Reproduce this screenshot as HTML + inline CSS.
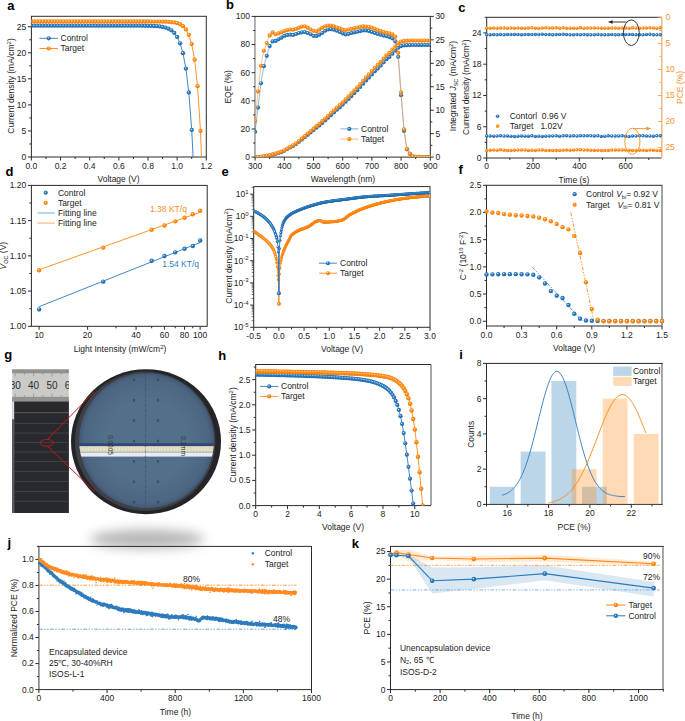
<!DOCTYPE html>
<html><head><meta charset="utf-8"><style>
html,body{margin:0;padding:0;background:#fff;width:685px;height:721px;overflow:hidden}
svg{display:block;font-family:"Liberation Sans", sans-serif}
</style></head><body>
<svg width="685" height="721" viewBox="0 0 685 721">
<rect width="685" height="721" fill="#fff"/>
<defs>
<radialGradient id="gb" cx="0.42" cy="0.4" r="0.62" fx="0.4" fy="0.36"><stop offset="0" stop-color="#f4f8ff"/><stop offset="0.14" stop-color="#9cc4e8"/><stop offset="0.38" stop-color="#2b7cc1"/><stop offset="1" stop-color="#1f66a8"/></radialGradient>
<radialGradient id="go" cx="0.42" cy="0.4" r="0.62" fx="0.4" fy="0.36"><stop offset="0" stop-color="#fff4ea"/><stop offset="0.14" stop-color="#ffc68e"/><stop offset="0.38" stop-color="#ff8a14"/><stop offset="1" stop-color="#f77d00"/></radialGradient>
<filter id="blur6" x="-50%" y="-80%" width="200%" height="260%"><feGaussianBlur stdDeviation="6"/></filter>
<filter id="noise" x="0" y="0" width="100%" height="100%" color-interpolation-filters="sRGB"><feTurbulence type="fractalNoise" baseFrequency="0.9" numOctaves="2" seed="3"/><feColorMatrix type="matrix" values="0 0 0 0 0.33  0 0 0 0 0.45  0 0 0 0 0.54  0 0 0 0.6 0"/><feComposite in2="SourceGraphic" operator="in"/></filter>
</defs>
<text x="7.2" y="9.8" font-size="13.0" text-anchor="start" fill="#000" font-weight="bold">a</text>
<rect x="31.4" y="16.3" width="174.9" height="140.7" fill="none" stroke="#2b2b2b" stroke-width="1"/>
<line x1="31.4" y1="157" x2="31.4" y2="160.5" stroke="#2b2b2b" stroke-width="1"/>
<text x="31.4" y="168.9" font-size="8.5" text-anchor="middle" fill="#222" font-weight="normal">0.0</text>
<line x1="60.55" y1="157" x2="60.55" y2="160.5" stroke="#2b2b2b" stroke-width="1"/>
<text x="60.55" y="168.9" font-size="8.5" text-anchor="middle" fill="#222" font-weight="normal">0.2</text>
<line x1="89.7" y1="157" x2="89.7" y2="160.5" stroke="#2b2b2b" stroke-width="1"/>
<text x="89.7" y="168.9" font-size="8.5" text-anchor="middle" fill="#222" font-weight="normal">0.4</text>
<line x1="118.85" y1="157" x2="118.85" y2="160.5" stroke="#2b2b2b" stroke-width="1"/>
<text x="118.85" y="168.9" font-size="8.5" text-anchor="middle" fill="#222" font-weight="normal">0.6</text>
<line x1="148" y1="157" x2="148" y2="160.5" stroke="#2b2b2b" stroke-width="1"/>
<text x="148" y="168.9" font-size="8.5" text-anchor="middle" fill="#222" font-weight="normal">0.8</text>
<line x1="177.15" y1="157" x2="177.15" y2="160.5" stroke="#2b2b2b" stroke-width="1"/>
<text x="177.15" y="168.9" font-size="8.5" text-anchor="middle" fill="#222" font-weight="normal">1.0</text>
<line x1="206.3" y1="157" x2="206.3" y2="160.5" stroke="#2b2b2b" stroke-width="1"/>
<text x="206.3" y="168.9" font-size="8.5" text-anchor="middle" fill="#222" font-weight="normal">1.2</text>
<line x1="45.98" y1="157" x2="45.98" y2="159" stroke="#2b2b2b" stroke-width="1"/>
<line x1="75.12" y1="157" x2="75.12" y2="159" stroke="#2b2b2b" stroke-width="1"/>
<line x1="104.28" y1="157" x2="104.28" y2="159" stroke="#2b2b2b" stroke-width="1"/>
<line x1="133.43" y1="157" x2="133.43" y2="159" stroke="#2b2b2b" stroke-width="1"/>
<line x1="162.58" y1="157" x2="162.58" y2="159" stroke="#2b2b2b" stroke-width="1"/>
<line x1="191.73" y1="157" x2="191.73" y2="159" stroke="#2b2b2b" stroke-width="1"/>
<line x1="31.4" y1="157" x2="27.9" y2="157" stroke="#2b2b2b" stroke-width="1"/>
<text x="26.3" y="159.9" font-size="8.5" text-anchor="end" fill="#222" font-weight="normal">0</text>
<line x1="31.4" y1="130.94" x2="27.9" y2="130.94" stroke="#2b2b2b" stroke-width="1"/>
<text x="26.3" y="133.84" font-size="8.5" text-anchor="end" fill="#222" font-weight="normal">5</text>
<line x1="31.4" y1="104.89" x2="27.9" y2="104.89" stroke="#2b2b2b" stroke-width="1"/>
<text x="26.3" y="107.79" font-size="8.5" text-anchor="end" fill="#222" font-weight="normal">10</text>
<line x1="31.4" y1="78.83" x2="27.9" y2="78.83" stroke="#2b2b2b" stroke-width="1"/>
<text x="26.3" y="81.73" font-size="8.5" text-anchor="end" fill="#222" font-weight="normal">15</text>
<line x1="31.4" y1="52.78" x2="27.9" y2="52.78" stroke="#2b2b2b" stroke-width="1"/>
<text x="26.3" y="55.68" font-size="8.5" text-anchor="end" fill="#222" font-weight="normal">20</text>
<line x1="31.4" y1="26.72" x2="27.9" y2="26.72" stroke="#2b2b2b" stroke-width="1"/>
<text x="26.3" y="29.62" font-size="8.5" text-anchor="end" fill="#222" font-weight="normal">25</text>
<line x1="31.4" y1="143.97" x2="29.4" y2="143.97" stroke="#2b2b2b" stroke-width="1"/>
<line x1="31.4" y1="117.92" x2="29.4" y2="117.92" stroke="#2b2b2b" stroke-width="1"/>
<line x1="31.4" y1="91.86" x2="29.4" y2="91.86" stroke="#2b2b2b" stroke-width="1"/>
<line x1="31.4" y1="65.81" x2="29.4" y2="65.81" stroke="#2b2b2b" stroke-width="1"/>
<line x1="31.4" y1="39.75" x2="29.4" y2="39.75" stroke="#2b2b2b" stroke-width="1"/>
<text x="118.5" y="181.8" font-size="8.5" text-anchor="middle" fill="#222" font-weight="normal">Voltage (V)</text>
<text x="14.3" y="86" font-size="8.5" text-anchor="middle" fill="#222" font-weight="normal" transform="rotate(-90 14.3 86)">Current density (mA/cm<tspan dy="-3.4" font-size="6">2</tspan><tspan dy="3.4">)</tspan></text>
<clipPath id="ca"><rect x="31.4" y="16.3" width="174.9" height="140.7"/></clipPath>
<g clip-path="url(#ca)">
<polyline points="31.4,25.68 34.31,25.68 37.23,25.68 40.14,25.68 43.06,25.68 45.98,25.68 48.89,25.68 51.81,25.68 54.72,25.68 57.63,25.68 60.55,25.68 63.47,25.68 66.38,25.68 69.3,25.68 72.21,25.68 75.12,25.68 78.04,25.68 80.96,25.68 83.87,25.68 86.79,25.68 89.7,25.68 92.61,25.68 95.53,25.68 98.44,25.68 101.36,25.68 104.28,25.68 107.19,25.68 110.11,25.68 113.02,25.68 115.94,25.68 118.85,25.68 121.77,25.68 124.68,25.68 127.59,25.69 130.51,25.69 133.43,25.69 136.34,25.7 139.25,25.71 142.17,25.73 145.09,25.77 148,25.81 150.92,25.89 153.83,26 156.75,26.18 159.66,26.46 162.58,26.9 165.49,27.59 168.41,28.66 171.32,30.32 174.24,32.92 177.15,36.97 180.07,43.29 182.98,53.15 185.9,68.53 188.81,92.51 191.73,129.9 194.64,188.23 197.56,279.19 200.47,421.06 203.38,642.33 206.3,987.42" fill="none" stroke="#2a7abf" stroke-width="0.9" stroke-linejoin="round"/>
<circle cx="31.4" cy="25.68" r="2.15" fill="url(#gb)"/>
<circle cx="34.31" cy="25.68" r="2.15" fill="url(#gb)"/>
<circle cx="37.23" cy="25.68" r="2.15" fill="url(#gb)"/>
<circle cx="40.14" cy="25.68" r="2.15" fill="url(#gb)"/>
<circle cx="43.06" cy="25.68" r="2.15" fill="url(#gb)"/>
<circle cx="45.98" cy="25.68" r="2.15" fill="url(#gb)"/>
<circle cx="48.89" cy="25.68" r="2.15" fill="url(#gb)"/>
<circle cx="51.81" cy="25.68" r="2.15" fill="url(#gb)"/>
<circle cx="54.72" cy="25.68" r="2.15" fill="url(#gb)"/>
<circle cx="57.63" cy="25.68" r="2.15" fill="url(#gb)"/>
<circle cx="60.55" cy="25.68" r="2.15" fill="url(#gb)"/>
<circle cx="63.47" cy="25.68" r="2.15" fill="url(#gb)"/>
<circle cx="66.38" cy="25.68" r="2.15" fill="url(#gb)"/>
<circle cx="69.3" cy="25.68" r="2.15" fill="url(#gb)"/>
<circle cx="72.21" cy="25.68" r="2.15" fill="url(#gb)"/>
<circle cx="75.12" cy="25.68" r="2.15" fill="url(#gb)"/>
<circle cx="78.04" cy="25.68" r="2.15" fill="url(#gb)"/>
<circle cx="80.96" cy="25.68" r="2.15" fill="url(#gb)"/>
<circle cx="83.87" cy="25.68" r="2.15" fill="url(#gb)"/>
<circle cx="86.79" cy="25.68" r="2.15" fill="url(#gb)"/>
<circle cx="89.7" cy="25.68" r="2.15" fill="url(#gb)"/>
<circle cx="92.61" cy="25.68" r="2.15" fill="url(#gb)"/>
<circle cx="95.53" cy="25.68" r="2.15" fill="url(#gb)"/>
<circle cx="98.44" cy="25.68" r="2.15" fill="url(#gb)"/>
<circle cx="101.36" cy="25.68" r="2.15" fill="url(#gb)"/>
<circle cx="104.28" cy="25.68" r="2.15" fill="url(#gb)"/>
<circle cx="107.19" cy="25.68" r="2.15" fill="url(#gb)"/>
<circle cx="110.11" cy="25.68" r="2.15" fill="url(#gb)"/>
<circle cx="113.02" cy="25.68" r="2.15" fill="url(#gb)"/>
<circle cx="115.94" cy="25.68" r="2.15" fill="url(#gb)"/>
<circle cx="118.85" cy="25.68" r="2.15" fill="url(#gb)"/>
<circle cx="121.77" cy="25.68" r="2.15" fill="url(#gb)"/>
<circle cx="124.68" cy="25.68" r="2.15" fill="url(#gb)"/>
<circle cx="127.59" cy="25.69" r="2.15" fill="url(#gb)"/>
<circle cx="130.51" cy="25.69" r="2.15" fill="url(#gb)"/>
<circle cx="133.43" cy="25.69" r="2.15" fill="url(#gb)"/>
<circle cx="136.34" cy="25.7" r="2.15" fill="url(#gb)"/>
<circle cx="139.25" cy="25.71" r="2.15" fill="url(#gb)"/>
<circle cx="142.17" cy="25.73" r="2.15" fill="url(#gb)"/>
<circle cx="145.09" cy="25.77" r="2.15" fill="url(#gb)"/>
<circle cx="148" cy="25.81" r="2.15" fill="url(#gb)"/>
<circle cx="150.92" cy="25.89" r="2.15" fill="url(#gb)"/>
<circle cx="153.83" cy="26" r="2.15" fill="url(#gb)"/>
<circle cx="156.75" cy="26.18" r="2.15" fill="url(#gb)"/>
<circle cx="159.66" cy="26.46" r="2.15" fill="url(#gb)"/>
<circle cx="162.58" cy="26.9" r="2.15" fill="url(#gb)"/>
<circle cx="165.49" cy="27.59" r="2.15" fill="url(#gb)"/>
<circle cx="168.41" cy="28.66" r="2.15" fill="url(#gb)"/>
<circle cx="171.32" cy="30.32" r="2.15" fill="url(#gb)"/>
<circle cx="174.24" cy="32.92" r="2.15" fill="url(#gb)"/>
<circle cx="177.15" cy="36.97" r="2.15" fill="url(#gb)"/>
<circle cx="180.07" cy="43.29" r="2.15" fill="url(#gb)"/>
<circle cx="182.98" cy="53.15" r="2.15" fill="url(#gb)"/>
<circle cx="185.9" cy="68.53" r="2.15" fill="url(#gb)"/>
<circle cx="188.81" cy="92.51" r="2.15" fill="url(#gb)"/>
<circle cx="191.73" cy="129.9" r="2.15" fill="url(#gb)"/>
</g>
<g clip-path="url(#ca)">
<polyline points="31.4,21.51 34.31,21.51 37.23,21.51 40.14,21.51 43.06,21.51 45.98,21.51 48.89,21.51 51.81,21.51 54.72,21.51 57.63,21.51 60.55,21.51 63.47,21.51 66.38,21.51 69.3,21.51 72.21,21.51 75.12,21.51 78.04,21.51 80.96,21.51 83.87,21.51 86.79,21.51 89.7,21.51 92.61,21.51 95.53,21.51 98.44,21.51 101.36,21.51 104.28,21.51 107.19,21.51 110.11,21.51 113.02,21.51 115.94,21.51 118.85,21.51 121.77,21.51 124.68,21.51 127.59,21.51 130.51,21.51 133.43,21.51 136.34,21.51 139.25,21.51 142.17,21.51 145.09,21.52 148,21.52 150.92,21.53 153.83,21.54 156.75,21.55 159.66,21.58 162.58,21.63 165.49,21.71 168.41,21.85 171.32,22.08 174.24,22.47 177.15,23.13 180.07,24.26 182.98,26.16 185.9,29.39 188.81,34.84 191.73,44.08 194.64,59.71 197.56,86.16 200.47,130.94 203.38,206.75 206.3,335.06" fill="none" stroke="#ff8412" stroke-width="0.9" stroke-linejoin="round"/>
<circle cx="31.4" cy="21.51" r="2.15" fill="url(#go)"/>
<circle cx="34.31" cy="21.51" r="2.15" fill="url(#go)"/>
<circle cx="37.23" cy="21.51" r="2.15" fill="url(#go)"/>
<circle cx="40.14" cy="21.51" r="2.15" fill="url(#go)"/>
<circle cx="43.06" cy="21.51" r="2.15" fill="url(#go)"/>
<circle cx="45.98" cy="21.51" r="2.15" fill="url(#go)"/>
<circle cx="48.89" cy="21.51" r="2.15" fill="url(#go)"/>
<circle cx="51.81" cy="21.51" r="2.15" fill="url(#go)"/>
<circle cx="54.72" cy="21.51" r="2.15" fill="url(#go)"/>
<circle cx="57.63" cy="21.51" r="2.15" fill="url(#go)"/>
<circle cx="60.55" cy="21.51" r="2.15" fill="url(#go)"/>
<circle cx="63.47" cy="21.51" r="2.15" fill="url(#go)"/>
<circle cx="66.38" cy="21.51" r="2.15" fill="url(#go)"/>
<circle cx="69.3" cy="21.51" r="2.15" fill="url(#go)"/>
<circle cx="72.21" cy="21.51" r="2.15" fill="url(#go)"/>
<circle cx="75.12" cy="21.51" r="2.15" fill="url(#go)"/>
<circle cx="78.04" cy="21.51" r="2.15" fill="url(#go)"/>
<circle cx="80.96" cy="21.51" r="2.15" fill="url(#go)"/>
<circle cx="83.87" cy="21.51" r="2.15" fill="url(#go)"/>
<circle cx="86.79" cy="21.51" r="2.15" fill="url(#go)"/>
<circle cx="89.7" cy="21.51" r="2.15" fill="url(#go)"/>
<circle cx="92.61" cy="21.51" r="2.15" fill="url(#go)"/>
<circle cx="95.53" cy="21.51" r="2.15" fill="url(#go)"/>
<circle cx="98.44" cy="21.51" r="2.15" fill="url(#go)"/>
<circle cx="101.36" cy="21.51" r="2.15" fill="url(#go)"/>
<circle cx="104.28" cy="21.51" r="2.15" fill="url(#go)"/>
<circle cx="107.19" cy="21.51" r="2.15" fill="url(#go)"/>
<circle cx="110.11" cy="21.51" r="2.15" fill="url(#go)"/>
<circle cx="113.02" cy="21.51" r="2.15" fill="url(#go)"/>
<circle cx="115.94" cy="21.51" r="2.15" fill="url(#go)"/>
<circle cx="118.85" cy="21.51" r="2.15" fill="url(#go)"/>
<circle cx="121.77" cy="21.51" r="2.15" fill="url(#go)"/>
<circle cx="124.68" cy="21.51" r="2.15" fill="url(#go)"/>
<circle cx="127.59" cy="21.51" r="2.15" fill="url(#go)"/>
<circle cx="130.51" cy="21.51" r="2.15" fill="url(#go)"/>
<circle cx="133.43" cy="21.51" r="2.15" fill="url(#go)"/>
<circle cx="136.34" cy="21.51" r="2.15" fill="url(#go)"/>
<circle cx="139.25" cy="21.51" r="2.15" fill="url(#go)"/>
<circle cx="142.17" cy="21.51" r="2.15" fill="url(#go)"/>
<circle cx="145.09" cy="21.52" r="2.15" fill="url(#go)"/>
<circle cx="148" cy="21.52" r="2.15" fill="url(#go)"/>
<circle cx="150.92" cy="21.53" r="2.15" fill="url(#go)"/>
<circle cx="153.83" cy="21.54" r="2.15" fill="url(#go)"/>
<circle cx="156.75" cy="21.55" r="2.15" fill="url(#go)"/>
<circle cx="159.66" cy="21.58" r="2.15" fill="url(#go)"/>
<circle cx="162.58" cy="21.63" r="2.15" fill="url(#go)"/>
<circle cx="165.49" cy="21.71" r="2.15" fill="url(#go)"/>
<circle cx="168.41" cy="21.85" r="2.15" fill="url(#go)"/>
<circle cx="171.32" cy="22.08" r="2.15" fill="url(#go)"/>
<circle cx="174.24" cy="22.47" r="2.15" fill="url(#go)"/>
<circle cx="177.15" cy="23.13" r="2.15" fill="url(#go)"/>
<circle cx="180.07" cy="24.26" r="2.15" fill="url(#go)"/>
<circle cx="182.98" cy="26.16" r="2.15" fill="url(#go)"/>
<circle cx="185.9" cy="29.39" r="2.15" fill="url(#go)"/>
<circle cx="188.81" cy="34.84" r="2.15" fill="url(#go)"/>
<circle cx="191.73" cy="44.08" r="2.15" fill="url(#go)"/>
<circle cx="194.64" cy="59.71" r="2.15" fill="url(#go)"/>
<circle cx="197.56" cy="86.16" r="2.15" fill="url(#go)"/>
<circle cx="200.47" cy="130.94" r="2.15" fill="url(#go)"/>
</g>
<line x1="39.5" y1="38.3" x2="58" y2="38.3" stroke="#2a7abf" stroke-width="0.9"/>
<circle cx="48.7" cy="38.3" r="2.1" fill="url(#gb)"/>
<text x="60.5" y="41.2" font-size="8.5" text-anchor="start" fill="#222" font-weight="normal">Control</text>
<line x1="39.5" y1="48.5" x2="58" y2="48.5" stroke="#ff8412" stroke-width="0.9"/>
<circle cx="48.7" cy="48.5" r="2.1" fill="url(#go)"/>
<text x="60.5" y="51.4" font-size="8.5" text-anchor="start" fill="#222" font-weight="normal">Target</text>
<text x="226" y="8.9" font-size="13.0" text-anchor="start" fill="#000" font-weight="bold">b</text>
<rect x="255.1" y="16.4" width="175.2" height="140.7" fill="none" stroke="#2b2b2b" stroke-width="1"/>
<line x1="255.1" y1="17" x2="255.1" y2="156.5" stroke="#ffffff" stroke-width="1.2"/>
<line x1="254.9" y1="16.9" x2="254.9" y2="156.6" stroke="#aaaaaa" stroke-width="1.7"/>
<line x1="255.1" y1="157.1" x2="255.1" y2="160.6" stroke="#2b2b2b" stroke-width="1"/>
<text x="255.1" y="169" font-size="8.5" text-anchor="middle" fill="#222" font-weight="normal">300</text>
<line x1="284.3" y1="157.1" x2="284.3" y2="160.6" stroke="#2b2b2b" stroke-width="1"/>
<text x="284.3" y="169" font-size="8.5" text-anchor="middle" fill="#222" font-weight="normal">400</text>
<line x1="313.5" y1="157.1" x2="313.5" y2="160.6" stroke="#2b2b2b" stroke-width="1"/>
<text x="313.5" y="169" font-size="8.5" text-anchor="middle" fill="#222" font-weight="normal">500</text>
<line x1="342.7" y1="157.1" x2="342.7" y2="160.6" stroke="#2b2b2b" stroke-width="1"/>
<text x="342.7" y="169" font-size="8.5" text-anchor="middle" fill="#222" font-weight="normal">600</text>
<line x1="371.9" y1="157.1" x2="371.9" y2="160.6" stroke="#2b2b2b" stroke-width="1"/>
<text x="371.9" y="169" font-size="8.5" text-anchor="middle" fill="#222" font-weight="normal">700</text>
<line x1="401.1" y1="157.1" x2="401.1" y2="160.6" stroke="#2b2b2b" stroke-width="1"/>
<text x="401.1" y="169" font-size="8.5" text-anchor="middle" fill="#222" font-weight="normal">800</text>
<line x1="430.3" y1="157.1" x2="430.3" y2="160.6" stroke="#2b2b2b" stroke-width="1"/>
<text x="430.3" y="169" font-size="8.5" text-anchor="middle" fill="#222" font-weight="normal">900</text>
<line x1="269.7" y1="157.1" x2="269.7" y2="159.1" stroke="#2b2b2b" stroke-width="1"/>
<line x1="298.9" y1="157.1" x2="298.9" y2="159.1" stroke="#2b2b2b" stroke-width="1"/>
<line x1="328.1" y1="157.1" x2="328.1" y2="159.1" stroke="#2b2b2b" stroke-width="1"/>
<line x1="357.3" y1="157.1" x2="357.3" y2="159.1" stroke="#2b2b2b" stroke-width="1"/>
<line x1="386.5" y1="157.1" x2="386.5" y2="159.1" stroke="#2b2b2b" stroke-width="1"/>
<line x1="415.7" y1="157.1" x2="415.7" y2="159.1" stroke="#2b2b2b" stroke-width="1"/>
<line x1="255.1" y1="157.1" x2="251.6" y2="157.1" stroke="#2b2b2b" stroke-width="1"/>
<text x="250" y="160" font-size="8.5" text-anchor="end" fill="#222" font-weight="normal">0</text>
<line x1="255.1" y1="128.96" x2="251.6" y2="128.96" stroke="#2b2b2b" stroke-width="1"/>
<text x="250" y="131.86" font-size="8.5" text-anchor="end" fill="#222" font-weight="normal">20</text>
<line x1="255.1" y1="100.82" x2="251.6" y2="100.82" stroke="#2b2b2b" stroke-width="1"/>
<text x="250" y="103.72" font-size="8.5" text-anchor="end" fill="#222" font-weight="normal">40</text>
<line x1="255.1" y1="72.68" x2="251.6" y2="72.68" stroke="#2b2b2b" stroke-width="1"/>
<text x="250" y="75.58" font-size="8.5" text-anchor="end" fill="#222" font-weight="normal">60</text>
<line x1="255.1" y1="44.54" x2="251.6" y2="44.54" stroke="#2b2b2b" stroke-width="1"/>
<text x="250" y="47.44" font-size="8.5" text-anchor="end" fill="#222" font-weight="normal">80</text>
<line x1="255.1" y1="16.4" x2="251.6" y2="16.4" stroke="#2b2b2b" stroke-width="1"/>
<text x="250" y="19.3" font-size="8.5" text-anchor="end" fill="#222" font-weight="normal">100</text>
<line x1="255.1" y1="143.03" x2="253.1" y2="143.03" stroke="#2b2b2b" stroke-width="1"/>
<line x1="255.1" y1="114.89" x2="253.1" y2="114.89" stroke="#2b2b2b" stroke-width="1"/>
<line x1="255.1" y1="86.75" x2="253.1" y2="86.75" stroke="#2b2b2b" stroke-width="1"/>
<line x1="255.1" y1="58.61" x2="253.1" y2="58.61" stroke="#2b2b2b" stroke-width="1"/>
<line x1="255.1" y1="30.47" x2="253.1" y2="30.47" stroke="#2b2b2b" stroke-width="1"/>
<line x1="430.3" y1="157.1" x2="433.8" y2="157.1" stroke="#2b2b2b" stroke-width="1"/>
<text x="435.4" y="160" font-size="8.5" text-anchor="start" fill="#222" font-weight="normal">0</text>
<line x1="430.3" y1="133.65" x2="433.8" y2="133.65" stroke="#2b2b2b" stroke-width="1"/>
<text x="435.4" y="136.55" font-size="8.5" text-anchor="start" fill="#222" font-weight="normal">5</text>
<line x1="430.3" y1="110.2" x2="433.8" y2="110.2" stroke="#2b2b2b" stroke-width="1"/>
<text x="435.4" y="113.1" font-size="8.5" text-anchor="start" fill="#222" font-weight="normal">10</text>
<line x1="430.3" y1="86.75" x2="433.8" y2="86.75" stroke="#2b2b2b" stroke-width="1"/>
<text x="435.4" y="89.65" font-size="8.5" text-anchor="start" fill="#222" font-weight="normal">15</text>
<line x1="430.3" y1="63.3" x2="433.8" y2="63.3" stroke="#2b2b2b" stroke-width="1"/>
<text x="435.4" y="66.2" font-size="8.5" text-anchor="start" fill="#222" font-weight="normal">20</text>
<line x1="430.3" y1="39.85" x2="433.8" y2="39.85" stroke="#2b2b2b" stroke-width="1"/>
<text x="435.4" y="42.75" font-size="8.5" text-anchor="start" fill="#222" font-weight="normal">25</text>
<line x1="430.3" y1="16.4" x2="433.8" y2="16.4" stroke="#2b2b2b" stroke-width="1"/>
<text x="435.4" y="19.3" font-size="8.5" text-anchor="start" fill="#222" font-weight="normal">30</text>
<line x1="430.3" y1="145.38" x2="432.3" y2="145.38" stroke="#2b2b2b" stroke-width="1"/>
<line x1="430.3" y1="121.92" x2="432.3" y2="121.92" stroke="#2b2b2b" stroke-width="1"/>
<line x1="430.3" y1="98.47" x2="432.3" y2="98.47" stroke="#2b2b2b" stroke-width="1"/>
<line x1="430.3" y1="75.02" x2="432.3" y2="75.02" stroke="#2b2b2b" stroke-width="1"/>
<line x1="430.3" y1="51.58" x2="432.3" y2="51.58" stroke="#2b2b2b" stroke-width="1"/>
<line x1="430.3" y1="28.12" x2="432.3" y2="28.12" stroke="#2b2b2b" stroke-width="1"/>
<text x="343" y="181.8" font-size="8.5" text-anchor="middle" fill="#222" font-weight="normal">Wavelength (nm)</text>
<text x="231.2" y="86.8" font-size="8.5" text-anchor="middle" fill="#222" font-weight="normal" transform="rotate(-90 231.2 86.8)">EQE (%)</text>
<text x="456" y="86" font-size="8.5" text-anchor="middle" fill="#222" font-weight="normal" transform="rotate(-90 456 86)">Integrated <tspan font-style="italic">J</tspan><tspan font-size="5.5" dy="1.5">SC</tspan><tspan dy="-1.5"> (mA/cm</tspan><tspan dy="-3.4" font-size="6">2</tspan><tspan dy="3.4">)</tspan></text>
<clipPath id="cb"><rect x="255.1" y="16.4" width="175.2" height="140.7"/></clipPath>
<g clip-path="url(#cb)">
<polyline points="255.1,131.77 258.02,107.57 260.94,83.23 263.86,66.21 266.78,55.8 269.7,46.09 272.62,41.3 275.54,40.88 278.46,39.33 281.38,37.65 284.3,35.96 287.22,34.97 290.14,34.69 293.06,34.97 295.98,33.99 298.9,33 301.82,32.3 304.74,32.02 307.66,33 310.58,34.27 313.5,35.82 316.42,35.96 319.34,34.69 322.26,33 325.18,30.75 328.1,29.49 331.02,29.2 333.94,29.77 336.86,30.75 339.78,32.02 342.7,33.42 345.62,34.41 348.54,33.85 351.46,33 354.38,32.3 357.3,31.74 360.22,31.03 363.14,30.47 366.06,30.47 368.98,31.03 371.9,32.02 374.82,33 377.74,33.99 380.66,34.69 383.58,35.54 386.5,36.24 389.42,37.08 392.34,38.35 395.26,41.3 398.18,56.78 401.1,95.19 404.02,130.93 406.94,149.36 409.86,153.86 412.78,156.4 415.7,156.82 418.62,156.96 421.54,157.03 424.46,157.1 427.38,157.1 430.3,157.1" fill="none" stroke="#3d8fd1" stroke-width="0.6" stroke-linejoin="round"/>
<polyline points="255.1,157.1 258.02,157.06 260.94,156.88 263.86,156.44 266.78,155.93 269.7,155.34 272.62,154.66 275.54,153.84 278.46,153.02 281.38,152.14 284.3,150.77 287.22,149.12 290.14,147.45 293.06,145.95 295.98,144.1 298.9,141.87 301.82,139.55 304.74,137.24 307.66,134.79 310.58,132.5 313.5,130.11 316.42,127.71 319.34,125.42 322.26,122.88 325.18,120.33 328.1,117.69 331.02,115.08 333.94,112.44 336.86,109.75 339.78,107.31 342.7,104.55 345.62,101.74 348.54,98.89 351.46,96.07 354.38,93.1 357.3,90.13 360.22,87 363.14,83.74 366.06,80.45 368.98,77.54 371.9,74.46 374.82,71.28 377.74,68.53 380.66,65.6 383.58,62.37 386.5,59.13 389.42,56.9 392.34,53.77 395.26,50.57 398.18,47.78 401.1,46.07 404.02,45.34 406.94,45.13 409.86,45.04 412.78,45.02 415.7,45.01 418.62,45.01 421.54,45.01 424.46,45.01 427.38,45.01 430.3,45.01" fill="none" stroke="#3d8fd1" stroke-width="0.6" stroke-linejoin="round"/>
<circle cx="255.1" cy="131.77" r="2.1" fill="url(#gb)"/>
<circle cx="258.02" cy="107.57" r="2.1" fill="url(#gb)"/>
<circle cx="260.94" cy="83.23" r="2.1" fill="url(#gb)"/>
<circle cx="263.86" cy="66.21" r="2.1" fill="url(#gb)"/>
<circle cx="266.78" cy="55.8" r="2.1" fill="url(#gb)"/>
<circle cx="269.7" cy="46.09" r="2.1" fill="url(#gb)"/>
<circle cx="272.62" cy="41.3" r="2.1" fill="url(#gb)"/>
<circle cx="275.54" cy="40.88" r="2.1" fill="url(#gb)"/>
<circle cx="278.46" cy="39.33" r="2.1" fill="url(#gb)"/>
<circle cx="281.38" cy="37.65" r="2.1" fill="url(#gb)"/>
<circle cx="284.3" cy="35.96" r="2.1" fill="url(#gb)"/>
<circle cx="287.22" cy="34.97" r="2.1" fill="url(#gb)"/>
<circle cx="290.14" cy="34.69" r="2.1" fill="url(#gb)"/>
<circle cx="293.06" cy="34.97" r="2.1" fill="url(#gb)"/>
<circle cx="295.98" cy="33.99" r="2.1" fill="url(#gb)"/>
<circle cx="298.9" cy="33" r="2.1" fill="url(#gb)"/>
<circle cx="301.82" cy="32.3" r="2.1" fill="url(#gb)"/>
<circle cx="304.74" cy="32.02" r="2.1" fill="url(#gb)"/>
<circle cx="307.66" cy="33" r="2.1" fill="url(#gb)"/>
<circle cx="310.58" cy="34.27" r="2.1" fill="url(#gb)"/>
<circle cx="313.5" cy="35.82" r="2.1" fill="url(#gb)"/>
<circle cx="316.42" cy="35.96" r="2.1" fill="url(#gb)"/>
<circle cx="319.34" cy="34.69" r="2.1" fill="url(#gb)"/>
<circle cx="322.26" cy="33" r="2.1" fill="url(#gb)"/>
<circle cx="325.18" cy="30.75" r="2.1" fill="url(#gb)"/>
<circle cx="328.1" cy="29.49" r="2.1" fill="url(#gb)"/>
<circle cx="331.02" cy="29.2" r="2.1" fill="url(#gb)"/>
<circle cx="333.94" cy="29.77" r="2.1" fill="url(#gb)"/>
<circle cx="336.86" cy="30.75" r="2.1" fill="url(#gb)"/>
<circle cx="339.78" cy="32.02" r="2.1" fill="url(#gb)"/>
<circle cx="342.7" cy="33.42" r="2.1" fill="url(#gb)"/>
<circle cx="345.62" cy="34.41" r="2.1" fill="url(#gb)"/>
<circle cx="348.54" cy="33.85" r="2.1" fill="url(#gb)"/>
<circle cx="351.46" cy="33" r="2.1" fill="url(#gb)"/>
<circle cx="354.38" cy="32.3" r="2.1" fill="url(#gb)"/>
<circle cx="357.3" cy="31.74" r="2.1" fill="url(#gb)"/>
<circle cx="360.22" cy="31.03" r="2.1" fill="url(#gb)"/>
<circle cx="363.14" cy="30.47" r="2.1" fill="url(#gb)"/>
<circle cx="366.06" cy="30.47" r="2.1" fill="url(#gb)"/>
<circle cx="368.98" cy="31.03" r="2.1" fill="url(#gb)"/>
<circle cx="371.9" cy="32.02" r="2.1" fill="url(#gb)"/>
<circle cx="374.82" cy="33" r="2.1" fill="url(#gb)"/>
<circle cx="377.74" cy="33.99" r="2.1" fill="url(#gb)"/>
<circle cx="380.66" cy="34.69" r="2.1" fill="url(#gb)"/>
<circle cx="383.58" cy="35.54" r="2.1" fill="url(#gb)"/>
<circle cx="386.5" cy="36.24" r="2.1" fill="url(#gb)"/>
<circle cx="389.42" cy="37.08" r="2.1" fill="url(#gb)"/>
<circle cx="392.34" cy="38.35" r="2.1" fill="url(#gb)"/>
<circle cx="395.26" cy="41.3" r="2.1" fill="url(#gb)"/>
<circle cx="398.18" cy="56.78" r="2.1" fill="url(#gb)"/>
<circle cx="401.1" cy="95.19" r="2.1" fill="url(#gb)"/>
<circle cx="404.02" cy="130.93" r="2.1" fill="url(#gb)"/>
<circle cx="406.94" cy="149.36" r="2.1" fill="url(#gb)"/>
<circle cx="409.86" cy="153.86" r="2.1" fill="url(#gb)"/>
<circle cx="412.78" cy="156.4" r="2.1" fill="url(#gb)"/>
<circle cx="415.7" cy="156.82" r="2.1" fill="url(#gb)"/>
<circle cx="418.62" cy="156.96" r="2.1" fill="url(#gb)"/>
<circle cx="421.54" cy="157.03" r="2.1" fill="url(#gb)"/>
<circle cx="424.46" cy="157.1" r="2.1" fill="url(#gb)"/>
<circle cx="427.38" cy="157.1" r="2.1" fill="url(#gb)"/>
<circle cx="430.3" cy="157.1" r="2.1" fill="url(#gb)"/>
<circle cx="255.1" cy="157.1" r="2.1" fill="url(#gb)"/>
<circle cx="258.02" cy="157.06" r="2.1" fill="url(#gb)"/>
<circle cx="260.94" cy="156.88" r="2.1" fill="url(#gb)"/>
<circle cx="263.86" cy="156.44" r="2.1" fill="url(#gb)"/>
<circle cx="266.78" cy="155.93" r="2.1" fill="url(#gb)"/>
<circle cx="269.7" cy="155.34" r="2.1" fill="url(#gb)"/>
<circle cx="272.62" cy="154.66" r="2.1" fill="url(#gb)"/>
<circle cx="275.54" cy="153.84" r="2.1" fill="url(#gb)"/>
<circle cx="278.46" cy="153.02" r="2.1" fill="url(#gb)"/>
<circle cx="281.38" cy="152.14" r="2.1" fill="url(#gb)"/>
<circle cx="284.3" cy="150.77" r="2.1" fill="url(#gb)"/>
<circle cx="287.22" cy="149.12" r="2.1" fill="url(#gb)"/>
<circle cx="290.14" cy="147.45" r="2.1" fill="url(#gb)"/>
<circle cx="293.06" cy="145.95" r="2.1" fill="url(#gb)"/>
<circle cx="295.98" cy="144.1" r="2.1" fill="url(#gb)"/>
<circle cx="298.9" cy="141.87" r="2.1" fill="url(#gb)"/>
<circle cx="301.82" cy="139.55" r="2.1" fill="url(#gb)"/>
<circle cx="304.74" cy="137.24" r="2.1" fill="url(#gb)"/>
<circle cx="307.66" cy="134.79" r="2.1" fill="url(#gb)"/>
<circle cx="310.58" cy="132.5" r="2.1" fill="url(#gb)"/>
<circle cx="313.5" cy="130.11" r="2.1" fill="url(#gb)"/>
<circle cx="316.42" cy="127.71" r="2.1" fill="url(#gb)"/>
<circle cx="319.34" cy="125.42" r="2.1" fill="url(#gb)"/>
<circle cx="322.26" cy="122.88" r="2.1" fill="url(#gb)"/>
<circle cx="325.18" cy="120.33" r="2.1" fill="url(#gb)"/>
<circle cx="328.1" cy="117.69" r="2.1" fill="url(#gb)"/>
<circle cx="331.02" cy="115.08" r="2.1" fill="url(#gb)"/>
<circle cx="333.94" cy="112.44" r="2.1" fill="url(#gb)"/>
<circle cx="336.86" cy="109.75" r="2.1" fill="url(#gb)"/>
<circle cx="339.78" cy="107.31" r="2.1" fill="url(#gb)"/>
<circle cx="342.7" cy="104.55" r="2.1" fill="url(#gb)"/>
<circle cx="345.62" cy="101.74" r="2.1" fill="url(#gb)"/>
<circle cx="348.54" cy="98.89" r="2.1" fill="url(#gb)"/>
<circle cx="351.46" cy="96.07" r="2.1" fill="url(#gb)"/>
<circle cx="354.38" cy="93.1" r="2.1" fill="url(#gb)"/>
<circle cx="357.3" cy="90.13" r="2.1" fill="url(#gb)"/>
<circle cx="360.22" cy="87" r="2.1" fill="url(#gb)"/>
<circle cx="363.14" cy="83.74" r="2.1" fill="url(#gb)"/>
<circle cx="366.06" cy="80.45" r="2.1" fill="url(#gb)"/>
<circle cx="368.98" cy="77.54" r="2.1" fill="url(#gb)"/>
<circle cx="371.9" cy="74.46" r="2.1" fill="url(#gb)"/>
<circle cx="374.82" cy="71.28" r="2.1" fill="url(#gb)"/>
<circle cx="377.74" cy="68.53" r="2.1" fill="url(#gb)"/>
<circle cx="380.66" cy="65.6" r="2.1" fill="url(#gb)"/>
<circle cx="383.58" cy="62.37" r="2.1" fill="url(#gb)"/>
<circle cx="386.5" cy="59.13" r="2.1" fill="url(#gb)"/>
<circle cx="389.42" cy="56.9" r="2.1" fill="url(#gb)"/>
<circle cx="392.34" cy="53.77" r="2.1" fill="url(#gb)"/>
<circle cx="395.26" cy="50.57" r="2.1" fill="url(#gb)"/>
<circle cx="398.18" cy="47.78" r="2.1" fill="url(#gb)"/>
<circle cx="401.1" cy="46.07" r="2.1" fill="url(#gb)"/>
<circle cx="404.02" cy="45.34" r="2.1" fill="url(#gb)"/>
<circle cx="406.94" cy="45.13" r="2.1" fill="url(#gb)"/>
<circle cx="409.86" cy="45.04" r="2.1" fill="url(#gb)"/>
<circle cx="412.78" cy="45.02" r="2.1" fill="url(#gb)"/>
<circle cx="415.7" cy="45.01" r="2.1" fill="url(#gb)"/>
<circle cx="418.62" cy="45.01" r="2.1" fill="url(#gb)"/>
<circle cx="421.54" cy="45.01" r="2.1" fill="url(#gb)"/>
<circle cx="424.46" cy="45.01" r="2.1" fill="url(#gb)"/>
<circle cx="427.38" cy="45.01" r="2.1" fill="url(#gb)"/>
<circle cx="430.3" cy="45.01" r="2.1" fill="url(#gb)"/>
<polyline points="255.1,120.94 258.02,91.39 260.94,65.79 263.86,50.73 266.78,42.99 269.7,35.39 272.62,32.44 275.54,34.27 278.46,33.42 281.38,32.3 284.3,31.03 287.22,30.19 290.14,29.49 293.06,29.77 295.98,28.78 298.9,27.66 301.82,26.53 304.74,26.25 307.66,27.66 310.58,29.49 313.5,30.75 316.42,31.45 319.34,29.49 322.26,27.66 325.18,26.25 328.1,25.55 331.02,25.55 333.94,26.39 336.86,27.52 339.78,28.36 342.7,29.63 345.62,30.05 348.54,29.49 351.46,28.78 354.38,28.08 357.3,27.52 360.22,26.81 363.14,26.39 366.06,26.53 368.98,27.09 371.9,27.66 374.82,28.78 377.74,30.05 380.66,31.03 383.58,32.02 386.5,32.72 389.42,33.42 392.34,34.41 395.26,36.66 398.18,52.84 401.1,92.38 404.02,129.24 406.94,148.8 409.86,153.58 412.78,156.26 415.7,156.82 418.62,156.96 421.54,157.03 424.46,157.1 427.38,157.1 430.3,157.1" fill="none" stroke="#ff9a3c" stroke-width="0.6" stroke-linejoin="round"/>
<polyline points="255.1,157.1 258.02,157.05 260.94,156.83 263.86,156.31 266.78,155.73 269.7,155.08 272.62,154.35 275.54,153.48 278.46,152.62 281.38,151.7 284.3,150.27 287.22,148.55 290.14,146.81 293.06,145.24 295.98,143.31 298.9,140.98 301.82,138.54 304.74,136.13 307.66,133.57 310.58,131.18 313.5,128.69 316.42,126.19 319.34,123.81 322.26,121.15 325.18,118.5 328.1,115.78 331.02,113.08 333.94,110.37 336.86,107.61 339.78,105.09 342.7,102.25 345.62,99.33 348.54,96.37 351.46,93.45 354.38,90.38 357.3,87.3 360.22,84.06 363.14,80.69 366.06,77.29 368.98,74.28 371.9,71.09 374.82,67.79 377.74,64.95 380.66,61.93 383.58,58.6 386.5,55.27 389.42,52.96 392.34,49.72 395.26,46.39 398.18,43.48 401.1,41.69 404.02,40.91 406.94,40.68 409.86,40.59 412.78,40.57 415.7,40.56 418.62,40.56 421.54,40.55 424.46,40.55 427.38,40.55 430.3,40.55" fill="none" stroke="#ff9a3c" stroke-width="0.6" stroke-linejoin="round"/>
<circle cx="255.1" cy="120.94" r="2.1" fill="url(#go)"/>
<circle cx="258.02" cy="91.39" r="2.1" fill="url(#go)"/>
<circle cx="260.94" cy="65.79" r="2.1" fill="url(#go)"/>
<circle cx="263.86" cy="50.73" r="2.1" fill="url(#go)"/>
<circle cx="266.78" cy="42.99" r="2.1" fill="url(#go)"/>
<circle cx="269.7" cy="35.39" r="2.1" fill="url(#go)"/>
<circle cx="272.62" cy="32.44" r="2.1" fill="url(#go)"/>
<circle cx="275.54" cy="34.27" r="2.1" fill="url(#go)"/>
<circle cx="278.46" cy="33.42" r="2.1" fill="url(#go)"/>
<circle cx="281.38" cy="32.3" r="2.1" fill="url(#go)"/>
<circle cx="284.3" cy="31.03" r="2.1" fill="url(#go)"/>
<circle cx="287.22" cy="30.19" r="2.1" fill="url(#go)"/>
<circle cx="290.14" cy="29.49" r="2.1" fill="url(#go)"/>
<circle cx="293.06" cy="29.77" r="2.1" fill="url(#go)"/>
<circle cx="295.98" cy="28.78" r="2.1" fill="url(#go)"/>
<circle cx="298.9" cy="27.66" r="2.1" fill="url(#go)"/>
<circle cx="301.82" cy="26.53" r="2.1" fill="url(#go)"/>
<circle cx="304.74" cy="26.25" r="2.1" fill="url(#go)"/>
<circle cx="307.66" cy="27.66" r="2.1" fill="url(#go)"/>
<circle cx="310.58" cy="29.49" r="2.1" fill="url(#go)"/>
<circle cx="313.5" cy="30.75" r="2.1" fill="url(#go)"/>
<circle cx="316.42" cy="31.45" r="2.1" fill="url(#go)"/>
<circle cx="319.34" cy="29.49" r="2.1" fill="url(#go)"/>
<circle cx="322.26" cy="27.66" r="2.1" fill="url(#go)"/>
<circle cx="325.18" cy="26.25" r="2.1" fill="url(#go)"/>
<circle cx="328.1" cy="25.55" r="2.1" fill="url(#go)"/>
<circle cx="331.02" cy="25.55" r="2.1" fill="url(#go)"/>
<circle cx="333.94" cy="26.39" r="2.1" fill="url(#go)"/>
<circle cx="336.86" cy="27.52" r="2.1" fill="url(#go)"/>
<circle cx="339.78" cy="28.36" r="2.1" fill="url(#go)"/>
<circle cx="342.7" cy="29.63" r="2.1" fill="url(#go)"/>
<circle cx="345.62" cy="30.05" r="2.1" fill="url(#go)"/>
<circle cx="348.54" cy="29.49" r="2.1" fill="url(#go)"/>
<circle cx="351.46" cy="28.78" r="2.1" fill="url(#go)"/>
<circle cx="354.38" cy="28.08" r="2.1" fill="url(#go)"/>
<circle cx="357.3" cy="27.52" r="2.1" fill="url(#go)"/>
<circle cx="360.22" cy="26.81" r="2.1" fill="url(#go)"/>
<circle cx="363.14" cy="26.39" r="2.1" fill="url(#go)"/>
<circle cx="366.06" cy="26.53" r="2.1" fill="url(#go)"/>
<circle cx="368.98" cy="27.09" r="2.1" fill="url(#go)"/>
<circle cx="371.9" cy="27.66" r="2.1" fill="url(#go)"/>
<circle cx="374.82" cy="28.78" r="2.1" fill="url(#go)"/>
<circle cx="377.74" cy="30.05" r="2.1" fill="url(#go)"/>
<circle cx="380.66" cy="31.03" r="2.1" fill="url(#go)"/>
<circle cx="383.58" cy="32.02" r="2.1" fill="url(#go)"/>
<circle cx="386.5" cy="32.72" r="2.1" fill="url(#go)"/>
<circle cx="389.42" cy="33.42" r="2.1" fill="url(#go)"/>
<circle cx="392.34" cy="34.41" r="2.1" fill="url(#go)"/>
<circle cx="395.26" cy="36.66" r="2.1" fill="url(#go)"/>
<circle cx="398.18" cy="52.84" r="2.1" fill="url(#go)"/>
<circle cx="401.1" cy="92.38" r="2.1" fill="url(#go)"/>
<circle cx="404.02" cy="129.24" r="2.1" fill="url(#go)"/>
<circle cx="406.94" cy="148.8" r="2.1" fill="url(#go)"/>
<circle cx="409.86" cy="153.58" r="2.1" fill="url(#go)"/>
<circle cx="412.78" cy="156.26" r="2.1" fill="url(#go)"/>
<circle cx="415.7" cy="156.82" r="2.1" fill="url(#go)"/>
<circle cx="418.62" cy="156.96" r="2.1" fill="url(#go)"/>
<circle cx="421.54" cy="157.03" r="2.1" fill="url(#go)"/>
<circle cx="424.46" cy="157.1" r="2.1" fill="url(#go)"/>
<circle cx="427.38" cy="157.1" r="2.1" fill="url(#go)"/>
<circle cx="430.3" cy="157.1" r="2.1" fill="url(#go)"/>
<circle cx="255.1" cy="157.1" r="2.1" fill="url(#go)"/>
<circle cx="258.02" cy="157.05" r="2.1" fill="url(#go)"/>
<circle cx="260.94" cy="156.83" r="2.1" fill="url(#go)"/>
<circle cx="263.86" cy="156.31" r="2.1" fill="url(#go)"/>
<circle cx="266.78" cy="155.73" r="2.1" fill="url(#go)"/>
<circle cx="269.7" cy="155.08" r="2.1" fill="url(#go)"/>
<circle cx="272.62" cy="154.35" r="2.1" fill="url(#go)"/>
<circle cx="275.54" cy="153.48" r="2.1" fill="url(#go)"/>
<circle cx="278.46" cy="152.62" r="2.1" fill="url(#go)"/>
<circle cx="281.38" cy="151.7" r="2.1" fill="url(#go)"/>
<circle cx="284.3" cy="150.27" r="2.1" fill="url(#go)"/>
<circle cx="287.22" cy="148.55" r="2.1" fill="url(#go)"/>
<circle cx="290.14" cy="146.81" r="2.1" fill="url(#go)"/>
<circle cx="293.06" cy="145.24" r="2.1" fill="url(#go)"/>
<circle cx="295.98" cy="143.31" r="2.1" fill="url(#go)"/>
<circle cx="298.9" cy="140.98" r="2.1" fill="url(#go)"/>
<circle cx="301.82" cy="138.54" r="2.1" fill="url(#go)"/>
<circle cx="304.74" cy="136.13" r="2.1" fill="url(#go)"/>
<circle cx="307.66" cy="133.57" r="2.1" fill="url(#go)"/>
<circle cx="310.58" cy="131.18" r="2.1" fill="url(#go)"/>
<circle cx="313.5" cy="128.69" r="2.1" fill="url(#go)"/>
<circle cx="316.42" cy="126.19" r="2.1" fill="url(#go)"/>
<circle cx="319.34" cy="123.81" r="2.1" fill="url(#go)"/>
<circle cx="322.26" cy="121.15" r="2.1" fill="url(#go)"/>
<circle cx="325.18" cy="118.5" r="2.1" fill="url(#go)"/>
<circle cx="328.1" cy="115.78" r="2.1" fill="url(#go)"/>
<circle cx="331.02" cy="113.08" r="2.1" fill="url(#go)"/>
<circle cx="333.94" cy="110.37" r="2.1" fill="url(#go)"/>
<circle cx="336.86" cy="107.61" r="2.1" fill="url(#go)"/>
<circle cx="339.78" cy="105.09" r="2.1" fill="url(#go)"/>
<circle cx="342.7" cy="102.25" r="2.1" fill="url(#go)"/>
<circle cx="345.62" cy="99.33" r="2.1" fill="url(#go)"/>
<circle cx="348.54" cy="96.37" r="2.1" fill="url(#go)"/>
<circle cx="351.46" cy="93.45" r="2.1" fill="url(#go)"/>
<circle cx="354.38" cy="90.38" r="2.1" fill="url(#go)"/>
<circle cx="357.3" cy="87.3" r="2.1" fill="url(#go)"/>
<circle cx="360.22" cy="84.06" r="2.1" fill="url(#go)"/>
<circle cx="363.14" cy="80.69" r="2.1" fill="url(#go)"/>
<circle cx="366.06" cy="77.29" r="2.1" fill="url(#go)"/>
<circle cx="368.98" cy="74.28" r="2.1" fill="url(#go)"/>
<circle cx="371.9" cy="71.09" r="2.1" fill="url(#go)"/>
<circle cx="374.82" cy="67.79" r="2.1" fill="url(#go)"/>
<circle cx="377.74" cy="64.95" r="2.1" fill="url(#go)"/>
<circle cx="380.66" cy="61.93" r="2.1" fill="url(#go)"/>
<circle cx="383.58" cy="58.6" r="2.1" fill="url(#go)"/>
<circle cx="386.5" cy="55.27" r="2.1" fill="url(#go)"/>
<circle cx="389.42" cy="52.96" r="2.1" fill="url(#go)"/>
<circle cx="392.34" cy="49.72" r="2.1" fill="url(#go)"/>
<circle cx="395.26" cy="46.39" r="2.1" fill="url(#go)"/>
<circle cx="398.18" cy="43.48" r="2.1" fill="url(#go)"/>
<circle cx="401.1" cy="41.69" r="2.1" fill="url(#go)"/>
<circle cx="404.02" cy="40.91" r="2.1" fill="url(#go)"/>
<circle cx="406.94" cy="40.68" r="2.1" fill="url(#go)"/>
<circle cx="409.86" cy="40.59" r="2.1" fill="url(#go)"/>
<circle cx="412.78" cy="40.57" r="2.1" fill="url(#go)"/>
<circle cx="415.7" cy="40.56" r="2.1" fill="url(#go)"/>
<circle cx="418.62" cy="40.56" r="2.1" fill="url(#go)"/>
<circle cx="421.54" cy="40.55" r="2.1" fill="url(#go)"/>
<circle cx="424.46" cy="40.55" r="2.1" fill="url(#go)"/>
<circle cx="427.38" cy="40.55" r="2.1" fill="url(#go)"/>
<circle cx="430.3" cy="40.55" r="2.1" fill="url(#go)"/>
</g>
<line x1="340.5" y1="128.9" x2="358.5" y2="128.9" stroke="#3d8fd1" stroke-width="0.7"/>
<circle cx="349.3" cy="128.9" r="2.1" fill="url(#gb)"/>
<text x="361" y="131.8" font-size="8.5" text-anchor="start" fill="#222" font-weight="normal">Control</text>
<line x1="340.5" y1="139.1" x2="358.5" y2="139.1" stroke="#ff9a3c" stroke-width="0.7"/>
<circle cx="349.3" cy="139.1" r="2.1" fill="url(#go)"/>
<text x="361" y="142" font-size="8.5" text-anchor="start" fill="#222" font-weight="normal">Tatget</text>
<text x="458.3" y="11.5" font-size="13.0" text-anchor="start" fill="#000" font-weight="bold">c</text>
<line x1="486.7" y1="17.3" x2="661.5" y2="17.3" stroke="#2b2b2b" stroke-width="1"/>
<line x1="486.7" y1="17.3" x2="486.7" y2="158" stroke="#2b2b2b" stroke-width="1"/>
<line x1="486.7" y1="158" x2="661.5" y2="158" stroke="#2b2b2b" stroke-width="1"/>
<line x1="661.8" y1="17.3" x2="661.8" y2="158" stroke="#ebb98b" stroke-width="1.5"/>
<line x1="486.7" y1="158" x2="486.7" y2="161.5" stroke="#2b2b2b" stroke-width="1"/>
<text x="486.7" y="169" font-size="8.5" text-anchor="middle" fill="#222" font-weight="normal">0</text>
<line x1="533" y1="158" x2="533" y2="161.5" stroke="#2b2b2b" stroke-width="1"/>
<text x="533" y="169" font-size="8.5" text-anchor="middle" fill="#222" font-weight="normal">200</text>
<line x1="579.31" y1="158" x2="579.31" y2="161.5" stroke="#2b2b2b" stroke-width="1"/>
<text x="579.31" y="169" font-size="8.5" text-anchor="middle" fill="#222" font-weight="normal">400</text>
<line x1="625.61" y1="158" x2="625.61" y2="161.5" stroke="#2b2b2b" stroke-width="1"/>
<text x="625.61" y="169" font-size="8.5" text-anchor="middle" fill="#222" font-weight="normal">600</text>
<line x1="509.85" y1="158" x2="509.85" y2="160" stroke="#2b2b2b" stroke-width="1"/>
<line x1="556.16" y1="158" x2="556.16" y2="160" stroke="#2b2b2b" stroke-width="1"/>
<line x1="602.46" y1="158" x2="602.46" y2="160" stroke="#2b2b2b" stroke-width="1"/>
<line x1="648.77" y1="158" x2="648.77" y2="160" stroke="#2b2b2b" stroke-width="1"/>
<line x1="486.7" y1="158" x2="483.2" y2="158" stroke="#2b2b2b" stroke-width="1"/>
<text x="481.6" y="160.9" font-size="8.5" text-anchor="end" fill="#222" font-weight="normal">0</text>
<line x1="486.7" y1="126.73" x2="483.2" y2="126.73" stroke="#2b2b2b" stroke-width="1"/>
<text x="481.6" y="129.63" font-size="8.5" text-anchor="end" fill="#222" font-weight="normal">6</text>
<line x1="486.7" y1="95.47" x2="483.2" y2="95.47" stroke="#2b2b2b" stroke-width="1"/>
<text x="481.6" y="98.37" font-size="8.5" text-anchor="end" fill="#222" font-weight="normal">12</text>
<line x1="486.7" y1="64.2" x2="483.2" y2="64.2" stroke="#2b2b2b" stroke-width="1"/>
<text x="481.6" y="67.1" font-size="8.5" text-anchor="end" fill="#222" font-weight="normal">18</text>
<line x1="486.7" y1="32.93" x2="483.2" y2="32.93" stroke="#2b2b2b" stroke-width="1"/>
<text x="481.6" y="35.83" font-size="8.5" text-anchor="end" fill="#222" font-weight="normal">24</text>
<line x1="486.7" y1="142.37" x2="484.7" y2="142.37" stroke="#2b2b2b" stroke-width="1"/>
<line x1="486.7" y1="111.1" x2="484.7" y2="111.1" stroke="#2b2b2b" stroke-width="1"/>
<line x1="486.7" y1="79.83" x2="484.7" y2="79.83" stroke="#2b2b2b" stroke-width="1"/>
<line x1="486.7" y1="48.57" x2="484.7" y2="48.57" stroke="#2b2b2b" stroke-width="1"/>
<line x1="486.7" y1="17.3" x2="484.7" y2="17.3" stroke="#2b2b2b" stroke-width="1"/>
<line x1="661.5" y1="17.3" x2="658" y2="17.3" stroke="#f3a060" stroke-width="1"/>
<text x="665.4" y="20.2" font-size="8.5" text-anchor="start" fill="#f7902a" font-weight="normal">0</text>
<line x1="661.5" y1="43.36" x2="658" y2="43.36" stroke="#f3a060" stroke-width="1"/>
<text x="665.4" y="46.26" font-size="8.5" text-anchor="start" fill="#f7902a" font-weight="normal">5</text>
<line x1="661.5" y1="69.41" x2="658" y2="69.41" stroke="#f3a060" stroke-width="1"/>
<text x="665.4" y="72.31" font-size="8.5" text-anchor="start" fill="#f7902a" font-weight="normal">10</text>
<line x1="661.5" y1="95.47" x2="658" y2="95.47" stroke="#f3a060" stroke-width="1"/>
<text x="665.4" y="98.37" font-size="8.5" text-anchor="start" fill="#f7902a" font-weight="normal">15</text>
<line x1="661.5" y1="121.52" x2="658" y2="121.52" stroke="#f3a060" stroke-width="1"/>
<text x="665.4" y="124.42" font-size="8.5" text-anchor="start" fill="#f7902a" font-weight="normal">20</text>
<line x1="661.5" y1="147.58" x2="658" y2="147.58" stroke="#f3a060" stroke-width="1"/>
<text x="665.4" y="150.48" font-size="8.5" text-anchor="start" fill="#f7902a" font-weight="normal">25</text>
<line x1="661.5" y1="30.33" x2="659.5" y2="30.33" stroke="#f3a060" stroke-width="1"/>
<line x1="661.5" y1="56.38" x2="659.5" y2="56.38" stroke="#f3a060" stroke-width="1"/>
<line x1="661.5" y1="82.44" x2="659.5" y2="82.44" stroke="#f3a060" stroke-width="1"/>
<line x1="661.5" y1="108.49" x2="659.5" y2="108.49" stroke="#f3a060" stroke-width="1"/>
<line x1="661.5" y1="134.55" x2="659.5" y2="134.55" stroke="#f3a060" stroke-width="1"/>
<text x="574" y="182.5" font-size="8.5" text-anchor="middle" fill="#222" font-weight="normal">Time (s)</text>
<text x="469.2" y="87.2" font-size="8.5" text-anchor="middle" fill="#222" font-weight="normal" transform="rotate(-90 469.2 87.2)">Current density (mA/cm<tspan dy="-3.4" font-size="6">2</tspan><tspan dy="3.4">)</tspan></text>
<text x="683.3" y="87.5" font-size="8.5" text-anchor="middle" fill="#f7902a" font-weight="normal" transform="rotate(-90 683.3 87.5)">PCE (%)</text>
<circle cx="486.7" cy="28.15" r="1.75" fill="url(#go)"/>
<circle cx="490.17" cy="28.25" r="1.75" fill="url(#go)"/>
<circle cx="493.65" cy="27.94" r="1.75" fill="url(#go)"/>
<circle cx="497.12" cy="28.3" r="1.75" fill="url(#go)"/>
<circle cx="500.59" cy="28.01" r="1.75" fill="url(#go)"/>
<circle cx="504.06" cy="28.12" r="1.75" fill="url(#go)"/>
<circle cx="507.54" cy="28.31" r="1.75" fill="url(#go)"/>
<circle cx="511.01" cy="28.03" r="1.75" fill="url(#go)"/>
<circle cx="514.48" cy="28.32" r="1.75" fill="url(#go)"/>
<circle cx="517.96" cy="28.08" r="1.75" fill="url(#go)"/>
<circle cx="521.43" cy="28.3" r="1.75" fill="url(#go)"/>
<circle cx="524.9" cy="28.29" r="1.75" fill="url(#go)"/>
<circle cx="528.37" cy="28.08" r="1.75" fill="url(#go)"/>
<circle cx="531.85" cy="27.83" r="1.75" fill="url(#go)"/>
<circle cx="535.32" cy="28.27" r="1.75" fill="url(#go)"/>
<circle cx="538.79" cy="28.21" r="1.75" fill="url(#go)"/>
<circle cx="542.27" cy="27.96" r="1.75" fill="url(#go)"/>
<circle cx="545.74" cy="27.75" r="1.75" fill="url(#go)"/>
<circle cx="549.21" cy="27.99" r="1.75" fill="url(#go)"/>
<circle cx="552.68" cy="28.1" r="1.75" fill="url(#go)"/>
<circle cx="556.16" cy="27.74" r="1.75" fill="url(#go)"/>
<circle cx="559.63" cy="28.32" r="1.75" fill="url(#go)"/>
<circle cx="563.1" cy="27.81" r="1.75" fill="url(#go)"/>
<circle cx="566.58" cy="28.17" r="1.75" fill="url(#go)"/>
<circle cx="570.05" cy="28.26" r="1.75" fill="url(#go)"/>
<circle cx="573.52" cy="28.27" r="1.75" fill="url(#go)"/>
<circle cx="576.99" cy="28.15" r="1.75" fill="url(#go)"/>
<circle cx="580.47" cy="27.84" r="1.75" fill="url(#go)"/>
<circle cx="583.94" cy="28.23" r="1.75" fill="url(#go)"/>
<circle cx="587.41" cy="27.98" r="1.75" fill="url(#go)"/>
<circle cx="590.89" cy="27.95" r="1.75" fill="url(#go)"/>
<circle cx="594.36" cy="28.11" r="1.75" fill="url(#go)"/>
<circle cx="597.83" cy="28.01" r="1.75" fill="url(#go)"/>
<circle cx="601.3" cy="28.31" r="1.75" fill="url(#go)"/>
<circle cx="604.78" cy="28.31" r="1.75" fill="url(#go)"/>
<circle cx="608.25" cy="28.22" r="1.75" fill="url(#go)"/>
<circle cx="611.72" cy="27.92" r="1.75" fill="url(#go)"/>
<circle cx="615.2" cy="28.08" r="1.75" fill="url(#go)"/>
<circle cx="618.67" cy="28.15" r="1.75" fill="url(#go)"/>
<circle cx="622.14" cy="27.98" r="1.75" fill="url(#go)"/>
<circle cx="625.61" cy="28.06" r="1.75" fill="url(#go)"/>
<circle cx="629.09" cy="28.16" r="1.75" fill="url(#go)"/>
<circle cx="632.56" cy="27.85" r="1.75" fill="url(#go)"/>
<circle cx="636.03" cy="27.91" r="1.75" fill="url(#go)"/>
<circle cx="639.51" cy="28.19" r="1.75" fill="url(#go)"/>
<circle cx="642.98" cy="27.99" r="1.75" fill="url(#go)"/>
<circle cx="646.45" cy="28.02" r="1.75" fill="url(#go)"/>
<circle cx="649.92" cy="27.8" r="1.75" fill="url(#go)"/>
<circle cx="653.4" cy="27.89" r="1.75" fill="url(#go)"/>
<circle cx="656.87" cy="28.17" r="1.75" fill="url(#go)"/>
<circle cx="660.34" cy="27.73" r="1.75" fill="url(#go)"/>
<circle cx="486.7" cy="34.8" r="1.75" fill="url(#gb)"/>
<circle cx="490.17" cy="34.64" r="1.75" fill="url(#gb)"/>
<circle cx="493.65" cy="34.47" r="1.75" fill="url(#gb)"/>
<circle cx="497.12" cy="34.78" r="1.75" fill="url(#gb)"/>
<circle cx="500.59" cy="34.61" r="1.75" fill="url(#gb)"/>
<circle cx="504.06" cy="34.84" r="1.75" fill="url(#gb)"/>
<circle cx="507.54" cy="34.51" r="1.75" fill="url(#gb)"/>
<circle cx="511.01" cy="34.46" r="1.75" fill="url(#gb)"/>
<circle cx="514.48" cy="34.56" r="1.75" fill="url(#gb)"/>
<circle cx="517.96" cy="34.41" r="1.75" fill="url(#gb)"/>
<circle cx="521.43" cy="34.7" r="1.75" fill="url(#gb)"/>
<circle cx="524.9" cy="34.5" r="1.75" fill="url(#gb)"/>
<circle cx="528.37" cy="34.55" r="1.75" fill="url(#gb)"/>
<circle cx="531.85" cy="34.56" r="1.75" fill="url(#gb)"/>
<circle cx="535.32" cy="34.62" r="1.75" fill="url(#gb)"/>
<circle cx="538.79" cy="34.42" r="1.75" fill="url(#gb)"/>
<circle cx="542.27" cy="34.37" r="1.75" fill="url(#gb)"/>
<circle cx="545.74" cy="34.61" r="1.75" fill="url(#gb)"/>
<circle cx="549.21" cy="34.52" r="1.75" fill="url(#gb)"/>
<circle cx="552.68" cy="34.83" r="1.75" fill="url(#gb)"/>
<circle cx="556.16" cy="34.5" r="1.75" fill="url(#gb)"/>
<circle cx="559.63" cy="34.52" r="1.75" fill="url(#gb)"/>
<circle cx="563.1" cy="34.34" r="1.75" fill="url(#gb)"/>
<circle cx="566.58" cy="34.43" r="1.75" fill="url(#gb)"/>
<circle cx="570.05" cy="34.71" r="1.75" fill="url(#gb)"/>
<circle cx="573.52" cy="34.66" r="1.75" fill="url(#gb)"/>
<circle cx="576.99" cy="34.51" r="1.75" fill="url(#gb)"/>
<circle cx="580.47" cy="34.85" r="1.75" fill="url(#gb)"/>
<circle cx="583.94" cy="34.62" r="1.75" fill="url(#gb)"/>
<circle cx="587.41" cy="34.77" r="1.75" fill="url(#gb)"/>
<circle cx="590.89" cy="34.8" r="1.75" fill="url(#gb)"/>
<circle cx="594.36" cy="34.83" r="1.75" fill="url(#gb)"/>
<circle cx="597.83" cy="34.46" r="1.75" fill="url(#gb)"/>
<circle cx="601.3" cy="34.79" r="1.75" fill="url(#gb)"/>
<circle cx="604.78" cy="34.73" r="1.75" fill="url(#gb)"/>
<circle cx="608.25" cy="34.66" r="1.75" fill="url(#gb)"/>
<circle cx="611.72" cy="34.41" r="1.75" fill="url(#gb)"/>
<circle cx="615.2" cy="34.82" r="1.75" fill="url(#gb)"/>
<circle cx="618.67" cy="34.63" r="1.75" fill="url(#gb)"/>
<circle cx="622.14" cy="34.58" r="1.75" fill="url(#gb)"/>
<circle cx="625.61" cy="34.4" r="1.75" fill="url(#gb)"/>
<circle cx="629.09" cy="34.43" r="1.75" fill="url(#gb)"/>
<circle cx="632.56" cy="34.41" r="1.75" fill="url(#gb)"/>
<circle cx="636.03" cy="34.72" r="1.75" fill="url(#gb)"/>
<circle cx="639.51" cy="34.65" r="1.75" fill="url(#gb)"/>
<circle cx="642.98" cy="34.67" r="1.75" fill="url(#gb)"/>
<circle cx="646.45" cy="34.4" r="1.75" fill="url(#gb)"/>
<circle cx="649.92" cy="34.36" r="1.75" fill="url(#gb)"/>
<circle cx="653.4" cy="34.78" r="1.75" fill="url(#gb)"/>
<circle cx="656.87" cy="34.77" r="1.75" fill="url(#gb)"/>
<circle cx="660.34" cy="34.74" r="1.75" fill="url(#gb)"/>
<circle cx="486.7" cy="135.92" r="1.75" fill="url(#gb)"/>
<circle cx="490.17" cy="136.1" r="1.75" fill="url(#gb)"/>
<circle cx="493.65" cy="136.18" r="1.75" fill="url(#gb)"/>
<circle cx="497.12" cy="135.94" r="1.75" fill="url(#gb)"/>
<circle cx="500.59" cy="135.75" r="1.75" fill="url(#gb)"/>
<circle cx="504.06" cy="136.05" r="1.75" fill="url(#gb)"/>
<circle cx="507.54" cy="136.02" r="1.75" fill="url(#gb)"/>
<circle cx="511.01" cy="136.16" r="1.75" fill="url(#gb)"/>
<circle cx="514.48" cy="136.44" r="1.75" fill="url(#gb)"/>
<circle cx="517.96" cy="136.25" r="1.75" fill="url(#gb)"/>
<circle cx="521.43" cy="136.12" r="1.75" fill="url(#gb)"/>
<circle cx="524.9" cy="136.2" r="1.75" fill="url(#gb)"/>
<circle cx="528.37" cy="136.24" r="1.75" fill="url(#gb)"/>
<circle cx="531.85" cy="135.79" r="1.75" fill="url(#gb)"/>
<circle cx="535.32" cy="136.4" r="1.75" fill="url(#gb)"/>
<circle cx="538.79" cy="136.32" r="1.75" fill="url(#gb)"/>
<circle cx="542.27" cy="136.39" r="1.75" fill="url(#gb)"/>
<circle cx="545.74" cy="136.33" r="1.75" fill="url(#gb)"/>
<circle cx="549.21" cy="136.03" r="1.75" fill="url(#gb)"/>
<circle cx="552.68" cy="136.04" r="1.75" fill="url(#gb)"/>
<circle cx="556.16" cy="135.82" r="1.75" fill="url(#gb)"/>
<circle cx="559.63" cy="136.21" r="1.75" fill="url(#gb)"/>
<circle cx="563.1" cy="135.79" r="1.75" fill="url(#gb)"/>
<circle cx="566.58" cy="135.8" r="1.75" fill="url(#gb)"/>
<circle cx="570.05" cy="135.9" r="1.75" fill="url(#gb)"/>
<circle cx="573.52" cy="135.87" r="1.75" fill="url(#gb)"/>
<circle cx="576.99" cy="136" r="1.75" fill="url(#gb)"/>
<circle cx="580.47" cy="135.79" r="1.75" fill="url(#gb)"/>
<circle cx="583.94" cy="135.75" r="1.75" fill="url(#gb)"/>
<circle cx="587.41" cy="135.86" r="1.75" fill="url(#gb)"/>
<circle cx="590.89" cy="135.82" r="1.75" fill="url(#gb)"/>
<circle cx="594.36" cy="136.01" r="1.75" fill="url(#gb)"/>
<circle cx="597.83" cy="135.77" r="1.75" fill="url(#gb)"/>
<circle cx="601.3" cy="136.39" r="1.75" fill="url(#gb)"/>
<circle cx="604.78" cy="136.2" r="1.75" fill="url(#gb)"/>
<circle cx="608.25" cy="135.86" r="1.75" fill="url(#gb)"/>
<circle cx="611.72" cy="135.93" r="1.75" fill="url(#gb)"/>
<circle cx="615.2" cy="136" r="1.75" fill="url(#gb)"/>
<circle cx="618.67" cy="136.01" r="1.75" fill="url(#gb)"/>
<circle cx="622.14" cy="135.84" r="1.75" fill="url(#gb)"/>
<circle cx="625.61" cy="136.37" r="1.75" fill="url(#gb)"/>
<circle cx="629.09" cy="136.47" r="1.75" fill="url(#gb)"/>
<circle cx="632.56" cy="136.09" r="1.75" fill="url(#gb)"/>
<circle cx="636.03" cy="136.1" r="1.75" fill="url(#gb)"/>
<circle cx="639.51" cy="135.81" r="1.75" fill="url(#gb)"/>
<circle cx="642.98" cy="135.82" r="1.75" fill="url(#gb)"/>
<circle cx="646.45" cy="136" r="1.75" fill="url(#gb)"/>
<circle cx="649.92" cy="135.94" r="1.75" fill="url(#gb)"/>
<circle cx="653.4" cy="136.35" r="1.75" fill="url(#gb)"/>
<circle cx="656.87" cy="135.87" r="1.75" fill="url(#gb)"/>
<circle cx="660.34" cy="135.77" r="1.75" fill="url(#gb)"/>
<circle cx="486.7" cy="150.51" r="1.75" fill="url(#go)"/>
<circle cx="490.17" cy="150.2" r="1.75" fill="url(#go)"/>
<circle cx="493.65" cy="149.93" r="1.75" fill="url(#go)"/>
<circle cx="497.12" cy="150.21" r="1.75" fill="url(#go)"/>
<circle cx="500.59" cy="149.84" r="1.75" fill="url(#go)"/>
<circle cx="504.06" cy="150.2" r="1.75" fill="url(#go)"/>
<circle cx="507.54" cy="150.53" r="1.75" fill="url(#go)"/>
<circle cx="511.01" cy="150.45" r="1.75" fill="url(#go)"/>
<circle cx="514.48" cy="150.33" r="1.75" fill="url(#go)"/>
<circle cx="517.96" cy="150.01" r="1.75" fill="url(#go)"/>
<circle cx="521.43" cy="150.09" r="1.75" fill="url(#go)"/>
<circle cx="524.9" cy="149.94" r="1.75" fill="url(#go)"/>
<circle cx="528.37" cy="150.38" r="1.75" fill="url(#go)"/>
<circle cx="531.85" cy="150.21" r="1.75" fill="url(#go)"/>
<circle cx="535.32" cy="150.39" r="1.75" fill="url(#go)"/>
<circle cx="538.79" cy="150.06" r="1.75" fill="url(#go)"/>
<circle cx="542.27" cy="149.98" r="1.75" fill="url(#go)"/>
<circle cx="545.74" cy="150.41" r="1.75" fill="url(#go)"/>
<circle cx="549.21" cy="150.54" r="1.75" fill="url(#go)"/>
<circle cx="552.68" cy="150.44" r="1.75" fill="url(#go)"/>
<circle cx="556.16" cy="150.41" r="1.75" fill="url(#go)"/>
<circle cx="559.63" cy="150.42" r="1.75" fill="url(#go)"/>
<circle cx="563.1" cy="150.36" r="1.75" fill="url(#go)"/>
<circle cx="566.58" cy="149.98" r="1.75" fill="url(#go)"/>
<circle cx="570.05" cy="150.2" r="1.75" fill="url(#go)"/>
<circle cx="573.52" cy="150.08" r="1.75" fill="url(#go)"/>
<circle cx="576.99" cy="149.84" r="1.75" fill="url(#go)"/>
<circle cx="580.47" cy="149.84" r="1.75" fill="url(#go)"/>
<circle cx="583.94" cy="150.02" r="1.75" fill="url(#go)"/>
<circle cx="587.41" cy="150.01" r="1.75" fill="url(#go)"/>
<circle cx="590.89" cy="150.32" r="1.75" fill="url(#go)"/>
<circle cx="594.36" cy="150.52" r="1.75" fill="url(#go)"/>
<circle cx="597.83" cy="150.14" r="1.75" fill="url(#go)"/>
<circle cx="601.3" cy="150.5" r="1.75" fill="url(#go)"/>
<circle cx="604.78" cy="150.54" r="1.75" fill="url(#go)"/>
<circle cx="608.25" cy="150.52" r="1.75" fill="url(#go)"/>
<circle cx="611.72" cy="150.08" r="1.75" fill="url(#go)"/>
<circle cx="615.2" cy="149.98" r="1.75" fill="url(#go)"/>
<circle cx="618.67" cy="149.98" r="1.75" fill="url(#go)"/>
<circle cx="622.14" cy="149.96" r="1.75" fill="url(#go)"/>
<circle cx="625.61" cy="149.97" r="1.75" fill="url(#go)"/>
<circle cx="629.09" cy="150.27" r="1.75" fill="url(#go)"/>
<circle cx="632.56" cy="150.48" r="1.75" fill="url(#go)"/>
<circle cx="636.03" cy="150.43" r="1.75" fill="url(#go)"/>
<circle cx="639.51" cy="150.17" r="1.75" fill="url(#go)"/>
<circle cx="642.98" cy="150.29" r="1.75" fill="url(#go)"/>
<circle cx="646.45" cy="150.4" r="1.75" fill="url(#go)"/>
<circle cx="649.92" cy="149.88" r="1.75" fill="url(#go)"/>
<circle cx="653.4" cy="150.3" r="1.75" fill="url(#go)"/>
<circle cx="656.87" cy="150.48" r="1.75" fill="url(#go)"/>
<circle cx="660.34" cy="150.39" r="1.75" fill="url(#go)"/>
<ellipse cx="631.3" cy="32.7" rx="7.9" ry="12.8" fill="none" stroke="#222" stroke-width="0.9"/>
<line x1="626.5" y1="22" x2="611.5" y2="22" stroke="#222" stroke-width="0.9"/>
<path d="M607.8,22 L612.6,20.2 L612.6,23.8 Z" fill="#222"/>
<ellipse cx="632.4" cy="141.3" rx="7.6" ry="13.1" fill="none" stroke="#f7902a" stroke-width="0.9"/>
<line x1="633" y1="128.6" x2="647.5" y2="128.6" stroke="#f7902a" stroke-width="0.9"/>
<path d="M651.2,128.6 L646.4,126.8 L646.4,130.4 Z" fill="#f7902a"/>
<circle cx="497.6" cy="116.3" r="1.8" fill="url(#gb)"/>
<circle cx="497.6" cy="126.1" r="1.8" fill="url(#go)"/>
<text x="509.7" y="119.2" font-size="8.5" text-anchor="start" fill="#222" font-weight="normal">Contorl&#160;&#160;0.96 V</text>
<text x="509.7" y="129" font-size="8.5" text-anchor="start" fill="#222" font-weight="normal">Target&#160;&#160;&#160;1.02V</text>
<text x="5.5" y="175.6" font-size="13.0" text-anchor="start" fill="#000" font-weight="bold">d</text>
<rect x="31.4" y="185.4" width="175.8" height="140.9" fill="none" stroke="#2b2b2b" stroke-width="1"/>
<line x1="39.12" y1="326.3" x2="39.12" y2="329.8" stroke="#2b2b2b" stroke-width="1"/>
<text x="39.12" y="337.5" font-size="8.5" text-anchor="middle" fill="#222" font-weight="normal">10</text>
<line x1="87.6" y1="326.3" x2="87.6" y2="329.8" stroke="#2b2b2b" stroke-width="1"/>
<text x="87.6" y="337.5" font-size="8.5" text-anchor="middle" fill="#222" font-weight="normal">20</text>
<line x1="136.07" y1="326.3" x2="136.07" y2="329.8" stroke="#2b2b2b" stroke-width="1"/>
<text x="136.07" y="337.5" font-size="8.5" text-anchor="middle" fill="#222" font-weight="normal">40</text>
<line x1="164.43" y1="326.3" x2="164.43" y2="329.8" stroke="#2b2b2b" stroke-width="1"/>
<text x="164.43" y="337.5" font-size="8.5" text-anchor="middle" fill="#222" font-weight="normal">60</text>
<line x1="184.55" y1="326.3" x2="184.55" y2="329.8" stroke="#2b2b2b" stroke-width="1"/>
<text x="184.55" y="337.5" font-size="8.5" text-anchor="middle" fill="#222" font-weight="normal">80</text>
<line x1="200.15" y1="326.3" x2="200.15" y2="329.8" stroke="#2b2b2b" stroke-width="1"/>
<text x="200.15" y="337.5" font-size="8.5" text-anchor="middle" fill="#222" font-weight="normal">100</text>
<line x1="115.95" y1="326.3" x2="115.95" y2="328.3" stroke="#2b2b2b" stroke-width="1"/>
<line x1="151.68" y1="326.3" x2="151.68" y2="328.3" stroke="#2b2b2b" stroke-width="1"/>
<line x1="175.21" y1="326.3" x2="175.21" y2="328.3" stroke="#2b2b2b" stroke-width="1"/>
<line x1="192.79" y1="326.3" x2="192.79" y2="328.3" stroke="#2b2b2b" stroke-width="1"/>
<line x1="31.4" y1="326.3" x2="27.9" y2="326.3" stroke="#2b2b2b" stroke-width="1"/>
<text x="26.3" y="329.2" font-size="8.5" text-anchor="end" fill="#222" font-weight="normal">1.00</text>
<line x1="31.4" y1="291.07" x2="27.9" y2="291.07" stroke="#2b2b2b" stroke-width="1"/>
<text x="26.3" y="293.97" font-size="8.5" text-anchor="end" fill="#222" font-weight="normal">1.05</text>
<line x1="31.4" y1="255.85" x2="27.9" y2="255.85" stroke="#2b2b2b" stroke-width="1"/>
<text x="26.3" y="258.75" font-size="8.5" text-anchor="end" fill="#222" font-weight="normal">1.10</text>
<line x1="31.4" y1="220.63" x2="27.9" y2="220.63" stroke="#2b2b2b" stroke-width="1"/>
<text x="26.3" y="223.53" font-size="8.5" text-anchor="end" fill="#222" font-weight="normal">1.15</text>
<line x1="31.4" y1="185.4" x2="27.9" y2="185.4" stroke="#2b2b2b" stroke-width="1"/>
<text x="26.3" y="188.3" font-size="8.5" text-anchor="end" fill="#222" font-weight="normal">1.20</text>
<line x1="31.4" y1="308.69" x2="29.4" y2="308.69" stroke="#2b2b2b" stroke-width="1"/>
<line x1="31.4" y1="273.46" x2="29.4" y2="273.46" stroke="#2b2b2b" stroke-width="1"/>
<line x1="31.4" y1="238.24" x2="29.4" y2="238.24" stroke="#2b2b2b" stroke-width="1"/>
<line x1="31.4" y1="203.01" x2="29.4" y2="203.01" stroke="#2b2b2b" stroke-width="1"/>
<text x="120" y="352.3" font-size="8.5" text-anchor="middle" fill="#222" font-weight="normal">Light Intensity (mW/cm<tspan dy="-3.4" font-size="6">2</tspan><tspan dy="3.4">)</tspan></text>
<text x="6.3" y="255.6" font-size="8.5" text-anchor="middle" fill="#222" font-weight="normal" transform="rotate(-90 6.3 255.6)"><tspan font-style="italic">V</tspan><tspan font-size="5.5" dy="1.5">OC</tspan><tspan dy="-1.5"> (V)</tspan></text>
<line x1="39.12" y1="306.68" x2="200.15" y2="242.5" stroke="#2a7abf" stroke-width="0.9"/>
<circle cx="39.12" cy="309.39" r="2.2" fill="url(#gb)"/>
<circle cx="103.2" cy="281.63" r="2.2" fill="url(#gb)"/>
<circle cx="151.68" cy="260.78" r="2.2" fill="url(#gb)"/>
<circle cx="164.43" cy="256.06" r="2.2" fill="url(#gb)"/>
<circle cx="175.21" cy="252.33" r="2.2" fill="url(#gb)"/>
<circle cx="184.55" cy="248.8" r="2.2" fill="url(#gb)"/>
<circle cx="192.79" cy="245.99" r="2.2" fill="url(#gb)"/>
<circle cx="200.15" cy="240.49" r="2.2" fill="url(#gb)"/>
<line x1="39.12" y1="269.77" x2="200.15" y2="212.25" stroke="#ff8412" stroke-width="0.9"/>
<circle cx="39.12" cy="270.22" r="2.2" fill="url(#go)"/>
<circle cx="103.2" cy="247.61" r="2.2" fill="url(#go)"/>
<circle cx="151.68" cy="229.78" r="2.2" fill="url(#go)"/>
<circle cx="164.43" cy="225.56" r="2.2" fill="url(#go)"/>
<circle cx="175.21" cy="221.33" r="2.2" fill="url(#go)"/>
<circle cx="184.55" cy="217.81" r="2.2" fill="url(#go)"/>
<circle cx="192.79" cy="214.28" r="2.2" fill="url(#go)"/>
<circle cx="200.15" cy="210.76" r="2.2" fill="url(#go)"/>
<circle cx="45.7" cy="192.7" r="2.1" fill="url(#gb)"/>
<circle cx="45.7" cy="202.8" r="2.1" fill="url(#go)"/>
<text x="57.9" y="195.6" font-size="8.5" text-anchor="start" fill="#222" font-weight="normal">Control</text>
<text x="57.9" y="205.7" font-size="8.5" text-anchor="start" fill="#222" font-weight="normal">Target</text>
<line x1="37.3" y1="213" x2="54.9" y2="213" stroke="#7fb3e0" stroke-width="1.1"/>
<line x1="37.3" y1="223.1" x2="54.9" y2="223.1" stroke="#ffb26b" stroke-width="1.1"/>
<text x="57.9" y="215.9" font-size="8.5" text-anchor="start" fill="#222" font-weight="normal">Fitting line</text>
<text x="57.9" y="226" font-size="8.5" text-anchor="start" fill="#222" font-weight="normal">Fitting line</text>
<text x="150" y="212" font-size="8.5" text-anchor="start" fill="#ff8c1a" font-weight="normal">1.38 KT/q</text>
<text x="162.2" y="267.2" font-size="8.5" text-anchor="start" fill="#2f7fc4" font-weight="normal">1.54 KT/q</text>
<text x="221.6" y="175.6" font-size="13.0" text-anchor="start" fill="#000" font-weight="bold">e</text>
<rect x="253.7" y="186.6" width="176.3" height="140.7" fill="none" stroke="#2b2b2b" stroke-width="1"/>
<line x1="253.7" y1="327.3" x2="253.7" y2="330.8" stroke="#2b2b2b" stroke-width="1"/>
<text x="253.7" y="338.5" font-size="8.5" text-anchor="middle" fill="#222" font-weight="normal">-0.5</text>
<line x1="278.89" y1="327.3" x2="278.89" y2="330.8" stroke="#2b2b2b" stroke-width="1"/>
<text x="278.89" y="338.5" font-size="8.5" text-anchor="middle" fill="#222" font-weight="normal">0.0</text>
<line x1="304.07" y1="327.3" x2="304.07" y2="330.8" stroke="#2b2b2b" stroke-width="1"/>
<text x="304.07" y="338.5" font-size="8.5" text-anchor="middle" fill="#222" font-weight="normal">0.5</text>
<line x1="329.26" y1="327.3" x2="329.26" y2="330.8" stroke="#2b2b2b" stroke-width="1"/>
<text x="329.26" y="338.5" font-size="8.5" text-anchor="middle" fill="#222" font-weight="normal">1.0</text>
<line x1="354.44" y1="327.3" x2="354.44" y2="330.8" stroke="#2b2b2b" stroke-width="1"/>
<text x="354.44" y="338.5" font-size="8.5" text-anchor="middle" fill="#222" font-weight="normal">1.5</text>
<line x1="379.63" y1="327.3" x2="379.63" y2="330.8" stroke="#2b2b2b" stroke-width="1"/>
<text x="379.63" y="338.5" font-size="8.5" text-anchor="middle" fill="#222" font-weight="normal">2.0</text>
<line x1="404.81" y1="327.3" x2="404.81" y2="330.8" stroke="#2b2b2b" stroke-width="1"/>
<text x="404.81" y="338.5" font-size="8.5" text-anchor="middle" fill="#222" font-weight="normal">2.5</text>
<line x1="430" y1="327.3" x2="430" y2="330.8" stroke="#2b2b2b" stroke-width="1"/>
<text x="430" y="338.5" font-size="8.5" text-anchor="middle" fill="#222" font-weight="normal">3.0</text>
<line x1="266.29" y1="327.3" x2="266.29" y2="329.3" stroke="#2b2b2b" stroke-width="1"/>
<line x1="291.48" y1="327.3" x2="291.48" y2="329.3" stroke="#2b2b2b" stroke-width="1"/>
<line x1="316.66" y1="327.3" x2="316.66" y2="329.3" stroke="#2b2b2b" stroke-width="1"/>
<line x1="341.85" y1="327.3" x2="341.85" y2="329.3" stroke="#2b2b2b" stroke-width="1"/>
<line x1="367.04" y1="327.3" x2="367.04" y2="329.3" stroke="#2b2b2b" stroke-width="1"/>
<line x1="392.22" y1="327.3" x2="392.22" y2="329.3" stroke="#2b2b2b" stroke-width="1"/>
<line x1="417.41" y1="327.3" x2="417.41" y2="329.3" stroke="#2b2b2b" stroke-width="1"/>
<line x1="253.7" y1="327.3" x2="250.2" y2="327.3" stroke="#2b2b2b" stroke-width="1"/>
<text x="248.6" y="330.2" font-size="8.5" text-anchor="end" fill="#222" font-weight="normal">10<tspan dy="-3.4" font-size="6">-5</tspan></text>
<line x1="253.7" y1="305.11" x2="250.2" y2="305.11" stroke="#2b2b2b" stroke-width="1"/>
<text x="248.6" y="308.01" font-size="8.5" text-anchor="end" fill="#222" font-weight="normal">10<tspan dy="-3.4" font-size="6">-4</tspan></text>
<line x1="253.7" y1="282.92" x2="250.2" y2="282.92" stroke="#2b2b2b" stroke-width="1"/>
<text x="248.6" y="285.82" font-size="8.5" text-anchor="end" fill="#222" font-weight="normal">10<tspan dy="-3.4" font-size="6">-3</tspan></text>
<line x1="253.7" y1="260.72" x2="250.2" y2="260.72" stroke="#2b2b2b" stroke-width="1"/>
<text x="248.6" y="263.62" font-size="8.5" text-anchor="end" fill="#222" font-weight="normal">10<tspan dy="-3.4" font-size="6">-2</tspan></text>
<line x1="253.7" y1="238.53" x2="250.2" y2="238.53" stroke="#2b2b2b" stroke-width="1"/>
<text x="248.6" y="241.43" font-size="8.5" text-anchor="end" fill="#222" font-weight="normal">10<tspan dy="-3.4" font-size="6">-1</tspan></text>
<line x1="253.7" y1="216.34" x2="250.2" y2="216.34" stroke="#2b2b2b" stroke-width="1"/>
<text x="248.6" y="219.24" font-size="8.5" text-anchor="end" fill="#222" font-weight="normal">10<tspan dy="-3.4" font-size="6">0</tspan></text>
<line x1="253.7" y1="194.15" x2="250.2" y2="194.15" stroke="#2b2b2b" stroke-width="1"/>
<text x="248.6" y="197.05" font-size="8.5" text-anchor="end" fill="#222" font-weight="normal">10<tspan dy="-3.4" font-size="6">1</tspan></text>
<line x1="253.7" y1="320.62" x2="251.7" y2="320.62" stroke="#2b2b2b" stroke-width="0.7"/>
<line x1="253.7" y1="316.71" x2="251.7" y2="316.71" stroke="#2b2b2b" stroke-width="0.7"/>
<line x1="253.7" y1="313.94" x2="251.7" y2="313.94" stroke="#2b2b2b" stroke-width="0.7"/>
<line x1="253.7" y1="311.79" x2="251.7" y2="311.79" stroke="#2b2b2b" stroke-width="0.7"/>
<line x1="253.7" y1="310.03" x2="251.7" y2="310.03" stroke="#2b2b2b" stroke-width="0.7"/>
<line x1="253.7" y1="308.55" x2="251.7" y2="308.55" stroke="#2b2b2b" stroke-width="0.7"/>
<line x1="253.7" y1="307.26" x2="251.7" y2="307.26" stroke="#2b2b2b" stroke-width="0.7"/>
<line x1="253.7" y1="306.12" x2="251.7" y2="306.12" stroke="#2b2b2b" stroke-width="0.7"/>
<line x1="253.7" y1="298.43" x2="251.7" y2="298.43" stroke="#2b2b2b" stroke-width="0.7"/>
<line x1="253.7" y1="294.52" x2="251.7" y2="294.52" stroke="#2b2b2b" stroke-width="0.7"/>
<line x1="253.7" y1="291.75" x2="251.7" y2="291.75" stroke="#2b2b2b" stroke-width="0.7"/>
<line x1="253.7" y1="289.6" x2="251.7" y2="289.6" stroke="#2b2b2b" stroke-width="0.7"/>
<line x1="253.7" y1="287.84" x2="251.7" y2="287.84" stroke="#2b2b2b" stroke-width="0.7"/>
<line x1="253.7" y1="286.35" x2="251.7" y2="286.35" stroke="#2b2b2b" stroke-width="0.7"/>
<line x1="253.7" y1="285.07" x2="251.7" y2="285.07" stroke="#2b2b2b" stroke-width="0.7"/>
<line x1="253.7" y1="283.93" x2="251.7" y2="283.93" stroke="#2b2b2b" stroke-width="0.7"/>
<line x1="253.7" y1="276.23" x2="251.7" y2="276.23" stroke="#2b2b2b" stroke-width="0.7"/>
<line x1="253.7" y1="272.33" x2="251.7" y2="272.33" stroke="#2b2b2b" stroke-width="0.7"/>
<line x1="253.7" y1="269.55" x2="251.7" y2="269.55" stroke="#2b2b2b" stroke-width="0.7"/>
<line x1="253.7" y1="267.4" x2="251.7" y2="267.4" stroke="#2b2b2b" stroke-width="0.7"/>
<line x1="253.7" y1="265.65" x2="251.7" y2="265.65" stroke="#2b2b2b" stroke-width="0.7"/>
<line x1="253.7" y1="264.16" x2="251.7" y2="264.16" stroke="#2b2b2b" stroke-width="0.7"/>
<line x1="253.7" y1="262.87" x2="251.7" y2="262.87" stroke="#2b2b2b" stroke-width="0.7"/>
<line x1="253.7" y1="261.74" x2="251.7" y2="261.74" stroke="#2b2b2b" stroke-width="0.7"/>
<line x1="253.7" y1="254.04" x2="251.7" y2="254.04" stroke="#2b2b2b" stroke-width="0.7"/>
<line x1="253.7" y1="250.13" x2="251.7" y2="250.13" stroke="#2b2b2b" stroke-width="0.7"/>
<line x1="253.7" y1="247.36" x2="251.7" y2="247.36" stroke="#2b2b2b" stroke-width="0.7"/>
<line x1="253.7" y1="245.21" x2="251.7" y2="245.21" stroke="#2b2b2b" stroke-width="0.7"/>
<line x1="253.7" y1="243.45" x2="251.7" y2="243.45" stroke="#2b2b2b" stroke-width="0.7"/>
<line x1="253.7" y1="241.97" x2="251.7" y2="241.97" stroke="#2b2b2b" stroke-width="0.7"/>
<line x1="253.7" y1="240.68" x2="251.7" y2="240.68" stroke="#2b2b2b" stroke-width="0.7"/>
<line x1="253.7" y1="239.55" x2="251.7" y2="239.55" stroke="#2b2b2b" stroke-width="0.7"/>
<line x1="253.7" y1="231.85" x2="251.7" y2="231.85" stroke="#2b2b2b" stroke-width="0.7"/>
<line x1="253.7" y1="227.94" x2="251.7" y2="227.94" stroke="#2b2b2b" stroke-width="0.7"/>
<line x1="253.7" y1="225.17" x2="251.7" y2="225.17" stroke="#2b2b2b" stroke-width="0.7"/>
<line x1="253.7" y1="223.02" x2="251.7" y2="223.02" stroke="#2b2b2b" stroke-width="0.7"/>
<line x1="253.7" y1="221.26" x2="251.7" y2="221.26" stroke="#2b2b2b" stroke-width="0.7"/>
<line x1="253.7" y1="219.78" x2="251.7" y2="219.78" stroke="#2b2b2b" stroke-width="0.7"/>
<line x1="253.7" y1="218.49" x2="251.7" y2="218.49" stroke="#2b2b2b" stroke-width="0.7"/>
<line x1="253.7" y1="217.35" x2="251.7" y2="217.35" stroke="#2b2b2b" stroke-width="0.7"/>
<line x1="253.7" y1="209.66" x2="251.7" y2="209.66" stroke="#2b2b2b" stroke-width="0.7"/>
<line x1="253.7" y1="205.75" x2="251.7" y2="205.75" stroke="#2b2b2b" stroke-width="0.7"/>
<line x1="253.7" y1="202.98" x2="251.7" y2="202.98" stroke="#2b2b2b" stroke-width="0.7"/>
<line x1="253.7" y1="200.83" x2="251.7" y2="200.83" stroke="#2b2b2b" stroke-width="0.7"/>
<line x1="253.7" y1="199.07" x2="251.7" y2="199.07" stroke="#2b2b2b" stroke-width="0.7"/>
<line x1="253.7" y1="197.58" x2="251.7" y2="197.58" stroke="#2b2b2b" stroke-width="0.7"/>
<line x1="253.7" y1="196.3" x2="251.7" y2="196.3" stroke="#2b2b2b" stroke-width="0.7"/>
<line x1="253.7" y1="195.16" x2="251.7" y2="195.16" stroke="#2b2b2b" stroke-width="0.7"/>
<line x1="253.7" y1="187.46" x2="251.7" y2="187.46" stroke="#2b2b2b" stroke-width="0.7"/>
<text x="342" y="351.8" font-size="8.5" text-anchor="middle" fill="#222" font-weight="normal">Voltage (V)</text>
<text x="231.8" y="256" font-size="8.5" text-anchor="middle" fill="#222" font-weight="normal" transform="rotate(-90 231.8 256)">Current density (mA/cm<tspan dy="-3.4" font-size="6">2</tspan><tspan dy="3.4">)</tspan></text>
<clipPath id="ce"><rect x="253.7" y="186.6" width="176.3" height="140.7"/></clipPath>
<g clip-path="url(#ce)">
<polyline points="253.7,231.21 254.2,231.52 254.71,231.84 255.21,232.18 255.71,232.52 256.22,232.87 256.72,233.22 257.23,233.59 257.73,233.95 258.23,234.32 258.74,234.69 259.24,235.06 259.74,235.42 260.25,235.78 260.75,236.15 261.26,236.51 261.76,236.87 262.26,237.24 262.77,237.61 263.27,237.99 263.77,238.38 264.28,238.78 264.78,239.2 265.29,239.62 265.79,240.06 266.29,240.52 266.8,240.98 267.3,241.46 267.8,241.96 268.31,242.48 268.81,243.01 269.32,243.57 269.82,244.15 270.32,244.74 270.83,245.35 271.33,245.99 271.83,246.67 272.34,247.43 272.84,248.29 273.34,249.29 273.85,250.44 274.35,251.75 274.86,253.25 275.36,254.95 275.86,256.91 276.37,259.29 276.87,262.35 277.37,266.71 277.88,274.93 278.38,279.59 278.89,303.78 279.39,274.04 279.89,267.89 280.4,262.94 280.9,260.13 281.4,257.89 281.91,256.06 282.41,254.47 282.92,252.96 283.42,251.5 283.92,250.15 284.43,248.91 284.93,247.74 285.43,246.64 285.94,245.57 286.44,244.52 286.95,243.52 287.45,242.58 287.95,241.69 288.46,240.8 288.96,239.91 289.46,238.97 289.97,237.91 290.47,236.76 290.97,235.72 291.48,234.98 291.98,234.54 292.49,234.2 292.99,233.87 293.49,233.51 294,233.16 294.5,232.8 295,232.45 295.51,232.11 296.01,231.78 296.52,231.47 297.02,231.17 297.52,230.91 298.03,230.66 298.53,230.42 299.03,230.2 299.54,229.98 300.04,229.78 300.55,229.58 301.05,229.39 301.55,229.2 302.06,229.02 302.56,228.84 303.06,228.66 303.57,228.49 304.07,228.31 304.58,228.13 305.08,227.94 305.58,227.75 306.09,227.55 306.59,227.35 307.09,227.13 307.6,226.91 308.1,226.67 308.6,226.42 309.11,226.13 309.61,225.81 310.12,225.47 310.62,225.11 311.12,224.73 311.63,224.34 312.13,223.95 312.63,223.56 313.14,223.18 313.64,222.81 314.15,222.45 314.65,222.12 315.15,221.82 315.66,221.55 316.16,221.32 316.66,221.13 317.17,221 317.67,220.89 318.18,220.79 318.68,220.69 319.18,220.62 319.69,220.57 320.19,220.55 320.69,220.64 321.2,220.86 321.7,221.17 322.21,221.5 322.71,221.8 323.21,222.02 323.72,222.11 324.22,222.11 324.72,222.1 325.23,222.09 325.73,222.08 326.23,222.06 326.74,222.04 327.24,222.02 327.75,222 328.25,221.97 328.75,221.94 329.26,221.91 329.76,221.87 330.26,221.84 330.77,221.8 331.27,221.76 331.78,221.72 332.28,221.67 332.78,221.63 333.29,221.58 333.79,221.54 334.29,221.49 334.8,221.44 335.3,221.39 335.81,221.33 336.31,221.26 336.81,221.19 337.32,221.11 337.82,221.02 338.32,220.93 338.83,220.82 339.33,220.71 339.84,220.59 340.34,220.47 340.84,220.33 341.35,220.19 341.85,220.05 342.35,219.89 342.86,219.7 343.36,219.45 343.86,219.16 344.37,218.83 344.87,218.46 345.38,218.07 345.88,217.66 346.38,217.24 346.89,216.82 347.39,216.39 347.89,215.98 348.4,215.58 348.9,215.21 349.41,214.87 349.91,214.56 350.41,214.28 350.92,214.01 351.42,213.73 351.92,213.47 352.43,213.2 352.93,212.94 353.44,212.68 353.94,212.43 354.44,212.18 354.95,211.93 355.45,211.69 355.95,211.45 356.46,211.21 356.96,210.97 357.47,210.74 357.97,210.52 358.47,210.29 358.98,210.07 359.48,209.86 359.98,209.64 360.49,209.43 360.99,209.22 361.49,209.02 362,208.82 362.5,208.62 363.01,208.42 363.51,208.23 364.01,208.04 364.52,207.86 365.02,207.67 365.52,207.49 366.03,207.31 366.53,207.14 367.04,206.97 367.54,206.8 368.04,206.63 368.55,206.46 369.05,206.3 369.55,206.13 370.06,205.97 370.56,205.81 371.07,205.65 371.57,205.5 372.07,205.34 372.58,205.19 373.08,205.04 373.58,204.89 374.09,204.74 374.59,204.59 375.1,204.45 375.6,204.31 376.1,204.16 376.61,204.02 377.11,203.89 377.61,203.75 378.12,203.61 378.62,203.48 379.12,203.35 379.63,203.22 380.13,203.09 380.64,202.96 381.14,202.83 381.64,202.71 382.15,202.59 382.65,202.46 383.15,202.34 383.66,202.23 384.16,202.11 384.67,201.99 385.17,201.88 385.67,201.77 386.18,201.66 386.68,201.55 387.18,201.44 387.69,201.33 388.19,201.23 388.7,201.13 389.2,201.03 389.7,200.92 390.21,200.82 390.71,200.73 391.21,200.63 391.72,200.53 392.22,200.43 392.73,200.34 393.23,200.24 393.73,200.15 394.24,200.06 394.74,199.96 395.24,199.87 395.75,199.78 396.25,199.69 396.75,199.6 397.26,199.51 397.76,199.43 398.27,199.34 398.77,199.26 399.27,199.17 399.78,199.09 400.28,199.01 400.78,198.93 401.29,198.85 401.79,198.77 402.3,198.69 402.8,198.61 403.3,198.53 403.81,198.46 404.31,198.39 404.81,198.31 405.32,198.24 405.82,198.17 406.33,198.1 406.83,198.03 407.33,197.97 407.84,197.9 408.34,197.84 408.84,197.77 409.35,197.71 409.85,197.65 410.36,197.59 410.86,197.53 411.36,197.47 411.87,197.42 412.37,197.36 412.87,197.31 413.38,197.26 413.88,197.21 414.38,197.16 414.89,197.11 415.39,197.06 415.9,197.01 416.4,196.97 416.9,196.92 417.41,196.88 417.91,196.83 418.41,196.79 418.92,196.75 419.42,196.71 419.93,196.66 420.43,196.62 420.93,196.58 421.44,196.54 421.94,196.5 422.44,196.46 422.95,196.42 423.45,196.38 423.96,196.34 424.46,196.3 424.96,196.26 425.47,196.22 425.97,196.18 426.47,196.14 426.98,196.09 427.48,196.05 427.99,196.01 428.49,195.96 428.99,195.92 429.5,195.88 430,195.83" fill="none" stroke="#ff8412" stroke-width="0.9" stroke-linejoin="round"/>
<circle cx="253.7" cy="231.21" r="1.55" fill="url(#go)"/>
<circle cx="254.2" cy="231.52" r="1.55" fill="url(#go)"/>
<circle cx="254.71" cy="231.84" r="1.55" fill="url(#go)"/>
<circle cx="255.21" cy="232.18" r="1.55" fill="url(#go)"/>
<circle cx="255.71" cy="232.52" r="1.55" fill="url(#go)"/>
<circle cx="256.22" cy="232.87" r="1.55" fill="url(#go)"/>
<circle cx="256.72" cy="233.22" r="1.55" fill="url(#go)"/>
<circle cx="257.23" cy="233.59" r="1.55" fill="url(#go)"/>
<circle cx="257.73" cy="233.95" r="1.55" fill="url(#go)"/>
<circle cx="258.23" cy="234.32" r="1.55" fill="url(#go)"/>
<circle cx="258.74" cy="234.69" r="1.55" fill="url(#go)"/>
<circle cx="259.24" cy="235.06" r="1.55" fill="url(#go)"/>
<circle cx="259.74" cy="235.42" r="1.55" fill="url(#go)"/>
<circle cx="260.25" cy="235.78" r="1.55" fill="url(#go)"/>
<circle cx="260.75" cy="236.15" r="1.55" fill="url(#go)"/>
<circle cx="261.26" cy="236.51" r="1.55" fill="url(#go)"/>
<circle cx="261.76" cy="236.87" r="1.55" fill="url(#go)"/>
<circle cx="262.26" cy="237.24" r="1.55" fill="url(#go)"/>
<circle cx="262.77" cy="237.61" r="1.55" fill="url(#go)"/>
<circle cx="263.27" cy="237.99" r="1.55" fill="url(#go)"/>
<circle cx="263.77" cy="238.38" r="1.55" fill="url(#go)"/>
<circle cx="264.28" cy="238.78" r="1.55" fill="url(#go)"/>
<circle cx="264.78" cy="239.2" r="1.55" fill="url(#go)"/>
<circle cx="265.29" cy="239.62" r="1.55" fill="url(#go)"/>
<circle cx="265.79" cy="240.06" r="1.55" fill="url(#go)"/>
<circle cx="266.29" cy="240.52" r="1.55" fill="url(#go)"/>
<circle cx="266.8" cy="240.98" r="1.55" fill="url(#go)"/>
<circle cx="267.3" cy="241.46" r="1.55" fill="url(#go)"/>
<circle cx="267.8" cy="241.96" r="1.55" fill="url(#go)"/>
<circle cx="268.31" cy="242.48" r="1.55" fill="url(#go)"/>
<circle cx="268.81" cy="243.01" r="1.55" fill="url(#go)"/>
<circle cx="269.32" cy="243.57" r="1.55" fill="url(#go)"/>
<circle cx="269.82" cy="244.15" r="1.55" fill="url(#go)"/>
<circle cx="270.32" cy="244.74" r="1.55" fill="url(#go)"/>
<circle cx="270.83" cy="245.35" r="1.55" fill="url(#go)"/>
<circle cx="271.33" cy="245.99" r="1.55" fill="url(#go)"/>
<circle cx="271.83" cy="246.67" r="1.55" fill="url(#go)"/>
<circle cx="272.34" cy="247.43" r="1.55" fill="url(#go)"/>
<circle cx="272.84" cy="248.29" r="1.55" fill="url(#go)"/>
<circle cx="273.34" cy="249.29" r="1.55" fill="url(#go)"/>
<circle cx="273.85" cy="250.44" r="1.55" fill="url(#go)"/>
<circle cx="274.35" cy="251.75" r="1.55" fill="url(#go)"/>
<circle cx="274.86" cy="253.25" r="1.55" fill="url(#go)"/>
<circle cx="275.36" cy="254.95" r="1.55" fill="url(#go)"/>
<circle cx="275.86" cy="256.91" r="1.55" fill="url(#go)"/>
<circle cx="276.37" cy="259.29" r="1.55" fill="url(#go)"/>
<circle cx="276.87" cy="262.35" r="1.55" fill="url(#go)"/>
<circle cx="277.37" cy="266.71" r="1.55" fill="url(#go)"/>
<circle cx="277.88" cy="274.93" r="1.55" fill="url(#go)"/>
<circle cx="278.38" cy="279.59" r="1.55" fill="url(#go)"/>
<circle cx="278.89" cy="303.78" r="1.55" fill="url(#go)"/>
<circle cx="279.39" cy="274.04" r="1.55" fill="url(#go)"/>
<circle cx="279.89" cy="267.89" r="1.55" fill="url(#go)"/>
<circle cx="280.4" cy="262.94" r="1.55" fill="url(#go)"/>
<circle cx="280.9" cy="260.13" r="1.55" fill="url(#go)"/>
<circle cx="281.4" cy="257.89" r="1.55" fill="url(#go)"/>
<circle cx="281.91" cy="256.06" r="1.55" fill="url(#go)"/>
<circle cx="282.41" cy="254.47" r="1.55" fill="url(#go)"/>
<circle cx="282.92" cy="252.96" r="1.55" fill="url(#go)"/>
<circle cx="283.42" cy="251.5" r="1.55" fill="url(#go)"/>
<circle cx="283.92" cy="250.15" r="1.55" fill="url(#go)"/>
<circle cx="284.43" cy="248.91" r="1.55" fill="url(#go)"/>
<circle cx="284.93" cy="247.74" r="1.55" fill="url(#go)"/>
<circle cx="285.43" cy="246.64" r="1.55" fill="url(#go)"/>
<circle cx="285.94" cy="245.57" r="1.55" fill="url(#go)"/>
<circle cx="286.44" cy="244.52" r="1.55" fill="url(#go)"/>
<circle cx="286.95" cy="243.52" r="1.55" fill="url(#go)"/>
<circle cx="287.45" cy="242.58" r="1.55" fill="url(#go)"/>
<circle cx="287.95" cy="241.69" r="1.55" fill="url(#go)"/>
<circle cx="288.46" cy="240.8" r="1.55" fill="url(#go)"/>
<circle cx="288.96" cy="239.91" r="1.55" fill="url(#go)"/>
<circle cx="289.46" cy="238.97" r="1.55" fill="url(#go)"/>
<circle cx="289.97" cy="237.91" r="1.55" fill="url(#go)"/>
<circle cx="290.47" cy="236.76" r="1.55" fill="url(#go)"/>
<circle cx="290.97" cy="235.72" r="1.55" fill="url(#go)"/>
<circle cx="291.48" cy="234.98" r="1.55" fill="url(#go)"/>
<circle cx="291.98" cy="234.54" r="1.55" fill="url(#go)"/>
<circle cx="292.49" cy="234.2" r="1.55" fill="url(#go)"/>
<circle cx="292.99" cy="233.87" r="1.55" fill="url(#go)"/>
<circle cx="293.49" cy="233.51" r="1.55" fill="url(#go)"/>
<circle cx="294" cy="233.16" r="1.55" fill="url(#go)"/>
<circle cx="294.5" cy="232.8" r="1.55" fill="url(#go)"/>
<circle cx="295" cy="232.45" r="1.55" fill="url(#go)"/>
<circle cx="295.51" cy="232.11" r="1.55" fill="url(#go)"/>
<circle cx="296.01" cy="231.78" r="1.55" fill="url(#go)"/>
<circle cx="296.52" cy="231.47" r="1.55" fill="url(#go)"/>
<circle cx="297.02" cy="231.17" r="1.55" fill="url(#go)"/>
<circle cx="297.52" cy="230.91" r="1.55" fill="url(#go)"/>
<circle cx="298.03" cy="230.66" r="1.55" fill="url(#go)"/>
<circle cx="298.53" cy="230.42" r="1.55" fill="url(#go)"/>
<circle cx="299.03" cy="230.2" r="1.55" fill="url(#go)"/>
<circle cx="299.54" cy="229.98" r="1.55" fill="url(#go)"/>
<circle cx="300.04" cy="229.78" r="1.55" fill="url(#go)"/>
<circle cx="300.55" cy="229.58" r="1.55" fill="url(#go)"/>
<circle cx="301.05" cy="229.39" r="1.55" fill="url(#go)"/>
<circle cx="301.55" cy="229.2" r="1.55" fill="url(#go)"/>
<circle cx="302.06" cy="229.02" r="1.55" fill="url(#go)"/>
<circle cx="302.56" cy="228.84" r="1.55" fill="url(#go)"/>
<circle cx="303.06" cy="228.66" r="1.55" fill="url(#go)"/>
<circle cx="303.57" cy="228.49" r="1.55" fill="url(#go)"/>
<circle cx="304.07" cy="228.31" r="1.55" fill="url(#go)"/>
<circle cx="304.58" cy="228.13" r="1.55" fill="url(#go)"/>
<circle cx="305.08" cy="227.94" r="1.55" fill="url(#go)"/>
<circle cx="305.58" cy="227.75" r="1.55" fill="url(#go)"/>
<circle cx="306.09" cy="227.55" r="1.55" fill="url(#go)"/>
<circle cx="306.59" cy="227.35" r="1.55" fill="url(#go)"/>
<circle cx="307.09" cy="227.13" r="1.55" fill="url(#go)"/>
<circle cx="307.6" cy="226.91" r="1.55" fill="url(#go)"/>
<circle cx="308.1" cy="226.67" r="1.55" fill="url(#go)"/>
<circle cx="308.6" cy="226.42" r="1.55" fill="url(#go)"/>
<circle cx="309.11" cy="226.13" r="1.55" fill="url(#go)"/>
<circle cx="309.61" cy="225.81" r="1.55" fill="url(#go)"/>
<circle cx="310.12" cy="225.47" r="1.55" fill="url(#go)"/>
<circle cx="310.62" cy="225.11" r="1.55" fill="url(#go)"/>
<circle cx="311.12" cy="224.73" r="1.55" fill="url(#go)"/>
<circle cx="311.63" cy="224.34" r="1.55" fill="url(#go)"/>
<circle cx="312.13" cy="223.95" r="1.55" fill="url(#go)"/>
<circle cx="312.63" cy="223.56" r="1.55" fill="url(#go)"/>
<circle cx="313.14" cy="223.18" r="1.55" fill="url(#go)"/>
<circle cx="313.64" cy="222.81" r="1.55" fill="url(#go)"/>
<circle cx="314.15" cy="222.45" r="1.55" fill="url(#go)"/>
<circle cx="314.65" cy="222.12" r="1.55" fill="url(#go)"/>
<circle cx="315.15" cy="221.82" r="1.55" fill="url(#go)"/>
<circle cx="315.66" cy="221.55" r="1.55" fill="url(#go)"/>
<circle cx="316.16" cy="221.32" r="1.55" fill="url(#go)"/>
<circle cx="316.66" cy="221.13" r="1.55" fill="url(#go)"/>
<circle cx="317.17" cy="221" r="1.55" fill="url(#go)"/>
<circle cx="317.67" cy="220.89" r="1.55" fill="url(#go)"/>
<circle cx="318.18" cy="220.79" r="1.55" fill="url(#go)"/>
<circle cx="318.68" cy="220.69" r="1.55" fill="url(#go)"/>
<circle cx="319.18" cy="220.62" r="1.55" fill="url(#go)"/>
<circle cx="319.69" cy="220.57" r="1.55" fill="url(#go)"/>
<circle cx="320.19" cy="220.55" r="1.55" fill="url(#go)"/>
<circle cx="320.69" cy="220.64" r="1.55" fill="url(#go)"/>
<circle cx="321.2" cy="220.86" r="1.55" fill="url(#go)"/>
<circle cx="321.7" cy="221.17" r="1.55" fill="url(#go)"/>
<circle cx="322.21" cy="221.5" r="1.55" fill="url(#go)"/>
<circle cx="322.71" cy="221.8" r="1.55" fill="url(#go)"/>
<circle cx="323.21" cy="222.02" r="1.55" fill="url(#go)"/>
<circle cx="323.72" cy="222.11" r="1.55" fill="url(#go)"/>
<circle cx="324.22" cy="222.11" r="1.55" fill="url(#go)"/>
<circle cx="324.72" cy="222.1" r="1.55" fill="url(#go)"/>
<circle cx="325.23" cy="222.09" r="1.55" fill="url(#go)"/>
<circle cx="325.73" cy="222.08" r="1.55" fill="url(#go)"/>
<circle cx="326.23" cy="222.06" r="1.55" fill="url(#go)"/>
<circle cx="326.74" cy="222.04" r="1.55" fill="url(#go)"/>
<circle cx="327.24" cy="222.02" r="1.55" fill="url(#go)"/>
<circle cx="327.75" cy="222" r="1.55" fill="url(#go)"/>
<circle cx="328.25" cy="221.97" r="1.55" fill="url(#go)"/>
<circle cx="328.75" cy="221.94" r="1.55" fill="url(#go)"/>
<circle cx="329.26" cy="221.91" r="1.55" fill="url(#go)"/>
<circle cx="329.76" cy="221.87" r="1.55" fill="url(#go)"/>
<circle cx="330.26" cy="221.84" r="1.55" fill="url(#go)"/>
<circle cx="330.77" cy="221.8" r="1.55" fill="url(#go)"/>
<circle cx="331.27" cy="221.76" r="1.55" fill="url(#go)"/>
<circle cx="331.78" cy="221.72" r="1.55" fill="url(#go)"/>
<circle cx="332.28" cy="221.67" r="1.55" fill="url(#go)"/>
<circle cx="332.78" cy="221.63" r="1.55" fill="url(#go)"/>
<circle cx="333.29" cy="221.58" r="1.55" fill="url(#go)"/>
<circle cx="333.79" cy="221.54" r="1.55" fill="url(#go)"/>
<circle cx="334.29" cy="221.49" r="1.55" fill="url(#go)"/>
<circle cx="334.8" cy="221.44" r="1.55" fill="url(#go)"/>
<circle cx="335.3" cy="221.39" r="1.55" fill="url(#go)"/>
<circle cx="335.81" cy="221.33" r="1.55" fill="url(#go)"/>
<circle cx="336.31" cy="221.26" r="1.55" fill="url(#go)"/>
<circle cx="336.81" cy="221.19" r="1.55" fill="url(#go)"/>
<circle cx="337.32" cy="221.11" r="1.55" fill="url(#go)"/>
<circle cx="337.82" cy="221.02" r="1.55" fill="url(#go)"/>
<circle cx="338.32" cy="220.93" r="1.55" fill="url(#go)"/>
<circle cx="338.83" cy="220.82" r="1.55" fill="url(#go)"/>
<circle cx="339.33" cy="220.71" r="1.55" fill="url(#go)"/>
<circle cx="339.84" cy="220.59" r="1.55" fill="url(#go)"/>
<circle cx="340.34" cy="220.47" r="1.55" fill="url(#go)"/>
<circle cx="340.84" cy="220.33" r="1.55" fill="url(#go)"/>
<circle cx="341.35" cy="220.19" r="1.55" fill="url(#go)"/>
<circle cx="341.85" cy="220.05" r="1.55" fill="url(#go)"/>
<circle cx="342.35" cy="219.89" r="1.55" fill="url(#go)"/>
<circle cx="342.86" cy="219.7" r="1.55" fill="url(#go)"/>
<circle cx="343.36" cy="219.45" r="1.55" fill="url(#go)"/>
<circle cx="343.86" cy="219.16" r="1.55" fill="url(#go)"/>
<circle cx="344.37" cy="218.83" r="1.55" fill="url(#go)"/>
<circle cx="344.87" cy="218.46" r="1.55" fill="url(#go)"/>
<circle cx="345.38" cy="218.07" r="1.55" fill="url(#go)"/>
<circle cx="345.88" cy="217.66" r="1.55" fill="url(#go)"/>
<circle cx="346.38" cy="217.24" r="1.55" fill="url(#go)"/>
<circle cx="346.89" cy="216.82" r="1.55" fill="url(#go)"/>
<circle cx="347.39" cy="216.39" r="1.55" fill="url(#go)"/>
<circle cx="347.89" cy="215.98" r="1.55" fill="url(#go)"/>
<circle cx="348.4" cy="215.58" r="1.55" fill="url(#go)"/>
<circle cx="348.9" cy="215.21" r="1.55" fill="url(#go)"/>
<circle cx="349.41" cy="214.87" r="1.55" fill="url(#go)"/>
<circle cx="349.91" cy="214.56" r="1.55" fill="url(#go)"/>
<circle cx="350.41" cy="214.28" r="1.55" fill="url(#go)"/>
<circle cx="350.92" cy="214.01" r="1.55" fill="url(#go)"/>
<circle cx="351.42" cy="213.73" r="1.55" fill="url(#go)"/>
<circle cx="351.92" cy="213.47" r="1.55" fill="url(#go)"/>
<circle cx="352.43" cy="213.2" r="1.55" fill="url(#go)"/>
<circle cx="352.93" cy="212.94" r="1.55" fill="url(#go)"/>
<circle cx="353.44" cy="212.68" r="1.55" fill="url(#go)"/>
<circle cx="353.94" cy="212.43" r="1.55" fill="url(#go)"/>
<circle cx="354.44" cy="212.18" r="1.55" fill="url(#go)"/>
<circle cx="354.95" cy="211.93" r="1.55" fill="url(#go)"/>
<circle cx="355.45" cy="211.69" r="1.55" fill="url(#go)"/>
<circle cx="355.95" cy="211.45" r="1.55" fill="url(#go)"/>
<circle cx="356.46" cy="211.21" r="1.55" fill="url(#go)"/>
<circle cx="356.96" cy="210.97" r="1.55" fill="url(#go)"/>
<circle cx="357.47" cy="210.74" r="1.55" fill="url(#go)"/>
<circle cx="357.97" cy="210.52" r="1.55" fill="url(#go)"/>
<circle cx="358.47" cy="210.29" r="1.55" fill="url(#go)"/>
<circle cx="358.98" cy="210.07" r="1.55" fill="url(#go)"/>
<circle cx="359.48" cy="209.86" r="1.55" fill="url(#go)"/>
<circle cx="359.98" cy="209.64" r="1.55" fill="url(#go)"/>
<circle cx="360.49" cy="209.43" r="1.55" fill="url(#go)"/>
<circle cx="360.99" cy="209.22" r="1.55" fill="url(#go)"/>
<circle cx="361.49" cy="209.02" r="1.55" fill="url(#go)"/>
<circle cx="362" cy="208.82" r="1.55" fill="url(#go)"/>
<circle cx="362.5" cy="208.62" r="1.55" fill="url(#go)"/>
<circle cx="363.01" cy="208.42" r="1.55" fill="url(#go)"/>
<circle cx="363.51" cy="208.23" r="1.55" fill="url(#go)"/>
<circle cx="364.01" cy="208.04" r="1.55" fill="url(#go)"/>
<circle cx="364.52" cy="207.86" r="1.55" fill="url(#go)"/>
<circle cx="365.02" cy="207.67" r="1.55" fill="url(#go)"/>
<circle cx="365.52" cy="207.49" r="1.55" fill="url(#go)"/>
<circle cx="366.03" cy="207.31" r="1.55" fill="url(#go)"/>
<circle cx="366.53" cy="207.14" r="1.55" fill="url(#go)"/>
<circle cx="367.04" cy="206.97" r="1.55" fill="url(#go)"/>
<circle cx="367.54" cy="206.8" r="1.55" fill="url(#go)"/>
<circle cx="368.04" cy="206.63" r="1.55" fill="url(#go)"/>
<circle cx="368.55" cy="206.46" r="1.55" fill="url(#go)"/>
<circle cx="369.05" cy="206.3" r="1.55" fill="url(#go)"/>
<circle cx="369.55" cy="206.13" r="1.55" fill="url(#go)"/>
<circle cx="370.06" cy="205.97" r="1.55" fill="url(#go)"/>
<circle cx="370.56" cy="205.81" r="1.55" fill="url(#go)"/>
<circle cx="371.07" cy="205.65" r="1.55" fill="url(#go)"/>
<circle cx="371.57" cy="205.5" r="1.55" fill="url(#go)"/>
<circle cx="372.07" cy="205.34" r="1.55" fill="url(#go)"/>
<circle cx="372.58" cy="205.19" r="1.55" fill="url(#go)"/>
<circle cx="373.08" cy="205.04" r="1.55" fill="url(#go)"/>
<circle cx="373.58" cy="204.89" r="1.55" fill="url(#go)"/>
<circle cx="374.09" cy="204.74" r="1.55" fill="url(#go)"/>
<circle cx="374.59" cy="204.59" r="1.55" fill="url(#go)"/>
<circle cx="375.1" cy="204.45" r="1.55" fill="url(#go)"/>
<circle cx="375.6" cy="204.31" r="1.55" fill="url(#go)"/>
<circle cx="376.1" cy="204.16" r="1.55" fill="url(#go)"/>
<circle cx="376.61" cy="204.02" r="1.55" fill="url(#go)"/>
<circle cx="377.11" cy="203.89" r="1.55" fill="url(#go)"/>
<circle cx="377.61" cy="203.75" r="1.55" fill="url(#go)"/>
<circle cx="378.12" cy="203.61" r="1.55" fill="url(#go)"/>
<circle cx="378.62" cy="203.48" r="1.55" fill="url(#go)"/>
<circle cx="379.12" cy="203.35" r="1.55" fill="url(#go)"/>
<circle cx="379.63" cy="203.22" r="1.55" fill="url(#go)"/>
<circle cx="380.13" cy="203.09" r="1.55" fill="url(#go)"/>
<circle cx="380.64" cy="202.96" r="1.55" fill="url(#go)"/>
<circle cx="381.14" cy="202.83" r="1.55" fill="url(#go)"/>
<circle cx="381.64" cy="202.71" r="1.55" fill="url(#go)"/>
<circle cx="382.15" cy="202.59" r="1.55" fill="url(#go)"/>
<circle cx="382.65" cy="202.46" r="1.55" fill="url(#go)"/>
<circle cx="383.15" cy="202.34" r="1.55" fill="url(#go)"/>
<circle cx="383.66" cy="202.23" r="1.55" fill="url(#go)"/>
<circle cx="384.16" cy="202.11" r="1.55" fill="url(#go)"/>
<circle cx="384.67" cy="201.99" r="1.55" fill="url(#go)"/>
<circle cx="385.17" cy="201.88" r="1.55" fill="url(#go)"/>
<circle cx="385.67" cy="201.77" r="1.55" fill="url(#go)"/>
<circle cx="386.18" cy="201.66" r="1.55" fill="url(#go)"/>
<circle cx="386.68" cy="201.55" r="1.55" fill="url(#go)"/>
<circle cx="387.18" cy="201.44" r="1.55" fill="url(#go)"/>
<circle cx="387.69" cy="201.33" r="1.55" fill="url(#go)"/>
<circle cx="388.19" cy="201.23" r="1.55" fill="url(#go)"/>
<circle cx="388.7" cy="201.13" r="1.55" fill="url(#go)"/>
<circle cx="389.2" cy="201.03" r="1.55" fill="url(#go)"/>
<circle cx="389.7" cy="200.92" r="1.55" fill="url(#go)"/>
<circle cx="390.21" cy="200.82" r="1.55" fill="url(#go)"/>
<circle cx="390.71" cy="200.73" r="1.55" fill="url(#go)"/>
<circle cx="391.21" cy="200.63" r="1.55" fill="url(#go)"/>
<circle cx="391.72" cy="200.53" r="1.55" fill="url(#go)"/>
<circle cx="392.22" cy="200.43" r="1.55" fill="url(#go)"/>
<circle cx="392.73" cy="200.34" r="1.55" fill="url(#go)"/>
<circle cx="393.23" cy="200.24" r="1.55" fill="url(#go)"/>
<circle cx="393.73" cy="200.15" r="1.55" fill="url(#go)"/>
<circle cx="394.24" cy="200.06" r="1.55" fill="url(#go)"/>
<circle cx="394.74" cy="199.96" r="1.55" fill="url(#go)"/>
<circle cx="395.24" cy="199.87" r="1.55" fill="url(#go)"/>
<circle cx="395.75" cy="199.78" r="1.55" fill="url(#go)"/>
<circle cx="396.25" cy="199.69" r="1.55" fill="url(#go)"/>
<circle cx="396.75" cy="199.6" r="1.55" fill="url(#go)"/>
<circle cx="397.26" cy="199.51" r="1.55" fill="url(#go)"/>
<circle cx="397.76" cy="199.43" r="1.55" fill="url(#go)"/>
<circle cx="398.27" cy="199.34" r="1.55" fill="url(#go)"/>
<circle cx="398.77" cy="199.26" r="1.55" fill="url(#go)"/>
<circle cx="399.27" cy="199.17" r="1.55" fill="url(#go)"/>
<circle cx="399.78" cy="199.09" r="1.55" fill="url(#go)"/>
<circle cx="400.28" cy="199.01" r="1.55" fill="url(#go)"/>
<circle cx="400.78" cy="198.93" r="1.55" fill="url(#go)"/>
<circle cx="401.29" cy="198.85" r="1.55" fill="url(#go)"/>
<circle cx="401.79" cy="198.77" r="1.55" fill="url(#go)"/>
<circle cx="402.3" cy="198.69" r="1.55" fill="url(#go)"/>
<circle cx="402.8" cy="198.61" r="1.55" fill="url(#go)"/>
<circle cx="403.3" cy="198.53" r="1.55" fill="url(#go)"/>
<circle cx="403.81" cy="198.46" r="1.55" fill="url(#go)"/>
<circle cx="404.31" cy="198.39" r="1.55" fill="url(#go)"/>
<circle cx="404.81" cy="198.31" r="1.55" fill="url(#go)"/>
<circle cx="405.32" cy="198.24" r="1.55" fill="url(#go)"/>
<circle cx="405.82" cy="198.17" r="1.55" fill="url(#go)"/>
<circle cx="406.33" cy="198.1" r="1.55" fill="url(#go)"/>
<circle cx="406.83" cy="198.03" r="1.55" fill="url(#go)"/>
<circle cx="407.33" cy="197.97" r="1.55" fill="url(#go)"/>
<circle cx="407.84" cy="197.9" r="1.55" fill="url(#go)"/>
<circle cx="408.34" cy="197.84" r="1.55" fill="url(#go)"/>
<circle cx="408.84" cy="197.77" r="1.55" fill="url(#go)"/>
<circle cx="409.35" cy="197.71" r="1.55" fill="url(#go)"/>
<circle cx="409.85" cy="197.65" r="1.55" fill="url(#go)"/>
<circle cx="410.36" cy="197.59" r="1.55" fill="url(#go)"/>
<circle cx="410.86" cy="197.53" r="1.55" fill="url(#go)"/>
<circle cx="411.36" cy="197.47" r="1.55" fill="url(#go)"/>
<circle cx="411.87" cy="197.42" r="1.55" fill="url(#go)"/>
<circle cx="412.37" cy="197.36" r="1.55" fill="url(#go)"/>
<circle cx="412.87" cy="197.31" r="1.55" fill="url(#go)"/>
<circle cx="413.38" cy="197.26" r="1.55" fill="url(#go)"/>
<circle cx="413.88" cy="197.21" r="1.55" fill="url(#go)"/>
<circle cx="414.38" cy="197.16" r="1.55" fill="url(#go)"/>
<circle cx="414.89" cy="197.11" r="1.55" fill="url(#go)"/>
<circle cx="415.39" cy="197.06" r="1.55" fill="url(#go)"/>
<circle cx="415.9" cy="197.01" r="1.55" fill="url(#go)"/>
<circle cx="416.4" cy="196.97" r="1.55" fill="url(#go)"/>
<circle cx="416.9" cy="196.92" r="1.55" fill="url(#go)"/>
<circle cx="417.41" cy="196.88" r="1.55" fill="url(#go)"/>
<circle cx="417.91" cy="196.83" r="1.55" fill="url(#go)"/>
<circle cx="418.41" cy="196.79" r="1.55" fill="url(#go)"/>
<circle cx="418.92" cy="196.75" r="1.55" fill="url(#go)"/>
<circle cx="419.42" cy="196.71" r="1.55" fill="url(#go)"/>
<circle cx="419.93" cy="196.66" r="1.55" fill="url(#go)"/>
<circle cx="420.43" cy="196.62" r="1.55" fill="url(#go)"/>
<circle cx="420.93" cy="196.58" r="1.55" fill="url(#go)"/>
<circle cx="421.44" cy="196.54" r="1.55" fill="url(#go)"/>
<circle cx="421.94" cy="196.5" r="1.55" fill="url(#go)"/>
<circle cx="422.44" cy="196.46" r="1.55" fill="url(#go)"/>
<circle cx="422.95" cy="196.42" r="1.55" fill="url(#go)"/>
<circle cx="423.45" cy="196.38" r="1.55" fill="url(#go)"/>
<circle cx="423.96" cy="196.34" r="1.55" fill="url(#go)"/>
<circle cx="424.46" cy="196.3" r="1.55" fill="url(#go)"/>
<circle cx="424.96" cy="196.26" r="1.55" fill="url(#go)"/>
<circle cx="425.47" cy="196.22" r="1.55" fill="url(#go)"/>
<circle cx="425.97" cy="196.18" r="1.55" fill="url(#go)"/>
<circle cx="426.47" cy="196.14" r="1.55" fill="url(#go)"/>
<circle cx="426.98" cy="196.09" r="1.55" fill="url(#go)"/>
<circle cx="427.48" cy="196.05" r="1.55" fill="url(#go)"/>
<circle cx="427.99" cy="196.01" r="1.55" fill="url(#go)"/>
<circle cx="428.49" cy="195.96" r="1.55" fill="url(#go)"/>
<circle cx="428.99" cy="195.92" r="1.55" fill="url(#go)"/>
<circle cx="429.5" cy="195.88" r="1.55" fill="url(#go)"/>
<circle cx="430" cy="195.83" r="1.55" fill="url(#go)"/>
<polyline points="253.7,210.79 254.2,211.03 254.71,211.27 255.21,211.52 255.71,211.77 256.22,212.03 256.72,212.3 257.23,212.57 257.73,212.84 258.23,213.13 258.74,213.42 259.24,213.72 259.74,214.02 260.25,214.34 260.75,214.66 261.26,215 261.76,215.34 262.26,215.69 262.77,216.06 263.27,216.45 263.77,216.84 264.28,217.25 264.78,217.67 265.29,218.11 265.79,218.57 266.29,219.04 266.8,219.53 267.3,220.03 267.8,220.55 268.31,221.1 268.81,221.66 269.32,222.25 269.82,222.87 270.32,223.52 270.83,224.2 271.33,224.93 271.83,225.7 272.34,226.54 272.84,227.43 273.34,228.42 273.85,229.52 274.35,230.73 274.86,232.04 275.36,233.43 275.86,234.81 276.37,236.28 276.87,238.16 277.37,241.53 277.88,246.96 278.38,251.85 278.89,293.35 279.39,248.52 279.89,240.31 280.4,235.86 280.9,232.66 281.4,229.93 281.91,227.53 282.41,225.53 282.92,223.9 283.42,222.6 283.92,221.5 284.43,220.54 284.93,219.69 285.43,218.95 285.94,218.28 286.44,217.67 286.95,217.12 287.45,216.64 287.95,216.19 288.46,215.77 288.96,215.39 289.46,215.02 289.97,214.66 290.47,214.32 290.97,213.99 291.48,213.67 291.98,213.36 292.49,213.07 292.99,212.8 293.49,212.53 294,212.27 294.5,212.02 295,211.77 295.51,211.54 296.01,211.3 296.52,211.08 297.02,210.86 297.52,210.64 298.03,210.42 298.53,210.21 299.03,210.01 299.54,209.8 300.04,209.6 300.55,209.4 301.05,209.21 301.55,209.01 302.06,208.82 302.56,208.63 303.06,208.44 303.57,208.25 304.07,208.07 304.58,207.88 305.08,207.7 305.58,207.52 306.09,207.34 306.59,207.17 307.09,207 307.6,206.82 308.1,206.66 308.6,206.49 309.11,206.33 309.61,206.16 310.12,206 310.62,205.85 311.12,205.69 311.63,205.54 312.13,205.39 312.63,205.24 313.14,205.09 313.64,204.95 314.15,204.8 314.65,204.65 315.15,204.51 315.66,204.36 316.16,204.22 316.66,204.08 317.17,203.94 317.67,203.8 318.18,203.66 318.68,203.53 319.18,203.4 319.69,203.27 320.19,203.14 320.69,203.02 321.2,202.9 321.7,202.79 322.21,202.67 322.71,202.56 323.21,202.46 323.72,202.36 324.22,202.26 324.72,202.16 325.23,202.07 325.73,201.98 326.23,201.89 326.74,201.8 327.24,201.72 327.75,201.63 328.25,201.55 328.75,201.47 329.26,201.39 329.76,201.32 330.26,201.24 330.77,201.17 331.27,201.09 331.78,201.02 332.28,200.95 332.78,200.88 333.29,200.81 333.79,200.74 334.29,200.67 334.8,200.61 335.3,200.54 335.81,200.47 336.31,200.41 336.81,200.34 337.32,200.28 337.82,200.21 338.32,200.15 338.83,200.08 339.33,200.02 339.84,199.96 340.34,199.89 340.84,199.83 341.35,199.76 341.85,199.7 342.35,199.64 342.86,199.57 343.36,199.51 343.86,199.44 344.37,199.38 344.87,199.31 345.38,199.25 345.88,199.18 346.38,199.12 346.89,199.05 347.39,198.98 347.89,198.92 348.4,198.85 348.9,198.78 349.41,198.71 349.91,198.64 350.41,198.58 350.92,198.51 351.42,198.44 351.92,198.37 352.43,198.3 352.93,198.23 353.44,198.17 353.94,198.1 354.44,198.03 354.95,197.97 355.45,197.9 355.95,197.83 356.46,197.77 356.96,197.71 357.47,197.64 357.97,197.58 358.47,197.52 358.98,197.46 359.48,197.4 359.98,197.34 360.49,197.28 360.99,197.23 361.49,197.17 362,197.12 362.5,197.06 363.01,197.01 363.51,196.96 364.01,196.91 364.52,196.86 365.02,196.81 365.52,196.76 366.03,196.72 366.53,196.67 367.04,196.63 367.54,196.59 368.04,196.55 368.55,196.51 369.05,196.47 369.55,196.43 370.06,196.39 370.56,196.36 371.07,196.32 371.57,196.29 372.07,196.26 372.58,196.22 373.08,196.19 373.58,196.16 374.09,196.13 374.59,196.1 375.1,196.07 375.6,196.04 376.1,196.01 376.61,195.98 377.11,195.95 377.61,195.93 378.12,195.9 378.62,195.87 379.12,195.84 379.63,195.81 380.13,195.79 380.64,195.76 381.14,195.73 381.64,195.7 382.15,195.67 382.65,195.65 383.15,195.62 383.66,195.59 384.16,195.56 384.67,195.53 385.17,195.5 385.67,195.47 386.18,195.44 386.68,195.41 387.18,195.38 387.69,195.35 388.19,195.32 388.7,195.29 389.2,195.26 389.7,195.22 390.21,195.19 390.71,195.16 391.21,195.12 391.72,195.09 392.22,195.05 392.73,195.02 393.23,194.98 393.73,194.95 394.24,194.91 394.74,194.88 395.24,194.84 395.75,194.81 396.25,194.77 396.75,194.73 397.26,194.7 397.76,194.66 398.27,194.62 398.77,194.59 399.27,194.55 399.78,194.51 400.28,194.48 400.78,194.44 401.29,194.4 401.79,194.37 402.3,194.33 402.8,194.3 403.3,194.26 403.81,194.22 404.31,194.19 404.81,194.15 405.32,194.12 405.82,194.08 406.33,194.04 406.83,194.01 407.33,193.97 407.84,193.94 408.34,193.9 408.84,193.87 409.35,193.84 409.85,193.8 410.36,193.77 410.86,193.73 411.36,193.7 411.87,193.67 412.37,193.64 412.87,193.6 413.38,193.57 413.88,193.54 414.38,193.5 414.89,193.47 415.39,193.44 415.9,193.41 416.4,193.37 416.9,193.34 417.41,193.31 417.91,193.28 418.41,193.24 418.92,193.21 419.42,193.18 419.93,193.15 420.43,193.12 420.93,193.08 421.44,193.05 421.94,193.02 422.44,192.99 422.95,192.96 423.45,192.93 423.96,192.9 424.46,192.87 424.96,192.83 425.47,192.8 425.97,192.77 426.47,192.74 426.98,192.71 427.48,192.68 427.99,192.65 428.49,192.62 428.99,192.59 429.5,192.56 430,192.53" fill="none" stroke="#2a75b8" stroke-width="0.9" stroke-linejoin="round"/>
<circle cx="253.7" cy="210.79" r="1.55" fill="url(#gb)"/>
<circle cx="254.2" cy="211.03" r="1.55" fill="url(#gb)"/>
<circle cx="254.71" cy="211.27" r="1.55" fill="url(#gb)"/>
<circle cx="255.21" cy="211.52" r="1.55" fill="url(#gb)"/>
<circle cx="255.71" cy="211.77" r="1.55" fill="url(#gb)"/>
<circle cx="256.22" cy="212.03" r="1.55" fill="url(#gb)"/>
<circle cx="256.72" cy="212.3" r="1.55" fill="url(#gb)"/>
<circle cx="257.23" cy="212.57" r="1.55" fill="url(#gb)"/>
<circle cx="257.73" cy="212.84" r="1.55" fill="url(#gb)"/>
<circle cx="258.23" cy="213.13" r="1.55" fill="url(#gb)"/>
<circle cx="258.74" cy="213.42" r="1.55" fill="url(#gb)"/>
<circle cx="259.24" cy="213.72" r="1.55" fill="url(#gb)"/>
<circle cx="259.74" cy="214.02" r="1.55" fill="url(#gb)"/>
<circle cx="260.25" cy="214.34" r="1.55" fill="url(#gb)"/>
<circle cx="260.75" cy="214.66" r="1.55" fill="url(#gb)"/>
<circle cx="261.26" cy="215" r="1.55" fill="url(#gb)"/>
<circle cx="261.76" cy="215.34" r="1.55" fill="url(#gb)"/>
<circle cx="262.26" cy="215.69" r="1.55" fill="url(#gb)"/>
<circle cx="262.77" cy="216.06" r="1.55" fill="url(#gb)"/>
<circle cx="263.27" cy="216.45" r="1.55" fill="url(#gb)"/>
<circle cx="263.77" cy="216.84" r="1.55" fill="url(#gb)"/>
<circle cx="264.28" cy="217.25" r="1.55" fill="url(#gb)"/>
<circle cx="264.78" cy="217.67" r="1.55" fill="url(#gb)"/>
<circle cx="265.29" cy="218.11" r="1.55" fill="url(#gb)"/>
<circle cx="265.79" cy="218.57" r="1.55" fill="url(#gb)"/>
<circle cx="266.29" cy="219.04" r="1.55" fill="url(#gb)"/>
<circle cx="266.8" cy="219.53" r="1.55" fill="url(#gb)"/>
<circle cx="267.3" cy="220.03" r="1.55" fill="url(#gb)"/>
<circle cx="267.8" cy="220.55" r="1.55" fill="url(#gb)"/>
<circle cx="268.31" cy="221.1" r="1.55" fill="url(#gb)"/>
<circle cx="268.81" cy="221.66" r="1.55" fill="url(#gb)"/>
<circle cx="269.32" cy="222.25" r="1.55" fill="url(#gb)"/>
<circle cx="269.82" cy="222.87" r="1.55" fill="url(#gb)"/>
<circle cx="270.32" cy="223.52" r="1.55" fill="url(#gb)"/>
<circle cx="270.83" cy="224.2" r="1.55" fill="url(#gb)"/>
<circle cx="271.33" cy="224.93" r="1.55" fill="url(#gb)"/>
<circle cx="271.83" cy="225.7" r="1.55" fill="url(#gb)"/>
<circle cx="272.34" cy="226.54" r="1.55" fill="url(#gb)"/>
<circle cx="272.84" cy="227.43" r="1.55" fill="url(#gb)"/>
<circle cx="273.34" cy="228.42" r="1.55" fill="url(#gb)"/>
<circle cx="273.85" cy="229.52" r="1.55" fill="url(#gb)"/>
<circle cx="274.35" cy="230.73" r="1.55" fill="url(#gb)"/>
<circle cx="274.86" cy="232.04" r="1.55" fill="url(#gb)"/>
<circle cx="275.36" cy="233.43" r="1.55" fill="url(#gb)"/>
<circle cx="275.86" cy="234.81" r="1.55" fill="url(#gb)"/>
<circle cx="276.37" cy="236.28" r="1.55" fill="url(#gb)"/>
<circle cx="276.87" cy="238.16" r="1.55" fill="url(#gb)"/>
<circle cx="277.37" cy="241.53" r="1.55" fill="url(#gb)"/>
<circle cx="277.88" cy="246.96" r="1.55" fill="url(#gb)"/>
<circle cx="278.38" cy="251.85" r="1.55" fill="url(#gb)"/>
<circle cx="278.89" cy="293.35" r="1.55" fill="url(#gb)"/>
<circle cx="279.39" cy="248.52" r="1.55" fill="url(#gb)"/>
<circle cx="279.89" cy="240.31" r="1.55" fill="url(#gb)"/>
<circle cx="280.4" cy="235.86" r="1.55" fill="url(#gb)"/>
<circle cx="280.9" cy="232.66" r="1.55" fill="url(#gb)"/>
<circle cx="281.4" cy="229.93" r="1.55" fill="url(#gb)"/>
<circle cx="281.91" cy="227.53" r="1.55" fill="url(#gb)"/>
<circle cx="282.41" cy="225.53" r="1.55" fill="url(#gb)"/>
<circle cx="282.92" cy="223.9" r="1.55" fill="url(#gb)"/>
<circle cx="283.42" cy="222.6" r="1.55" fill="url(#gb)"/>
<circle cx="283.92" cy="221.5" r="1.55" fill="url(#gb)"/>
<circle cx="284.43" cy="220.54" r="1.55" fill="url(#gb)"/>
<circle cx="284.93" cy="219.69" r="1.55" fill="url(#gb)"/>
<circle cx="285.43" cy="218.95" r="1.55" fill="url(#gb)"/>
<circle cx="285.94" cy="218.28" r="1.55" fill="url(#gb)"/>
<circle cx="286.44" cy="217.67" r="1.55" fill="url(#gb)"/>
<circle cx="286.95" cy="217.12" r="1.55" fill="url(#gb)"/>
<circle cx="287.45" cy="216.64" r="1.55" fill="url(#gb)"/>
<circle cx="287.95" cy="216.19" r="1.55" fill="url(#gb)"/>
<circle cx="288.46" cy="215.77" r="1.55" fill="url(#gb)"/>
<circle cx="288.96" cy="215.39" r="1.55" fill="url(#gb)"/>
<circle cx="289.46" cy="215.02" r="1.55" fill="url(#gb)"/>
<circle cx="289.97" cy="214.66" r="1.55" fill="url(#gb)"/>
<circle cx="290.47" cy="214.32" r="1.55" fill="url(#gb)"/>
<circle cx="290.97" cy="213.99" r="1.55" fill="url(#gb)"/>
<circle cx="291.48" cy="213.67" r="1.55" fill="url(#gb)"/>
<circle cx="291.98" cy="213.36" r="1.55" fill="url(#gb)"/>
<circle cx="292.49" cy="213.07" r="1.55" fill="url(#gb)"/>
<circle cx="292.99" cy="212.8" r="1.55" fill="url(#gb)"/>
<circle cx="293.49" cy="212.53" r="1.55" fill="url(#gb)"/>
<circle cx="294" cy="212.27" r="1.55" fill="url(#gb)"/>
<circle cx="294.5" cy="212.02" r="1.55" fill="url(#gb)"/>
<circle cx="295" cy="211.77" r="1.55" fill="url(#gb)"/>
<circle cx="295.51" cy="211.54" r="1.55" fill="url(#gb)"/>
<circle cx="296.01" cy="211.3" r="1.55" fill="url(#gb)"/>
<circle cx="296.52" cy="211.08" r="1.55" fill="url(#gb)"/>
<circle cx="297.02" cy="210.86" r="1.55" fill="url(#gb)"/>
<circle cx="297.52" cy="210.64" r="1.55" fill="url(#gb)"/>
<circle cx="298.03" cy="210.42" r="1.55" fill="url(#gb)"/>
<circle cx="298.53" cy="210.21" r="1.55" fill="url(#gb)"/>
<circle cx="299.03" cy="210.01" r="1.55" fill="url(#gb)"/>
<circle cx="299.54" cy="209.8" r="1.55" fill="url(#gb)"/>
<circle cx="300.04" cy="209.6" r="1.55" fill="url(#gb)"/>
<circle cx="300.55" cy="209.4" r="1.55" fill="url(#gb)"/>
<circle cx="301.05" cy="209.21" r="1.55" fill="url(#gb)"/>
<circle cx="301.55" cy="209.01" r="1.55" fill="url(#gb)"/>
<circle cx="302.06" cy="208.82" r="1.55" fill="url(#gb)"/>
<circle cx="302.56" cy="208.63" r="1.55" fill="url(#gb)"/>
<circle cx="303.06" cy="208.44" r="1.55" fill="url(#gb)"/>
<circle cx="303.57" cy="208.25" r="1.55" fill="url(#gb)"/>
<circle cx="304.07" cy="208.07" r="1.55" fill="url(#gb)"/>
<circle cx="304.58" cy="207.88" r="1.55" fill="url(#gb)"/>
<circle cx="305.08" cy="207.7" r="1.55" fill="url(#gb)"/>
<circle cx="305.58" cy="207.52" r="1.55" fill="url(#gb)"/>
<circle cx="306.09" cy="207.34" r="1.55" fill="url(#gb)"/>
<circle cx="306.59" cy="207.17" r="1.55" fill="url(#gb)"/>
<circle cx="307.09" cy="207" r="1.55" fill="url(#gb)"/>
<circle cx="307.6" cy="206.82" r="1.55" fill="url(#gb)"/>
<circle cx="308.1" cy="206.66" r="1.55" fill="url(#gb)"/>
<circle cx="308.6" cy="206.49" r="1.55" fill="url(#gb)"/>
<circle cx="309.11" cy="206.33" r="1.55" fill="url(#gb)"/>
<circle cx="309.61" cy="206.16" r="1.55" fill="url(#gb)"/>
<circle cx="310.12" cy="206" r="1.55" fill="url(#gb)"/>
<circle cx="310.62" cy="205.85" r="1.55" fill="url(#gb)"/>
<circle cx="311.12" cy="205.69" r="1.55" fill="url(#gb)"/>
<circle cx="311.63" cy="205.54" r="1.55" fill="url(#gb)"/>
<circle cx="312.13" cy="205.39" r="1.55" fill="url(#gb)"/>
<circle cx="312.63" cy="205.24" r="1.55" fill="url(#gb)"/>
<circle cx="313.14" cy="205.09" r="1.55" fill="url(#gb)"/>
<circle cx="313.64" cy="204.95" r="1.55" fill="url(#gb)"/>
<circle cx="314.15" cy="204.8" r="1.55" fill="url(#gb)"/>
<circle cx="314.65" cy="204.65" r="1.55" fill="url(#gb)"/>
<circle cx="315.15" cy="204.51" r="1.55" fill="url(#gb)"/>
<circle cx="315.66" cy="204.36" r="1.55" fill="url(#gb)"/>
<circle cx="316.16" cy="204.22" r="1.55" fill="url(#gb)"/>
<circle cx="316.66" cy="204.08" r="1.55" fill="url(#gb)"/>
<circle cx="317.17" cy="203.94" r="1.55" fill="url(#gb)"/>
<circle cx="317.67" cy="203.8" r="1.55" fill="url(#gb)"/>
<circle cx="318.18" cy="203.66" r="1.55" fill="url(#gb)"/>
<circle cx="318.68" cy="203.53" r="1.55" fill="url(#gb)"/>
<circle cx="319.18" cy="203.4" r="1.55" fill="url(#gb)"/>
<circle cx="319.69" cy="203.27" r="1.55" fill="url(#gb)"/>
<circle cx="320.19" cy="203.14" r="1.55" fill="url(#gb)"/>
<circle cx="320.69" cy="203.02" r="1.55" fill="url(#gb)"/>
<circle cx="321.2" cy="202.9" r="1.55" fill="url(#gb)"/>
<circle cx="321.7" cy="202.79" r="1.55" fill="url(#gb)"/>
<circle cx="322.21" cy="202.67" r="1.55" fill="url(#gb)"/>
<circle cx="322.71" cy="202.56" r="1.55" fill="url(#gb)"/>
<circle cx="323.21" cy="202.46" r="1.55" fill="url(#gb)"/>
<circle cx="323.72" cy="202.36" r="1.55" fill="url(#gb)"/>
<circle cx="324.22" cy="202.26" r="1.55" fill="url(#gb)"/>
<circle cx="324.72" cy="202.16" r="1.55" fill="url(#gb)"/>
<circle cx="325.23" cy="202.07" r="1.55" fill="url(#gb)"/>
<circle cx="325.73" cy="201.98" r="1.55" fill="url(#gb)"/>
<circle cx="326.23" cy="201.89" r="1.55" fill="url(#gb)"/>
<circle cx="326.74" cy="201.8" r="1.55" fill="url(#gb)"/>
<circle cx="327.24" cy="201.72" r="1.55" fill="url(#gb)"/>
<circle cx="327.75" cy="201.63" r="1.55" fill="url(#gb)"/>
<circle cx="328.25" cy="201.55" r="1.55" fill="url(#gb)"/>
<circle cx="328.75" cy="201.47" r="1.55" fill="url(#gb)"/>
<circle cx="329.26" cy="201.39" r="1.55" fill="url(#gb)"/>
<circle cx="329.76" cy="201.32" r="1.55" fill="url(#gb)"/>
<circle cx="330.26" cy="201.24" r="1.55" fill="url(#gb)"/>
<circle cx="330.77" cy="201.17" r="1.55" fill="url(#gb)"/>
<circle cx="331.27" cy="201.09" r="1.55" fill="url(#gb)"/>
<circle cx="331.78" cy="201.02" r="1.55" fill="url(#gb)"/>
<circle cx="332.28" cy="200.95" r="1.55" fill="url(#gb)"/>
<circle cx="332.78" cy="200.88" r="1.55" fill="url(#gb)"/>
<circle cx="333.29" cy="200.81" r="1.55" fill="url(#gb)"/>
<circle cx="333.79" cy="200.74" r="1.55" fill="url(#gb)"/>
<circle cx="334.29" cy="200.67" r="1.55" fill="url(#gb)"/>
<circle cx="334.8" cy="200.61" r="1.55" fill="url(#gb)"/>
<circle cx="335.3" cy="200.54" r="1.55" fill="url(#gb)"/>
<circle cx="335.81" cy="200.47" r="1.55" fill="url(#gb)"/>
<circle cx="336.31" cy="200.41" r="1.55" fill="url(#gb)"/>
<circle cx="336.81" cy="200.34" r="1.55" fill="url(#gb)"/>
<circle cx="337.32" cy="200.28" r="1.55" fill="url(#gb)"/>
<circle cx="337.82" cy="200.21" r="1.55" fill="url(#gb)"/>
<circle cx="338.32" cy="200.15" r="1.55" fill="url(#gb)"/>
<circle cx="338.83" cy="200.08" r="1.55" fill="url(#gb)"/>
<circle cx="339.33" cy="200.02" r="1.55" fill="url(#gb)"/>
<circle cx="339.84" cy="199.96" r="1.55" fill="url(#gb)"/>
<circle cx="340.34" cy="199.89" r="1.55" fill="url(#gb)"/>
<circle cx="340.84" cy="199.83" r="1.55" fill="url(#gb)"/>
<circle cx="341.35" cy="199.76" r="1.55" fill="url(#gb)"/>
<circle cx="341.85" cy="199.7" r="1.55" fill="url(#gb)"/>
<circle cx="342.35" cy="199.64" r="1.55" fill="url(#gb)"/>
<circle cx="342.86" cy="199.57" r="1.55" fill="url(#gb)"/>
<circle cx="343.36" cy="199.51" r="1.55" fill="url(#gb)"/>
<circle cx="343.86" cy="199.44" r="1.55" fill="url(#gb)"/>
<circle cx="344.37" cy="199.38" r="1.55" fill="url(#gb)"/>
<circle cx="344.87" cy="199.31" r="1.55" fill="url(#gb)"/>
<circle cx="345.38" cy="199.25" r="1.55" fill="url(#gb)"/>
<circle cx="345.88" cy="199.18" r="1.55" fill="url(#gb)"/>
<circle cx="346.38" cy="199.12" r="1.55" fill="url(#gb)"/>
<circle cx="346.89" cy="199.05" r="1.55" fill="url(#gb)"/>
<circle cx="347.39" cy="198.98" r="1.55" fill="url(#gb)"/>
<circle cx="347.89" cy="198.92" r="1.55" fill="url(#gb)"/>
<circle cx="348.4" cy="198.85" r="1.55" fill="url(#gb)"/>
<circle cx="348.9" cy="198.78" r="1.55" fill="url(#gb)"/>
<circle cx="349.41" cy="198.71" r="1.55" fill="url(#gb)"/>
<circle cx="349.91" cy="198.64" r="1.55" fill="url(#gb)"/>
<circle cx="350.41" cy="198.58" r="1.55" fill="url(#gb)"/>
<circle cx="350.92" cy="198.51" r="1.55" fill="url(#gb)"/>
<circle cx="351.42" cy="198.44" r="1.55" fill="url(#gb)"/>
<circle cx="351.92" cy="198.37" r="1.55" fill="url(#gb)"/>
<circle cx="352.43" cy="198.3" r="1.55" fill="url(#gb)"/>
<circle cx="352.93" cy="198.23" r="1.55" fill="url(#gb)"/>
<circle cx="353.44" cy="198.17" r="1.55" fill="url(#gb)"/>
<circle cx="353.94" cy="198.1" r="1.55" fill="url(#gb)"/>
<circle cx="354.44" cy="198.03" r="1.55" fill="url(#gb)"/>
<circle cx="354.95" cy="197.97" r="1.55" fill="url(#gb)"/>
<circle cx="355.45" cy="197.9" r="1.55" fill="url(#gb)"/>
<circle cx="355.95" cy="197.83" r="1.55" fill="url(#gb)"/>
<circle cx="356.46" cy="197.77" r="1.55" fill="url(#gb)"/>
<circle cx="356.96" cy="197.71" r="1.55" fill="url(#gb)"/>
<circle cx="357.47" cy="197.64" r="1.55" fill="url(#gb)"/>
<circle cx="357.97" cy="197.58" r="1.55" fill="url(#gb)"/>
<circle cx="358.47" cy="197.52" r="1.55" fill="url(#gb)"/>
<circle cx="358.98" cy="197.46" r="1.55" fill="url(#gb)"/>
<circle cx="359.48" cy="197.4" r="1.55" fill="url(#gb)"/>
<circle cx="359.98" cy="197.34" r="1.55" fill="url(#gb)"/>
<circle cx="360.49" cy="197.28" r="1.55" fill="url(#gb)"/>
<circle cx="360.99" cy="197.23" r="1.55" fill="url(#gb)"/>
<circle cx="361.49" cy="197.17" r="1.55" fill="url(#gb)"/>
<circle cx="362" cy="197.12" r="1.55" fill="url(#gb)"/>
<circle cx="362.5" cy="197.06" r="1.55" fill="url(#gb)"/>
<circle cx="363.01" cy="197.01" r="1.55" fill="url(#gb)"/>
<circle cx="363.51" cy="196.96" r="1.55" fill="url(#gb)"/>
<circle cx="364.01" cy="196.91" r="1.55" fill="url(#gb)"/>
<circle cx="364.52" cy="196.86" r="1.55" fill="url(#gb)"/>
<circle cx="365.02" cy="196.81" r="1.55" fill="url(#gb)"/>
<circle cx="365.52" cy="196.76" r="1.55" fill="url(#gb)"/>
<circle cx="366.03" cy="196.72" r="1.55" fill="url(#gb)"/>
<circle cx="366.53" cy="196.67" r="1.55" fill="url(#gb)"/>
<circle cx="367.04" cy="196.63" r="1.55" fill="url(#gb)"/>
<circle cx="367.54" cy="196.59" r="1.55" fill="url(#gb)"/>
<circle cx="368.04" cy="196.55" r="1.55" fill="url(#gb)"/>
<circle cx="368.55" cy="196.51" r="1.55" fill="url(#gb)"/>
<circle cx="369.05" cy="196.47" r="1.55" fill="url(#gb)"/>
<circle cx="369.55" cy="196.43" r="1.55" fill="url(#gb)"/>
<circle cx="370.06" cy="196.39" r="1.55" fill="url(#gb)"/>
<circle cx="370.56" cy="196.36" r="1.55" fill="url(#gb)"/>
<circle cx="371.07" cy="196.32" r="1.55" fill="url(#gb)"/>
<circle cx="371.57" cy="196.29" r="1.55" fill="url(#gb)"/>
<circle cx="372.07" cy="196.26" r="1.55" fill="url(#gb)"/>
<circle cx="372.58" cy="196.22" r="1.55" fill="url(#gb)"/>
<circle cx="373.08" cy="196.19" r="1.55" fill="url(#gb)"/>
<circle cx="373.58" cy="196.16" r="1.55" fill="url(#gb)"/>
<circle cx="374.09" cy="196.13" r="1.55" fill="url(#gb)"/>
<circle cx="374.59" cy="196.1" r="1.55" fill="url(#gb)"/>
<circle cx="375.1" cy="196.07" r="1.55" fill="url(#gb)"/>
<circle cx="375.6" cy="196.04" r="1.55" fill="url(#gb)"/>
<circle cx="376.1" cy="196.01" r="1.55" fill="url(#gb)"/>
<circle cx="376.61" cy="195.98" r="1.55" fill="url(#gb)"/>
<circle cx="377.11" cy="195.95" r="1.55" fill="url(#gb)"/>
<circle cx="377.61" cy="195.93" r="1.55" fill="url(#gb)"/>
<circle cx="378.12" cy="195.9" r="1.55" fill="url(#gb)"/>
<circle cx="378.62" cy="195.87" r="1.55" fill="url(#gb)"/>
<circle cx="379.12" cy="195.84" r="1.55" fill="url(#gb)"/>
<circle cx="379.63" cy="195.81" r="1.55" fill="url(#gb)"/>
<circle cx="380.13" cy="195.79" r="1.55" fill="url(#gb)"/>
<circle cx="380.64" cy="195.76" r="1.55" fill="url(#gb)"/>
<circle cx="381.14" cy="195.73" r="1.55" fill="url(#gb)"/>
<circle cx="381.64" cy="195.7" r="1.55" fill="url(#gb)"/>
<circle cx="382.15" cy="195.67" r="1.55" fill="url(#gb)"/>
<circle cx="382.65" cy="195.65" r="1.55" fill="url(#gb)"/>
<circle cx="383.15" cy="195.62" r="1.55" fill="url(#gb)"/>
<circle cx="383.66" cy="195.59" r="1.55" fill="url(#gb)"/>
<circle cx="384.16" cy="195.56" r="1.55" fill="url(#gb)"/>
<circle cx="384.67" cy="195.53" r="1.55" fill="url(#gb)"/>
<circle cx="385.17" cy="195.5" r="1.55" fill="url(#gb)"/>
<circle cx="385.67" cy="195.47" r="1.55" fill="url(#gb)"/>
<circle cx="386.18" cy="195.44" r="1.55" fill="url(#gb)"/>
<circle cx="386.68" cy="195.41" r="1.55" fill="url(#gb)"/>
<circle cx="387.18" cy="195.38" r="1.55" fill="url(#gb)"/>
<circle cx="387.69" cy="195.35" r="1.55" fill="url(#gb)"/>
<circle cx="388.19" cy="195.32" r="1.55" fill="url(#gb)"/>
<circle cx="388.7" cy="195.29" r="1.55" fill="url(#gb)"/>
<circle cx="389.2" cy="195.26" r="1.55" fill="url(#gb)"/>
<circle cx="389.7" cy="195.22" r="1.55" fill="url(#gb)"/>
<circle cx="390.21" cy="195.19" r="1.55" fill="url(#gb)"/>
<circle cx="390.71" cy="195.16" r="1.55" fill="url(#gb)"/>
<circle cx="391.21" cy="195.12" r="1.55" fill="url(#gb)"/>
<circle cx="391.72" cy="195.09" r="1.55" fill="url(#gb)"/>
<circle cx="392.22" cy="195.05" r="1.55" fill="url(#gb)"/>
<circle cx="392.73" cy="195.02" r="1.55" fill="url(#gb)"/>
<circle cx="393.23" cy="194.98" r="1.55" fill="url(#gb)"/>
<circle cx="393.73" cy="194.95" r="1.55" fill="url(#gb)"/>
<circle cx="394.24" cy="194.91" r="1.55" fill="url(#gb)"/>
<circle cx="394.74" cy="194.88" r="1.55" fill="url(#gb)"/>
<circle cx="395.24" cy="194.84" r="1.55" fill="url(#gb)"/>
<circle cx="395.75" cy="194.81" r="1.55" fill="url(#gb)"/>
<circle cx="396.25" cy="194.77" r="1.55" fill="url(#gb)"/>
<circle cx="396.75" cy="194.73" r="1.55" fill="url(#gb)"/>
<circle cx="397.26" cy="194.7" r="1.55" fill="url(#gb)"/>
<circle cx="397.76" cy="194.66" r="1.55" fill="url(#gb)"/>
<circle cx="398.27" cy="194.62" r="1.55" fill="url(#gb)"/>
<circle cx="398.77" cy="194.59" r="1.55" fill="url(#gb)"/>
<circle cx="399.27" cy="194.55" r="1.55" fill="url(#gb)"/>
<circle cx="399.78" cy="194.51" r="1.55" fill="url(#gb)"/>
<circle cx="400.28" cy="194.48" r="1.55" fill="url(#gb)"/>
<circle cx="400.78" cy="194.44" r="1.55" fill="url(#gb)"/>
<circle cx="401.29" cy="194.4" r="1.55" fill="url(#gb)"/>
<circle cx="401.79" cy="194.37" r="1.55" fill="url(#gb)"/>
<circle cx="402.3" cy="194.33" r="1.55" fill="url(#gb)"/>
<circle cx="402.8" cy="194.3" r="1.55" fill="url(#gb)"/>
<circle cx="403.3" cy="194.26" r="1.55" fill="url(#gb)"/>
<circle cx="403.81" cy="194.22" r="1.55" fill="url(#gb)"/>
<circle cx="404.31" cy="194.19" r="1.55" fill="url(#gb)"/>
<circle cx="404.81" cy="194.15" r="1.55" fill="url(#gb)"/>
<circle cx="405.32" cy="194.12" r="1.55" fill="url(#gb)"/>
<circle cx="405.82" cy="194.08" r="1.55" fill="url(#gb)"/>
<circle cx="406.33" cy="194.04" r="1.55" fill="url(#gb)"/>
<circle cx="406.83" cy="194.01" r="1.55" fill="url(#gb)"/>
<circle cx="407.33" cy="193.97" r="1.55" fill="url(#gb)"/>
<circle cx="407.84" cy="193.94" r="1.55" fill="url(#gb)"/>
<circle cx="408.34" cy="193.9" r="1.55" fill="url(#gb)"/>
<circle cx="408.84" cy="193.87" r="1.55" fill="url(#gb)"/>
<circle cx="409.35" cy="193.84" r="1.55" fill="url(#gb)"/>
<circle cx="409.85" cy="193.8" r="1.55" fill="url(#gb)"/>
<circle cx="410.36" cy="193.77" r="1.55" fill="url(#gb)"/>
<circle cx="410.86" cy="193.73" r="1.55" fill="url(#gb)"/>
<circle cx="411.36" cy="193.7" r="1.55" fill="url(#gb)"/>
<circle cx="411.87" cy="193.67" r="1.55" fill="url(#gb)"/>
<circle cx="412.37" cy="193.64" r="1.55" fill="url(#gb)"/>
<circle cx="412.87" cy="193.6" r="1.55" fill="url(#gb)"/>
<circle cx="413.38" cy="193.57" r="1.55" fill="url(#gb)"/>
<circle cx="413.88" cy="193.54" r="1.55" fill="url(#gb)"/>
<circle cx="414.38" cy="193.5" r="1.55" fill="url(#gb)"/>
<circle cx="414.89" cy="193.47" r="1.55" fill="url(#gb)"/>
<circle cx="415.39" cy="193.44" r="1.55" fill="url(#gb)"/>
<circle cx="415.9" cy="193.41" r="1.55" fill="url(#gb)"/>
<circle cx="416.4" cy="193.37" r="1.55" fill="url(#gb)"/>
<circle cx="416.9" cy="193.34" r="1.55" fill="url(#gb)"/>
<circle cx="417.41" cy="193.31" r="1.55" fill="url(#gb)"/>
<circle cx="417.91" cy="193.28" r="1.55" fill="url(#gb)"/>
<circle cx="418.41" cy="193.24" r="1.55" fill="url(#gb)"/>
<circle cx="418.92" cy="193.21" r="1.55" fill="url(#gb)"/>
<circle cx="419.42" cy="193.18" r="1.55" fill="url(#gb)"/>
<circle cx="419.93" cy="193.15" r="1.55" fill="url(#gb)"/>
<circle cx="420.43" cy="193.12" r="1.55" fill="url(#gb)"/>
<circle cx="420.93" cy="193.08" r="1.55" fill="url(#gb)"/>
<circle cx="421.44" cy="193.05" r="1.55" fill="url(#gb)"/>
<circle cx="421.94" cy="193.02" r="1.55" fill="url(#gb)"/>
<circle cx="422.44" cy="192.99" r="1.55" fill="url(#gb)"/>
<circle cx="422.95" cy="192.96" r="1.55" fill="url(#gb)"/>
<circle cx="423.45" cy="192.93" r="1.55" fill="url(#gb)"/>
<circle cx="423.96" cy="192.9" r="1.55" fill="url(#gb)"/>
<circle cx="424.46" cy="192.87" r="1.55" fill="url(#gb)"/>
<circle cx="424.96" cy="192.83" r="1.55" fill="url(#gb)"/>
<circle cx="425.47" cy="192.8" r="1.55" fill="url(#gb)"/>
<circle cx="425.97" cy="192.77" r="1.55" fill="url(#gb)"/>
<circle cx="426.47" cy="192.74" r="1.55" fill="url(#gb)"/>
<circle cx="426.98" cy="192.71" r="1.55" fill="url(#gb)"/>
<circle cx="427.48" cy="192.68" r="1.55" fill="url(#gb)"/>
<circle cx="427.99" cy="192.65" r="1.55" fill="url(#gb)"/>
<circle cx="428.49" cy="192.62" r="1.55" fill="url(#gb)"/>
<circle cx="428.99" cy="192.59" r="1.55" fill="url(#gb)"/>
<circle cx="429.5" cy="192.56" r="1.55" fill="url(#gb)"/>
<circle cx="430" cy="192.53" r="1.55" fill="url(#gb)"/>
</g>
<circle cx="278.89" cy="293.35" r="2.0" fill="url(#gb)"/>
<circle cx="278.89" cy="303.78" r="2.0" fill="url(#go)"/>
<line x1="319" y1="263.2" x2="337" y2="263.2" stroke="#2a7abf" stroke-width="0.9"/>
<circle cx="328" cy="263.2" r="2.0" fill="url(#gb)"/>
<text x="340" y="266.1" font-size="8.5" text-anchor="start" fill="#222" font-weight="normal">Control</text>
<line x1="319" y1="273.2" x2="337" y2="273.2" stroke="#ff8412" stroke-width="0.9"/>
<circle cx="328" cy="273.2" r="2.0" fill="url(#go)"/>
<text x="340" y="276.1" font-size="8.5" text-anchor="start" fill="#222" font-weight="normal">Target</text>
<text x="458.6" y="174" font-size="13.0" text-anchor="start" fill="#000" font-weight="bold">f</text>
<rect x="486.5" y="185.3" width="175.5" height="140.7" fill="none" stroke="#2b2b2b" stroke-width="1"/>
<line x1="662" y1="185.9" x2="662" y2="325.4" stroke="#ffffff" stroke-width="1.3"/>
<line x1="662" y1="185.8" x2="662" y2="325.5" stroke="#9c9c9c" stroke-width="1.7"/>
<line x1="486.5" y1="326" x2="486.5" y2="329.5" stroke="#2b2b2b" stroke-width="1"/>
<text x="486.5" y="338" font-size="8.5" text-anchor="middle" fill="#222" font-weight="normal">0.0</text>
<line x1="521.6" y1="326" x2="521.6" y2="329.5" stroke="#2b2b2b" stroke-width="1"/>
<text x="521.6" y="338" font-size="8.5" text-anchor="middle" fill="#222" font-weight="normal">0.3</text>
<line x1="556.7" y1="326" x2="556.7" y2="329.5" stroke="#2b2b2b" stroke-width="1"/>
<text x="556.7" y="338" font-size="8.5" text-anchor="middle" fill="#222" font-weight="normal">0.6</text>
<line x1="591.8" y1="326" x2="591.8" y2="329.5" stroke="#2b2b2b" stroke-width="1"/>
<text x="591.8" y="338" font-size="8.5" text-anchor="middle" fill="#222" font-weight="normal">0.9</text>
<line x1="626.9" y1="326" x2="626.9" y2="329.5" stroke="#2b2b2b" stroke-width="1"/>
<text x="626.9" y="338" font-size="8.5" text-anchor="middle" fill="#222" font-weight="normal">1.2</text>
<line x1="662" y1="326" x2="662" y2="329.5" stroke="#2b2b2b" stroke-width="1"/>
<text x="662" y="338" font-size="8.5" text-anchor="middle" fill="#222" font-weight="normal">1.5</text>
<line x1="504.05" y1="326" x2="504.05" y2="328" stroke="#2b2b2b" stroke-width="1"/>
<line x1="539.15" y1="326" x2="539.15" y2="328" stroke="#2b2b2b" stroke-width="1"/>
<line x1="574.25" y1="326" x2="574.25" y2="328" stroke="#2b2b2b" stroke-width="1"/>
<line x1="609.35" y1="326" x2="609.35" y2="328" stroke="#2b2b2b" stroke-width="1"/>
<line x1="644.45" y1="326" x2="644.45" y2="328" stroke="#2b2b2b" stroke-width="1"/>
<line x1="486.5" y1="321.23" x2="483" y2="321.23" stroke="#2b2b2b" stroke-width="1"/>
<text x="481.4" y="324.13" font-size="8.5" text-anchor="end" fill="#222" font-weight="normal">0.0</text>
<line x1="486.5" y1="294.04" x2="483" y2="294.04" stroke="#2b2b2b" stroke-width="1"/>
<text x="481.4" y="296.94" font-size="8.5" text-anchor="end" fill="#222" font-weight="normal">0.5</text>
<line x1="486.5" y1="266.86" x2="483" y2="266.86" stroke="#2b2b2b" stroke-width="1"/>
<text x="481.4" y="269.76" font-size="8.5" text-anchor="end" fill="#222" font-weight="normal">1.0</text>
<line x1="486.5" y1="239.67" x2="483" y2="239.67" stroke="#2b2b2b" stroke-width="1"/>
<text x="481.4" y="242.57" font-size="8.5" text-anchor="end" fill="#222" font-weight="normal">1.5</text>
<line x1="486.5" y1="212.49" x2="483" y2="212.49" stroke="#2b2b2b" stroke-width="1"/>
<text x="481.4" y="215.39" font-size="8.5" text-anchor="end" fill="#222" font-weight="normal">2.0</text>
<line x1="486.5" y1="185.3" x2="483" y2="185.3" stroke="#2b2b2b" stroke-width="1"/>
<text x="481.4" y="188.2" font-size="8.5" text-anchor="end" fill="#222" font-weight="normal">2.5</text>
<line x1="486.5" y1="307.63" x2="484.5" y2="307.63" stroke="#2b2b2b" stroke-width="1"/>
<line x1="486.5" y1="280.45" x2="484.5" y2="280.45" stroke="#2b2b2b" stroke-width="1"/>
<line x1="486.5" y1="253.26" x2="484.5" y2="253.26" stroke="#2b2b2b" stroke-width="1"/>
<line x1="486.5" y1="226.08" x2="484.5" y2="226.08" stroke="#2b2b2b" stroke-width="1"/>
<line x1="486.5" y1="198.89" x2="484.5" y2="198.89" stroke="#2b2b2b" stroke-width="1"/>
<text x="574" y="351" font-size="8.5" text-anchor="middle" fill="#222" font-weight="normal">Voltage (V)</text>
<text x="466" y="256" font-size="8.5" text-anchor="middle" fill="#222" font-weight="normal" transform="rotate(-90 466 256)">C<tspan dy="-3.4" font-size="6">-2</tspan><tspan dy="3.4"> (10</tspan><tspan dy="-3.4" font-size="6">16</tspan><tspan dy="3.4"> F</tspan><tspan dy="-3.4" font-size="6">-2</tspan><tspan dy="3.4">)</tspan></text>
<line x1="532.13" y1="266.86" x2="582.44" y2="321.23" stroke="#3d8fd1" stroke-width="0.9" stroke-dasharray="3.8,1.5,1.4,1.5,1.4,1.5"/>
<line x1="570.74" y1="212.49" x2="593.91" y2="321.23" stroke="#ff8c1a" stroke-width="0.9" stroke-dasharray="3.8,1.5,1.4,1.5,1.4,1.5"/>
<circle cx="486.5" cy="274.47" r="2.2" fill="url(#gb)"/>
<circle cx="492.35" cy="274.36" r="2.2" fill="url(#gb)"/>
<circle cx="498.2" cy="274.25" r="2.2" fill="url(#gb)"/>
<circle cx="504.05" cy="274.14" r="2.2" fill="url(#gb)"/>
<circle cx="509.9" cy="274.14" r="2.2" fill="url(#gb)"/>
<circle cx="515.75" cy="274.14" r="2.2" fill="url(#gb)"/>
<circle cx="521.6" cy="274.25" r="2.2" fill="url(#gb)"/>
<circle cx="527.45" cy="274.36" r="2.2" fill="url(#gb)"/>
<circle cx="533.3" cy="274.69" r="2.2" fill="url(#gb)"/>
<circle cx="539.15" cy="277.4" r="2.2" fill="url(#gb)"/>
<circle cx="545" cy="283.44" r="2.2" fill="url(#gb)"/>
<circle cx="550.85" cy="291.11" r="2.2" fill="url(#gb)"/>
<circle cx="556.7" cy="295.67" r="2.2" fill="url(#gb)"/>
<circle cx="562.55" cy="298.06" r="2.2" fill="url(#gb)"/>
<circle cx="568.4" cy="305.02" r="2.2" fill="url(#gb)"/>
<circle cx="574.25" cy="313.78" r="2.2" fill="url(#gb)"/>
<circle cx="580.1" cy="318.67" r="2.2" fill="url(#gb)"/>
<circle cx="585.95" cy="320.57" r="2.2" fill="url(#gb)"/>
<circle cx="591.8" cy="320.79" r="2.2" fill="url(#gb)"/>
<circle cx="597.65" cy="320.9" r="2.2" fill="url(#gb)"/>
<circle cx="603.5" cy="320.95" r="2.2" fill="url(#gb)"/>
<circle cx="609.35" cy="320.95" r="2.2" fill="url(#gb)"/>
<circle cx="615.2" cy="320.95" r="2.2" fill="url(#gb)"/>
<circle cx="621.05" cy="320.95" r="2.2" fill="url(#gb)"/>
<circle cx="626.9" cy="320.95" r="2.2" fill="url(#gb)"/>
<circle cx="632.75" cy="320.95" r="2.2" fill="url(#gb)"/>
<circle cx="638.6" cy="320.95" r="2.2" fill="url(#gb)"/>
<circle cx="644.45" cy="320.95" r="2.2" fill="url(#gb)"/>
<circle cx="650.3" cy="320.95" r="2.2" fill="url(#gb)"/>
<circle cx="656.15" cy="320.95" r="2.2" fill="url(#gb)"/>
<circle cx="662" cy="320.95" r="2.2" fill="url(#gb)"/>
<circle cx="486.5" cy="211.4" r="2.2" fill="url(#go)"/>
<circle cx="492.35" cy="212.49" r="2.2" fill="url(#go)"/>
<circle cx="498.2" cy="213.03" r="2.2" fill="url(#go)"/>
<circle cx="504.05" cy="214.12" r="2.2" fill="url(#go)"/>
<circle cx="509.9" cy="214.66" r="2.2" fill="url(#go)"/>
<circle cx="515.75" cy="215.2" r="2.2" fill="url(#go)"/>
<circle cx="521.6" cy="215.48" r="2.2" fill="url(#go)"/>
<circle cx="527.45" cy="216.02" r="2.2" fill="url(#go)"/>
<circle cx="533.3" cy="216.56" r="2.2" fill="url(#go)"/>
<circle cx="539.15" cy="217.65" r="2.2" fill="url(#go)"/>
<circle cx="545" cy="219.28" r="2.2" fill="url(#go)"/>
<circle cx="550.85" cy="221.18" r="2.2" fill="url(#go)"/>
<circle cx="556.7" cy="223.9" r="2.2" fill="url(#go)"/>
<circle cx="562.55" cy="227.17" r="2.2" fill="url(#go)"/>
<circle cx="568.4" cy="229.34" r="2.2" fill="url(#go)"/>
<circle cx="574.25" cy="235.86" r="2.2" fill="url(#go)"/>
<circle cx="580.1" cy="252.94" r="2.2" fill="url(#go)"/>
<circle cx="585.95" cy="282.35" r="2.2" fill="url(#go)"/>
<circle cx="591.8" cy="308.99" r="2.2" fill="url(#go)"/>
<circle cx="597.65" cy="319.6" r="2.2" fill="url(#go)"/>
<circle cx="603.5" cy="321.23" r="2.2" fill="url(#go)"/>
<circle cx="609.35" cy="321.23" r="2.2" fill="url(#go)"/>
<circle cx="615.2" cy="321.23" r="2.2" fill="url(#go)"/>
<circle cx="621.05" cy="321.23" r="2.2" fill="url(#go)"/>
<circle cx="626.9" cy="321.23" r="2.2" fill="url(#go)"/>
<circle cx="632.75" cy="321.23" r="2.2" fill="url(#go)"/>
<circle cx="638.6" cy="321.23" r="2.2" fill="url(#go)"/>
<circle cx="644.45" cy="321.23" r="2.2" fill="url(#go)"/>
<circle cx="650.3" cy="321.23" r="2.2" fill="url(#go)"/>
<circle cx="656.15" cy="321.23" r="2.2" fill="url(#go)"/>
<circle cx="662" cy="321.23" r="2.2" fill="url(#go)"/>
<circle cx="574.6" cy="194.2" r="2.1" fill="url(#gb)"/>
<circle cx="574.6" cy="204.7" r="2.1" fill="url(#go)"/>
<text x="586" y="197.1" font-size="8.5" text-anchor="start" fill="#222" font-weight="normal">Control</text>
<text x="586" y="207.6" font-size="8.5" text-anchor="start" fill="#222" font-weight="normal">Target</text>
<text x="616.2" y="197.1" font-size="8.5" text-anchor="start" fill="#222" font-weight="normal"><tspan font-style="italic">V</tspan><tspan font-size="5.5" dy="1.5">bi</tspan><tspan dy="-1.5">= 0.92 V</tspan></text>
<text x="617.5" y="207.6" font-size="8.5" text-anchor="start" fill="#222" font-weight="normal"><tspan font-style="italic">V</tspan><tspan font-size="5.5" dy="1.5">bi</tspan><tspan dy="-1.5">= 0.81 V</tspan></text>
<text x="4.3" y="358.9" font-size="13.0" text-anchor="start" fill="#000" font-weight="bold">g</text>
<ellipse cx="147" cy="539" rx="57" ry="9.5" fill="#9a9a9a" opacity="0.72" filter="url(#blur6)"/>
<clipPath id="cr"><rect x="12.1" y="369.2" width="56.8" height="32.1"/></clipPath>
<g clip-path="url(#cr)">
<rect x="12.1" y="369.2" width="56.8" height="32.1" fill="#cacac8"/>
<rect x="12.1" y="369.2" width="56.8" height="4.0" fill="#b4b4b2"/>
<rect x="12.1" y="396.9" width="56.8" height="4.4" fill="#b6b6b4"/>
<line x1="12.3" y1="369.2" x2="12.3" y2="373.2" stroke="#5e5e5c" stroke-width="0.4"/>
<line x1="12.3" y1="401.3" x2="12.3" y2="396.9" stroke="#5e5e5c" stroke-width="0.4"/>
<line x1="13.22" y1="369.2" x2="13.22" y2="373.2" stroke="#5e5e5c" stroke-width="0.4"/>
<line x1="13.22" y1="401.3" x2="13.22" y2="396.9" stroke="#5e5e5c" stroke-width="0.4"/>
<line x1="14.14" y1="369.2" x2="14.14" y2="373.2" stroke="#5e5e5c" stroke-width="0.4"/>
<line x1="14.14" y1="401.3" x2="14.14" y2="396.9" stroke="#5e5e5c" stroke-width="0.4"/>
<line x1="15.06" y1="369.2" x2="15.06" y2="373.2" stroke="#5e5e5c" stroke-width="0.4"/>
<line x1="15.06" y1="401.3" x2="15.06" y2="396.9" stroke="#5e5e5c" stroke-width="0.4"/>
<line x1="15.98" y1="369.2" x2="15.98" y2="373.2" stroke="#5e5e5c" stroke-width="0.4"/>
<line x1="15.98" y1="401.3" x2="15.98" y2="396.9" stroke="#5e5e5c" stroke-width="0.4"/>
<line x1="16.9" y1="369.2" x2="16.9" y2="373.2" stroke="#5e5e5c" stroke-width="0.4"/>
<line x1="16.9" y1="401.3" x2="16.9" y2="396.9" stroke="#5e5e5c" stroke-width="0.4"/>
<line x1="17.82" y1="369.2" x2="17.82" y2="373.2" stroke="#5e5e5c" stroke-width="0.4"/>
<line x1="17.82" y1="401.3" x2="17.82" y2="396.9" stroke="#5e5e5c" stroke-width="0.4"/>
<line x1="18.74" y1="369.2" x2="18.74" y2="373.2" stroke="#5e5e5c" stroke-width="0.4"/>
<line x1="18.74" y1="401.3" x2="18.74" y2="396.9" stroke="#5e5e5c" stroke-width="0.4"/>
<line x1="19.66" y1="369.2" x2="19.66" y2="373.2" stroke="#5e5e5c" stroke-width="0.4"/>
<line x1="19.66" y1="401.3" x2="19.66" y2="396.9" stroke="#5e5e5c" stroke-width="0.4"/>
<line x1="20.58" y1="369.2" x2="20.58" y2="373.2" stroke="#5e5e5c" stroke-width="0.4"/>
<line x1="20.58" y1="401.3" x2="20.58" y2="396.9" stroke="#5e5e5c" stroke-width="0.4"/>
<line x1="21.5" y1="369.2" x2="21.5" y2="373.2" stroke="#5e5e5c" stroke-width="0.4"/>
<line x1="21.5" y1="401.3" x2="21.5" y2="396.9" stroke="#5e5e5c" stroke-width="0.4"/>
<line x1="22.42" y1="369.2" x2="22.42" y2="373.2" stroke="#5e5e5c" stroke-width="0.4"/>
<line x1="22.42" y1="401.3" x2="22.42" y2="396.9" stroke="#5e5e5c" stroke-width="0.4"/>
<line x1="23.34" y1="369.2" x2="23.34" y2="373.2" stroke="#5e5e5c" stroke-width="0.4"/>
<line x1="23.34" y1="401.3" x2="23.34" y2="396.9" stroke="#5e5e5c" stroke-width="0.4"/>
<line x1="24.26" y1="369.2" x2="24.26" y2="373.2" stroke="#5e5e5c" stroke-width="0.4"/>
<line x1="24.26" y1="401.3" x2="24.26" y2="396.9" stroke="#5e5e5c" stroke-width="0.4"/>
<line x1="25.18" y1="369.2" x2="25.18" y2="373.2" stroke="#5e5e5c" stroke-width="0.4"/>
<line x1="25.18" y1="401.3" x2="25.18" y2="396.9" stroke="#5e5e5c" stroke-width="0.4"/>
<line x1="26.1" y1="369.2" x2="26.1" y2="373.2" stroke="#5e5e5c" stroke-width="0.4"/>
<line x1="26.1" y1="401.3" x2="26.1" y2="396.9" stroke="#5e5e5c" stroke-width="0.4"/>
<line x1="27.02" y1="369.2" x2="27.02" y2="373.2" stroke="#5e5e5c" stroke-width="0.4"/>
<line x1="27.02" y1="401.3" x2="27.02" y2="396.9" stroke="#5e5e5c" stroke-width="0.4"/>
<line x1="27.94" y1="369.2" x2="27.94" y2="373.2" stroke="#5e5e5c" stroke-width="0.4"/>
<line x1="27.94" y1="401.3" x2="27.94" y2="396.9" stroke="#5e5e5c" stroke-width="0.4"/>
<line x1="28.86" y1="369.2" x2="28.86" y2="373.2" stroke="#5e5e5c" stroke-width="0.4"/>
<line x1="28.86" y1="401.3" x2="28.86" y2="396.9" stroke="#5e5e5c" stroke-width="0.4"/>
<line x1="29.78" y1="369.2" x2="29.78" y2="373.2" stroke="#5e5e5c" stroke-width="0.4"/>
<line x1="29.78" y1="401.3" x2="29.78" y2="396.9" stroke="#5e5e5c" stroke-width="0.4"/>
<line x1="30.7" y1="369.2" x2="30.7" y2="373.2" stroke="#5e5e5c" stroke-width="0.4"/>
<line x1="30.7" y1="401.3" x2="30.7" y2="396.9" stroke="#5e5e5c" stroke-width="0.4"/>
<line x1="31.62" y1="369.2" x2="31.62" y2="373.2" stroke="#5e5e5c" stroke-width="0.4"/>
<line x1="31.62" y1="401.3" x2="31.62" y2="396.9" stroke="#5e5e5c" stroke-width="0.4"/>
<line x1="32.54" y1="369.2" x2="32.54" y2="373.2" stroke="#5e5e5c" stroke-width="0.4"/>
<line x1="32.54" y1="401.3" x2="32.54" y2="396.9" stroke="#5e5e5c" stroke-width="0.4"/>
<line x1="33.46" y1="369.2" x2="33.46" y2="373.2" stroke="#5e5e5c" stroke-width="0.4"/>
<line x1="33.46" y1="401.3" x2="33.46" y2="396.9" stroke="#5e5e5c" stroke-width="0.4"/>
<line x1="34.38" y1="369.2" x2="34.38" y2="373.2" stroke="#5e5e5c" stroke-width="0.4"/>
<line x1="34.38" y1="401.3" x2="34.38" y2="396.9" stroke="#5e5e5c" stroke-width="0.4"/>
<line x1="35.3" y1="369.2" x2="35.3" y2="373.2" stroke="#5e5e5c" stroke-width="0.4"/>
<line x1="35.3" y1="401.3" x2="35.3" y2="396.9" stroke="#5e5e5c" stroke-width="0.4"/>
<line x1="36.22" y1="369.2" x2="36.22" y2="373.2" stroke="#5e5e5c" stroke-width="0.4"/>
<line x1="36.22" y1="401.3" x2="36.22" y2="396.9" stroke="#5e5e5c" stroke-width="0.4"/>
<line x1="37.14" y1="369.2" x2="37.14" y2="373.2" stroke="#5e5e5c" stroke-width="0.4"/>
<line x1="37.14" y1="401.3" x2="37.14" y2="396.9" stroke="#5e5e5c" stroke-width="0.4"/>
<line x1="38.06" y1="369.2" x2="38.06" y2="373.2" stroke="#5e5e5c" stroke-width="0.4"/>
<line x1="38.06" y1="401.3" x2="38.06" y2="396.9" stroke="#5e5e5c" stroke-width="0.4"/>
<line x1="38.98" y1="369.2" x2="38.98" y2="373.2" stroke="#5e5e5c" stroke-width="0.4"/>
<line x1="38.98" y1="401.3" x2="38.98" y2="396.9" stroke="#5e5e5c" stroke-width="0.4"/>
<line x1="39.9" y1="369.2" x2="39.9" y2="373.2" stroke="#5e5e5c" stroke-width="0.4"/>
<line x1="39.9" y1="401.3" x2="39.9" y2="396.9" stroke="#5e5e5c" stroke-width="0.4"/>
<line x1="40.82" y1="369.2" x2="40.82" y2="373.2" stroke="#5e5e5c" stroke-width="0.4"/>
<line x1="40.82" y1="401.3" x2="40.82" y2="396.9" stroke="#5e5e5c" stroke-width="0.4"/>
<line x1="41.74" y1="369.2" x2="41.74" y2="373.2" stroke="#5e5e5c" stroke-width="0.4"/>
<line x1="41.74" y1="401.3" x2="41.74" y2="396.9" stroke="#5e5e5c" stroke-width="0.4"/>
<line x1="42.66" y1="369.2" x2="42.66" y2="373.2" stroke="#5e5e5c" stroke-width="0.4"/>
<line x1="42.66" y1="401.3" x2="42.66" y2="396.9" stroke="#5e5e5c" stroke-width="0.4"/>
<line x1="43.58" y1="369.2" x2="43.58" y2="373.2" stroke="#5e5e5c" stroke-width="0.4"/>
<line x1="43.58" y1="401.3" x2="43.58" y2="396.9" stroke="#5e5e5c" stroke-width="0.4"/>
<line x1="44.5" y1="369.2" x2="44.5" y2="373.2" stroke="#5e5e5c" stroke-width="0.4"/>
<line x1="44.5" y1="401.3" x2="44.5" y2="396.9" stroke="#5e5e5c" stroke-width="0.4"/>
<line x1="45.42" y1="369.2" x2="45.42" y2="373.2" stroke="#5e5e5c" stroke-width="0.4"/>
<line x1="45.42" y1="401.3" x2="45.42" y2="396.9" stroke="#5e5e5c" stroke-width="0.4"/>
<line x1="46.34" y1="369.2" x2="46.34" y2="373.2" stroke="#5e5e5c" stroke-width="0.4"/>
<line x1="46.34" y1="401.3" x2="46.34" y2="396.9" stroke="#5e5e5c" stroke-width="0.4"/>
<line x1="47.26" y1="369.2" x2="47.26" y2="373.2" stroke="#5e5e5c" stroke-width="0.4"/>
<line x1="47.26" y1="401.3" x2="47.26" y2="396.9" stroke="#5e5e5c" stroke-width="0.4"/>
<line x1="48.18" y1="369.2" x2="48.18" y2="373.2" stroke="#5e5e5c" stroke-width="0.4"/>
<line x1="48.18" y1="401.3" x2="48.18" y2="396.9" stroke="#5e5e5c" stroke-width="0.4"/>
<line x1="49.1" y1="369.2" x2="49.1" y2="373.2" stroke="#5e5e5c" stroke-width="0.4"/>
<line x1="49.1" y1="401.3" x2="49.1" y2="396.9" stroke="#5e5e5c" stroke-width="0.4"/>
<line x1="50.02" y1="369.2" x2="50.02" y2="373.2" stroke="#5e5e5c" stroke-width="0.4"/>
<line x1="50.02" y1="401.3" x2="50.02" y2="396.9" stroke="#5e5e5c" stroke-width="0.4"/>
<line x1="50.94" y1="369.2" x2="50.94" y2="373.2" stroke="#5e5e5c" stroke-width="0.4"/>
<line x1="50.94" y1="401.3" x2="50.94" y2="396.9" stroke="#5e5e5c" stroke-width="0.4"/>
<line x1="51.86" y1="369.2" x2="51.86" y2="373.2" stroke="#5e5e5c" stroke-width="0.4"/>
<line x1="51.86" y1="401.3" x2="51.86" y2="396.9" stroke="#5e5e5c" stroke-width="0.4"/>
<line x1="52.78" y1="369.2" x2="52.78" y2="373.2" stroke="#5e5e5c" stroke-width="0.4"/>
<line x1="52.78" y1="401.3" x2="52.78" y2="396.9" stroke="#5e5e5c" stroke-width="0.4"/>
<line x1="53.7" y1="369.2" x2="53.7" y2="373.2" stroke="#5e5e5c" stroke-width="0.4"/>
<line x1="53.7" y1="401.3" x2="53.7" y2="396.9" stroke="#5e5e5c" stroke-width="0.4"/>
<line x1="54.62" y1="369.2" x2="54.62" y2="373.2" stroke="#5e5e5c" stroke-width="0.4"/>
<line x1="54.62" y1="401.3" x2="54.62" y2="396.9" stroke="#5e5e5c" stroke-width="0.4"/>
<line x1="55.54" y1="369.2" x2="55.54" y2="373.2" stroke="#5e5e5c" stroke-width="0.4"/>
<line x1="55.54" y1="401.3" x2="55.54" y2="396.9" stroke="#5e5e5c" stroke-width="0.4"/>
<line x1="56.46" y1="369.2" x2="56.46" y2="373.2" stroke="#5e5e5c" stroke-width="0.4"/>
<line x1="56.46" y1="401.3" x2="56.46" y2="396.9" stroke="#5e5e5c" stroke-width="0.4"/>
<line x1="57.38" y1="369.2" x2="57.38" y2="373.2" stroke="#5e5e5c" stroke-width="0.4"/>
<line x1="57.38" y1="401.3" x2="57.38" y2="396.9" stroke="#5e5e5c" stroke-width="0.4"/>
<line x1="58.3" y1="369.2" x2="58.3" y2="373.2" stroke="#5e5e5c" stroke-width="0.4"/>
<line x1="58.3" y1="401.3" x2="58.3" y2="396.9" stroke="#5e5e5c" stroke-width="0.4"/>
<line x1="59.22" y1="369.2" x2="59.22" y2="373.2" stroke="#5e5e5c" stroke-width="0.4"/>
<line x1="59.22" y1="401.3" x2="59.22" y2="396.9" stroke="#5e5e5c" stroke-width="0.4"/>
<line x1="60.14" y1="369.2" x2="60.14" y2="373.2" stroke="#5e5e5c" stroke-width="0.4"/>
<line x1="60.14" y1="401.3" x2="60.14" y2="396.9" stroke="#5e5e5c" stroke-width="0.4"/>
<line x1="61.06" y1="369.2" x2="61.06" y2="373.2" stroke="#5e5e5c" stroke-width="0.4"/>
<line x1="61.06" y1="401.3" x2="61.06" y2="396.9" stroke="#5e5e5c" stroke-width="0.4"/>
<line x1="61.98" y1="369.2" x2="61.98" y2="373.2" stroke="#5e5e5c" stroke-width="0.4"/>
<line x1="61.98" y1="401.3" x2="61.98" y2="396.9" stroke="#5e5e5c" stroke-width="0.4"/>
<line x1="62.9" y1="369.2" x2="62.9" y2="373.2" stroke="#5e5e5c" stroke-width="0.4"/>
<line x1="62.9" y1="401.3" x2="62.9" y2="396.9" stroke="#5e5e5c" stroke-width="0.4"/>
<line x1="63.82" y1="369.2" x2="63.82" y2="373.2" stroke="#5e5e5c" stroke-width="0.4"/>
<line x1="63.82" y1="401.3" x2="63.82" y2="396.9" stroke="#5e5e5c" stroke-width="0.4"/>
<line x1="64.74" y1="369.2" x2="64.74" y2="373.2" stroke="#5e5e5c" stroke-width="0.4"/>
<line x1="64.74" y1="401.3" x2="64.74" y2="396.9" stroke="#5e5e5c" stroke-width="0.4"/>
<line x1="65.66" y1="369.2" x2="65.66" y2="373.2" stroke="#5e5e5c" stroke-width="0.4"/>
<line x1="65.66" y1="401.3" x2="65.66" y2="396.9" stroke="#5e5e5c" stroke-width="0.4"/>
<line x1="66.58" y1="369.2" x2="66.58" y2="373.2" stroke="#5e5e5c" stroke-width="0.4"/>
<line x1="66.58" y1="401.3" x2="66.58" y2="396.9" stroke="#5e5e5c" stroke-width="0.4"/>
<line x1="67.5" y1="369.2" x2="67.5" y2="373.2" stroke="#5e5e5c" stroke-width="0.4"/>
<line x1="67.5" y1="401.3" x2="67.5" y2="396.9" stroke="#5e5e5c" stroke-width="0.4"/>
<line x1="68.42" y1="369.2" x2="68.42" y2="373.2" stroke="#5e5e5c" stroke-width="0.4"/>
<line x1="68.42" y1="401.3" x2="68.42" y2="396.9" stroke="#5e5e5c" stroke-width="0.4"/>
<line x1="69.34" y1="369.2" x2="69.34" y2="373.2" stroke="#5e5e5c" stroke-width="0.4"/>
<line x1="69.34" y1="401.3" x2="69.34" y2="396.9" stroke="#5e5e5c" stroke-width="0.4"/>
<line x1="70.26" y1="369.2" x2="70.26" y2="373.2" stroke="#5e5e5c" stroke-width="0.4"/>
<line x1="70.26" y1="401.3" x2="70.26" y2="396.9" stroke="#5e5e5c" stroke-width="0.4"/>
<line x1="15.2" y1="373" x2="15.2" y2="376.5" stroke="#777" stroke-width="0.5"/>
<line x1="15.2" y1="397" x2="15.2" y2="393.5" stroke="#777" stroke-width="0.5"/>
<line x1="24.4" y1="373" x2="24.4" y2="375" stroke="#777" stroke-width="0.5"/>
<line x1="24.4" y1="397" x2="24.4" y2="395" stroke="#777" stroke-width="0.5"/>
<line x1="33.6" y1="373" x2="33.6" y2="376.5" stroke="#777" stroke-width="0.5"/>
<line x1="33.6" y1="397" x2="33.6" y2="393.5" stroke="#777" stroke-width="0.5"/>
<line x1="42.8" y1="373" x2="42.8" y2="375" stroke="#777" stroke-width="0.5"/>
<line x1="42.8" y1="397" x2="42.8" y2="395" stroke="#777" stroke-width="0.5"/>
<line x1="52" y1="373" x2="52" y2="376.5" stroke="#777" stroke-width="0.5"/>
<line x1="52" y1="397" x2="52" y2="393.5" stroke="#777" stroke-width="0.5"/>
<line x1="61.2" y1="373" x2="61.2" y2="375" stroke="#777" stroke-width="0.5"/>
<line x1="61.2" y1="397" x2="61.2" y2="395" stroke="#777" stroke-width="0.5"/>
<line x1="70.4" y1="373" x2="70.4" y2="376.5" stroke="#777" stroke-width="0.5"/>
<line x1="70.4" y1="397" x2="70.4" y2="393.5" stroke="#777" stroke-width="0.5"/>
<text x="15.2" y="389.2" font-size="10" text-anchor="middle" fill="#2e2e2e" font-weight="normal">30</text>
<text x="33.6" y="389.2" font-size="10" text-anchor="middle" fill="#2e2e2e" font-weight="normal">40</text>
<text x="52" y="389.2" font-size="10" text-anchor="middle" fill="#2e2e2e" font-weight="normal">50</text>
<text x="70.4" y="389.2" font-size="10" text-anchor="middle" fill="#2e2e2e" font-weight="normal">60</text>
</g>
<rect x="12.1" y="401.3" width="56.8" height="111.7" fill="#27292d"/>
<rect x="12.1" y="401.3" width="2.3" height="111.7" fill="#5a5c60"/>
<rect x="12.1" y="401.3" width="2.0" height="18" fill="#d8dce4"/>
<line x1="14.4" y1="412.7" x2="68.9" y2="412.7" stroke="#7f7064" stroke-width="0.7"/>
<line x1="14.4" y1="423.4" x2="68.9" y2="423.4" stroke="#4a4c52" stroke-width="0.7"/>
<line x1="14.4" y1="433.1" x2="68.9" y2="433.1" stroke="#4a4c52" stroke-width="0.7"/>
<line x1="14.4" y1="442.4" x2="68.9" y2="442.4" stroke="#4a4c52" stroke-width="0.7"/>
<line x1="14.4" y1="452" x2="68.9" y2="452" stroke="#4a4c52" stroke-width="0.7"/>
<line x1="14.4" y1="461.5" x2="68.9" y2="461.5" stroke="#4a4c52" stroke-width="0.7"/>
<line x1="14.4" y1="471.6" x2="68.9" y2="471.6" stroke="#4a4c52" stroke-width="0.7"/>
<line x1="14.4" y1="481.4" x2="68.9" y2="481.4" stroke="#4a4c52" stroke-width="0.7"/>
<line x1="14.4" y1="491.5" x2="68.9" y2="491.5" stroke="#4a4c52" stroke-width="0.7"/>
<line x1="14.4" y1="501.3" x2="68.9" y2="501.3" stroke="#4a4c52" stroke-width="0.7"/>
<radialGradient id="vig" cx="0.5" cy="0.5" r="0.5"><stop offset="0.6" stop-color="#53708a"/><stop offset="0.93" stop-color="#4b6480"/><stop offset="1" stop-color="#3f5570"/></radialGradient>
<ellipse cx="146" cy="441.7" rx="75" ry="72.5" fill="#242528"/>
<ellipse cx="145.2" cy="441.2" rx="70.2" ry="69.6" fill="#3e4045"/>
<circle cx="146.6" cy="440.6" r="67.4" fill="url(#vig)"/>
<circle cx="146.6" cy="440.6" r="67.4" fill="#54738f" filter="url(#noise)" opacity="0.5"/>
<clipPath id="cg"><circle cx="146.6" cy="440.6" r="67.4"/></clipPath>
<g clip-path="url(#cg)">
<rect x="79" y="443.2" width="136" height="3.1" fill="#34477a"/>
<rect x="79" y="446.2" width="136" height="5.7" fill="#e6e3c6"/>
<rect x="80.5" y="446.6" width="1.2" height="4.8" fill="#cfc7a0" opacity="0.55"/>
<rect x="83.55" y="446.6" width="1.2" height="4.8" fill="#cfc7a0" opacity="0.55"/>
<rect x="86.6" y="446.6" width="1.2" height="4.8" fill="#cfc7a0" opacity="0.55"/>
<rect x="89.65" y="446.6" width="1.2" height="4.8" fill="#cfc7a0" opacity="0.55"/>
<rect x="92.7" y="446.6" width="1.2" height="4.8" fill="#cfc7a0" opacity="0.55"/>
<rect x="95.75" y="446.6" width="1.2" height="4.8" fill="#cfc7a0" opacity="0.55"/>
<rect x="98.8" y="446.6" width="1.2" height="4.8" fill="#cfc7a0" opacity="0.55"/>
<rect x="101.85" y="446.6" width="1.2" height="4.8" fill="#cfc7a0" opacity="0.55"/>
<rect x="104.9" y="446.6" width="1.2" height="4.8" fill="#cfc7a0" opacity="0.55"/>
<rect x="107.95" y="446.6" width="1.2" height="4.8" fill="#cfc7a0" opacity="0.55"/>
<rect x="111" y="446.6" width="1.2" height="4.8" fill="#cfc7a0" opacity="0.55"/>
<rect x="114.05" y="446.6" width="1.2" height="4.8" fill="#cfc7a0" opacity="0.55"/>
<rect x="117.1" y="446.6" width="1.2" height="4.8" fill="#cfc7a0" opacity="0.55"/>
<rect x="120.15" y="446.6" width="1.2" height="4.8" fill="#cfc7a0" opacity="0.55"/>
<rect x="123.2" y="446.6" width="1.2" height="4.8" fill="#cfc7a0" opacity="0.55"/>
<rect x="126.25" y="446.6" width="1.2" height="4.8" fill="#cfc7a0" opacity="0.55"/>
<rect x="129.3" y="446.6" width="1.2" height="4.8" fill="#cfc7a0" opacity="0.55"/>
<rect x="132.35" y="446.6" width="1.2" height="4.8" fill="#cfc7a0" opacity="0.55"/>
<rect x="135.4" y="446.6" width="1.2" height="4.8" fill="#cfc7a0" opacity="0.55"/>
<rect x="138.45" y="446.6" width="1.2" height="4.8" fill="#cfc7a0" opacity="0.55"/>
<rect x="141.5" y="446.6" width="1.2" height="4.8" fill="#cfc7a0" opacity="0.55"/>
<rect x="144.55" y="446.6" width="1.2" height="4.8" fill="#cfc7a0" opacity="0.55"/>
<rect x="147.6" y="446.6" width="1.2" height="4.8" fill="#cfc7a0" opacity="0.55"/>
<rect x="150.65" y="446.6" width="1.2" height="4.8" fill="#cfc7a0" opacity="0.55"/>
<rect x="153.7" y="446.6" width="1.2" height="4.8" fill="#cfc7a0" opacity="0.55"/>
<rect x="156.75" y="446.6" width="1.2" height="4.8" fill="#cfc7a0" opacity="0.55"/>
<rect x="159.8" y="446.6" width="1.2" height="4.8" fill="#cfc7a0" opacity="0.55"/>
<rect x="162.85" y="446.6" width="1.2" height="4.8" fill="#cfc7a0" opacity="0.55"/>
<rect x="165.9" y="446.6" width="1.2" height="4.8" fill="#cfc7a0" opacity="0.55"/>
<rect x="168.95" y="446.6" width="1.2" height="4.8" fill="#cfc7a0" opacity="0.55"/>
<rect x="172" y="446.6" width="1.2" height="4.8" fill="#cfc7a0" opacity="0.55"/>
<rect x="175.05" y="446.6" width="1.2" height="4.8" fill="#cfc7a0" opacity="0.55"/>
<rect x="178.1" y="446.6" width="1.2" height="4.8" fill="#cfc7a0" opacity="0.55"/>
<rect x="181.15" y="446.6" width="1.2" height="4.8" fill="#cfc7a0" opacity="0.55"/>
<rect x="184.2" y="446.6" width="1.2" height="4.8" fill="#cfc7a0" opacity="0.55"/>
<rect x="187.25" y="446.6" width="1.2" height="4.8" fill="#cfc7a0" opacity="0.55"/>
<rect x="190.3" y="446.6" width="1.2" height="4.8" fill="#cfc7a0" opacity="0.55"/>
<rect x="193.35" y="446.6" width="1.2" height="4.8" fill="#cfc7a0" opacity="0.55"/>
<rect x="196.4" y="446.6" width="1.2" height="4.8" fill="#cfc7a0" opacity="0.55"/>
<rect x="199.45" y="446.6" width="1.2" height="4.8" fill="#cfc7a0" opacity="0.55"/>
<rect x="202.5" y="446.6" width="1.2" height="4.8" fill="#cfc7a0" opacity="0.55"/>
<rect x="205.55" y="446.6" width="1.2" height="4.8" fill="#cfc7a0" opacity="0.55"/>
<rect x="208.6" y="446.6" width="1.2" height="4.8" fill="#cfc7a0" opacity="0.55"/>
<rect x="211.65" y="446.6" width="1.2" height="4.8" fill="#cfc7a0" opacity="0.55"/>
<rect x="214.7" y="446.6" width="1.2" height="4.8" fill="#cfc7a0" opacity="0.55"/>
<rect x="79" y="451.8" width="136" height="0.8" fill="#a9abb8"/>
<rect x="79" y="452.5" width="136" height="4.1" fill="#e8eaf5"/>
<line x1="145.7" y1="373" x2="145.7" y2="508" stroke="#34445a" stroke-width="0.6" opacity="0.55"/>
<line x1="144.5" y1="374.7" x2="146.9" y2="374.7" stroke="#34445a" stroke-width="0.4" opacity="0.7"/>
<line x1="144.5" y1="379.8" x2="146.9" y2="379.8" stroke="#34445a" stroke-width="0.4" opacity="0.7"/>
<line x1="144.5" y1="384.9" x2="146.9" y2="384.9" stroke="#34445a" stroke-width="0.4" opacity="0.7"/>
<line x1="144.5" y1="390" x2="146.9" y2="390" stroke="#34445a" stroke-width="0.4" opacity="0.7"/>
<line x1="144.5" y1="395.1" x2="146.9" y2="395.1" stroke="#34445a" stroke-width="0.4" opacity="0.7"/>
<line x1="144.5" y1="400.2" x2="146.9" y2="400.2" stroke="#34445a" stroke-width="0.4" opacity="0.7"/>
<line x1="144.5" y1="405.3" x2="146.9" y2="405.3" stroke="#34445a" stroke-width="0.4" opacity="0.7"/>
<line x1="144.5" y1="410.4" x2="146.9" y2="410.4" stroke="#34445a" stroke-width="0.4" opacity="0.7"/>
<line x1="144.5" y1="415.5" x2="146.9" y2="415.5" stroke="#34445a" stroke-width="0.4" opacity="0.7"/>
<line x1="144.5" y1="420.6" x2="146.9" y2="420.6" stroke="#34445a" stroke-width="0.4" opacity="0.7"/>
<line x1="144.5" y1="425.7" x2="146.9" y2="425.7" stroke="#34445a" stroke-width="0.4" opacity="0.7"/>
<line x1="144.5" y1="430.8" x2="146.9" y2="430.8" stroke="#34445a" stroke-width="0.4" opacity="0.7"/>
<line x1="144.5" y1="435.9" x2="146.9" y2="435.9" stroke="#34445a" stroke-width="0.4" opacity="0.7"/>
<line x1="144.5" y1="441" x2="146.9" y2="441" stroke="#34445a" stroke-width="0.4" opacity="0.7"/>
<line x1="144.5" y1="446.1" x2="146.9" y2="446.1" stroke="#34445a" stroke-width="0.4" opacity="0.7"/>
<line x1="144.5" y1="451.2" x2="146.9" y2="451.2" stroke="#34445a" stroke-width="0.4" opacity="0.7"/>
<line x1="144.5" y1="456.3" x2="146.9" y2="456.3" stroke="#34445a" stroke-width="0.4" opacity="0.7"/>
<line x1="144.5" y1="461.4" x2="146.9" y2="461.4" stroke="#34445a" stroke-width="0.4" opacity="0.7"/>
<line x1="144.5" y1="466.5" x2="146.9" y2="466.5" stroke="#34445a" stroke-width="0.4" opacity="0.7"/>
<line x1="144.5" y1="471.6" x2="146.9" y2="471.6" stroke="#34445a" stroke-width="0.4" opacity="0.7"/>
<line x1="144.5" y1="476.7" x2="146.9" y2="476.7" stroke="#34445a" stroke-width="0.4" opacity="0.7"/>
<line x1="144.5" y1="481.8" x2="146.9" y2="481.8" stroke="#34445a" stroke-width="0.4" opacity="0.7"/>
<line x1="144.5" y1="486.9" x2="146.9" y2="486.9" stroke="#34445a" stroke-width="0.4" opacity="0.7"/>
<line x1="144.5" y1="492" x2="146.9" y2="492" stroke="#34445a" stroke-width="0.4" opacity="0.7"/>
<line x1="144.5" y1="497.1" x2="146.9" y2="497.1" stroke="#34445a" stroke-width="0.4" opacity="0.7"/>
<line x1="144.5" y1="502.2" x2="146.9" y2="502.2" stroke="#34445a" stroke-width="0.4" opacity="0.7"/>
<line x1="144.5" y1="507.3" x2="146.9" y2="507.3" stroke="#34445a" stroke-width="0.4" opacity="0.7"/>
<rect x="157" y="378.5" width="2" height="2.6" fill="#34404f" opacity="0.7"/>
<rect x="133" y="378.5" width="2" height="2.6" fill="#34404f" opacity="0.7"/>
<rect x="157" y="398.9" width="2" height="2.6" fill="#34404f" opacity="0.7"/>
<rect x="133" y="398.9" width="2" height="2.6" fill="#34404f" opacity="0.7"/>
<rect x="157" y="419.3" width="2" height="2.6" fill="#34404f" opacity="0.7"/>
<rect x="133" y="419.3" width="2" height="2.6" fill="#34404f" opacity="0.7"/>
<rect x="157" y="439.7" width="2" height="2.6" fill="#34404f" opacity="0.7"/>
<rect x="133" y="439.7" width="2" height="2.6" fill="#34404f" opacity="0.7"/>
<rect x="157" y="460.1" width="2" height="2.6" fill="#34404f" opacity="0.7"/>
<rect x="133" y="460.1" width="2" height="2.6" fill="#34404f" opacity="0.7"/>
<rect x="157" y="480.5" width="2" height="2.6" fill="#34404f" opacity="0.7"/>
<rect x="133" y="480.5" width="2" height="2.6" fill="#34404f" opacity="0.7"/>
<rect x="157" y="500.9" width="2" height="2.6" fill="#34404f" opacity="0.7"/>
<rect x="133" y="500.9" width="2" height="2.6" fill="#34404f" opacity="0.7"/>
</g>
<text x="0" y="0" font-size="6.5" fill="#2a2e36" transform="translate(107.5,445) rotate(90)" text-anchor="middle">0.0005</text>
<text x="0" y="0" font-size="6.5" fill="#2a2e36" transform="translate(181,446) rotate(90)" text-anchor="middle">0.1mm</text>
<ellipse cx="46.7" cy="442.8" rx="6.7" ry="3.4" fill="none" stroke="#c0151b" stroke-width="1"/>
<line x1="47.5" y1="439.4" x2="94.2" y2="391.8" stroke="#c8161c" stroke-width="1"/>
<line x1="47.5" y1="446.2" x2="94.2" y2="491.3" stroke="#c8161c" stroke-width="1"/>
<text x="218.3" y="360.1" font-size="13.0" text-anchor="start" fill="#000" font-weight="bold">h</text>
<rect x="255.7" y="364.5" width="175" height="141.1" fill="none" stroke="#2b2b2b" stroke-width="1"/>
<line x1="430.7" y1="365.1" x2="430.7" y2="505" stroke="#ffffff" stroke-width="1.3"/>
<line x1="431" y1="365" x2="431" y2="505.1" stroke="#9c9c9c" stroke-width="1.7"/>
<line x1="255.7" y1="505.6" x2="255.7" y2="509.1" stroke="#2b2b2b" stroke-width="1"/>
<text x="255.7" y="516.6" font-size="8.5" text-anchor="middle" fill="#222" font-weight="normal">0</text>
<line x1="287.52" y1="505.6" x2="287.52" y2="509.1" stroke="#2b2b2b" stroke-width="1"/>
<text x="287.52" y="516.6" font-size="8.5" text-anchor="middle" fill="#222" font-weight="normal">2</text>
<line x1="319.34" y1="505.6" x2="319.34" y2="509.1" stroke="#2b2b2b" stroke-width="1"/>
<text x="319.34" y="516.6" font-size="8.5" text-anchor="middle" fill="#222" font-weight="normal">4</text>
<line x1="351.15" y1="505.6" x2="351.15" y2="509.1" stroke="#2b2b2b" stroke-width="1"/>
<text x="351.15" y="516.6" font-size="8.5" text-anchor="middle" fill="#222" font-weight="normal">6</text>
<line x1="382.97" y1="505.6" x2="382.97" y2="509.1" stroke="#2b2b2b" stroke-width="1"/>
<text x="382.97" y="516.6" font-size="8.5" text-anchor="middle" fill="#222" font-weight="normal">8</text>
<line x1="414.79" y1="505.6" x2="414.79" y2="509.1" stroke="#2b2b2b" stroke-width="1"/>
<text x="414.79" y="516.6" font-size="8.5" text-anchor="middle" fill="#222" font-weight="normal">10</text>
<line x1="271.61" y1="505.6" x2="271.61" y2="507.6" stroke="#2b2b2b" stroke-width="1"/>
<line x1="303.43" y1="505.6" x2="303.43" y2="507.6" stroke="#2b2b2b" stroke-width="1"/>
<line x1="335.25" y1="505.6" x2="335.25" y2="507.6" stroke="#2b2b2b" stroke-width="1"/>
<line x1="367.06" y1="505.6" x2="367.06" y2="507.6" stroke="#2b2b2b" stroke-width="1"/>
<line x1="398.88" y1="505.6" x2="398.88" y2="507.6" stroke="#2b2b2b" stroke-width="1"/>
<line x1="255.7" y1="505.6" x2="252.2" y2="505.6" stroke="#2b2b2b" stroke-width="1"/>
<text x="250.6" y="508.5" font-size="8.5" text-anchor="end" fill="#222" font-weight="normal">0.0</text>
<line x1="255.7" y1="480.4" x2="252.2" y2="480.4" stroke="#2b2b2b" stroke-width="1"/>
<text x="250.6" y="483.3" font-size="8.5" text-anchor="end" fill="#222" font-weight="normal">0.5</text>
<line x1="255.7" y1="455.21" x2="252.2" y2="455.21" stroke="#2b2b2b" stroke-width="1"/>
<text x="250.6" y="458.11" font-size="8.5" text-anchor="end" fill="#222" font-weight="normal">1.0</text>
<line x1="255.7" y1="430.01" x2="252.2" y2="430.01" stroke="#2b2b2b" stroke-width="1"/>
<text x="250.6" y="432.91" font-size="8.5" text-anchor="end" fill="#222" font-weight="normal">1.5</text>
<line x1="255.7" y1="404.81" x2="252.2" y2="404.81" stroke="#2b2b2b" stroke-width="1"/>
<text x="250.6" y="407.71" font-size="8.5" text-anchor="end" fill="#222" font-weight="normal">2.0</text>
<line x1="255.7" y1="379.62" x2="252.2" y2="379.62" stroke="#2b2b2b" stroke-width="1"/>
<text x="250.6" y="382.52" font-size="8.5" text-anchor="end" fill="#222" font-weight="normal">2.5</text>
<line x1="255.7" y1="493" x2="253.7" y2="493" stroke="#2b2b2b" stroke-width="1"/>
<line x1="255.7" y1="467.81" x2="253.7" y2="467.81" stroke="#2b2b2b" stroke-width="1"/>
<line x1="255.7" y1="442.61" x2="253.7" y2="442.61" stroke="#2b2b2b" stroke-width="1"/>
<line x1="255.7" y1="417.41" x2="253.7" y2="417.41" stroke="#2b2b2b" stroke-width="1"/>
<line x1="255.7" y1="392.22" x2="253.7" y2="392.22" stroke="#2b2b2b" stroke-width="1"/>
<line x1="255.7" y1="367.02" x2="253.7" y2="367.02" stroke="#2b2b2b" stroke-width="1"/>
<text x="343" y="529.5" font-size="8.5" text-anchor="middle" fill="#222" font-weight="normal">Voltage (V)</text>
<text x="236" y="435" font-size="8.5" text-anchor="middle" fill="#222" font-weight="normal" transform="rotate(-90 236 435)">Current density (mA/cm<tspan dy="-3.4" font-size="6">2</tspan><tspan dy="3.4">)</tspan></text>
<clipPath id="ch"><rect x="255.7" y="364.5" width="175" height="141.1"/></clipPath>
<g clip-path="url(#ch)">
<polyline points="255.7,374.58 256.5,374.6 257.29,374.62 258.09,374.63 258.88,374.65 259.68,374.67 260.47,374.69 261.27,374.71 262.06,374.73 262.86,374.74 263.65,374.76 264.45,374.78 265.25,374.8 266.04,374.81 266.84,374.83 267.63,374.85 268.43,374.87 269.22,374.88 270.02,374.9 270.81,374.92 271.61,374.94 272.4,374.96 273.2,374.97 274,374.99 274.79,375.01 275.59,375.03 276.38,375.05 277.18,375.07 277.97,375.09 278.77,375.11 279.56,375.13 280.36,375.15 281.15,375.16 281.95,375.19 282.75,375.21 283.54,375.23 284.34,375.25 285.13,375.27 285.93,375.29 286.72,375.31 287.52,375.33 288.31,375.36 289.11,375.38 289.9,375.4 290.7,375.43 291.5,375.45 292.29,375.47 293.09,375.5 293.88,375.52 294.68,375.54 295.47,375.57 296.27,375.59 297.06,375.62 297.86,375.64 298.65,375.67 299.45,375.69 300.25,375.72 301.04,375.74 301.84,375.77 302.63,375.8 303.43,375.82 304.22,375.85 305.02,375.88 305.81,375.91 306.61,375.94 307.4,375.96 308.2,375.99 309,376.02 309.79,376.05 310.59,376.08 311.38,376.11 312.18,376.14 312.97,376.18 313.77,376.21 314.56,376.24 315.36,376.27 316.15,376.31 316.95,376.34 317.75,376.37 318.54,376.41 319.34,376.44 320.13,376.48 320.93,376.52 321.72,376.55 322.52,376.59 323.31,376.63 324.11,376.67 324.9,376.71 325.7,376.75 326.5,376.79 327.29,376.83 328.09,376.88 328.88,376.92 329.68,376.97 330.47,377.01 331.27,377.06 332.06,377.11 332.86,377.16 333.65,377.2 334.45,377.25 335.25,377.3 336.04,377.36 336.84,377.41 337.63,377.46 338.43,377.52 339.22,377.57 340.02,377.62 340.81,377.68 341.61,377.74 342.4,377.8 343.2,377.85 344,377.91 344.79,377.97 345.59,378.04 346.38,378.1 347.18,378.16 347.97,378.23 348.77,378.3 349.56,378.36 350.36,378.44 351.15,378.51 351.95,378.58 352.75,378.66 353.54,378.74 354.34,378.82 355.13,378.9 355.93,378.99 356.72,379.08 357.52,379.17 358.31,379.27 359.11,379.37 359.9,379.47 360.7,379.57 361.5,379.68 362.29,379.8 363.09,379.92 363.88,380.04 364.68,380.17 365.47,380.31 366.27,380.45 367.06,380.6 367.86,380.76 368.65,380.92 369.45,381.08 370.25,381.26 371.04,381.44 371.84,381.63 372.63,381.84 373.43,382.06 374.22,382.3 375.02,382.56 375.81,382.83 376.61,383.12 377.4,383.43 378.2,383.75 379,384.08 379.79,384.43 380.59,384.79 381.38,385.16 382.18,385.55 382.97,385.97 383.77,386.41 384.56,386.89 385.36,387.41 386.15,387.96 386.95,388.55 387.75,389.19 388.54,389.9 389.34,390.69 390.13,391.57 390.93,392.54 391.72,393.59 392.52,394.74 393.31,396.02 394.11,397.47 394.9,399.1 395.7,400.88 396.5,402.8 397.29,404.92 398.09,407.32 398.88,409.97 399.68,412.88 400.47,416.18 401.27,419.92 402.06,423.96 402.86,428.33 403.65,433.07 404.45,438.07 405.25,443.36 406.04,448.95 406.84,454.7 407.63,460.65 408.43,466.78 409.22,472.84 410.02,478.69 410.81,484.47 411.61,490.48 412.4,496.92 413.2,503.58 414,510.36" fill="none" stroke="#2a7abf" stroke-width="0.9" stroke-linejoin="round"/>
<circle cx="255.7" cy="374.58" r="2.1" fill="url(#gb)"/>
<circle cx="257.29" cy="374.62" r="2.1" fill="url(#gb)"/>
<circle cx="258.88" cy="374.65" r="2.1" fill="url(#gb)"/>
<circle cx="260.47" cy="374.69" r="2.1" fill="url(#gb)"/>
<circle cx="262.06" cy="374.73" r="2.1" fill="url(#gb)"/>
<circle cx="263.65" cy="374.76" r="2.1" fill="url(#gb)"/>
<circle cx="265.25" cy="374.8" r="2.1" fill="url(#gb)"/>
<circle cx="266.84" cy="374.83" r="2.1" fill="url(#gb)"/>
<circle cx="268.43" cy="374.87" r="2.1" fill="url(#gb)"/>
<circle cx="270.02" cy="374.9" r="2.1" fill="url(#gb)"/>
<circle cx="271.61" cy="374.94" r="2.1" fill="url(#gb)"/>
<circle cx="273.2" cy="374.97" r="2.1" fill="url(#gb)"/>
<circle cx="274.79" cy="375.01" r="2.1" fill="url(#gb)"/>
<circle cx="276.38" cy="375.05" r="2.1" fill="url(#gb)"/>
<circle cx="277.97" cy="375.09" r="2.1" fill="url(#gb)"/>
<circle cx="279.56" cy="375.13" r="2.1" fill="url(#gb)"/>
<circle cx="281.15" cy="375.16" r="2.1" fill="url(#gb)"/>
<circle cx="282.75" cy="375.21" r="2.1" fill="url(#gb)"/>
<circle cx="284.34" cy="375.25" r="2.1" fill="url(#gb)"/>
<circle cx="285.93" cy="375.29" r="2.1" fill="url(#gb)"/>
<circle cx="287.52" cy="375.33" r="2.1" fill="url(#gb)"/>
<circle cx="289.11" cy="375.38" r="2.1" fill="url(#gb)"/>
<circle cx="290.7" cy="375.43" r="2.1" fill="url(#gb)"/>
<circle cx="292.29" cy="375.47" r="2.1" fill="url(#gb)"/>
<circle cx="293.88" cy="375.52" r="2.1" fill="url(#gb)"/>
<circle cx="295.47" cy="375.57" r="2.1" fill="url(#gb)"/>
<circle cx="297.06" cy="375.62" r="2.1" fill="url(#gb)"/>
<circle cx="298.65" cy="375.67" r="2.1" fill="url(#gb)"/>
<circle cx="300.25" cy="375.72" r="2.1" fill="url(#gb)"/>
<circle cx="301.84" cy="375.77" r="2.1" fill="url(#gb)"/>
<circle cx="303.43" cy="375.82" r="2.1" fill="url(#gb)"/>
<circle cx="305.02" cy="375.88" r="2.1" fill="url(#gb)"/>
<circle cx="306.61" cy="375.94" r="2.1" fill="url(#gb)"/>
<circle cx="308.2" cy="375.99" r="2.1" fill="url(#gb)"/>
<circle cx="309.79" cy="376.05" r="2.1" fill="url(#gb)"/>
<circle cx="311.38" cy="376.11" r="2.1" fill="url(#gb)"/>
<circle cx="312.97" cy="376.18" r="2.1" fill="url(#gb)"/>
<circle cx="314.56" cy="376.24" r="2.1" fill="url(#gb)"/>
<circle cx="316.15" cy="376.31" r="2.1" fill="url(#gb)"/>
<circle cx="317.75" cy="376.37" r="2.1" fill="url(#gb)"/>
<circle cx="319.34" cy="376.44" r="2.1" fill="url(#gb)"/>
<circle cx="320.93" cy="376.52" r="2.1" fill="url(#gb)"/>
<circle cx="322.52" cy="376.59" r="2.1" fill="url(#gb)"/>
<circle cx="324.11" cy="376.67" r="2.1" fill="url(#gb)"/>
<circle cx="325.7" cy="376.75" r="2.1" fill="url(#gb)"/>
<circle cx="327.29" cy="376.83" r="2.1" fill="url(#gb)"/>
<circle cx="328.88" cy="376.92" r="2.1" fill="url(#gb)"/>
<circle cx="330.47" cy="377.01" r="2.1" fill="url(#gb)"/>
<circle cx="332.06" cy="377.11" r="2.1" fill="url(#gb)"/>
<circle cx="333.65" cy="377.2" r="2.1" fill="url(#gb)"/>
<circle cx="335.25" cy="377.3" r="2.1" fill="url(#gb)"/>
<circle cx="336.84" cy="377.41" r="2.1" fill="url(#gb)"/>
<circle cx="338.43" cy="377.52" r="2.1" fill="url(#gb)"/>
<circle cx="340.02" cy="377.62" r="2.1" fill="url(#gb)"/>
<circle cx="341.61" cy="377.74" r="2.1" fill="url(#gb)"/>
<circle cx="343.2" cy="377.85" r="2.1" fill="url(#gb)"/>
<circle cx="344.79" cy="377.97" r="2.1" fill="url(#gb)"/>
<circle cx="346.38" cy="378.1" r="2.1" fill="url(#gb)"/>
<circle cx="347.97" cy="378.23" r="2.1" fill="url(#gb)"/>
<circle cx="349.56" cy="378.36" r="2.1" fill="url(#gb)"/>
<circle cx="351.15" cy="378.51" r="2.1" fill="url(#gb)"/>
<circle cx="352.75" cy="378.66" r="2.1" fill="url(#gb)"/>
<circle cx="354.34" cy="378.82" r="2.1" fill="url(#gb)"/>
<circle cx="355.93" cy="378.99" r="2.1" fill="url(#gb)"/>
<circle cx="357.52" cy="379.17" r="2.1" fill="url(#gb)"/>
<circle cx="359.11" cy="379.37" r="2.1" fill="url(#gb)"/>
<circle cx="360.7" cy="379.57" r="2.1" fill="url(#gb)"/>
<circle cx="362.29" cy="379.8" r="2.1" fill="url(#gb)"/>
<circle cx="363.88" cy="380.04" r="2.1" fill="url(#gb)"/>
<circle cx="365.47" cy="380.31" r="2.1" fill="url(#gb)"/>
<circle cx="367.06" cy="380.6" r="2.1" fill="url(#gb)"/>
<circle cx="368.65" cy="380.92" r="2.1" fill="url(#gb)"/>
<circle cx="370.25" cy="381.26" r="2.1" fill="url(#gb)"/>
<circle cx="371.84" cy="381.63" r="2.1" fill="url(#gb)"/>
<circle cx="373.43" cy="382.06" r="2.1" fill="url(#gb)"/>
<circle cx="375.02" cy="382.56" r="2.1" fill="url(#gb)"/>
<circle cx="376.61" cy="383.12" r="2.1" fill="url(#gb)"/>
<circle cx="378.2" cy="383.75" r="2.1" fill="url(#gb)"/>
<circle cx="379.79" cy="384.43" r="2.1" fill="url(#gb)"/>
<circle cx="381.38" cy="385.16" r="2.1" fill="url(#gb)"/>
<circle cx="382.97" cy="385.97" r="2.1" fill="url(#gb)"/>
<circle cx="384.56" cy="386.89" r="2.1" fill="url(#gb)"/>
<circle cx="386.15" cy="387.96" r="2.1" fill="url(#gb)"/>
<circle cx="387.75" cy="389.19" r="2.1" fill="url(#gb)"/>
<circle cx="389.34" cy="390.69" r="2.1" fill="url(#gb)"/>
<circle cx="390.93" cy="392.54" r="2.1" fill="url(#gb)"/>
<circle cx="392.52" cy="394.74" r="2.1" fill="url(#gb)"/>
<circle cx="394.11" cy="397.47" r="2.1" fill="url(#gb)"/>
<circle cx="395.7" cy="400.88" r="2.1" fill="url(#gb)"/>
<circle cx="397.29" cy="404.92" r="2.1" fill="url(#gb)"/>
<circle cx="398.88" cy="409.97" r="2.1" fill="url(#gb)"/>
<circle cx="400.47" cy="416.18" r="2.1" fill="url(#gb)"/>
<circle cx="402.06" cy="423.96" r="2.1" fill="url(#gb)"/>
<circle cx="403.65" cy="433.07" r="2.1" fill="url(#gb)"/>
<circle cx="405.25" cy="443.36" r="2.1" fill="url(#gb)"/>
<circle cx="406.84" cy="454.7" r="2.1" fill="url(#gb)"/>
<circle cx="408.43" cy="466.78" r="2.1" fill="url(#gb)"/>
<circle cx="410.02" cy="478.69" r="2.1" fill="url(#gb)"/>
<circle cx="411.61" cy="490.48" r="2.1" fill="url(#gb)"/>
<circle cx="413.2" cy="503.58" r="2.1" fill="url(#gb)"/>
</g>
<g clip-path="url(#ch)">
<polyline points="255.7,371.3 256.5,371.32 257.29,371.33 258.09,371.34 258.88,371.35 259.68,371.37 260.47,371.38 261.27,371.39 262.06,371.4 262.86,371.41 263.65,371.43 264.45,371.44 265.25,371.45 266.04,371.46 266.84,371.47 267.63,371.49 268.43,371.5 269.22,371.51 270.02,371.52 270.81,371.53 271.61,371.55 272.4,371.56 273.2,371.57 274,371.58 274.79,371.6 275.59,371.61 276.38,371.62 277.18,371.63 277.97,371.65 278.77,371.66 279.56,371.67 280.36,371.68 281.15,371.7 281.95,371.71 282.75,371.72 283.54,371.74 284.34,371.75 285.13,371.76 285.93,371.78 286.72,371.79 287.52,371.81 288.31,371.82 289.11,371.84 289.9,371.85 290.7,371.86 291.5,371.88 292.29,371.89 293.09,371.91 293.88,371.92 294.68,371.94 295.47,371.95 296.27,371.97 297.06,371.98 297.86,372 298.65,372.01 299.45,372.03 300.25,372.04 301.04,372.06 301.84,372.07 302.63,372.09 303.43,372.11 304.22,372.12 305.02,372.14 305.81,372.16 306.61,372.17 307.4,372.19 308.2,372.21 309,372.22 309.79,372.24 310.59,372.26 311.38,372.27 312.18,372.29 312.97,372.31 313.77,372.33 314.56,372.35 315.36,372.37 316.15,372.38 316.95,372.4 317.75,372.42 318.54,372.44 319.34,372.46 320.13,372.48 320.93,372.5 321.72,372.52 322.52,372.54 323.31,372.56 324.11,372.58 324.9,372.6 325.7,372.62 326.5,372.64 327.29,372.67 328.09,372.69 328.88,372.71 329.68,372.73 330.47,372.75 331.27,372.77 332.06,372.8 332.86,372.82 333.65,372.84 334.45,372.87 335.25,372.89 336.04,372.91 336.84,372.94 337.63,372.96 338.43,372.99 339.22,373.02 340.02,373.04 340.81,373.07 341.61,373.1 342.4,373.12 343.2,373.15 344,373.18 344.79,373.21 345.59,373.24 346.38,373.27 347.18,373.3 347.97,373.34 348.77,373.37 349.56,373.4 350.36,373.44 351.15,373.47 351.95,373.51 352.75,373.54 353.54,373.58 354.34,373.62 355.13,373.66 355.93,373.7 356.72,373.74 357.52,373.78 358.31,373.82 359.11,373.87 359.9,373.91 360.7,373.96 361.5,374.01 362.29,374.06 363.09,374.11 363.88,374.17 364.68,374.22 365.47,374.28 366.27,374.33 367.06,374.39 367.86,374.45 368.65,374.52 369.45,374.58 370.25,374.65 371.04,374.71 371.84,374.78 372.63,374.86 373.43,374.93 374.22,375 375.02,375.08 375.81,375.16 376.61,375.25 377.4,375.34 378.2,375.43 379,375.53 379.79,375.64 380.59,375.75 381.38,375.87 382.18,376 382.97,376.13 383.77,376.27 384.56,376.42 385.36,376.57 386.15,376.74 386.95,376.91 387.75,377.1 388.54,377.3 389.34,377.54 390.13,377.8 390.93,378.1 391.72,378.42 392.52,378.76 393.31,379.13 394.11,379.53 394.9,379.94 395.7,380.37 396.5,380.85 397.29,381.4 398.09,382 398.88,382.67 399.68,383.39 400.47,384.15 401.27,385 402.06,385.97 402.86,387.03 403.65,388.18 404.45,389.46 405.25,390.89 406.04,392.47 406.84,394.19 407.63,396.1 408.43,398.26 409.22,400.77 410.02,403.64 410.81,406.83 411.61,410.41 412.4,414.46 413.2,418.92 414,423.93 414.79,429.52 415.59,435.55 416.38,442.14 417.18,449.3 417.97,456.72 418.77,464.36 419.56,472.3 420.36,480.4 421.15,488.7 421.95,497.16 422.75,505.6 423.54,513.92" fill="none" stroke="#ff8412" stroke-width="0.9" stroke-linejoin="round"/>
<circle cx="255.7" cy="371.3" r="2.25" fill="url(#go)"/>
<circle cx="257.29" cy="371.33" r="2.25" fill="url(#go)"/>
<circle cx="258.88" cy="371.35" r="2.25" fill="url(#go)"/>
<circle cx="260.47" cy="371.38" r="2.25" fill="url(#go)"/>
<circle cx="262.06" cy="371.4" r="2.25" fill="url(#go)"/>
<circle cx="263.65" cy="371.43" r="2.25" fill="url(#go)"/>
<circle cx="265.25" cy="371.45" r="2.25" fill="url(#go)"/>
<circle cx="266.84" cy="371.47" r="2.25" fill="url(#go)"/>
<circle cx="268.43" cy="371.5" r="2.25" fill="url(#go)"/>
<circle cx="270.02" cy="371.52" r="2.25" fill="url(#go)"/>
<circle cx="271.61" cy="371.55" r="2.25" fill="url(#go)"/>
<circle cx="273.2" cy="371.57" r="2.25" fill="url(#go)"/>
<circle cx="274.79" cy="371.6" r="2.25" fill="url(#go)"/>
<circle cx="276.38" cy="371.62" r="2.25" fill="url(#go)"/>
<circle cx="277.97" cy="371.65" r="2.25" fill="url(#go)"/>
<circle cx="279.56" cy="371.67" r="2.25" fill="url(#go)"/>
<circle cx="281.15" cy="371.7" r="2.25" fill="url(#go)"/>
<circle cx="282.75" cy="371.72" r="2.25" fill="url(#go)"/>
<circle cx="284.34" cy="371.75" r="2.25" fill="url(#go)"/>
<circle cx="285.93" cy="371.78" r="2.25" fill="url(#go)"/>
<circle cx="287.52" cy="371.81" r="2.25" fill="url(#go)"/>
<circle cx="289.11" cy="371.84" r="2.25" fill="url(#go)"/>
<circle cx="290.7" cy="371.86" r="2.25" fill="url(#go)"/>
<circle cx="292.29" cy="371.89" r="2.25" fill="url(#go)"/>
<circle cx="293.88" cy="371.92" r="2.25" fill="url(#go)"/>
<circle cx="295.47" cy="371.95" r="2.25" fill="url(#go)"/>
<circle cx="297.06" cy="371.98" r="2.25" fill="url(#go)"/>
<circle cx="298.65" cy="372.01" r="2.25" fill="url(#go)"/>
<circle cx="300.25" cy="372.04" r="2.25" fill="url(#go)"/>
<circle cx="301.84" cy="372.07" r="2.25" fill="url(#go)"/>
<circle cx="303.43" cy="372.11" r="2.25" fill="url(#go)"/>
<circle cx="305.02" cy="372.14" r="2.25" fill="url(#go)"/>
<circle cx="306.61" cy="372.17" r="2.25" fill="url(#go)"/>
<circle cx="308.2" cy="372.21" r="2.25" fill="url(#go)"/>
<circle cx="309.79" cy="372.24" r="2.25" fill="url(#go)"/>
<circle cx="311.38" cy="372.27" r="2.25" fill="url(#go)"/>
<circle cx="312.97" cy="372.31" r="2.25" fill="url(#go)"/>
<circle cx="314.56" cy="372.35" r="2.25" fill="url(#go)"/>
<circle cx="316.15" cy="372.38" r="2.25" fill="url(#go)"/>
<circle cx="317.75" cy="372.42" r="2.25" fill="url(#go)"/>
<circle cx="319.34" cy="372.46" r="2.25" fill="url(#go)"/>
<circle cx="320.93" cy="372.5" r="2.25" fill="url(#go)"/>
<circle cx="322.52" cy="372.54" r="2.25" fill="url(#go)"/>
<circle cx="324.11" cy="372.58" r="2.25" fill="url(#go)"/>
<circle cx="325.7" cy="372.62" r="2.25" fill="url(#go)"/>
<circle cx="327.29" cy="372.67" r="2.25" fill="url(#go)"/>
<circle cx="328.88" cy="372.71" r="2.25" fill="url(#go)"/>
<circle cx="330.47" cy="372.75" r="2.25" fill="url(#go)"/>
<circle cx="332.06" cy="372.8" r="2.25" fill="url(#go)"/>
<circle cx="333.65" cy="372.84" r="2.25" fill="url(#go)"/>
<circle cx="335.25" cy="372.89" r="2.25" fill="url(#go)"/>
<circle cx="336.84" cy="372.94" r="2.25" fill="url(#go)"/>
<circle cx="338.43" cy="372.99" r="2.25" fill="url(#go)"/>
<circle cx="340.02" cy="373.04" r="2.25" fill="url(#go)"/>
<circle cx="341.61" cy="373.1" r="2.25" fill="url(#go)"/>
<circle cx="343.2" cy="373.15" r="2.25" fill="url(#go)"/>
<circle cx="344.79" cy="373.21" r="2.25" fill="url(#go)"/>
<circle cx="346.38" cy="373.27" r="2.25" fill="url(#go)"/>
<circle cx="347.97" cy="373.34" r="2.25" fill="url(#go)"/>
<circle cx="349.56" cy="373.4" r="2.25" fill="url(#go)"/>
<circle cx="351.15" cy="373.47" r="2.25" fill="url(#go)"/>
<circle cx="352.75" cy="373.54" r="2.25" fill="url(#go)"/>
<circle cx="354.34" cy="373.62" r="2.25" fill="url(#go)"/>
<circle cx="355.93" cy="373.7" r="2.25" fill="url(#go)"/>
<circle cx="357.52" cy="373.78" r="2.25" fill="url(#go)"/>
<circle cx="359.11" cy="373.87" r="2.25" fill="url(#go)"/>
<circle cx="360.7" cy="373.96" r="2.25" fill="url(#go)"/>
<circle cx="362.29" cy="374.06" r="2.25" fill="url(#go)"/>
<circle cx="363.88" cy="374.17" r="2.25" fill="url(#go)"/>
<circle cx="365.47" cy="374.28" r="2.25" fill="url(#go)"/>
<circle cx="367.06" cy="374.39" r="2.25" fill="url(#go)"/>
<circle cx="368.65" cy="374.52" r="2.25" fill="url(#go)"/>
<circle cx="370.25" cy="374.65" r="2.25" fill="url(#go)"/>
<circle cx="371.84" cy="374.78" r="2.25" fill="url(#go)"/>
<circle cx="373.43" cy="374.93" r="2.25" fill="url(#go)"/>
<circle cx="375.02" cy="375.08" r="2.25" fill="url(#go)"/>
<circle cx="376.61" cy="375.25" r="2.25" fill="url(#go)"/>
<circle cx="378.2" cy="375.43" r="2.25" fill="url(#go)"/>
<circle cx="379.79" cy="375.64" r="2.25" fill="url(#go)"/>
<circle cx="381.38" cy="375.87" r="2.25" fill="url(#go)"/>
<circle cx="382.97" cy="376.13" r="2.25" fill="url(#go)"/>
<circle cx="384.56" cy="376.42" r="2.25" fill="url(#go)"/>
<circle cx="386.15" cy="376.74" r="2.25" fill="url(#go)"/>
<circle cx="387.75" cy="377.1" r="2.25" fill="url(#go)"/>
<circle cx="389.34" cy="377.54" r="2.25" fill="url(#go)"/>
<circle cx="390.93" cy="378.1" r="2.25" fill="url(#go)"/>
<circle cx="392.52" cy="378.76" r="2.25" fill="url(#go)"/>
<circle cx="394.11" cy="379.53" r="2.25" fill="url(#go)"/>
<circle cx="395.7" cy="380.37" r="2.25" fill="url(#go)"/>
<circle cx="397.29" cy="381.4" r="2.25" fill="url(#go)"/>
<circle cx="398.88" cy="382.67" r="2.25" fill="url(#go)"/>
<circle cx="400.47" cy="384.15" r="2.25" fill="url(#go)"/>
<circle cx="402.06" cy="385.97" r="2.25" fill="url(#go)"/>
<circle cx="403.65" cy="388.18" r="2.25" fill="url(#go)"/>
<circle cx="405.25" cy="390.89" r="2.25" fill="url(#go)"/>
<circle cx="406.84" cy="394.19" r="2.25" fill="url(#go)"/>
<circle cx="408.43" cy="398.26" r="2.25" fill="url(#go)"/>
<circle cx="410.02" cy="403.64" r="2.25" fill="url(#go)"/>
<circle cx="411.61" cy="410.41" r="2.25" fill="url(#go)"/>
<circle cx="413.2" cy="418.92" r="2.25" fill="url(#go)"/>
<circle cx="414.79" cy="429.52" r="2.25" fill="url(#go)"/>
<circle cx="416.38" cy="442.14" r="2.25" fill="url(#go)"/>
<circle cx="417.97" cy="456.72" r="2.25" fill="url(#go)"/>
<circle cx="419.56" cy="472.3" r="2.25" fill="url(#go)"/>
<circle cx="421.15" cy="488.7" r="2.25" fill="url(#go)"/>
<circle cx="422.75" cy="505.6" r="2.25" fill="url(#go)"/>
</g>
<line x1="260" y1="386.4" x2="278.4" y2="386.4" stroke="#2a7abf" stroke-width="0.9"/>
<circle cx="269.2" cy="386.4" r="2.1" fill="url(#gb)"/>
<text x="281" y="389.3" font-size="8.5" text-anchor="start" fill="#222" font-weight="normal">Control</text>
<line x1="260" y1="396.4" x2="278.4" y2="396.4" stroke="#ff8412" stroke-width="0.9"/>
<circle cx="269.2" cy="396.4" r="2.1" fill="url(#go)"/>
<text x="281" y="399.3" font-size="8.5" text-anchor="start" fill="#222" font-weight="normal">Target</text>
<text x="459.2" y="358.8" font-size="13.0" text-anchor="start" fill="#000" font-weight="bold">i</text>
<rect x="486.5" y="363.4" width="175.8" height="141" fill="none" stroke="#2b2b2b" stroke-width="1"/>
<line x1="662.3" y1="364" x2="662.3" y2="503.8" stroke="#ffffff" stroke-width="1.3"/>
<line x1="662" y1="363.9" x2="662" y2="503.9" stroke="#9c9c9c" stroke-width="1.7"/>
<line x1="507.18" y1="504.4" x2="507.18" y2="507.9" stroke="#2b2b2b" stroke-width="1"/>
<text x="507.18" y="516" font-size="8.5" text-anchor="middle" fill="#222" font-weight="normal">16</text>
<line x1="548.55" y1="504.4" x2="548.55" y2="507.9" stroke="#2b2b2b" stroke-width="1"/>
<text x="548.55" y="516" font-size="8.5" text-anchor="middle" fill="#222" font-weight="normal">18</text>
<line x1="589.91" y1="504.4" x2="589.91" y2="507.9" stroke="#2b2b2b" stroke-width="1"/>
<text x="589.91" y="516" font-size="8.5" text-anchor="middle" fill="#222" font-weight="normal">20</text>
<line x1="631.28" y1="504.4" x2="631.28" y2="507.9" stroke="#2b2b2b" stroke-width="1"/>
<text x="631.28" y="516" font-size="8.5" text-anchor="middle" fill="#222" font-weight="normal">22</text>
<line x1="486.5" y1="504.4" x2="486.5" y2="506.4" stroke="#2b2b2b" stroke-width="1"/>
<line x1="527.86" y1="504.4" x2="527.86" y2="506.4" stroke="#2b2b2b" stroke-width="1"/>
<line x1="569.23" y1="504.4" x2="569.23" y2="506.4" stroke="#2b2b2b" stroke-width="1"/>
<line x1="610.59" y1="504.4" x2="610.59" y2="506.4" stroke="#2b2b2b" stroke-width="1"/>
<line x1="651.96" y1="504.4" x2="651.96" y2="506.4" stroke="#2b2b2b" stroke-width="1"/>
<line x1="486.5" y1="504.4" x2="483" y2="504.4" stroke="#2b2b2b" stroke-width="1"/>
<text x="481.4" y="507.3" font-size="8.5" text-anchor="end" fill="#222" font-weight="normal">0</text>
<line x1="486.5" y1="469.15" x2="483" y2="469.15" stroke="#2b2b2b" stroke-width="1"/>
<text x="481.4" y="472.05" font-size="8.5" text-anchor="end" fill="#222" font-weight="normal">2</text>
<line x1="486.5" y1="433.9" x2="483" y2="433.9" stroke="#2b2b2b" stroke-width="1"/>
<text x="481.4" y="436.8" font-size="8.5" text-anchor="end" fill="#222" font-weight="normal">4</text>
<line x1="486.5" y1="398.65" x2="483" y2="398.65" stroke="#2b2b2b" stroke-width="1"/>
<text x="481.4" y="401.55" font-size="8.5" text-anchor="end" fill="#222" font-weight="normal">6</text>
<line x1="486.5" y1="363.4" x2="483" y2="363.4" stroke="#2b2b2b" stroke-width="1"/>
<text x="481.4" y="366.3" font-size="8.5" text-anchor="end" fill="#222" font-weight="normal">8</text>
<line x1="486.5" y1="486.77" x2="484.5" y2="486.77" stroke="#2b2b2b" stroke-width="1"/>
<line x1="486.5" y1="451.52" x2="484.5" y2="451.52" stroke="#2b2b2b" stroke-width="1"/>
<line x1="486.5" y1="416.27" x2="484.5" y2="416.27" stroke="#2b2b2b" stroke-width="1"/>
<line x1="486.5" y1="381.02" x2="484.5" y2="381.02" stroke="#2b2b2b" stroke-width="1"/>
<text x="574" y="529.5" font-size="8.5" text-anchor="middle" fill="#222" font-weight="normal">PCE (%)</text>
<text x="474.2" y="434.3" font-size="8.5" text-anchor="middle" fill="#222" font-weight="normal" transform="rotate(-90 474.2 434.3)">Counts</text>
<rect x="489.81" y="486.77" width="24.82" height="17.62" fill="#1f77b4" fill-opacity="0.3"/>
<rect x="520.63" y="451.52" width="24.82" height="52.88" fill="#1f77b4" fill-opacity="0.3"/>
<rect x="551.44" y="381.02" width="24.82" height="123.38" fill="#1f77b4" fill-opacity="0.3"/>
<rect x="582.05" y="486.77" width="24.82" height="17.62" fill="#1f77b4" fill-opacity="0.3"/>
<rect x="571.71" y="469.15" width="24.82" height="35.25" fill="#ff8c1a" fill-opacity="0.32"/>
<rect x="602.73" y="398.65" width="24.82" height="105.75" fill="#ff8c1a" fill-opacity="0.32"/>
<rect x="633.76" y="433.9" width="24.82" height="70.5" fill="#ff8c1a" fill-opacity="0.32"/>
<polyline points="502.01,495.18 503.05,494.89 504.08,494.55 505.11,494.17 506.15,493.73 507.18,493.24 508.22,492.67 509.25,492.03 510.28,491.31 511.32,490.5 512.35,489.59 513.39,488.57 514.42,487.45 515.46,486.2 516.49,484.82 517.52,483.31 518.56,481.65 519.59,479.84 520.63,477.87 521.66,475.74 522.69,473.45 523.73,470.98 524.76,468.34 525.8,465.53 526.83,462.55 527.86,459.4 528.9,456.08 529.93,452.61 530.97,448.99 532,445.23 533.04,441.35 534.07,437.36 535.1,433.28 536.14,429.13 537.17,424.93 538.21,420.71 539.24,416.48 540.27,412.29 541.31,408.14 542.34,404.09 543.38,400.14 544.41,396.34 545.44,392.71 546.48,389.28 547.51,386.08 548.55,383.13 549.58,380.47 550.62,378.11 551.65,376.08 552.68,374.39 553.72,373.06 554.75,372.1 555.79,371.52 556.82,371.33 557.85,371.52 558.89,372.1 559.92,373.06 560.96,374.39 561.99,376.08 563.02,378.11 564.06,380.47 565.09,383.13 566.13,386.08 567.16,389.28 568.2,392.71 569.23,396.34 570.26,400.14 571.3,404.09 572.33,408.14 573.37,412.29 574.4,416.48 575.43,420.71 576.47,424.93 577.5,429.13 578.54,433.28 579.57,437.36 580.6,441.35 581.64,445.23 582.67,448.99 583.71,452.61 584.74,456.08 585.78,459.4 586.81,462.55 587.84,465.53 588.88,468.34 589.91,470.98 590.95,473.45 591.98,475.74 593.01,477.87 594.05,479.84 595.08,481.65 596.12,483.31 597.15,484.82 598.18,486.2 599.22,487.45 600.25,488.57 601.29,489.59 602.32,490.5 603.36,491.31 604.39,492.03 605.42,492.67 606.46,493.24 607.49,493.73 608.53,494.17 609.56,494.55 610.59,494.89 611.63,495.18 612.66,495.43 613.7,495.64 614.73,495.83 615.76,495.99 616.8,496.12 617.83,496.24 618.87,496.34 619.9,496.42 620.94,496.49 621.97,496.55 623,496.6 624.04,496.64 625.07,496.67" fill="none" stroke="#2a7abf" stroke-width="0.9" stroke-linejoin="round"/>
<polyline points="548.55,502.88 549.58,502.69 550.62,502.48 551.65,502.24 552.68,501.98 553.72,501.69 554.75,501.38 555.79,501.03 556.82,500.65 557.85,500.23 558.89,499.77 559.92,499.27 560.96,498.73 561.99,498.14 563.02,497.5 564.06,496.81 565.09,496.06 566.13,495.25 567.16,494.39 568.2,493.46 569.23,492.46 570.26,491.39 571.3,490.26 572.33,489.05 573.37,487.76 574.4,486.4 575.43,484.95 576.47,483.43 577.5,481.83 578.54,480.14 579.57,478.37 580.6,476.52 581.64,474.59 582.67,472.57 583.71,470.48 584.74,468.31 585.78,466.07 586.81,463.76 587.84,461.37 588.88,458.93 589.91,456.43 590.95,453.87 591.98,451.27 593.01,448.63 594.05,445.95 595.08,443.25 596.12,440.53 597.15,437.8 598.18,435.07 599.22,432.35 600.25,429.65 601.29,426.98 602.32,424.35 603.36,421.77 604.39,419.25 605.42,416.8 606.46,414.43 607.49,412.15 608.53,409.97 609.56,407.9 610.59,405.95 611.63,404.13 612.66,402.45 613.7,400.91 614.73,399.53 615.76,398.31 616.8,397.25 617.83,396.37 618.87,395.66 619.9,395.13 620.94,394.78 621.97,394.61 623,394.63 624.04,394.83 625.07,395.22 626.11,395.78 627.14,396.53 628.17,397.45 629.21,398.54 630.24,399.8 631.28,401.21 632.31,402.77 633.34,404.48 634.38,406.33 635.41,408.3 636.45,410.39 637.48,412.59 638.52,414.89 639.55,417.28 640.58,419.75 641.62,422.28 642.65,424.88 643.69,427.52 644.72,430.19 645.75,432.9" fill="none" stroke="#ff8412" stroke-width="0.9" stroke-linejoin="round"/>
<rect x="613.2" y="366.6" width="18.4" height="9.3" fill="#1f77b4" fill-opacity="0.3"/>
<rect x="613.2" y="376.8" width="18.4" height="9.1" fill="#ff8c1a" fill-opacity="0.32"/>
<text x="632.9" y="374.2" font-size="8.5" text-anchor="start" fill="#222" font-weight="normal">Control</text>
<text x="632.9" y="384.2" font-size="8.5" text-anchor="start" fill="#222" font-weight="normal">Target</text>
<text x="7.5" y="547.3" font-size="13.0" text-anchor="start" fill="#000" font-weight="bold">j</text>
<rect x="38.9" y="546.4" width="272.6" height="143.2" fill="none" stroke="#2b2b2b" stroke-width="1"/>
<line x1="38.9" y1="547" x2="38.9" y2="689" stroke="#ffffff" stroke-width="1.2"/>
<line x1="38.8" y1="546.9" x2="38.8" y2="689.1" stroke="#8c8c8c" stroke-width="1.6"/>
<line x1="38.9" y1="689.6" x2="38.9" y2="693.1" stroke="#2b2b2b" stroke-width="1"/>
<text x="38.9" y="700.6" font-size="8.5" text-anchor="middle" fill="#222" font-weight="normal">0</text>
<line x1="107.05" y1="689.6" x2="107.05" y2="693.1" stroke="#2b2b2b" stroke-width="1"/>
<text x="107.05" y="700.6" font-size="8.5" text-anchor="middle" fill="#222" font-weight="normal">400</text>
<line x1="175.2" y1="689.6" x2="175.2" y2="693.1" stroke="#2b2b2b" stroke-width="1"/>
<text x="175.2" y="700.6" font-size="8.5" text-anchor="middle" fill="#222" font-weight="normal">800</text>
<line x1="243.35" y1="689.6" x2="243.35" y2="693.1" stroke="#2b2b2b" stroke-width="1"/>
<text x="243.35" y="700.6" font-size="8.5" text-anchor="middle" fill="#222" font-weight="normal">1200</text>
<line x1="311.5" y1="689.6" x2="311.5" y2="693.1" stroke="#2b2b2b" stroke-width="1"/>
<text x="311.5" y="700.6" font-size="8.5" text-anchor="middle" fill="#222" font-weight="normal">1600</text>
<line x1="72.97" y1="689.6" x2="72.97" y2="691.6" stroke="#2b2b2b" stroke-width="1"/>
<line x1="141.12" y1="689.6" x2="141.12" y2="691.6" stroke="#2b2b2b" stroke-width="1"/>
<line x1="209.28" y1="689.6" x2="209.28" y2="691.6" stroke="#2b2b2b" stroke-width="1"/>
<line x1="277.43" y1="689.6" x2="277.43" y2="691.6" stroke="#2b2b2b" stroke-width="1"/>
<line x1="38.9" y1="689.6" x2="35.4" y2="689.6" stroke="#2b2b2b" stroke-width="1"/>
<text x="33.8" y="692.5" font-size="8.5" text-anchor="end" fill="#222" font-weight="normal">0.0</text>
<line x1="38.9" y1="663.56" x2="35.4" y2="663.56" stroke="#2b2b2b" stroke-width="1"/>
<text x="33.8" y="666.46" font-size="8.5" text-anchor="end" fill="#222" font-weight="normal">0.2</text>
<line x1="38.9" y1="637.53" x2="35.4" y2="637.53" stroke="#2b2b2b" stroke-width="1"/>
<text x="33.8" y="640.43" font-size="8.5" text-anchor="end" fill="#222" font-weight="normal">0.4</text>
<line x1="38.9" y1="611.49" x2="35.4" y2="611.49" stroke="#2b2b2b" stroke-width="1"/>
<text x="33.8" y="614.39" font-size="8.5" text-anchor="end" fill="#222" font-weight="normal">0.6</text>
<line x1="38.9" y1="585.45" x2="35.4" y2="585.45" stroke="#2b2b2b" stroke-width="1"/>
<text x="33.8" y="588.35" font-size="8.5" text-anchor="end" fill="#222" font-weight="normal">0.8</text>
<line x1="38.9" y1="559.42" x2="35.4" y2="559.42" stroke="#2b2b2b" stroke-width="1"/>
<text x="33.8" y="562.32" font-size="8.5" text-anchor="end" fill="#222" font-weight="normal">1.0</text>
<line x1="38.9" y1="676.58" x2="36.9" y2="676.58" stroke="#2b2b2b" stroke-width="1"/>
<line x1="38.9" y1="650.55" x2="36.9" y2="650.55" stroke="#2b2b2b" stroke-width="1"/>
<line x1="38.9" y1="624.51" x2="36.9" y2="624.51" stroke="#2b2b2b" stroke-width="1"/>
<line x1="38.9" y1="598.47" x2="36.9" y2="598.47" stroke="#2b2b2b" stroke-width="1"/>
<line x1="38.9" y1="572.44" x2="36.9" y2="572.44" stroke="#2b2b2b" stroke-width="1"/>
<line x1="38.9" y1="546.4" x2="36.9" y2="546.4" stroke="#2b2b2b" stroke-width="1"/>
<text x="175.5" y="714.6" font-size="8.5" text-anchor="middle" fill="#222" font-weight="normal">Time (h)</text>
<text x="17" y="618" font-size="8.5" text-anchor="middle" fill="#222" font-weight="normal" transform="rotate(-90 17 618)">Normalized PCE (%)</text>
<line x1="38.9" y1="585.19" x2="296.51" y2="585.19" stroke="#ff8c1a" stroke-width="0.9" stroke-dasharray="3.8,1.5,1.4,1.5,1.4,1.5"/>
<line x1="38.9" y1="629.2" x2="296.51" y2="629.2" stroke="#5b9bd5" stroke-width="0.9" stroke-dasharray="3.8,1.5,1.4,1.5,1.4,1.5"/>
<polyline points="38.9,562.67 39.24,563.29 39.58,562.72 39.92,562.57 40.26,563.84 40.6,563.18 40.94,563.7 41.29,564.46 41.63,565.46 41.97,564.43 42.31,565.32 42.65,565.82 42.99,565.72 43.33,566.02 43.67,565.89 44.01,567.17 44.35,566.63 44.69,566.79 45.03,567.1 45.37,568.04 45.72,568.56 46.06,568.17 46.4,568.82 46.74,569.11 47.08,568.9 47.42,569.86 47.76,570.95 48.1,570.5 48.44,571.39 48.78,570.65 49.12,571.15 49.46,571.82 49.8,571.9 50.14,571.88 50.49,572.48 50.83,572.3 51.17,573.15 51.51,573.03 51.85,573.16 52.19,573.42 52.53,574.62 52.87,574.32 53.21,575.71 53.55,575.71 53.89,576.36 54.23,575.48 54.57,576.69 54.92,576.52 55.26,576.9 55.6,577.14 55.94,577.67 56.28,577.66 56.62,577.36 56.96,578.35 57.3,578.46 57.64,578.59 57.98,579.37 58.32,580.09 58.66,580.05 59,579.65 59.34,580.96 59.69,580.78 60.03,580.4 60.37,580.72 60.71,581.26 61.05,581.19 61.39,581.68 61.73,582.44 62.07,582.83 62.41,582.71 62.75,582.34 63.09,583.16 63.43,583.53 63.77,583.72 64.12,584.25 64.46,583.94 64.8,584.59 65.14,584.23 65.48,585.53 65.82,584.72 66.16,585.34 66.5,586.08 66.84,585.28 67.18,585.91 67.52,586.91 67.86,586.62 68.2,586.4 68.55,586.94 68.89,586.66 69.23,586.87 69.57,587.11 69.91,587.44 70.25,587.26 70.59,587.72 70.93,588.01 71.27,589.2 71.61,588.24 71.95,588.28 72.29,589.12 72.63,589.39 72.97,588.65 73.32,590.3 73.66,589.63 74,589.07 74.34,590.59 74.68,590.16 75.02,589.89 75.36,590.88 75.7,590.82 76.04,590.89 76.38,591.8 76.72,591.69 77.06,591.74 77.4,591.74 77.75,592.28 78.09,592.54 78.43,593.07 78.77,593.02 79.11,592.73 79.45,593.24 79.79,593.82 80.13,594.02 80.47,592.85 80.81,593.65 81.15,594.05 81.49,595.52 81.83,594.47 82.18,594.73 82.52,594.46 82.86,595.16 83.2,595.55 83.54,595.53 83.88,596.69 84.22,595.73 84.56,596.22 84.9,596.82 85.24,596.23 85.58,596.25 85.92,597.71 86.26,597.62 86.6,597.45 86.95,597.7 87.29,598.13 87.63,598.56 87.97,597.55 88.31,598.18 88.65,599.26 88.99,599.52 89.33,598.48 89.67,598.9 90.01,598.72 90.35,599.27 90.69,600.07 91.03,599.78 91.38,600.87 91.72,600.47 92.06,600.34 92.4,600.26 92.74,600.9 93.08,600.81 93.42,600.73 93.76,600.91 94.1,600.96 94.44,601.27 94.78,601.63 95.12,601.34 95.46,601.78 95.81,602.27 96.15,602.34 96.49,602.24 96.83,602.43 97.17,602.47 97.51,602.68 97.85,602.76 98.19,603.03 98.53,603.62 98.87,603.11 99.21,603.01 99.55,603.35 99.89,603.69 100.24,603.54 100.58,604.19 100.92,604.65 101.26,603.99 101.6,604.47 101.94,603.92 102.28,604.73 102.62,605.43 102.96,604.91 103.3,603.98 103.64,604.85 103.98,605.33 104.32,605.19 104.66,604.79 105.01,604.9 105.35,605.12 105.69,604.71 106.03,605.11 106.37,605.5 106.71,605.35 107.05,605.04 107.39,605.4 107.73,605.48 108.07,606.4 108.41,606.14 108.75,605.89 109.09,606.39 109.44,605.96 109.78,606.24 110.12,606.22 110.46,606.75 110.8,605.77 111.14,606.38 111.48,607.05 111.82,607.03 112.16,606.15 112.5,607.39 112.84,607.02 113.18,607.07 113.52,607.55 113.87,608.11 114.21,607.68 114.55,607.71 114.89,607.51 115.23,607.74 115.57,608.14 115.91,607.91 116.25,608.13 116.59,608.36 116.93,608.52 117.27,608.73 117.61,608.47 117.95,609.25 118.29,609.18 118.64,609.03 118.98,609.7 119.32,609.4 119.66,610.09 120,609.62 120.34,609.18 120.68,609.23 121.02,609.52 121.36,609.64 121.7,610.16 122.04,608.94 122.38,609.5 122.72,609.32 123.07,610.15 123.41,609.92 123.75,610.61 124.09,609.65 124.43,609.64 124.77,610.79 125.11,610.12 125.45,609.9 125.79,610.89 126.13,610.96 126.47,610.72 126.81,610.6 127.15,610.95 127.5,610.44 127.84,610.4 128.18,610.3 128.52,610.33 128.86,610.06 129.2,610.25 129.54,611.26 129.88,611 130.22,611.26 130.56,611.32 130.9,610.98 131.24,611 131.58,610.86 131.92,611.72 132.27,611.63 132.61,611.21 132.95,611.33 133.29,611.42 133.63,611.37 133.97,611.7 134.31,611.17 134.65,611.36 134.99,611.58 135.33,611.86 135.67,611.72 136.01,612.76 136.35,612.13 136.7,611.78 137.04,612.44 137.38,611.82 137.72,611.89 138.06,612.54 138.4,612.15 138.74,612.22 139.08,611.97 139.42,611.96 139.76,612.26 140.1,612.63 140.44,612.41 140.78,612.43 141.12,612.17 141.47,612.39 141.81,612.84 142.15,613.14 142.49,612.81 142.83,613.01 143.17,613.21 143.51,612.87 143.85,613.07 144.19,612.89 144.53,612.78 144.87,613.19 145.21,612.18 145.55,613.26 145.9,612.76 146.24,613.2 146.58,612.86 146.92,614.28 147.26,613.69 147.6,613.36 147.94,613.27 148.28,612.65 148.62,613.49 148.96,613.16 149.3,613.42 149.64,613.4 149.98,613.62 150.33,613.93 150.67,613.73 151.01,614.4 151.35,613.57 151.69,614.48 152.03,614.04 152.37,613.36 152.71,614.33 153.05,614.29 153.39,613.89 153.73,614.39 154.07,614.77 154.41,614.4 154.75,614.33 155.1,614.33 155.44,614.96 155.78,614.03 156.12,614.12 156.46,614.81 156.8,614.77 157.14,615.09 157.48,614.42 157.82,615.3 158.16,614.82 158.5,615.32 158.84,615.46 159.18,614.96 159.53,614.77 159.87,615.35 160.21,615.66 160.55,615.14 160.89,615.53 161.23,615.45 161.57,615.03 161.91,615.24 162.25,615.94 162.59,614.9 162.93,615.85 163.27,615.6 163.61,616.22 163.96,616.04 164.3,616.76 164.64,615.44 164.98,615.66 165.32,616.72 165.66,616.89 166,617 166.34,615.96 166.68,616.66 167.02,616.56 167.36,616.71 167.7,616.69 168.04,617.13 168.39,616.75 168.73,617.38 169.07,616.9 169.41,616.81 169.75,616.78 170.09,617.05 170.43,617.31 170.77,616.9 171.11,617.15 171.45,616.35 171.79,616.66 172.13,617 172.47,617.14 172.81,617.23 173.16,617.32 173.5,617.1 173.84,616.84 174.18,616.76 174.52,616.74 174.86,616.14 175.2,617.23 175.54,616.95 175.88,615.87 176.22,617.69 176.56,617.16 176.9,616.89 177.24,616.9 177.59,616.8 177.93,617.05 178.27,616.82 178.61,616.94 178.95,616.66 179.29,617.7 179.63,617.3 179.97,616.98 180.31,617.42 180.65,617.47 180.99,616.85 181.33,617.39 181.67,616.93 182.02,616.93 182.36,617.14 182.7,617.1 183.04,617.38 183.38,617.93 183.72,617.43 184.06,617.28 184.4,617.71 184.74,617.58 185.08,617.29 185.42,617.97 185.76,617.41 186.1,616.98 186.44,617.96 186.79,617.73 187.13,617.88 187.47,617.26 187.81,617.78 188.15,617.6 188.49,618.26 188.83,618.03 189.17,618.07 189.51,618.8 189.85,617.58 190.19,617.84 190.53,618.91 190.87,617.98 191.22,618.36 191.56,618.17 191.9,618.25 192.24,619.01 192.58,618.55 192.92,617.93 193.26,618.77 193.6,618.99 193.94,619.16 194.28,619.21 194.62,618.78 194.96,618.42 195.3,619.09 195.65,619.34 195.99,618.73 196.33,619.98 196.67,620.22 197.01,619.92 197.35,620.09 197.69,620.87 198.03,621.1 198.37,620.53 198.71,620.36 199.05,620.77 199.39,620.15 199.73,620.1 200.07,619.52 200.42,619.56 200.76,619.36 201.1,619.27 201.44,618.54 201.78,618.22 202.12,618.71 202.46,618.05 202.8,618.49 203.14,617.98 203.48,617.53 203.82,617.04 204.16,617.59 204.5,617.4 204.85,617.34 205.19,618.04 205.53,617.49 205.87,617.81 206.21,617.44 206.55,618.07 206.89,618.45 207.23,617.7 207.57,617.66 207.91,618.02 208.25,617.5 208.59,618 208.93,618.17 209.28,617.79 209.62,618.63 209.96,618.33 210.3,618.12 210.64,617.82 210.98,618.26 211.32,618.12 211.66,618.54 212,618.21 212.34,617.72 212.68,618.69 213.02,617.55 213.36,618.79 213.7,618.59 214.05,618.59 214.39,618.31 214.73,619.25 215.07,619.65 215.41,618.65 215.75,618.63 216.09,618.76 216.43,618.03 216.77,619.04 217.11,619.08 217.45,618.87 217.79,619.15 218.13,618.7 218.48,619.9 218.82,619.62 219.16,620.87 219.5,619.27 219.84,619.79 220.18,619.34 220.52,618.92 220.86,619.82 221.2,619.98 221.54,620.13 221.88,620.32 222.22,620.3 222.56,619.86 222.91,620.16 223.25,620.2 223.59,620.36 223.93,619.99 224.27,620.21 224.61,620.52 224.95,620.26 225.29,620.64 225.63,621.09 225.97,620.13 226.31,620.57 226.65,621.19 226.99,620.45 227.33,620.8 227.68,621.6 228.02,620.42 228.36,620.98 228.7,620.82 229.04,621.15 229.38,621.34 229.72,621.94 230.06,621.02 230.4,621.44 230.74,621.63 231.08,621.41 231.42,621.56 231.76,621.36 232.11,621.81 232.45,621.71 232.79,622.57 233.13,621.94 233.47,621.55 233.81,621.32 234.15,622.03 234.49,621.97 234.83,621.34 235.17,622.12 235.51,621.74 235.85,621.41 236.19,622.09 236.54,621.66 236.88,622.46 237.22,622.13 237.56,622.28 237.9,622.24 238.24,621.89 238.58,621.43 238.92,622.66 239.26,622.66 239.6,622.28 239.94,622.92 240.28,622.35 240.62,622.36 240.96,622.73 241.31,622.45 241.65,623.3 241.99,622.44 242.33,623.37 242.67,623.08 243.01,623.06 243.35,623.04 243.69,622.58 244.03,622.92 244.37,623.15 244.71,622.81 245.05,622.45 245.39,623.1 245.74,622.99 246.08,622.69 246.42,623.11 246.76,623.75 247.1,622.31 247.44,622.46 247.78,624.13 248.12,623.41 248.46,623.27 248.8,623.09 249.14,623.25 249.48,623.65 249.82,623.99 250.17,623.58 250.51,623.25 250.85,624.12 251.19,624.13 251.53,623.76 251.87,624.53 252.21,623.9 252.55,623.99 252.89,623.67 253.23,624.15 253.57,624.24 253.91,624.07 254.25,623.96 254.59,624.23 254.94,623.99 255.28,623.72 255.62,623.58 255.96,623.4 256.3,624.39 256.64,624.27 256.98,625.1 257.32,623.42 257.66,624.46 258,624.22 258.34,624.03 258.68,624.78 259.02,624.1 259.37,624.31 259.71,625.04 260.05,624.23 260.39,623.91 260.73,625.13 261.07,624.1 261.41,624.36 261.75,624.28 262.09,624.32 262.43,624.01 262.77,624.63 263.11,624.22 263.45,624.75 263.8,624.33 264.14,624.95 264.48,624.7 264.82,624.01 265.16,624.53 265.5,624.79 265.84,625.2 266.18,625.09 266.52,624.73 266.86,624.46 267.2,624.68 267.54,624.67 267.88,624.91 268.22,624.39 268.57,625.1 268.91,625.18 269.25,624.65 269.59,624.99 269.93,625.15 270.27,625.29 270.61,625.19 270.95,624.87 271.29,625 271.63,625.63 271.97,625.02 272.31,625.14 272.65,625.62 273,624.95 273.34,625.39 273.68,625.43 274.02,625.01 274.36,624.83 274.7,625.64 275.04,625.22 275.38,625.76 275.72,624.53 276.06,625.65 276.4,625.02 276.74,625.76 277.08,625.21 277.43,624.69 277.77,626.57 278.11,625.77 278.45,625.43 278.79,625.68 279.13,625.93 279.47,624.85 279.81,625.69 280.15,626.38 280.49,625.43 280.83,626.46 281.17,625.36 281.51,626.06 281.85,625.8 282.2,625.39 282.54,625.86 282.88,626.47 283.22,626.61 283.56,625.51 283.9,625.71 284.24,626.34 284.58,625.71 284.92,625.87 285.26,625.83 285.6,626.99 285.94,626.25 286.28,625.81 286.63,625.89 286.97,625.86 287.31,627.19 287.65,626.18 287.99,626.08 288.33,625.3 288.67,626.69 289.01,626.47 289.35,626.35 289.69,626.04 290.03,626.59 290.37,625.99 290.71,626.77 291.06,626.38 291.4,626.71 291.74,626.47 292.08,626.82 292.42,627.2 292.76,626.17 293.1,626.5 293.44,626.86 293.78,626.59 294.12,626.3 294.46,627.1 294.8,626.78 295.14,626.55 295.48,626.58 295.83,626.94 296.17,627.65 296.51,626.37" fill="none" stroke="#2d7bbd" stroke-width="2.8" stroke-linejoin="round"/>
<path d="M38.4,562.35h1.3v1.3h-1.3zM38.23,562.42h1.3v1.3h-1.3zM38.82,561.86h1.3v1.3h-1.3zM39.05,561.82h1.3v1.3h-1.3zM39.22,561.93h1.3v1.3h-1.3zM39.58,561.46h1.3v1.3h-1.3zM39.75,563.65h1.3v1.3h-1.3zM40,564.59h1.3v1.3h-1.3zM40.29,563.64h1.3v1.3h-1.3zM40.39,563.81h1.3v1.3h-1.3zM40.78,562.15h1.3v1.3h-1.3zM40.87,563.64h1.3v1.3h-1.3zM41.09,564.41h1.3v1.3h-1.3zM41.53,565.46h1.3v1.3h-1.3zM41.83,565.37h1.3v1.3h-1.3zM41.81,564.73h1.3v1.3h-1.3zM42.48,564.92h1.3v1.3h-1.3zM42.76,565.12h1.3v1.3h-1.3zM42.85,565.65h1.3v1.3h-1.3zM43.03,566.42h1.3v1.3h-1.3zM43.58,565.96h1.3v1.3h-1.3zM43.91,566.14h1.3v1.3h-1.3zM43.69,564.75h1.3v1.3h-1.3zM44.42,564.29h1.3v1.3h-1.3zM44.63,567.15h1.3v1.3h-1.3zM44.44,567.79h1.3v1.3h-1.3zM44.63,565.22h1.3v1.3h-1.3zM45.06,567.71h1.3v1.3h-1.3zM45.64,567.33h1.3v1.3h-1.3zM45.53,568.36h1.3v1.3h-1.3zM45.92,567.85h1.3v1.3h-1.3zM46.42,568.79h1.3v1.3h-1.3zM46.43,569.56h1.3v1.3h-1.3zM46.58,569.65h1.3v1.3h-1.3zM46.74,569.4h1.3v1.3h-1.3zM47.46,568.57h1.3v1.3h-1.3zM47.25,567.78h1.3v1.3h-1.3zM47.88,570.86h1.3v1.3h-1.3zM48.04,570.98h1.3v1.3h-1.3zM48.13,571.29h1.3v1.3h-1.3zM48.52,569.72h1.3v1.3h-1.3zM48.96,573.35h1.3v1.3h-1.3zM49.06,573.01h1.3v1.3h-1.3zM49.18,571.55h1.3v1.3h-1.3zM49.79,570.8h1.3v1.3h-1.3zM49.8,570.7h1.3v1.3h-1.3zM49.97,573.32h1.3v1.3h-1.3zM50.07,572.23h1.3v1.3h-1.3zM50.71,572.16h1.3v1.3h-1.3zM50.62,570.86h1.3v1.3h-1.3zM51.08,570.73h1.3v1.3h-1.3zM51.38,573.15h1.3v1.3h-1.3zM51.26,573.46h1.3v1.3h-1.3zM51.58,572.84h1.3v1.3h-1.3zM52.06,573.15h1.3v1.3h-1.3zM52.54,574.58h1.3v1.3h-1.3zM52.65,574.85h1.3v1.3h-1.3zM52.53,575.49h1.3v1.3h-1.3zM52.84,574.8h1.3v1.3h-1.3zM53.24,575.23h1.3v1.3h-1.3zM53.64,576.56h1.3v1.3h-1.3zM53.66,574.67h1.3v1.3h-1.3zM53.88,574.91h1.3v1.3h-1.3zM54.61,575.97h1.3v1.3h-1.3zM54.36,576.74h1.3v1.3h-1.3zM54.94,577.61h1.3v1.3h-1.3zM55.06,575.37h1.3v1.3h-1.3zM55.23,578.3h1.3v1.3h-1.3zM55.67,577.2h1.3v1.3h-1.3zM55.79,576.67h1.3v1.3h-1.3zM56.4,576.7h1.3v1.3h-1.3zM56.54,577.81h1.3v1.3h-1.3zM56.38,580.18h1.3v1.3h-1.3zM56.92,577.64h1.3v1.3h-1.3zM56.9,578.89h1.3v1.3h-1.3zM57.58,579.98h1.3v1.3h-1.3zM57.94,579.04h1.3v1.3h-1.3zM57.71,579.55h1.3v1.3h-1.3zM58.19,580.6h1.3v1.3h-1.3zM58.52,579.72h1.3v1.3h-1.3zM58.58,579.09h1.3v1.3h-1.3zM58.83,581.84h1.3v1.3h-1.3zM59.38,580.65h1.3v1.3h-1.3zM59.59,582.13h1.3v1.3h-1.3zM59.86,580.46h1.3v1.3h-1.3zM59.95,580.5h1.3v1.3h-1.3zM60.06,579.64h1.3v1.3h-1.3zM60.25,580.95h1.3v1.3h-1.3zM60.64,581.37h1.3v1.3h-1.3zM61.14,580.62h1.3v1.3h-1.3zM61.38,579.63h1.3v1.3h-1.3zM61.37,580.62h1.3v1.3h-1.3zM61.93,581.46h1.3v1.3h-1.3zM62.03,581.85h1.3v1.3h-1.3zM62.55,583.6h1.3v1.3h-1.3zM62.36,582.48h1.3v1.3h-1.3zM62.64,582.41h1.3v1.3h-1.3zM62.88,582.61h1.3v1.3h-1.3zM63.44,580.48h1.3v1.3h-1.3zM63.45,583.71h1.3v1.3h-1.3zM63.65,582.63h1.3v1.3h-1.3zM64.31,582.37h1.3v1.3h-1.3zM64.42,582.48h1.3v1.3h-1.3zM64.86,581.9h1.3v1.3h-1.3zM64.95,584.32h1.3v1.3h-1.3zM65.3,582.65h1.3v1.3h-1.3zM65.38,584.93h1.3v1.3h-1.3zM65.48,584.83h1.3v1.3h-1.3zM65.6,586.03h1.3v1.3h-1.3zM66.35,585h1.3v1.3h-1.3zM66.13,585.22h1.3v1.3h-1.3zM66.87,584.9h1.3v1.3h-1.3zM66.59,585.85h1.3v1.3h-1.3zM66.85,585.07h1.3v1.3h-1.3zM67.5,584.42h1.3v1.3h-1.3zM67.78,587.15h1.3v1.3h-1.3zM67.81,586.64h1.3v1.3h-1.3zM68.34,587.15h1.3v1.3h-1.3zM68.15,584.5h1.3v1.3h-1.3zM68.88,588.63h1.3v1.3h-1.3zM68.68,585.49h1.3v1.3h-1.3zM69,587.07h1.3v1.3h-1.3zM69.64,587.2h1.3v1.3h-1.3zM69.87,585.94h1.3v1.3h-1.3zM70.02,585.94h1.3v1.3h-1.3zM70.07,587.85h1.3v1.3h-1.3zM70.61,587.9h1.3v1.3h-1.3zM70.53,587.35h1.3v1.3h-1.3zM70.67,588.89h1.3v1.3h-1.3zM71.07,587.77h1.3v1.3h-1.3zM71.39,589.8h1.3v1.3h-1.3zM71.62,589.55h1.3v1.3h-1.3zM72.2,588.29h1.3v1.3h-1.3zM72.31,589.72h1.3v1.3h-1.3zM72.46,589.06h1.3v1.3h-1.3zM72.91,588.12h1.3v1.3h-1.3zM73.03,590.45h1.3v1.3h-1.3zM73.09,589.6h1.3v1.3h-1.3zM73.71,589.14h1.3v1.3h-1.3zM73.58,590.3h1.3v1.3h-1.3zM74.19,589.78h1.3v1.3h-1.3zM74.57,591.09h1.3v1.3h-1.3zM74.53,590.12h1.3v1.3h-1.3zM74.97,590.7h1.3v1.3h-1.3zM74.96,591.46h1.3v1.3h-1.3zM75.51,590.38h1.3v1.3h-1.3zM75.43,593.09h1.3v1.3h-1.3zM75.65,590.48h1.3v1.3h-1.3zM75.84,589.89h1.3v1.3h-1.3zM76.41,592.69h1.3v1.3h-1.3zM76.7,592.16h1.3v1.3h-1.3zM77.01,590.81h1.3v1.3h-1.3zM77.04,590.94h1.3v1.3h-1.3zM77.29,592.09h1.3v1.3h-1.3zM77.84,591.65h1.3v1.3h-1.3zM77.58,592.28h1.3v1.3h-1.3zM78.36,592.98h1.3v1.3h-1.3zM78.37,590.87h1.3v1.3h-1.3zM78.47,593.96h1.3v1.3h-1.3zM78.86,591.04h1.3v1.3h-1.3zM79.29,592.51h1.3v1.3h-1.3zM79.48,592.47h1.3v1.3h-1.3zM79.44,593.87h1.3v1.3h-1.3zM80.11,592.43h1.3v1.3h-1.3zM79.96,592.05h1.3v1.3h-1.3zM80.38,593.79h1.3v1.3h-1.3zM80.45,592.45h1.3v1.3h-1.3zM80.91,594.46h1.3v1.3h-1.3zM81,593.57h1.3v1.3h-1.3zM81.32,593.65h1.3v1.3h-1.3zM81.49,592.52h1.3v1.3h-1.3zM81.74,594.53h1.3v1.3h-1.3zM82.22,595.56h1.3v1.3h-1.3zM82.26,594.52h1.3v1.3h-1.3zM83,595.55h1.3v1.3h-1.3zM83.11,597.19h1.3v1.3h-1.3zM82.99,596.81h1.3v1.3h-1.3zM83.42,597.21h1.3v1.3h-1.3zM83.88,595.41h1.3v1.3h-1.3zM83.96,596.22h1.3v1.3h-1.3zM84.02,597.24h1.3v1.3h-1.3zM84.33,595.85h1.3v1.3h-1.3zM84.7,596.37h1.3v1.3h-1.3zM85.19,595.94h1.3v1.3h-1.3zM85.35,595.4h1.3v1.3h-1.3zM85.51,597.52h1.3v1.3h-1.3zM85.73,597.87h1.3v1.3h-1.3zM86.18,597.85h1.3v1.3h-1.3zM86.34,596.54h1.3v1.3h-1.3zM86.7,596.64h1.3v1.3h-1.3zM86.94,597.77h1.3v1.3h-1.3zM87.29,597.81h1.3v1.3h-1.3zM87.53,596.2h1.3v1.3h-1.3zM87.68,597.19h1.3v1.3h-1.3zM87.72,597.18h1.3v1.3h-1.3zM88.16,599.04h1.3v1.3h-1.3zM88.51,598.95h1.3v1.3h-1.3zM88.72,597.93h1.3v1.3h-1.3zM88.81,598.01h1.3v1.3h-1.3zM89.08,597.93h1.3v1.3h-1.3zM89.47,598.08h1.3v1.3h-1.3zM89.88,599.49h1.3v1.3h-1.3zM90.04,600.34h1.3v1.3h-1.3zM90.06,596.41h1.3v1.3h-1.3zM90.11,599.4h1.3v1.3h-1.3zM90.67,600.27h1.3v1.3h-1.3zM91.16,600.93h1.3v1.3h-1.3zM91.16,600.61h1.3v1.3h-1.3zM91.43,600.45h1.3v1.3h-1.3zM91.79,598.36h1.3v1.3h-1.3zM92.12,599.78h1.3v1.3h-1.3zM92.19,597.95h1.3v1.3h-1.3zM92.26,601.41h1.3v1.3h-1.3zM92.8,598.9h1.3v1.3h-1.3zM92.71,601.4h1.3v1.3h-1.3zM93.49,600.24h1.3v1.3h-1.3zM93.32,600.83h1.3v1.3h-1.3zM93.65,601.7h1.3v1.3h-1.3zM93.91,600.86h1.3v1.3h-1.3zM94.34,600.42h1.3v1.3h-1.3zM94.31,601.63h1.3v1.3h-1.3zM94.87,602.25h1.3v1.3h-1.3zM94.82,600.77h1.3v1.3h-1.3zM95.42,600.79h1.3v1.3h-1.3zM95.27,601.88h1.3v1.3h-1.3zM95.92,602.07h1.3v1.3h-1.3zM95.99,600.34h1.3v1.3h-1.3zM96.3,602.16h1.3v1.3h-1.3zM96.43,604.43h1.3v1.3h-1.3zM96.86,602.77h1.3v1.3h-1.3zM97.01,600.43h1.3v1.3h-1.3zM97.16,601.72h1.3v1.3h-1.3zM97.74,602.17h1.3v1.3h-1.3zM97.71,602.9h1.3v1.3h-1.3zM97.98,601.91h1.3v1.3h-1.3zM98.16,602.09h1.3v1.3h-1.3zM98.26,603.06h1.3v1.3h-1.3zM98.95,602.7h1.3v1.3h-1.3zM98.95,603.65h1.3v1.3h-1.3zM99.32,601.71h1.3v1.3h-1.3zM99.68,603.68h1.3v1.3h-1.3zM99.76,604.91h1.3v1.3h-1.3zM99.83,602.36h1.3v1.3h-1.3zM100.55,604.74h1.3v1.3h-1.3zM100.39,602.38h1.3v1.3h-1.3zM101.06,603.32h1.3v1.3h-1.3zM100.83,603.38h1.3v1.3h-1.3zM101.64,603.16h1.3v1.3h-1.3zM101.39,603.03h1.3v1.3h-1.3zM101.67,603.91h1.3v1.3h-1.3zM102.05,605.52h1.3v1.3h-1.3zM102.19,605.34h1.3v1.3h-1.3zM102.45,602.95h1.3v1.3h-1.3zM103.14,602.67h1.3v1.3h-1.3zM103.26,603h1.3v1.3h-1.3zM103.65,604.63h1.3v1.3h-1.3zM103.49,602.39h1.3v1.3h-1.3zM104.05,602.71h1.3v1.3h-1.3zM104.15,604.08h1.3v1.3h-1.3zM104.67,603.73h1.3v1.3h-1.3zM104.54,604.28h1.3v1.3h-1.3zM104.74,604.27h1.3v1.3h-1.3zM105.19,604.7h1.3v1.3h-1.3zM105.25,603.59h1.3v1.3h-1.3zM105.74,604.9h1.3v1.3h-1.3zM106.19,606.83h1.3v1.3h-1.3zM106.21,605.06h1.3v1.3h-1.3zM106.52,604.09h1.3v1.3h-1.3zM106.67,603.48h1.3v1.3h-1.3zM106.95,605.59h1.3v1.3h-1.3zM107.33,605.18h1.3v1.3h-1.3zM107.59,606.7h1.3v1.3h-1.3zM107.87,605.67h1.3v1.3h-1.3zM108.28,604.13h1.3v1.3h-1.3zM108.28,608.05h1.3v1.3h-1.3zM108.52,605.86h1.3v1.3h-1.3zM108.92,605.57h1.3v1.3h-1.3zM109.12,604.75h1.3v1.3h-1.3zM109.22,607.56h1.3v1.3h-1.3zM109.54,604.25h1.3v1.3h-1.3zM109.63,605.74h1.3v1.3h-1.3zM110.02,604.97h1.3v1.3h-1.3zM110.51,606.76h1.3v1.3h-1.3zM110.45,606.72h1.3v1.3h-1.3zM110.83,605.42h1.3v1.3h-1.3zM110.95,603.67h1.3v1.3h-1.3zM111.43,606.35h1.3v1.3h-1.3zM111.77,606.11h1.3v1.3h-1.3zM111.73,607.37h1.3v1.3h-1.3zM112.16,605.52h1.3v1.3h-1.3zM112.09,605.44h1.3v1.3h-1.3zM112.75,607.78h1.3v1.3h-1.3zM112.6,606.08h1.3v1.3h-1.3zM113.01,607.63h1.3v1.3h-1.3zM113.64,607.08h1.3v1.3h-1.3zM113.71,606.16h1.3v1.3h-1.3zM114.14,605.72h1.3v1.3h-1.3zM114.22,606.23h1.3v1.3h-1.3zM114.53,606.41h1.3v1.3h-1.3zM114.72,607.13h1.3v1.3h-1.3zM115.02,606.87h1.3v1.3h-1.3zM115.15,607.61h1.3v1.3h-1.3zM115.24,607.18h1.3v1.3h-1.3zM115.41,608.06h1.3v1.3h-1.3zM116.03,605.6h1.3v1.3h-1.3zM116.12,608.64h1.3v1.3h-1.3zM116.49,606.36h1.3v1.3h-1.3zM116.56,607.68h1.3v1.3h-1.3zM116.85,609.08h1.3v1.3h-1.3zM117.18,606.69h1.3v1.3h-1.3zM117.21,606.42h1.3v1.3h-1.3zM117.77,608.8h1.3v1.3h-1.3zM118.17,608.5h1.3v1.3h-1.3zM118.29,609.4h1.3v1.3h-1.3zM118.21,608h1.3v1.3h-1.3zM118.68,606.63h1.3v1.3h-1.3zM119.3,607.37h1.3v1.3h-1.3zM119.25,608.29h1.3v1.3h-1.3zM119.61,608.97h1.3v1.3h-1.3zM119.6,608.87h1.3v1.3h-1.3zM119.73,608.95h1.3v1.3h-1.3zM120.4,610.72h1.3v1.3h-1.3zM120.29,610.68h1.3v1.3h-1.3zM121.02,609.05h1.3v1.3h-1.3zM121.18,609.09h1.3v1.3h-1.3zM121.15,608.92h1.3v1.3h-1.3zM121.29,608.39h1.3v1.3h-1.3zM121.98,608.62h1.3v1.3h-1.3zM122.21,607.19h1.3v1.3h-1.3zM122.08,608.05h1.3v1.3h-1.3zM122.56,608.04h1.3v1.3h-1.3zM123.1,609.15h1.3v1.3h-1.3zM123.23,611.83h1.3v1.3h-1.3zM123.06,610.73h1.3v1.3h-1.3zM123.8,609.46h1.3v1.3h-1.3zM123.61,608.76h1.3v1.3h-1.3zM123.92,610.9h1.3v1.3h-1.3zM124.59,609.09h1.3v1.3h-1.3zM124.55,609.51h1.3v1.3h-1.3zM124.93,608.12h1.3v1.3h-1.3zM124.93,610.12h1.3v1.3h-1.3zM125.58,608.65h1.3v1.3h-1.3zM125.73,610.72h1.3v1.3h-1.3zM125.86,608.34h1.3v1.3h-1.3zM126.43,610.86h1.3v1.3h-1.3zM126.59,608.98h1.3v1.3h-1.3zM126.41,609.44h1.3v1.3h-1.3zM127.21,609.27h1.3v1.3h-1.3zM127.08,608.06h1.3v1.3h-1.3zM127.5,611.76h1.3v1.3h-1.3zM127.76,609.66h1.3v1.3h-1.3zM127.84,608.08h1.3v1.3h-1.3zM128.13,610.91h1.3v1.3h-1.3zM128.57,608.33h1.3v1.3h-1.3zM128.9,608.8h1.3v1.3h-1.3zM128.84,610.89h1.3v1.3h-1.3zM129.18,610.16h1.3v1.3h-1.3zM129.54,611.03h1.3v1.3h-1.3zM129.47,608.31h1.3v1.3h-1.3zM130.2,611.02h1.3v1.3h-1.3zM130.3,608.44h1.3v1.3h-1.3zM130.37,611.41h1.3v1.3h-1.3zM130.87,608.91h1.3v1.3h-1.3zM131.27,610.17h1.3v1.3h-1.3zM131.31,610.8h1.3v1.3h-1.3zM131.71,611h1.3v1.3h-1.3zM132.04,612.11h1.3v1.3h-1.3zM131.88,609.38h1.3v1.3h-1.3zM132.28,609.66h1.3v1.3h-1.3zM132.38,610.59h1.3v1.3h-1.3zM132.98,612.34h1.3v1.3h-1.3zM133.04,612.26h1.3v1.3h-1.3zM133.48,611.7h1.3v1.3h-1.3zM133.41,608.92h1.3v1.3h-1.3zM134.06,609.8h1.3v1.3h-1.3zM134.1,609.54h1.3v1.3h-1.3zM134.15,611.09h1.3v1.3h-1.3zM134.41,611.59h1.3v1.3h-1.3zM134.77,612.38h1.3v1.3h-1.3zM135.15,610.02h1.3v1.3h-1.3zM135.15,611.74h1.3v1.3h-1.3zM135.35,612.05h1.3v1.3h-1.3zM135.64,611.11h1.3v1.3h-1.3zM136.21,611.3h1.3v1.3h-1.3zM136.44,610.63h1.3v1.3h-1.3zM136.55,611.03h1.3v1.3h-1.3zM136.62,611.25h1.3v1.3h-1.3zM137.45,612.08h1.3v1.3h-1.3zM137.45,610.49h1.3v1.3h-1.3zM137.52,611.58h1.3v1.3h-1.3zM138.19,610.39h1.3v1.3h-1.3zM138.34,612.54h1.3v1.3h-1.3zM138.28,609.16h1.3v1.3h-1.3zM138.41,611.73h1.3v1.3h-1.3zM138.69,612.17h1.3v1.3h-1.3zM138.93,609.72h1.3v1.3h-1.3zM139.43,610.93h1.3v1.3h-1.3zM139.98,612h1.3v1.3h-1.3zM140.02,611.53h1.3v1.3h-1.3zM140.16,613.61h1.3v1.3h-1.3zM140.33,613.54h1.3v1.3h-1.3zM140.77,610.26h1.3v1.3h-1.3zM141.09,609.95h1.3v1.3h-1.3zM141.18,611.36h1.3v1.3h-1.3zM141.78,612.15h1.3v1.3h-1.3zM142.05,612.05h1.3v1.3h-1.3zM141.86,612.32h1.3v1.3h-1.3zM142.18,613.86h1.3v1.3h-1.3zM142.72,610.88h1.3v1.3h-1.3zM142.5,612.52h1.3v1.3h-1.3zM143.12,610.67h1.3v1.3h-1.3zM143.58,612.76h1.3v1.3h-1.3zM143.69,612.47h1.3v1.3h-1.3zM144.06,611.94h1.3v1.3h-1.3zM144.11,611.6h1.3v1.3h-1.3zM144.46,613.09h1.3v1.3h-1.3zM144.42,612.98h1.3v1.3h-1.3zM144.59,611.87h1.3v1.3h-1.3zM144.92,612.59h1.3v1.3h-1.3zM145.12,612.48h1.3v1.3h-1.3zM145.72,612.45h1.3v1.3h-1.3zM145.66,614.87h1.3v1.3h-1.3zM145.93,613.19h1.3v1.3h-1.3zM146.61,614.11h1.3v1.3h-1.3zM146.39,611.19h1.3v1.3h-1.3zM146.83,614.68h1.3v1.3h-1.3zM147.32,614.15h1.3v1.3h-1.3zM147.45,612h1.3v1.3h-1.3zM147.82,613.18h1.3v1.3h-1.3zM147.87,612.56h1.3v1.3h-1.3zM147.97,612.59h1.3v1.3h-1.3zM148.13,612.74h1.3v1.3h-1.3zM148.44,611.83h1.3v1.3h-1.3zM149.13,613h1.3v1.3h-1.3zM148.96,614.17h1.3v1.3h-1.3zM149.28,613.67h1.3v1.3h-1.3zM149.48,612.46h1.3v1.3h-1.3zM149.93,612.37h1.3v1.3h-1.3zM149.95,615.27h1.3v1.3h-1.3zM150.73,615.33h1.3v1.3h-1.3zM150.8,614.12h1.3v1.3h-1.3zM150.78,612.61h1.3v1.3h-1.3zM151.06,613.58h1.3v1.3h-1.3zM151.29,611.48h1.3v1.3h-1.3zM152.02,615.85h1.3v1.3h-1.3zM152.23,614.25h1.3v1.3h-1.3zM152.47,614.09h1.3v1.3h-1.3zM152.22,613.53h1.3v1.3h-1.3zM153.03,612.87h1.3v1.3h-1.3zM152.71,614.06h1.3v1.3h-1.3zM153.04,612.92h1.3v1.3h-1.3zM153.21,614.42h1.3v1.3h-1.3zM153.58,612.79h1.3v1.3h-1.3zM153.98,614.49h1.3v1.3h-1.3zM154.32,613.56h1.3v1.3h-1.3zM154.31,614.7h1.3v1.3h-1.3zM154.91,615.56h1.3v1.3h-1.3zM154.86,614.43h1.3v1.3h-1.3zM155.36,614.29h1.3v1.3h-1.3zM155.55,614.03h1.3v1.3h-1.3zM155.88,614.84h1.3v1.3h-1.3zM156.19,614.71h1.3v1.3h-1.3zM156.14,613.02h1.3v1.3h-1.3zM156.31,614.18h1.3v1.3h-1.3zM156.96,613.31h1.3v1.3h-1.3zM156.82,614.7h1.3v1.3h-1.3zM157.55,613.57h1.3v1.3h-1.3zM157.82,614.27h1.3v1.3h-1.3zM158.1,614.49h1.3v1.3h-1.3zM158.09,615.07h1.3v1.3h-1.3zM158.18,614h1.3v1.3h-1.3zM158.82,614.2h1.3v1.3h-1.3zM158.8,615.08h1.3v1.3h-1.3zM159.19,615.89h1.3v1.3h-1.3zM159.35,614.76h1.3v1.3h-1.3zM159.65,615.91h1.3v1.3h-1.3zM160.09,615.89h1.3v1.3h-1.3zM160.37,614.17h1.3v1.3h-1.3zM160.34,616.31h1.3v1.3h-1.3zM160.82,616.81h1.3v1.3h-1.3zM161.19,615.74h1.3v1.3h-1.3zM161.17,613.79h1.3v1.3h-1.3zM161.45,614.96h1.3v1.3h-1.3zM161.4,615.8h1.3v1.3h-1.3zM161.75,615h1.3v1.3h-1.3zM161.96,615.18h1.3v1.3h-1.3zM162.17,617.07h1.3v1.3h-1.3zM162.47,615.06h1.3v1.3h-1.3zM162.68,614.69h1.3v1.3h-1.3zM163.28,614.28h1.3v1.3h-1.3zM163.6,614.84h1.3v1.3h-1.3zM163.49,616.53h1.3v1.3h-1.3zM163.71,614.32h1.3v1.3h-1.3zM164.02,614.35h1.3v1.3h-1.3zM164.37,615.62h1.3v1.3h-1.3zM164.53,615.16h1.3v1.3h-1.3zM165.06,615.96h1.3v1.3h-1.3zM165.48,616.48h1.3v1.3h-1.3zM165.67,616.78h1.3v1.3h-1.3zM165.57,616.87h1.3v1.3h-1.3zM165.96,613.73h1.3v1.3h-1.3zM166.24,616.52h1.3v1.3h-1.3zM166.48,614.88h1.3v1.3h-1.3zM167.06,616.11h1.3v1.3h-1.3zM166.9,615.1h1.3v1.3h-1.3zM167.21,613.45h1.3v1.3h-1.3zM167.75,617.19h1.3v1.3h-1.3zM168.07,616.89h1.3v1.3h-1.3zM167.81,614.39h1.3v1.3h-1.3zM168.34,618.46h1.3v1.3h-1.3zM168.44,615.64h1.3v1.3h-1.3zM168.8,615.65h1.3v1.3h-1.3zM169.12,615.6h1.3v1.3h-1.3zM169.1,615.23h1.3v1.3h-1.3zM169.32,616.79h1.3v1.3h-1.3zM169.65,618.01h1.3v1.3h-1.3zM170.38,615.98h1.3v1.3h-1.3zM170.46,617.06h1.3v1.3h-1.3zM170.86,614.37h1.3v1.3h-1.3zM170.61,615.81h1.3v1.3h-1.3zM171.25,615.7h1.3v1.3h-1.3zM171.26,614.12h1.3v1.3h-1.3zM171.73,615.71h1.3v1.3h-1.3zM171.76,615.25h1.3v1.3h-1.3zM172.44,616.17h1.3v1.3h-1.3zM172.29,615.82h1.3v1.3h-1.3zM172.45,617.67h1.3v1.3h-1.3zM172.99,617.46h1.3v1.3h-1.3zM173.05,615.98h1.3v1.3h-1.3zM173.42,615.75h1.3v1.3h-1.3zM173.47,616.19h1.3v1.3h-1.3zM173.73,616.03h1.3v1.3h-1.3zM174.08,617.29h1.3v1.3h-1.3zM174.31,617.38h1.3v1.3h-1.3zM174.92,616.97h1.3v1.3h-1.3zM175.04,615h1.3v1.3h-1.3zM175.05,615.69h1.3v1.3h-1.3zM175.61,615.09h1.3v1.3h-1.3zM175.81,616.62h1.3v1.3h-1.3zM175.98,616.03h1.3v1.3h-1.3zM176.09,617h1.3v1.3h-1.3zM176.52,615.32h1.3v1.3h-1.3zM176.47,617.2h1.3v1.3h-1.3zM176.93,616.79h1.3v1.3h-1.3zM177.31,615.75h1.3v1.3h-1.3zM177.53,615.67h1.3v1.3h-1.3zM177.66,619.2h1.3v1.3h-1.3zM178.21,616.51h1.3v1.3h-1.3zM178.52,616.62h1.3v1.3h-1.3zM178.52,617.23h1.3v1.3h-1.3zM178.77,616.68h1.3v1.3h-1.3zM179.21,616.86h1.3v1.3h-1.3zM179.6,616.78h1.3v1.3h-1.3zM179.72,616.87h1.3v1.3h-1.3zM179.74,617.14h1.3v1.3h-1.3zM180.19,614.97h1.3v1.3h-1.3zM180.54,615.15h1.3v1.3h-1.3zM180.61,616.36h1.3v1.3h-1.3zM181.01,614.87h1.3v1.3h-1.3zM181.09,616.88h1.3v1.3h-1.3zM181.61,615.04h1.3v1.3h-1.3zM181.4,616.66h1.3v1.3h-1.3zM182.04,616.56h1.3v1.3h-1.3zM182.18,614.1h1.3v1.3h-1.3zM182.43,616.73h1.3v1.3h-1.3zM182.59,617.15h1.3v1.3h-1.3zM182.96,614.77h1.3v1.3h-1.3zM183.08,615.72h1.3v1.3h-1.3zM183.54,617.14h1.3v1.3h-1.3zM183.54,615.86h1.3v1.3h-1.3zM183.85,617.68h1.3v1.3h-1.3zM184.07,617.35h1.3v1.3h-1.3zM184.43,615.04h1.3v1.3h-1.3zM184.65,617.31h1.3v1.3h-1.3zM184.73,617.77h1.3v1.3h-1.3zM185.24,616.65h1.3v1.3h-1.3zM185.71,616.84h1.3v1.3h-1.3zM185.6,618.14h1.3v1.3h-1.3zM186.24,615.53h1.3v1.3h-1.3zM186.04,615.18h1.3v1.3h-1.3zM186.18,618.15h1.3v1.3h-1.3zM186.46,616.13h1.3v1.3h-1.3zM187.24,616.77h1.3v1.3h-1.3zM187.41,613.79h1.3v1.3h-1.3zM187.51,616.44h1.3v1.3h-1.3zM187.76,616.93h1.3v1.3h-1.3zM187.92,616.44h1.3v1.3h-1.3zM188.32,615.94h1.3v1.3h-1.3zM188.63,619.37h1.3v1.3h-1.3zM188.79,618.23h1.3v1.3h-1.3zM188.97,618.04h1.3v1.3h-1.3zM189.32,615.67h1.3v1.3h-1.3zM189.82,616.61h1.3v1.3h-1.3zM189.79,616.27h1.3v1.3h-1.3zM190.35,618.11h1.3v1.3h-1.3zM190.22,615.82h1.3v1.3h-1.3zM190.37,617.31h1.3v1.3h-1.3zM190.71,619.54h1.3v1.3h-1.3zM191.08,617.47h1.3v1.3h-1.3zM191.1,618.96h1.3v1.3h-1.3zM191.78,616.84h1.3v1.3h-1.3zM192.14,618.61h1.3v1.3h-1.3zM191.89,617.16h1.3v1.3h-1.3zM192.23,616.69h1.3v1.3h-1.3zM192.42,617.81h1.3v1.3h-1.3zM192.67,617h1.3v1.3h-1.3zM193.03,616.97h1.3v1.3h-1.3zM193.67,617.8h1.3v1.3h-1.3zM193.58,617.87h1.3v1.3h-1.3zM194.06,617.68h1.3v1.3h-1.3zM193.85,619.78h1.3v1.3h-1.3zM194.28,619.21h1.3v1.3h-1.3zM194.76,617.5h1.3v1.3h-1.3zM194.73,617.47h1.3v1.3h-1.3zM195.02,618.89h1.3v1.3h-1.3zM195.51,615.65h1.3v1.3h-1.3zM195.72,618.46h1.3v1.3h-1.3zM195.88,619.68h1.3v1.3h-1.3zM196.34,619.79h1.3v1.3h-1.3zM196.21,620.01h1.3v1.3h-1.3zM196.71,620.01h1.3v1.3h-1.3zM197.15,618.41h1.3v1.3h-1.3zM196.95,618.73h1.3v1.3h-1.3zM197.17,620.15h1.3v1.3h-1.3zM197.85,619.11h1.3v1.3h-1.3zM197.89,620.23h1.3v1.3h-1.3zM197.99,620.4h1.3v1.3h-1.3zM198.73,618.76h1.3v1.3h-1.3zM198.71,618.97h1.3v1.3h-1.3zM198.93,621.27h1.3v1.3h-1.3zM199.3,619.85h1.3v1.3h-1.3zM199.79,617.71h1.3v1.3h-1.3zM199.62,619.38h1.3v1.3h-1.3zM199.75,620.5h1.3v1.3h-1.3zM200.17,617.75h1.3v1.3h-1.3zM200.77,618.78h1.3v1.3h-1.3zM200.85,617.52h1.3v1.3h-1.3zM201.32,615.71h1.3v1.3h-1.3zM201.14,618.08h1.3v1.3h-1.3zM201.49,617.74h1.3v1.3h-1.3zM201.7,617.04h1.3v1.3h-1.3zM202.29,615.83h1.3v1.3h-1.3zM202.17,617.62h1.3v1.3h-1.3zM202.38,616.91h1.3v1.3h-1.3zM203.12,617.67h1.3v1.3h-1.3zM202.96,616.57h1.3v1.3h-1.3zM203.36,616.7h1.3v1.3h-1.3zM203.53,616.44h1.3v1.3h-1.3zM203.63,616.93h1.3v1.3h-1.3zM204.31,616.31h1.3v1.3h-1.3zM204.18,617.39h1.3v1.3h-1.3zM204.49,616.84h1.3v1.3h-1.3zM204.98,617.12h1.3v1.3h-1.3zM205.04,617.76h1.3v1.3h-1.3zM205.14,618.21h1.3v1.3h-1.3zM205.51,617.21h1.3v1.3h-1.3zM205.86,616.53h1.3v1.3h-1.3zM206.36,617.21h1.3v1.3h-1.3zM206.32,616.49h1.3v1.3h-1.3zM206.8,615.27h1.3v1.3h-1.3zM206.75,618.87h1.3v1.3h-1.3zM207.45,616.43h1.3v1.3h-1.3zM207.4,617.15h1.3v1.3h-1.3zM207.47,617h1.3v1.3h-1.3zM208.18,616.49h1.3v1.3h-1.3zM208.25,616.77h1.3v1.3h-1.3zM208.52,617.86h1.3v1.3h-1.3zM208.54,617.7h1.3v1.3h-1.3zM208.97,617h1.3v1.3h-1.3zM209.25,617.18h1.3v1.3h-1.3zM209.41,619.14h1.3v1.3h-1.3zM209.83,616.68h1.3v1.3h-1.3zM209.92,617.15h1.3v1.3h-1.3zM210,618.4h1.3v1.3h-1.3zM210.39,619.32h1.3v1.3h-1.3zM210.85,618.59h1.3v1.3h-1.3zM210.93,618.44h1.3v1.3h-1.3zM211.27,617.56h1.3v1.3h-1.3zM211.41,618.05h1.3v1.3h-1.3zM211.61,618.84h1.3v1.3h-1.3zM211.9,618.9h1.3v1.3h-1.3zM212.23,619.27h1.3v1.3h-1.3zM212.77,616.92h1.3v1.3h-1.3zM213.02,618.44h1.3v1.3h-1.3zM212.77,618.54h1.3v1.3h-1.3zM213.42,617.51h1.3v1.3h-1.3zM213.51,617.24h1.3v1.3h-1.3zM213.92,617.84h1.3v1.3h-1.3zM214.29,617.4h1.3v1.3h-1.3zM214.24,617.73h1.3v1.3h-1.3zM214.36,617.75h1.3v1.3h-1.3zM215.09,618.09h1.3v1.3h-1.3zM214.82,616.72h1.3v1.3h-1.3zM215.08,618.69h1.3v1.3h-1.3zM215.49,618.95h1.3v1.3h-1.3zM215.79,619.26h1.3v1.3h-1.3zM216.2,618.68h1.3v1.3h-1.3zM216.18,619.21h1.3v1.3h-1.3zM216.76,617.46h1.3v1.3h-1.3zM216.74,617.21h1.3v1.3h-1.3zM217.05,619.25h1.3v1.3h-1.3zM217.1,619.56h1.3v1.3h-1.3zM217.53,617.24h1.3v1.3h-1.3zM217.64,619.61h1.3v1.3h-1.3zM217.89,617.74h1.3v1.3h-1.3zM218.27,620.22h1.3v1.3h-1.3zM218.5,620.05h1.3v1.3h-1.3zM219.18,618.95h1.3v1.3h-1.3zM219.31,618.57h1.3v1.3h-1.3zM219.38,619.01h1.3v1.3h-1.3zM219.57,617.21h1.3v1.3h-1.3zM219.71,620.12h1.3v1.3h-1.3zM220.47,618.82h1.3v1.3h-1.3zM220.58,619.08h1.3v1.3h-1.3zM220.8,617.38h1.3v1.3h-1.3zM220.95,620.76h1.3v1.3h-1.3zM221.19,619.86h1.3v1.3h-1.3zM221.5,619.86h1.3v1.3h-1.3zM221.9,619.21h1.3v1.3h-1.3zM221.73,618.95h1.3v1.3h-1.3zM222.11,617.79h1.3v1.3h-1.3zM222.54,620.96h1.3v1.3h-1.3zM222.79,619.34h1.3v1.3h-1.3zM222.87,620.53h1.3v1.3h-1.3zM223.22,620.04h1.3v1.3h-1.3zM223.35,619.54h1.3v1.3h-1.3zM223.91,620.29h1.3v1.3h-1.3zM224.15,619.88h1.3v1.3h-1.3zM224.31,620.61h1.3v1.3h-1.3zM224.52,620.77h1.3v1.3h-1.3zM224.69,619.59h1.3v1.3h-1.3zM225.3,620.81h1.3v1.3h-1.3zM225.22,621.05h1.3v1.3h-1.3zM225.77,618.48h1.3v1.3h-1.3zM225.63,619.63h1.3v1.3h-1.3zM226.19,619.27h1.3v1.3h-1.3zM226.5,619.58h1.3v1.3h-1.3zM226.8,620.89h1.3v1.3h-1.3zM226.77,620.85h1.3v1.3h-1.3zM226.93,621.11h1.3v1.3h-1.3zM227.18,620.7h1.3v1.3h-1.3zM227.74,619.98h1.3v1.3h-1.3zM227.77,620.64h1.3v1.3h-1.3zM228.11,620.13h1.3v1.3h-1.3zM228.13,621.03h1.3v1.3h-1.3zM228.35,622.28h1.3v1.3h-1.3zM228.65,620.58h1.3v1.3h-1.3zM229.29,621.98h1.3v1.3h-1.3zM229.18,620.59h1.3v1.3h-1.3zM229.66,620.2h1.3v1.3h-1.3zM229.95,621.1h1.3v1.3h-1.3zM229.88,622.13h1.3v1.3h-1.3zM230.51,620.21h1.3v1.3h-1.3zM230.95,620.49h1.3v1.3h-1.3zM230.79,620.33h1.3v1.3h-1.3zM230.98,622.68h1.3v1.3h-1.3zM231.66,621.31h1.3v1.3h-1.3zM231.59,621.6h1.3v1.3h-1.3zM232.17,622.38h1.3v1.3h-1.3zM232.48,621.95h1.3v1.3h-1.3zM232.68,622.65h1.3v1.3h-1.3zM232.88,620.85h1.3v1.3h-1.3zM233.18,621.74h1.3v1.3h-1.3zM233.14,620.35h1.3v1.3h-1.3zM233.42,622.16h1.3v1.3h-1.3zM233.95,621.28h1.3v1.3h-1.3zM234.05,621.58h1.3v1.3h-1.3zM234.34,621.98h1.3v1.3h-1.3zM234.77,619.93h1.3v1.3h-1.3zM235.04,620.2h1.3v1.3h-1.3zM234.83,621.44h1.3v1.3h-1.3zM235.17,621.07h1.3v1.3h-1.3zM235.66,621.26h1.3v1.3h-1.3zM235.6,619h1.3v1.3h-1.3zM235.81,622.43h1.3v1.3h-1.3zM236.03,620.93h1.3v1.3h-1.3zM236.7,621.81h1.3v1.3h-1.3zM236.52,622.66h1.3v1.3h-1.3zM237.25,619.97h1.3v1.3h-1.3zM237.29,621.34h1.3v1.3h-1.3zM237.6,623.12h1.3v1.3h-1.3zM237.8,621.14h1.3v1.3h-1.3zM238.2,622.64h1.3v1.3h-1.3zM238.55,622.25h1.3v1.3h-1.3zM238.49,621.45h1.3v1.3h-1.3zM238.83,620.96h1.3v1.3h-1.3zM238.94,621.48h1.3v1.3h-1.3zM239.13,621.37h1.3v1.3h-1.3zM239.92,622.89h1.3v1.3h-1.3zM240.13,623.72h1.3v1.3h-1.3zM240.42,619.93h1.3v1.3h-1.3zM240.47,622.11h1.3v1.3h-1.3zM240.76,621.68h1.3v1.3h-1.3zM240.98,621.66h1.3v1.3h-1.3zM241.44,623.31h1.3v1.3h-1.3zM241.41,621.58h1.3v1.3h-1.3zM241.58,621.44h1.3v1.3h-1.3zM242.16,622.78h1.3v1.3h-1.3zM242.3,622.29h1.3v1.3h-1.3zM242.41,623.47h1.3v1.3h-1.3zM242.62,622.98h1.3v1.3h-1.3zM243,621.19h1.3v1.3h-1.3zM243.25,622.9h1.3v1.3h-1.3zM243.4,622.79h1.3v1.3h-1.3zM243.96,622.76h1.3v1.3h-1.3zM244.01,623.88h1.3v1.3h-1.3zM244.09,623.69h1.3v1.3h-1.3zM244.25,621.68h1.3v1.3h-1.3zM244.74,622.3h1.3v1.3h-1.3zM245.03,622.67h1.3v1.3h-1.3zM245.02,623.8h1.3v1.3h-1.3zM245.52,622.19h1.3v1.3h-1.3zM245.71,622.35h1.3v1.3h-1.3zM245.77,620.74h1.3v1.3h-1.3zM246.31,623.36h1.3v1.3h-1.3zM246.66,622.67h1.3v1.3h-1.3zM247.08,622.18h1.3v1.3h-1.3zM247.18,624.21h1.3v1.3h-1.3zM247.24,623.85h1.3v1.3h-1.3zM247.36,624h1.3v1.3h-1.3zM247.98,622.46h1.3v1.3h-1.3zM247.85,622.87h1.3v1.3h-1.3zM248.16,622.5h1.3v1.3h-1.3zM248.5,624.2h1.3v1.3h-1.3zM248.66,623.02h1.3v1.3h-1.3zM248.97,622.64h1.3v1.3h-1.3zM249.58,621.93h1.3v1.3h-1.3zM249.67,623.87h1.3v1.3h-1.3zM250.11,622.08h1.3v1.3h-1.3zM250.33,623.85h1.3v1.3h-1.3zM250.27,624.5h1.3v1.3h-1.3zM250.78,622.29h1.3v1.3h-1.3zM250.65,621.41h1.3v1.3h-1.3zM251.06,622.93h1.3v1.3h-1.3zM251.52,620.71h1.3v1.3h-1.3zM251.37,622.79h1.3v1.3h-1.3zM251.93,622.9h1.3v1.3h-1.3zM252.34,624.92h1.3v1.3h-1.3zM252.52,624.69h1.3v1.3h-1.3zM252.52,623.61h1.3v1.3h-1.3zM253.13,624.26h1.3v1.3h-1.3zM253.23,623.42h1.3v1.3h-1.3zM253.2,623.42h1.3v1.3h-1.3zM253.87,623.8h1.3v1.3h-1.3zM253.82,624.48h1.3v1.3h-1.3zM254.31,622.93h1.3v1.3h-1.3zM254.68,623.73h1.3v1.3h-1.3zM254.73,622.7h1.3v1.3h-1.3zM255.24,621.7h1.3v1.3h-1.3zM254.93,623.09h1.3v1.3h-1.3zM255.48,623.9h1.3v1.3h-1.3zM255.96,623.53h1.3v1.3h-1.3zM255.8,623.2h1.3v1.3h-1.3zM256.44,623.05h1.3v1.3h-1.3zM256.49,622.59h1.3v1.3h-1.3zM256.55,624.08h1.3v1.3h-1.3zM257.24,622.7h1.3v1.3h-1.3zM257.33,624.34h1.3v1.3h-1.3zM257.35,623.98h1.3v1.3h-1.3zM258.01,623.33h1.3v1.3h-1.3zM257.84,623.44h1.3v1.3h-1.3zM258.21,622.34h1.3v1.3h-1.3zM258.48,623.9h1.3v1.3h-1.3zM258.71,624.97h1.3v1.3h-1.3zM258.96,623.72h1.3v1.3h-1.3zM259.02,620.86h1.3v1.3h-1.3zM259.29,624.45h1.3v1.3h-1.3zM259.61,623.35h1.3v1.3h-1.3zM259.94,623.04h1.3v1.3h-1.3zM260.33,623.67h1.3v1.3h-1.3zM260.61,625.08h1.3v1.3h-1.3zM261.12,624.06h1.3v1.3h-1.3zM261.14,623.8h1.3v1.3h-1.3zM261.52,625.04h1.3v1.3h-1.3zM261.69,622.61h1.3v1.3h-1.3zM261.95,623.34h1.3v1.3h-1.3zM262.3,624.51h1.3v1.3h-1.3zM262.6,625.31h1.3v1.3h-1.3zM262.52,623.36h1.3v1.3h-1.3zM263.05,623.86h1.3v1.3h-1.3zM263.23,622.77h1.3v1.3h-1.3zM263.31,623.01h1.3v1.3h-1.3zM263.39,623.68h1.3v1.3h-1.3zM263.81,622.69h1.3v1.3h-1.3zM264.16,626.71h1.3v1.3h-1.3zM264.34,624.08h1.3v1.3h-1.3zM264.59,624.8h1.3v1.3h-1.3zM264.72,626.11h1.3v1.3h-1.3zM265.16,624.2h1.3v1.3h-1.3zM265.41,623.35h1.3v1.3h-1.3zM265.5,623.78h1.3v1.3h-1.3zM265.7,623.88h1.3v1.3h-1.3zM266.35,624.99h1.3v1.3h-1.3zM266.5,625.04h1.3v1.3h-1.3zM266.98,623.86h1.3v1.3h-1.3zM267.03,624.78h1.3v1.3h-1.3zM267.28,624.55h1.3v1.3h-1.3zM267.78,623.19h1.3v1.3h-1.3zM267.7,625.63h1.3v1.3h-1.3zM268.22,625.35h1.3v1.3h-1.3zM268.5,624.79h1.3v1.3h-1.3zM268.38,624.33h1.3v1.3h-1.3zM268.57,624.57h1.3v1.3h-1.3zM268.88,624.17h1.3v1.3h-1.3zM269.22,623.72h1.3v1.3h-1.3zM269.35,622.81h1.3v1.3h-1.3zM269.88,623.22h1.3v1.3h-1.3zM269.86,624.18h1.3v1.3h-1.3zM270.36,621.91h1.3v1.3h-1.3zM270.3,625.23h1.3v1.3h-1.3zM270.72,622.6h1.3v1.3h-1.3zM270.85,624.99h1.3v1.3h-1.3zM271.55,625.68h1.3v1.3h-1.3zM271.66,625.16h1.3v1.3h-1.3zM271.73,624.25h1.3v1.3h-1.3zM272.24,623.98h1.3v1.3h-1.3zM272.45,623.78h1.3v1.3h-1.3zM272.5,625.59h1.3v1.3h-1.3zM272.58,625h1.3v1.3h-1.3zM273.19,624.06h1.3v1.3h-1.3zM273.43,625.68h1.3v1.3h-1.3zM273.48,624.53h1.3v1.3h-1.3zM274.13,624.74h1.3v1.3h-1.3zM274.17,625.06h1.3v1.3h-1.3zM274.46,624.72h1.3v1.3h-1.3zM274.78,624.55h1.3v1.3h-1.3zM274.69,625.17h1.3v1.3h-1.3zM274.94,624.84h1.3v1.3h-1.3zM275.6,624.38h1.3v1.3h-1.3zM275.62,623.54h1.3v1.3h-1.3zM275.96,624.53h1.3v1.3h-1.3zM276.27,624.14h1.3v1.3h-1.3zM276.58,624.35h1.3v1.3h-1.3zM276.54,624.49h1.3v1.3h-1.3zM277.11,623.27h1.3v1.3h-1.3zM277.09,625.32h1.3v1.3h-1.3zM277.43,622.23h1.3v1.3h-1.3zM277.58,622.61h1.3v1.3h-1.3zM277.75,624.64h1.3v1.3h-1.3zM277.93,623.56h1.3v1.3h-1.3zM278.64,625.24h1.3v1.3h-1.3zM278.65,625.76h1.3v1.3h-1.3zM279.14,625.01h1.3v1.3h-1.3zM279,625.6h1.3v1.3h-1.3zM279.24,625.18h1.3v1.3h-1.3zM279.76,624.51h1.3v1.3h-1.3zM280.28,624.91h1.3v1.3h-1.3zM280.19,625.51h1.3v1.3h-1.3zM280.67,625.66h1.3v1.3h-1.3zM281.03,625.3h1.3v1.3h-1.3zM281.2,625.4h1.3v1.3h-1.3zM281.14,626.38h1.3v1.3h-1.3zM281.63,625.1h1.3v1.3h-1.3zM281.71,625.59h1.3v1.3h-1.3zM281.95,624.21h1.3v1.3h-1.3zM282.55,626.55h1.3v1.3h-1.3zM282.31,626.32h1.3v1.3h-1.3zM282.91,623.69h1.3v1.3h-1.3zM282.81,626.49h1.3v1.3h-1.3zM283.37,623.46h1.3v1.3h-1.3zM283.86,626.57h1.3v1.3h-1.3zM283.92,625.51h1.3v1.3h-1.3zM283.96,626.15h1.3v1.3h-1.3zM284.32,625.5h1.3v1.3h-1.3zM284.77,626.11h1.3v1.3h-1.3zM284.95,624.49h1.3v1.3h-1.3zM284.95,628.54h1.3v1.3h-1.3zM285.42,626.59h1.3v1.3h-1.3zM285.86,627.17h1.3v1.3h-1.3zM285.75,625.54h1.3v1.3h-1.3zM286.02,623.68h1.3v1.3h-1.3zM286.3,623.46h1.3v1.3h-1.3zM286.45,625.77h1.3v1.3h-1.3zM287.02,624.7h1.3v1.3h-1.3zM287.22,624.98h1.3v1.3h-1.3zM287.65,626.15h1.3v1.3h-1.3zM287.6,627.65h1.3v1.3h-1.3zM288.1,626.08h1.3v1.3h-1.3zM288.41,625.2h1.3v1.3h-1.3zM288.74,625.63h1.3v1.3h-1.3zM288.47,625.93h1.3v1.3h-1.3zM289.24,627.93h1.3v1.3h-1.3zM289,625.88h1.3v1.3h-1.3zM289.61,626.26h1.3v1.3h-1.3zM289.83,626.13h1.3v1.3h-1.3zM289.73,624.61h1.3v1.3h-1.3zM290.36,627.71h1.3v1.3h-1.3zM290.72,626.09h1.3v1.3h-1.3zM290.59,625.82h1.3v1.3h-1.3zM291.18,625.77h1.3v1.3h-1.3zM291.26,625.63h1.3v1.3h-1.3zM291.35,625.48h1.3v1.3h-1.3zM291.48,626.12h1.3v1.3h-1.3zM292.32,625.11h1.3v1.3h-1.3zM292.05,627.84h1.3v1.3h-1.3zM292.53,626.67h1.3v1.3h-1.3zM292.6,626.79h1.3v1.3h-1.3zM293.16,626.99h1.3v1.3h-1.3zM293.3,627.34h1.3v1.3h-1.3zM293.32,625.34h1.3v1.3h-1.3zM294.06,626.99h1.3v1.3h-1.3zM293.98,626.65h1.3v1.3h-1.3zM294.55,628.65h1.3v1.3h-1.3zM294.72,626.03h1.3v1.3h-1.3zM294.69,626.75h1.3v1.3h-1.3zM294.83,627.3h1.3v1.3h-1.3zM295.29,626.49h1.3v1.3h-1.3zM295.64,626.09h1.3v1.3h-1.3zM295.97,626.31h1.3v1.3h-1.3z" fill="#2d7bbd"/>
<polyline points="38.9,559.7 39.24,560.04 39.58,560.42 39.92,560.25 40.26,559.53 40.6,560.67 40.94,560.91 41.29,561.48 41.63,561.51 41.97,561.23 42.31,561.47 42.65,562.17 42.99,562.67 43.33,562.35 43.67,562 44.01,562.03 44.35,562.85 44.69,563.62 45.03,563.63 45.37,564.28 45.72,564.69 46.06,564.9 46.4,564.9 46.74,564.91 47.08,564.86 47.42,565.18 47.76,565.75 48.1,567.02 48.44,565.75 48.78,566.28 49.12,566.86 49.46,566.24 49.8,567.21 50.14,567.12 50.49,567.14 50.83,567.3 51.17,567.46 51.51,568.34 51.85,568.24 52.19,567.89 52.53,567.71 52.87,568.14 53.21,568.71 53.55,568.88 53.89,568.99 54.23,568.26 54.57,569.2 54.92,568.67 55.26,569.55 55.6,569.62 55.94,569.62 56.28,569.03 56.62,569.93 56.96,569.87 57.3,570.17 57.64,570.27 57.98,569.84 58.32,570.59 58.66,570.56 59,571.06 59.34,570.99 59.69,570.8 60.03,570.4 60.37,570.39 60.71,571.67 61.05,571.41 61.39,572.15 61.73,571.69 62.07,571.67 62.41,571.57 62.75,571.74 63.09,572.44 63.43,572.64 63.77,572.86 64.12,571.8 64.46,573.03 64.8,572.29 65.14,572.68 65.48,572.55 65.82,573.65 66.16,572.99 66.5,573.11 66.84,573.39 67.18,573.33 67.52,574.07 67.86,573.2 68.2,574.3 68.55,574.06 68.89,573.73 69.23,573.93 69.57,573.61 69.91,574.29 70.25,574.77 70.59,574.28 70.93,574.29 71.27,575.18 71.61,574.28 71.95,574.22 72.29,575.08 72.63,574.48 72.97,574.87 73.32,574.6 73.66,575.25 74,574.79 74.34,574.92 74.68,575.22 75.02,575.44 75.36,575.44 75.7,575.19 76.04,574.97 76.38,575.65 76.72,575.32 77.06,575.7 77.4,575.06 77.75,575.41 78.09,575.64 78.43,575.85 78.77,576.28 79.11,576.75 79.45,575.86 79.79,576.52 80.13,576.54 80.47,575.94 80.81,576.28 81.15,576.86 81.49,576.04 81.83,576.66 82.18,576.22 82.52,577.08 82.86,577.28 83.2,576.99 83.54,576.5 83.88,577.64 84.22,577.34 84.56,576.59 84.9,576.05 85.24,577.16 85.58,577.49 85.92,577.35 86.26,577.53 86.6,576.69 86.95,577.05 87.29,577.73 87.63,577.11 87.97,578.33 88.31,577.52 88.65,577.59 88.99,577.73 89.33,578.06 89.67,577.99 90.01,578.53 90.35,577.68 90.69,578.28 91.03,577.73 91.38,577.68 91.72,578.33 92.06,578.58 92.4,578.14 92.74,577.95 93.08,578.79 93.42,578.34 93.76,578.77 94.1,577.85 94.44,578.33 94.78,579.16 95.12,578.8 95.46,578.61 95.81,578.88 96.15,578.71 96.49,578.64 96.83,578.77 97.17,579.06 97.51,578.39 97.85,578.65 98.19,579.17 98.53,579.15 98.87,579.41 99.21,579.76 99.55,579.38 99.89,579.27 100.24,579.48 100.58,579.75 100.92,580.61 101.26,580.15 101.6,579.17 101.94,580.26 102.28,579.36 102.62,579.34 102.96,579.71 103.3,579.71 103.64,579.43 103.98,579.81 104.32,579.86 104.66,579.53 105.01,579.94 105.35,579.18 105.69,580.43 106.03,580.2 106.37,580.19 106.71,580.06 107.05,580.43 107.39,579.46 107.73,580 108.07,581.02 108.41,580.34 108.75,580.11 109.09,579.95 109.44,580.3 109.78,580.8 110.12,580.23 110.46,581.09 110.8,580.58 111.14,581.13 111.48,580.18 111.82,580.47 112.16,579.95 112.5,580.95 112.84,580.91 113.18,581.1 113.52,580.51 113.87,581.42 114.21,580.76 114.55,581.22 114.89,580.84 115.23,581.07 115.57,581.51 115.91,581.42 116.25,581.97 116.59,581.69 116.93,581.6 117.27,581.02 117.61,581.62 117.95,581.4 118.29,581.63 118.64,582.09 118.98,581.39 119.32,580.92 119.66,581.46 120,581.24 120.34,581.51 120.68,581.39 121.02,580.99 121.36,582.46 121.7,582.1 122.04,582.44 122.38,581.88 122.72,582.05 123.07,582.22 123.41,581.77 123.75,581.25 124.09,581.47 124.43,581.33 124.77,582 125.11,581.9 125.45,581.53 125.79,581.74 126.13,581.76 126.47,582.29 126.81,582.36 127.15,582.47 127.5,581.75 127.84,582.6 128.18,582.21 128.52,582.2 128.86,582.37 129.2,582.47 129.54,582.22 129.88,582.69 130.22,582.38 130.56,581.94 130.9,582.69 131.24,582.05 131.58,582.04 131.92,581.84 132.27,582.91 132.61,581.93 132.95,582.22 133.29,582.07 133.63,582.28 133.97,582.74 134.31,582.34 134.65,582.66 134.99,582.94 135.33,583 135.67,582.98 136.01,582.89 136.35,583.48 136.7,582.74 137.04,583.44 137.38,582.68 137.72,582.4 138.06,582.5 138.4,582.37 138.74,582.41 139.08,582.13 139.42,583.1 139.76,583.42 140.1,583.18 140.44,583.53 140.78,582.65 141.12,584.1 141.47,583.21 141.81,582.88 142.15,583.03 142.49,582.96 142.83,583.73 143.17,583.52 143.51,583.43 143.85,583.21 144.19,583.2 144.53,582.88 144.87,583.96 145.21,583.39 145.55,582.67 145.9,583.05 146.24,583.49 146.58,583.27 146.92,583.72 147.26,583.14 147.6,583.9 147.94,583.39 148.28,583.65 148.62,584.06 148.96,583.72 149.3,583.85 149.64,584.1 149.98,583.81 150.33,584.23 150.67,583.49 151.01,583.75 151.35,583.58 151.69,583.74 152.03,583.92 152.37,584.58 152.71,584.2 153.05,584.1 153.39,584.32 153.73,584.19 154.07,584.33 154.41,584.39 154.75,584.57 155.1,584.45 155.44,584.71 155.78,583.92 156.12,584.24 156.46,584.18 156.8,584.08 157.14,584.56 157.48,584.03 157.82,585.15 158.16,584.74 158.5,584.51 158.84,583.9 159.18,584.15 159.53,584.28 159.87,584.34 160.21,584.86 160.55,584.74 160.89,584.95 161.23,584.7 161.57,585.22 161.91,584.89 162.25,584.99 162.59,584.65 162.93,585.08 163.27,584.74 163.61,584.71 163.96,584.73 164.3,584.64 164.64,585.31 164.98,584.95 165.32,585.07 165.66,584.63 166,585.23 166.34,584.97 166.68,585.61 167.02,585.25 167.36,585.43 167.7,585.19 168.04,585.44 168.39,585.25 168.73,585.17 169.07,585.66 169.41,585.02 169.75,585.55 170.09,584.56 170.43,584.93 170.77,585.13 171.11,585.36 171.45,584.91 171.79,585.32 172.13,586.07 172.47,585.22 172.81,585.39 173.16,586.43 173.5,586.19 173.84,585.04 174.18,585.44 174.52,585.86 174.86,586.29 175.2,586.03 175.54,585.06 175.88,586.53 176.22,585.49 176.56,584.79 176.9,585.68 177.24,586.11 177.59,585.59 177.93,585.58 178.27,585.71 178.61,585.95 178.95,586.51 179.29,585.74 179.63,585.69 179.97,585.84 180.31,585.84 180.65,586 180.99,585.75 181.33,584.8 181.67,586.36 182.02,586.07 182.36,586.65 182.7,586.92 183.04,586.26 183.38,585.76 183.72,586.69 184.06,586.53 184.4,586.59 184.74,586.95 185.08,586.99 185.42,586.44 185.76,586.68 186.1,586.61 186.44,586.92 186.79,586.07 187.13,585.76 187.47,586.96 187.81,587.26 188.15,586.23 188.49,586.2 188.83,585.99 189.17,587.13 189.51,586.86 189.85,587.6 190.19,586.72 190.53,587.42 190.87,587.62 191.22,586.69 191.56,586.84 191.9,587.81 192.24,587.37 192.58,586.15 192.92,588.05 193.26,587.34 193.6,586.42 193.94,586.53 194.28,587.18 194.62,587.56 194.96,587.15 195.3,587.57 195.65,587.22 195.99,586.98 196.33,587.42 196.67,587.1 197.01,587.15 197.35,588.07 197.69,587.94 198.03,588.32 198.37,587.9 198.71,588.82 199.05,588.62 199.39,589.18 199.73,588.25 200.07,588.88 200.42,588.1 200.76,588.31 201.1,588.45 201.44,588.95 201.78,589.29 202.12,589.11 202.46,588.7 202.8,588.77 203.14,588.82 203.48,588.77 203.82,588.24 204.16,588.36 204.5,589.3 204.85,588.59 205.19,589.21 205.53,588.8 205.87,588.83 206.21,588.58 206.55,588.65 206.89,589.43 207.23,589.04 207.57,588.85 207.91,589.12 208.25,588.46 208.59,589.61 208.93,588.89 209.28,589.05 209.62,589.32 209.96,589.21 210.3,589.28 210.64,589.09 210.98,589.44 211.32,589.37 211.66,588.29 212,589.46 212.34,589.09 212.68,588.91 213.02,589.68 213.36,589.06 213.7,589.63 214.05,590.38 214.39,589.42 214.73,590.61 215.07,589.51 215.41,589.21 215.75,588.82 216.09,589.28 216.43,589.14 216.77,589.32 217.11,589.59 217.45,589.2 217.79,589.77 218.13,589.54 218.48,589.94 218.82,589.8 219.16,589.56 219.5,590.46 219.84,590 220.18,590.15 220.52,589.82 220.86,589.07 221.2,590.19 221.54,589.93 221.88,590.01 222.22,590.19 222.56,590.21 222.91,589.58 223.25,590.05 223.59,590.27 223.93,590.46 224.27,590.35 224.61,589.7 224.95,590.43 225.29,590.84 225.63,590.47 225.97,590.11 226.31,590 226.65,590.18 226.99,589.88 227.33,590.71 227.68,590.62 228.02,590.39 228.36,590.25 228.7,591.1 229.04,590.39 229.38,590.96 229.72,590 230.06,590.28 230.4,589.75 230.74,589.67 231.08,590.24 231.42,590.56 231.76,590.87 232.11,590.72 232.45,590.09 232.79,590.36 233.13,590.49 233.47,591.05 233.81,590.63 234.15,589.87 234.49,590.65 234.83,590.07 235.17,591.5 235.51,590.05 235.85,590.99 236.19,591.15 236.54,590.77 236.88,590.95 237.22,590.02 237.56,590.77 237.9,590.76 238.24,590.95 238.58,590.4 238.92,590.24 239.26,590.37 239.6,591.32 239.94,590.84 240.28,590.55 240.62,591.53 240.96,590.83 241.31,590.42 241.65,590.23 241.99,590.62 242.33,590.5 242.67,590.5 243.01,590.71 243.35,591.59 243.69,590.16 244.03,590.61 244.37,590.92 244.71,591.22 245.05,590.02 245.39,590.79 245.74,590.59 246.08,591.1 246.42,590.86 246.76,590.97 247.1,590.57 247.44,591.72 247.78,590.32 248.12,591.02 248.46,590.74 248.8,590.66 249.14,591.26 249.48,590.75 249.82,591.52 250.17,591 250.51,591.41 250.85,590.7 251.19,590.56 251.53,591.6 251.87,591.03 252.21,591.44 252.55,591.72 252.89,591.21 253.23,590.8 253.57,590.76 253.91,591.43 254.25,591.33 254.59,590.68 254.94,591.26 255.28,590.56 255.62,590.54 255.96,591.07 256.3,591.6 256.64,591.43 256.98,591.01 257.32,591.42 257.66,591.31 258,591.18 258.34,591.96 258.68,591.55 259.02,591.54 259.37,591.74 259.71,591.32 260.05,591.57 260.39,591.6 260.73,590.89 261.07,590.89 261.41,591.56 261.75,591.7 262.09,592.1 262.43,592.22 262.77,590.93 263.11,591.53 263.45,591.88 263.8,592.09 264.14,591.11 264.48,591.71 264.82,591.38 265.16,591.26 265.5,591.96 265.84,592.2 266.18,591.71 266.52,591.48 266.86,591.79 267.2,591.76 267.54,591.57 267.88,592.1 268.22,591.48 268.57,591.39 268.91,592.21 269.25,592.11 269.59,591.96 269.93,592.07 270.27,591.94 270.61,591.43 270.95,592.4 271.29,591.73 271.63,592.05 271.97,592.18 272.31,592.46 272.65,592.74 273,591.92 273.34,591.41 273.68,592.33 274.02,591.71 274.36,592.48 274.7,591.84 275.04,592.14 275.38,592.19 275.72,592.61 276.06,592.28 276.4,592.26 276.74,591.58 277.08,591.86 277.43,591.96 277.77,592.39 278.11,592.06 278.45,591.87 278.79,591.66 279.13,591.84 279.47,591.49 279.81,592.3 280.15,592.59 280.49,591.75 280.83,591.56 281.17,591.92 281.51,592.28 281.85,592.25 282.2,592.44 282.54,592.46 282.88,592.34 283.22,592.2 283.56,592.81 283.9,592.19 284.24,592.34 284.58,592.49 284.92,592.31 285.26,592.58 285.6,592.34 285.94,591.9 286.28,592.65 286.63,592.18 286.97,592.73 287.31,592.61 287.65,592.44 287.99,592.78 288.33,592.16 288.67,593.16 289.01,592.66 289.35,592.61 289.69,592.58 290.03,592.7 290.37,593.03 290.71,592.65 291.06,592.14 291.4,592.45 291.74,592.76 292.08,593.21 292.42,593.09 292.76,592.45 293.1,592.97 293.44,592.9 293.78,591.9 294.12,593.73 294.46,592.46 294.8,593.74 295.14,593.37 295.48,591.83 295.83,592.45 296.17,592.67 296.51,592.59" fill="none" stroke="#ff8a1f" stroke-width="2.8" stroke-linejoin="round"/>
<path d="M38.36,559.59h1.3v1.3h-1.3zM38.63,558.05h1.3v1.3h-1.3zM38.58,559.35h1.3v1.3h-1.3zM38.96,559.12h1.3v1.3h-1.3zM39.41,560.06h1.3v1.3h-1.3zM39.54,559h1.3v1.3h-1.3zM39.91,560.05h1.3v1.3h-1.3zM39.86,559.87h1.3v1.3h-1.3zM40.42,561.46h1.3v1.3h-1.3zM40.83,560.34h1.3v1.3h-1.3zM41.06,558.13h1.3v1.3h-1.3zM41.19,560.69h1.3v1.3h-1.3zM41.14,560.6h1.3v1.3h-1.3zM41.28,562.19h1.3v1.3h-1.3zM41.91,560.12h1.3v1.3h-1.3zM41.94,561.15h1.3v1.3h-1.3zM42.42,562.19h1.3v1.3h-1.3zM42.89,561.8h1.3v1.3h-1.3zM42.66,562.38h1.3v1.3h-1.3zM43.02,563.74h1.3v1.3h-1.3zM43.33,561.41h1.3v1.3h-1.3zM43.38,563.12h1.3v1.3h-1.3zM44.04,563.22h1.3v1.3h-1.3zM44.11,565.25h1.3v1.3h-1.3zM44.56,563.11h1.3v1.3h-1.3zM44.62,563.66h1.3v1.3h-1.3zM44.66,563.15h1.3v1.3h-1.3zM45.19,563.13h1.3v1.3h-1.3zM45.26,563.97h1.3v1.3h-1.3zM45.37,565.52h1.3v1.3h-1.3zM46.18,563.54h1.3v1.3h-1.3zM46.46,563.08h1.3v1.3h-1.3zM46.36,565.4h1.3v1.3h-1.3zM46.87,565.26h1.3v1.3h-1.3zM46.65,564.71h1.3v1.3h-1.3zM47.02,564.51h1.3v1.3h-1.3zM47.16,565.04h1.3v1.3h-1.3zM47.9,565.89h1.3v1.3h-1.3zM47.69,564.66h1.3v1.3h-1.3zM48.45,565.48h1.3v1.3h-1.3zM48.37,565.87h1.3v1.3h-1.3zM48.8,566.92h1.3v1.3h-1.3zM49.07,565.4h1.3v1.3h-1.3zM49.06,566.36h1.3v1.3h-1.3zM49.42,568.54h1.3v1.3h-1.3zM49.51,566.04h1.3v1.3h-1.3zM49.83,566.3h1.3v1.3h-1.3zM50.24,565.46h1.3v1.3h-1.3zM50.64,566.06h1.3v1.3h-1.3zM50.74,568.35h1.3v1.3h-1.3zM50.76,567.66h1.3v1.3h-1.3zM51.27,565.89h1.3v1.3h-1.3zM51.67,568.08h1.3v1.3h-1.3zM51.64,566.4h1.3v1.3h-1.3zM52.03,566.17h1.3v1.3h-1.3zM52.09,568.65h1.3v1.3h-1.3zM52.3,566.89h1.3v1.3h-1.3zM52.66,568.44h1.3v1.3h-1.3zM53.01,567.77h1.3v1.3h-1.3zM53.5,568.57h1.3v1.3h-1.3zM53.73,566.77h1.3v1.3h-1.3zM53.56,570.41h1.3v1.3h-1.3zM54.28,569.76h1.3v1.3h-1.3zM54.07,569.06h1.3v1.3h-1.3zM54.86,568.68h1.3v1.3h-1.3zM54.69,567.47h1.3v1.3h-1.3zM55.2,566.63h1.3v1.3h-1.3zM55.62,568.72h1.3v1.3h-1.3zM55.34,569.45h1.3v1.3h-1.3zM56.04,571.11h1.3v1.3h-1.3zM56.27,570.71h1.3v1.3h-1.3zM56.21,569.39h1.3v1.3h-1.3zM56.66,568.73h1.3v1.3h-1.3zM56.67,569.87h1.3v1.3h-1.3zM57.41,567.45h1.3v1.3h-1.3zM57.12,570.36h1.3v1.3h-1.3zM57.87,568.68h1.3v1.3h-1.3zM57.93,568.81h1.3v1.3h-1.3zM58.36,568.97h1.3v1.3h-1.3zM58.19,571.16h1.3v1.3h-1.3zM58.57,570.49h1.3v1.3h-1.3zM58.89,571.81h1.3v1.3h-1.3zM58.92,570.33h1.3v1.3h-1.3zM59.66,570.76h1.3v1.3h-1.3zM59.49,569.41h1.3v1.3h-1.3zM60.06,570.81h1.3v1.3h-1.3zM59.99,571.64h1.3v1.3h-1.3zM60.77,569.81h1.3v1.3h-1.3zM60.5,570.53h1.3v1.3h-1.3zM61.13,572.03h1.3v1.3h-1.3zM61.01,569.41h1.3v1.3h-1.3zM61.43,570.52h1.3v1.3h-1.3zM61.55,572.76h1.3v1.3h-1.3zM62.08,572.95h1.3v1.3h-1.3zM61.98,571.11h1.3v1.3h-1.3zM62.27,572.6h1.3v1.3h-1.3zM62.84,572.53h1.3v1.3h-1.3zM63.05,570.63h1.3v1.3h-1.3zM63.36,571.99h1.3v1.3h-1.3zM63.64,573.2h1.3v1.3h-1.3zM63.98,571.08h1.3v1.3h-1.3zM64.31,572.81h1.3v1.3h-1.3zM64.04,570.72h1.3v1.3h-1.3zM64.68,572.79h1.3v1.3h-1.3zM65.06,571.4h1.3v1.3h-1.3zM64.89,573.36h1.3v1.3h-1.3zM65.46,572.06h1.3v1.3h-1.3zM65.45,572.24h1.3v1.3h-1.3zM65.75,573.5h1.3v1.3h-1.3zM65.86,570.08h1.3v1.3h-1.3zM66.45,573.79h1.3v1.3h-1.3zM66.88,573.04h1.3v1.3h-1.3zM67.17,571.09h1.3v1.3h-1.3zM67.28,572.96h1.3v1.3h-1.3zM67.33,573.92h1.3v1.3h-1.3zM67.35,573.51h1.3v1.3h-1.3zM68.15,575.42h1.3v1.3h-1.3zM68.05,573.62h1.3v1.3h-1.3zM68.64,571.74h1.3v1.3h-1.3zM68.84,573.04h1.3v1.3h-1.3zM69.11,573.46h1.3v1.3h-1.3zM69.06,572.94h1.3v1.3h-1.3zM69.45,572.98h1.3v1.3h-1.3zM69.96,574.37h1.3v1.3h-1.3zM70.03,574.81h1.3v1.3h-1.3zM70.22,574.76h1.3v1.3h-1.3zM70.7,573.48h1.3v1.3h-1.3zM70.82,574.35h1.3v1.3h-1.3zM70.79,573.89h1.3v1.3h-1.3zM71.09,574.16h1.3v1.3h-1.3zM71.33,573.99h1.3v1.3h-1.3zM71.86,574.75h1.3v1.3h-1.3zM71.95,574.14h1.3v1.3h-1.3zM72.35,573.63h1.3v1.3h-1.3zM72.65,572.74h1.3v1.3h-1.3zM72.6,574.33h1.3v1.3h-1.3zM73.12,574.63h1.3v1.3h-1.3zM73.09,574.29h1.3v1.3h-1.3zM73.6,577.07h1.3v1.3h-1.3zM73.83,573.8h1.3v1.3h-1.3zM74.15,573.48h1.3v1.3h-1.3zM74.17,574.99h1.3v1.3h-1.3zM74.25,574.85h1.3v1.3h-1.3zM74.71,575.06h1.3v1.3h-1.3zM75.05,575.19h1.3v1.3h-1.3zM75.59,574.55h1.3v1.3h-1.3zM75.72,574.17h1.3v1.3h-1.3zM75.62,575.65h1.3v1.3h-1.3zM76.02,575.51h1.3v1.3h-1.3zM76.44,573.55h1.3v1.3h-1.3zM76.34,575.67h1.3v1.3h-1.3zM77.1,574.14h1.3v1.3h-1.3zM76.81,576.8h1.3v1.3h-1.3zM77.55,575.57h1.3v1.3h-1.3zM77.79,577.27h1.3v1.3h-1.3zM77.96,575.36h1.3v1.3h-1.3zM77.93,575.57h1.3v1.3h-1.3zM78.62,576.27h1.3v1.3h-1.3zM78.68,576.74h1.3v1.3h-1.3zM78.98,575.78h1.3v1.3h-1.3zM78.9,576.09h1.3v1.3h-1.3zM79.69,574.55h1.3v1.3h-1.3zM79.69,576.64h1.3v1.3h-1.3zM79.74,575.86h1.3v1.3h-1.3zM80.37,575.81h1.3v1.3h-1.3zM80.2,576.71h1.3v1.3h-1.3zM80.81,575.6h1.3v1.3h-1.3zM80.71,576.04h1.3v1.3h-1.3zM81.1,575.16h1.3v1.3h-1.3zM81.45,576.52h1.3v1.3h-1.3zM81.87,576.47h1.3v1.3h-1.3zM81.82,574.77h1.3v1.3h-1.3zM82.04,577.21h1.3v1.3h-1.3zM82.28,576.29h1.3v1.3h-1.3zM82.64,577.1h1.3v1.3h-1.3zM83.06,574.19h1.3v1.3h-1.3zM82.96,576.57h1.3v1.3h-1.3zM83.58,576.63h1.3v1.3h-1.3zM83.46,575.66h1.3v1.3h-1.3zM83.96,577.16h1.3v1.3h-1.3zM84.38,577.11h1.3v1.3h-1.3zM84.26,577.25h1.3v1.3h-1.3zM84.57,577.22h1.3v1.3h-1.3zM84.86,576.02h1.3v1.3h-1.3zM85.01,576.71h1.3v1.3h-1.3zM85.45,574.26h1.3v1.3h-1.3zM85.82,577.06h1.3v1.3h-1.3zM85.78,576.93h1.3v1.3h-1.3zM86.33,578.31h1.3v1.3h-1.3zM86.77,578.64h1.3v1.3h-1.3zM86.57,576.3h1.3v1.3h-1.3zM87.33,576.07h1.3v1.3h-1.3zM87.12,576.72h1.3v1.3h-1.3zM87.79,576.97h1.3v1.3h-1.3zM87.69,577.32h1.3v1.3h-1.3zM88.34,575.38h1.3v1.3h-1.3zM88.08,577.39h1.3v1.3h-1.3zM88.57,576.75h1.3v1.3h-1.3zM88.95,577.69h1.3v1.3h-1.3zM89.02,579.21h1.3v1.3h-1.3zM89.35,579.12h1.3v1.3h-1.3zM89.43,578.64h1.3v1.3h-1.3zM89.88,577.33h1.3v1.3h-1.3zM89.84,575.65h1.3v1.3h-1.3zM90.41,577.61h1.3v1.3h-1.3zM90.48,575.98h1.3v1.3h-1.3zM90.99,577.39h1.3v1.3h-1.3zM90.94,578.22h1.3v1.3h-1.3zM91.55,575.19h1.3v1.3h-1.3zM91.88,576.05h1.3v1.3h-1.3zM91.73,579.14h1.3v1.3h-1.3zM92.01,575.82h1.3v1.3h-1.3zM92.18,576.38h1.3v1.3h-1.3zM92.51,578.71h1.3v1.3h-1.3zM92.72,577.94h1.3v1.3h-1.3zM93.01,577.73h1.3v1.3h-1.3zM93.72,576.45h1.3v1.3h-1.3zM93.65,577.75h1.3v1.3h-1.3zM94.23,577.71h1.3v1.3h-1.3zM94.06,576.71h1.3v1.3h-1.3zM94.74,578.1h1.3v1.3h-1.3zM94.72,579.36h1.3v1.3h-1.3zM94.81,577.94h1.3v1.3h-1.3zM95.44,579.22h1.3v1.3h-1.3zM95.47,581.85h1.3v1.3h-1.3zM95.59,578.98h1.3v1.3h-1.3zM95.95,577.95h1.3v1.3h-1.3zM96.17,578.1h1.3v1.3h-1.3zM96.44,578.06h1.3v1.3h-1.3zM96.57,578.29h1.3v1.3h-1.3zM97.09,578.31h1.3v1.3h-1.3zM97.14,577.13h1.3v1.3h-1.3zM97.67,578.76h1.3v1.3h-1.3zM97.58,578.47h1.3v1.3h-1.3zM98.33,578.98h1.3v1.3h-1.3zM98.1,579.31h1.3v1.3h-1.3zM98.61,579.48h1.3v1.3h-1.3zM99.05,579.27h1.3v1.3h-1.3zM98.87,578.87h1.3v1.3h-1.3zM99.38,577.67h1.3v1.3h-1.3zM99.82,578.98h1.3v1.3h-1.3zM99.94,580.31h1.3v1.3h-1.3zM99.96,576.81h1.3v1.3h-1.3zM100.62,578.5h1.3v1.3h-1.3zM100.86,578.98h1.3v1.3h-1.3zM100.63,579.66h1.3v1.3h-1.3zM100.99,578.96h1.3v1.3h-1.3zM101.65,579.62h1.3v1.3h-1.3zM101.65,578.17h1.3v1.3h-1.3zM102.09,579.47h1.3v1.3h-1.3zM102.15,577.63h1.3v1.3h-1.3zM102.17,579.08h1.3v1.3h-1.3zM102.7,580.52h1.3v1.3h-1.3zM103.09,581.15h1.3v1.3h-1.3zM102.98,577.6h1.3v1.3h-1.3zM103.16,580.19h1.3v1.3h-1.3zM103.48,578.4h1.3v1.3h-1.3zM104.04,579.18h1.3v1.3h-1.3zM104.1,579.98h1.3v1.3h-1.3zM104.46,579.1h1.3v1.3h-1.3zM104.84,578.95h1.3v1.3h-1.3zM105.03,577.87h1.3v1.3h-1.3zM105.39,579.63h1.3v1.3h-1.3zM105.17,577.91h1.3v1.3h-1.3zM105.84,579.66h1.3v1.3h-1.3zM106.06,580.53h1.3v1.3h-1.3zM106.4,581.78h1.3v1.3h-1.3zM106.32,577.24h1.3v1.3h-1.3zM106.57,580.62h1.3v1.3h-1.3zM106.94,581.67h1.3v1.3h-1.3zM107.09,579.1h1.3v1.3h-1.3zM107.65,578.71h1.3v1.3h-1.3zM107.92,580.82h1.3v1.3h-1.3zM107.8,579.83h1.3v1.3h-1.3zM108.13,580.43h1.3v1.3h-1.3zM108.25,580.44h1.3v1.3h-1.3zM108.74,580.57h1.3v1.3h-1.3zM108.79,577.76h1.3v1.3h-1.3zM109.34,578.68h1.3v1.3h-1.3zM109.47,579.59h1.3v1.3h-1.3zM109.61,578.9h1.3v1.3h-1.3zM110.05,581.45h1.3v1.3h-1.3zM110.12,580.16h1.3v1.3h-1.3zM110.5,581.68h1.3v1.3h-1.3zM111.03,579.65h1.3v1.3h-1.3zM111.17,579.05h1.3v1.3h-1.3zM111.62,578.95h1.3v1.3h-1.3zM111.41,580.23h1.3v1.3h-1.3zM111.71,579.34h1.3v1.3h-1.3zM112.3,578.64h1.3v1.3h-1.3zM112.59,579.08h1.3v1.3h-1.3zM112.67,580.33h1.3v1.3h-1.3zM112.9,580.47h1.3v1.3h-1.3zM113.27,580.28h1.3v1.3h-1.3zM113.09,580.74h1.3v1.3h-1.3zM113.44,580.37h1.3v1.3h-1.3zM113.73,580.34h1.3v1.3h-1.3zM114.01,579.74h1.3v1.3h-1.3zM114.12,577.62h1.3v1.3h-1.3zM114.43,582.95h1.3v1.3h-1.3zM114.71,579.49h1.3v1.3h-1.3zM115.08,579.71h1.3v1.3h-1.3zM115.38,580.49h1.3v1.3h-1.3zM115.67,580.63h1.3v1.3h-1.3zM115.69,581.01h1.3v1.3h-1.3zM115.99,581.88h1.3v1.3h-1.3zM116.57,581.5h1.3v1.3h-1.3zM116.57,581.19h1.3v1.3h-1.3zM116.87,579.24h1.3v1.3h-1.3zM117.21,581.7h1.3v1.3h-1.3zM117.51,582.99h1.3v1.3h-1.3zM117.46,581.77h1.3v1.3h-1.3zM117.92,582.19h1.3v1.3h-1.3zM118.37,581.19h1.3v1.3h-1.3zM118.68,582.76h1.3v1.3h-1.3zM118.51,580.46h1.3v1.3h-1.3zM119.13,580.71h1.3v1.3h-1.3zM119.45,581.25h1.3v1.3h-1.3zM119.27,580.38h1.3v1.3h-1.3zM119.87,580.59h1.3v1.3h-1.3zM119.85,580.9h1.3v1.3h-1.3zM120.34,582.23h1.3v1.3h-1.3zM120.39,582.04h1.3v1.3h-1.3zM120.65,580.07h1.3v1.3h-1.3zM121.19,581.76h1.3v1.3h-1.3zM121.03,581.09h1.3v1.3h-1.3zM121.44,580.52h1.3v1.3h-1.3zM121.9,580.74h1.3v1.3h-1.3zM122.32,579.97h1.3v1.3h-1.3zM122.15,580.72h1.3v1.3h-1.3zM122.44,582.66h1.3v1.3h-1.3zM122.64,581.56h1.3v1.3h-1.3zM123.29,583.03h1.3v1.3h-1.3zM123.48,583.06h1.3v1.3h-1.3zM123.49,580.91h1.3v1.3h-1.3zM123.75,581.32h1.3v1.3h-1.3zM124.18,581.07h1.3v1.3h-1.3zM124.13,582.56h1.3v1.3h-1.3zM124.42,581.8h1.3v1.3h-1.3zM125.14,582.25h1.3v1.3h-1.3zM124.96,580.7h1.3v1.3h-1.3zM125.17,580.28h1.3v1.3h-1.3zM125.57,581.45h1.3v1.3h-1.3zM126.04,579.83h1.3v1.3h-1.3zM125.93,581.23h1.3v1.3h-1.3zM126.16,580.69h1.3v1.3h-1.3zM126.53,582.33h1.3v1.3h-1.3zM127.03,581.75h1.3v1.3h-1.3zM127.17,582.48h1.3v1.3h-1.3zM127.57,581.75h1.3v1.3h-1.3zM127.66,580.69h1.3v1.3h-1.3zM128.21,582.94h1.3v1.3h-1.3zM127.97,581.13h1.3v1.3h-1.3zM128.44,581.18h1.3v1.3h-1.3zM128.44,581.11h1.3v1.3h-1.3zM129.26,582.18h1.3v1.3h-1.3zM129.21,581.47h1.3v1.3h-1.3zM129.56,581.66h1.3v1.3h-1.3zM129.89,582.15h1.3v1.3h-1.3zM130.16,581.42h1.3v1.3h-1.3zM130.19,581.99h1.3v1.3h-1.3zM130.26,582.16h1.3v1.3h-1.3zM130.64,581.79h1.3v1.3h-1.3zM131.18,582.2h1.3v1.3h-1.3zM131.02,582.26h1.3v1.3h-1.3zM131.33,580.06h1.3v1.3h-1.3zM131.59,581.56h1.3v1.3h-1.3zM131.85,582.05h1.3v1.3h-1.3zM132.2,580.92h1.3v1.3h-1.3zM132.33,582.11h1.3v1.3h-1.3zM132.58,584.68h1.3v1.3h-1.3zM132.92,581.9h1.3v1.3h-1.3zM133.56,579.94h1.3v1.3h-1.3zM133.56,583.37h1.3v1.3h-1.3zM133.7,581.71h1.3v1.3h-1.3zM134.07,581.75h1.3v1.3h-1.3zM134.12,580.52h1.3v1.3h-1.3zM134.41,582.59h1.3v1.3h-1.3zM135.04,582.03h1.3v1.3h-1.3zM135.01,582.18h1.3v1.3h-1.3zM135.35,582.95h1.3v1.3h-1.3zM135.91,583.37h1.3v1.3h-1.3zM135.77,583.8h1.3v1.3h-1.3zM135.93,582.21h1.3v1.3h-1.3zM136.2,581.34h1.3v1.3h-1.3zM136.59,583.14h1.3v1.3h-1.3zM136.94,580.5h1.3v1.3h-1.3zM136.86,582.43h1.3v1.3h-1.3zM137.65,580.97h1.3v1.3h-1.3zM137.94,581.44h1.3v1.3h-1.3zM138.11,584.09h1.3v1.3h-1.3zM138.03,581.74h1.3v1.3h-1.3zM138.34,583.13h1.3v1.3h-1.3zM138.61,582.97h1.3v1.3h-1.3zM139.19,582.9h1.3v1.3h-1.3zM139.14,581.08h1.3v1.3h-1.3zM139.61,580.9h1.3v1.3h-1.3zM139.55,584.07h1.3v1.3h-1.3zM140.26,581.64h1.3v1.3h-1.3zM140.36,582.59h1.3v1.3h-1.3zM140.33,580.72h1.3v1.3h-1.3zM140.82,581.17h1.3v1.3h-1.3zM140.77,583.9h1.3v1.3h-1.3zM141.27,581.65h1.3v1.3h-1.3zM141.4,584.22h1.3v1.3h-1.3zM141.96,583.84h1.3v1.3h-1.3zM141.79,580.99h1.3v1.3h-1.3zM142.53,582.64h1.3v1.3h-1.3zM142.61,581.21h1.3v1.3h-1.3zM142.5,583.59h1.3v1.3h-1.3zM143,581.83h1.3v1.3h-1.3zM143.19,583.13h1.3v1.3h-1.3zM143.76,581.08h1.3v1.3h-1.3zM143.63,582.4h1.3v1.3h-1.3zM143.81,583.47h1.3v1.3h-1.3zM144.2,584.61h1.3v1.3h-1.3zM144.4,583.16h1.3v1.3h-1.3zM144.56,584.39h1.3v1.3h-1.3zM144.89,583.59h1.3v1.3h-1.3zM145.31,581.46h1.3v1.3h-1.3zM145.86,583.99h1.3v1.3h-1.3zM145.73,581.54h1.3v1.3h-1.3zM146.08,581.42h1.3v1.3h-1.3zM146.59,582.92h1.3v1.3h-1.3zM146.83,582.17h1.3v1.3h-1.3zM146.91,584.09h1.3v1.3h-1.3zM147.32,583.89h1.3v1.3h-1.3zM147.39,582.05h1.3v1.3h-1.3zM147.86,583.21h1.3v1.3h-1.3zM147.99,583.37h1.3v1.3h-1.3zM148.06,584.06h1.3v1.3h-1.3zM148.67,582.99h1.3v1.3h-1.3zM148.9,582.7h1.3v1.3h-1.3zM148.63,582.31h1.3v1.3h-1.3zM149.29,582.65h1.3v1.3h-1.3zM149.38,584.26h1.3v1.3h-1.3zM149.87,583.93h1.3v1.3h-1.3zM150.1,582.84h1.3v1.3h-1.3zM150.33,583.86h1.3v1.3h-1.3zM150.62,583.72h1.3v1.3h-1.3zM150.99,585.37h1.3v1.3h-1.3zM150.91,582.21h1.3v1.3h-1.3zM151.47,584.45h1.3v1.3h-1.3zM151.29,583.11h1.3v1.3h-1.3zM151.86,584.27h1.3v1.3h-1.3zM151.79,582.31h1.3v1.3h-1.3zM152.33,583.12h1.3v1.3h-1.3zM152.27,587.81h1.3v1.3h-1.3zM152.78,582.29h1.3v1.3h-1.3zM153.17,584.41h1.3v1.3h-1.3zM153.28,585.54h1.3v1.3h-1.3zM153.66,584.2h1.3v1.3h-1.3zM154.02,582.88h1.3v1.3h-1.3zM153.84,584.77h1.3v1.3h-1.3zM154.51,583.79h1.3v1.3h-1.3zM154.77,584.78h1.3v1.3h-1.3zM155.05,583.32h1.3v1.3h-1.3zM155.08,584.55h1.3v1.3h-1.3zM155.48,584.8h1.3v1.3h-1.3zM155.51,583.09h1.3v1.3h-1.3zM155.67,583.27h1.3v1.3h-1.3zM156.02,582.63h1.3v1.3h-1.3zM156.08,583.68h1.3v1.3h-1.3zM156.28,582.94h1.3v1.3h-1.3zM156.98,585.15h1.3v1.3h-1.3zM156.93,583.79h1.3v1.3h-1.3zM157.15,585.06h1.3v1.3h-1.3zM157.66,584.43h1.3v1.3h-1.3zM157.9,583.51h1.3v1.3h-1.3zM158.24,583.9h1.3v1.3h-1.3zM158.49,582.35h1.3v1.3h-1.3zM158.48,585.15h1.3v1.3h-1.3zM158.61,582.04h1.3v1.3h-1.3zM159.4,583.59h1.3v1.3h-1.3zM159.13,584.16h1.3v1.3h-1.3zM159.82,583.79h1.3v1.3h-1.3zM159.87,583.55h1.3v1.3h-1.3zM160.24,584.97h1.3v1.3h-1.3zM160.57,584.07h1.3v1.3h-1.3zM160.51,584.29h1.3v1.3h-1.3zM160.87,584.68h1.3v1.3h-1.3zM161.25,583.94h1.3v1.3h-1.3zM161.26,584.72h1.3v1.3h-1.3zM161.44,584.48h1.3v1.3h-1.3zM161.94,585.01h1.3v1.3h-1.3zM162.01,583.14h1.3v1.3h-1.3zM162.74,584.36h1.3v1.3h-1.3zM162.7,585.3h1.3v1.3h-1.3zM162.78,583.88h1.3v1.3h-1.3zM163.28,584.65h1.3v1.3h-1.3zM163.22,584.78h1.3v1.3h-1.3zM163.85,585.31h1.3v1.3h-1.3zM163.9,584.12h1.3v1.3h-1.3zM164.2,583.43h1.3v1.3h-1.3zM164.43,585.59h1.3v1.3h-1.3zM164.54,585.24h1.3v1.3h-1.3zM164.71,583.42h1.3v1.3h-1.3zM165.47,584.29h1.3v1.3h-1.3zM165.6,583.51h1.3v1.3h-1.3zM166.03,583.59h1.3v1.3h-1.3zM165.91,585.09h1.3v1.3h-1.3zM166.32,583.64h1.3v1.3h-1.3zM166.81,583.12h1.3v1.3h-1.3zM166.59,583.23h1.3v1.3h-1.3zM167.23,586h1.3v1.3h-1.3zM167.36,584.16h1.3v1.3h-1.3zM167.83,583.76h1.3v1.3h-1.3zM167.85,584.08h1.3v1.3h-1.3zM167.85,584.98h1.3v1.3h-1.3zM168.57,584.71h1.3v1.3h-1.3zM168.48,584.43h1.3v1.3h-1.3zM168.83,583.72h1.3v1.3h-1.3zM169.34,584.71h1.3v1.3h-1.3zM169.26,582.44h1.3v1.3h-1.3zM169.69,584.25h1.3v1.3h-1.3zM169.85,584.24h1.3v1.3h-1.3zM170.19,585.6h1.3v1.3h-1.3zM170.55,584.69h1.3v1.3h-1.3zM170.56,585.73h1.3v1.3h-1.3zM170.8,585.85h1.3v1.3h-1.3zM171.01,584.15h1.3v1.3h-1.3zM171.3,585.07h1.3v1.3h-1.3zM171.77,584.29h1.3v1.3h-1.3zM171.62,584.96h1.3v1.3h-1.3zM172.35,585.18h1.3v1.3h-1.3zM172.21,584.92h1.3v1.3h-1.3zM172.53,585.23h1.3v1.3h-1.3zM173.07,584.49h1.3v1.3h-1.3zM173.46,582.75h1.3v1.3h-1.3zM173.47,585.31h1.3v1.3h-1.3zM173.95,584.74h1.3v1.3h-1.3zM173.91,585.54h1.3v1.3h-1.3zM174.42,586.52h1.3v1.3h-1.3zM174.4,586.68h1.3v1.3h-1.3zM174.87,586.12h1.3v1.3h-1.3zM175.03,585.29h1.3v1.3h-1.3zM174.97,584.99h1.3v1.3h-1.3zM175.26,586.6h1.3v1.3h-1.3zM175.82,585.27h1.3v1.3h-1.3zM175.77,585.4h1.3v1.3h-1.3zM176.32,585.63h1.3v1.3h-1.3zM176.61,586.04h1.3v1.3h-1.3zM177.05,584.96h1.3v1.3h-1.3zM176.98,584.57h1.3v1.3h-1.3zM177.12,585.67h1.3v1.3h-1.3zM177.82,586.77h1.3v1.3h-1.3zM177.59,585.18h1.3v1.3h-1.3zM177.85,585.78h1.3v1.3h-1.3zM178.44,586.03h1.3v1.3h-1.3zM178.29,583.81h1.3v1.3h-1.3zM178.53,585.03h1.3v1.3h-1.3zM179.03,585.67h1.3v1.3h-1.3zM179.29,584.09h1.3v1.3h-1.3zM179.8,584.65h1.3v1.3h-1.3zM179.77,584.87h1.3v1.3h-1.3zM180.35,586.83h1.3v1.3h-1.3zM180.38,583.73h1.3v1.3h-1.3zM180.38,585.92h1.3v1.3h-1.3zM180.97,586.37h1.3v1.3h-1.3zM180.81,586.08h1.3v1.3h-1.3zM181.37,583.87h1.3v1.3h-1.3zM181.32,585.87h1.3v1.3h-1.3zM181.98,584.59h1.3v1.3h-1.3zM182.17,585.46h1.3v1.3h-1.3zM182.66,584.61h1.3v1.3h-1.3zM182.92,586.89h1.3v1.3h-1.3zM182.79,585.07h1.3v1.3h-1.3zM183.08,585.43h1.3v1.3h-1.3zM183.58,587.86h1.3v1.3h-1.3zM183.84,587.06h1.3v1.3h-1.3zM184.03,583h1.3v1.3h-1.3zM184.07,585.82h1.3v1.3h-1.3zM184.5,585.02h1.3v1.3h-1.3zM184.48,586.55h1.3v1.3h-1.3zM184.81,584.94h1.3v1.3h-1.3zM185.45,587.87h1.3v1.3h-1.3zM185.61,587.04h1.3v1.3h-1.3zM185.5,586h1.3v1.3h-1.3zM186.21,584.63h1.3v1.3h-1.3zM186.27,583.87h1.3v1.3h-1.3zM186.23,587h1.3v1.3h-1.3zM186.9,586.64h1.3v1.3h-1.3zM186.76,586.51h1.3v1.3h-1.3zM187.47,584.54h1.3v1.3h-1.3zM187.35,586.64h1.3v1.3h-1.3zM187.89,585.82h1.3v1.3h-1.3zM188.01,585.75h1.3v1.3h-1.3zM188.4,586.45h1.3v1.3h-1.3zM188.39,587.58h1.3v1.3h-1.3zM188.7,588.27h1.3v1.3h-1.3zM189.33,585.04h1.3v1.3h-1.3zM189.24,584.58h1.3v1.3h-1.3zM189.7,585.45h1.3v1.3h-1.3zM189.77,586.93h1.3v1.3h-1.3zM190.32,585.52h1.3v1.3h-1.3zM190.29,587.53h1.3v1.3h-1.3zM190.35,587.46h1.3v1.3h-1.3zM190.93,589.17h1.3v1.3h-1.3zM191.1,587.36h1.3v1.3h-1.3zM191.48,587.36h1.3v1.3h-1.3zM191.51,587.46h1.3v1.3h-1.3zM191.69,586.54h1.3v1.3h-1.3zM192.09,586.22h1.3v1.3h-1.3zM192.11,587.74h1.3v1.3h-1.3zM192.33,584.81h1.3v1.3h-1.3zM192.84,584.97h1.3v1.3h-1.3zM193.26,586.86h1.3v1.3h-1.3zM193.28,587.16h1.3v1.3h-1.3zM193.41,586.33h1.3v1.3h-1.3zM194.08,587.08h1.3v1.3h-1.3zM194.14,587.08h1.3v1.3h-1.3zM194.3,587.85h1.3v1.3h-1.3zM194.64,588.66h1.3v1.3h-1.3zM195.08,586.7h1.3v1.3h-1.3zM195,588.94h1.3v1.3h-1.3zM195.66,584.73h1.3v1.3h-1.3zM195.84,585.07h1.3v1.3h-1.3zM196.01,584.96h1.3v1.3h-1.3zM196.15,586.55h1.3v1.3h-1.3zM196.2,588.58h1.3v1.3h-1.3zM196.81,586.17h1.3v1.3h-1.3zM197.1,587.3h1.3v1.3h-1.3zM197.4,588.35h1.3v1.3h-1.3zM197.74,587.84h1.3v1.3h-1.3zM197.83,587.12h1.3v1.3h-1.3zM198.01,586.96h1.3v1.3h-1.3zM198.01,587.88h1.3v1.3h-1.3zM198.47,586.82h1.3v1.3h-1.3zM198.66,587.72h1.3v1.3h-1.3zM199.03,587.86h1.3v1.3h-1.3zM199.05,586.5h1.3v1.3h-1.3zM199.74,586.2h1.3v1.3h-1.3zM200.05,589.81h1.3v1.3h-1.3zM199.81,585.69h1.3v1.3h-1.3zM200.21,586.68h1.3v1.3h-1.3zM200.56,587.89h1.3v1.3h-1.3zM200.61,588.22h1.3v1.3h-1.3zM200.82,587.71h1.3v1.3h-1.3zM201.34,589.41h1.3v1.3h-1.3zM201.82,587.67h1.3v1.3h-1.3zM202.08,587.19h1.3v1.3h-1.3zM202.15,586.16h1.3v1.3h-1.3zM202.42,587.56h1.3v1.3h-1.3zM202.49,587.44h1.3v1.3h-1.3zM203.11,587.61h1.3v1.3h-1.3zM202.93,588.5h1.3v1.3h-1.3zM203.05,588.09h1.3v1.3h-1.3zM203.63,588.49h1.3v1.3h-1.3zM203.63,589.33h1.3v1.3h-1.3zM204.31,587.46h1.3v1.3h-1.3zM204.62,586.89h1.3v1.3h-1.3zM204.92,587.54h1.3v1.3h-1.3zM204.58,586.82h1.3v1.3h-1.3zM204.86,585.9h1.3v1.3h-1.3zM205.28,589.45h1.3v1.3h-1.3zM205.68,589.33h1.3v1.3h-1.3zM206.14,588.36h1.3v1.3h-1.3zM206.21,588.39h1.3v1.3h-1.3zM206.23,588.19h1.3v1.3h-1.3zM206.47,588.58h1.3v1.3h-1.3zM207.18,587.96h1.3v1.3h-1.3zM207.04,589.26h1.3v1.3h-1.3zM207.33,587.58h1.3v1.3h-1.3zM207.97,587.13h1.3v1.3h-1.3zM207.68,589.3h1.3v1.3h-1.3zM208.4,588.92h1.3v1.3h-1.3zM208.6,588.4h1.3v1.3h-1.3zM208.57,589.04h1.3v1.3h-1.3zM209.06,589.25h1.3v1.3h-1.3zM209.49,591.68h1.3v1.3h-1.3zM209.55,588.4h1.3v1.3h-1.3zM209.82,589.39h1.3v1.3h-1.3zM210.02,589.91h1.3v1.3h-1.3zM210.16,589.19h1.3v1.3h-1.3zM210.28,588.13h1.3v1.3h-1.3zM210.55,589.38h1.3v1.3h-1.3zM211.19,589.69h1.3v1.3h-1.3zM211.06,587.32h1.3v1.3h-1.3zM211.56,588.62h1.3v1.3h-1.3zM211.72,588.49h1.3v1.3h-1.3zM211.77,588.62h1.3v1.3h-1.3zM212.24,588.83h1.3v1.3h-1.3zM212.39,590.38h1.3v1.3h-1.3zM212.99,588.74h1.3v1.3h-1.3zM213.04,589.17h1.3v1.3h-1.3zM213.24,587.88h1.3v1.3h-1.3zM213.4,590.23h1.3v1.3h-1.3zM213.92,589.34h1.3v1.3h-1.3zM214.08,587.85h1.3v1.3h-1.3zM214.59,588.31h1.3v1.3h-1.3zM214.33,588.44h1.3v1.3h-1.3zM214.59,588.63h1.3v1.3h-1.3zM215.19,589.23h1.3v1.3h-1.3zM215.31,588.44h1.3v1.3h-1.3zM215.87,590h1.3v1.3h-1.3zM215.71,589.38h1.3v1.3h-1.3zM216.02,589.62h1.3v1.3h-1.3zM216.62,588.64h1.3v1.3h-1.3zM216.43,587.93h1.3v1.3h-1.3zM216.62,590.36h1.3v1.3h-1.3zM217.23,590.33h1.3v1.3h-1.3zM217.19,588.75h1.3v1.3h-1.3zM217.66,588.76h1.3v1.3h-1.3zM217.81,590.34h1.3v1.3h-1.3zM218.3,590.03h1.3v1.3h-1.3zM218.43,589.79h1.3v1.3h-1.3zM218.64,590.36h1.3v1.3h-1.3zM219.03,590.9h1.3v1.3h-1.3zM218.89,590.27h1.3v1.3h-1.3zM219.28,588.58h1.3v1.3h-1.3zM219.45,589.53h1.3v1.3h-1.3zM220.07,590.05h1.3v1.3h-1.3zM220.07,589.13h1.3v1.3h-1.3zM220.57,589.35h1.3v1.3h-1.3zM220.83,590.19h1.3v1.3h-1.3zM220.94,589.42h1.3v1.3h-1.3zM221.26,589.54h1.3v1.3h-1.3zM221.78,589.64h1.3v1.3h-1.3zM221.75,589.03h1.3v1.3h-1.3zM221.99,589.78h1.3v1.3h-1.3zM222.25,590.68h1.3v1.3h-1.3zM222.7,588.69h1.3v1.3h-1.3zM222.95,591.56h1.3v1.3h-1.3zM223.01,590.05h1.3v1.3h-1.3zM223.05,590.24h1.3v1.3h-1.3zM223.64,588.93h1.3v1.3h-1.3zM224.07,588.13h1.3v1.3h-1.3zM223.77,589h1.3v1.3h-1.3zM224.07,587.65h1.3v1.3h-1.3zM224.45,590.67h1.3v1.3h-1.3zM224.94,589.87h1.3v1.3h-1.3zM224.97,589.13h1.3v1.3h-1.3zM225.45,588.57h1.3v1.3h-1.3zM225.44,590.54h1.3v1.3h-1.3zM225.54,589.35h1.3v1.3h-1.3zM225.84,589.21h1.3v1.3h-1.3zM226.43,587.55h1.3v1.3h-1.3zM226.39,590.65h1.3v1.3h-1.3zM226.62,588.41h1.3v1.3h-1.3zM227.04,589.53h1.3v1.3h-1.3zM227.09,589.51h1.3v1.3h-1.3zM227.53,591.97h1.3v1.3h-1.3zM227.77,587.24h1.3v1.3h-1.3zM228.38,590.08h1.3v1.3h-1.3zM228.44,587.7h1.3v1.3h-1.3zM228.93,588.16h1.3v1.3h-1.3zM228.94,587.77h1.3v1.3h-1.3zM228.97,588.55h1.3v1.3h-1.3zM229.31,589.58h1.3v1.3h-1.3zM229.59,588.4h1.3v1.3h-1.3zM229.76,589.65h1.3v1.3h-1.3zM230.04,588.57h1.3v1.3h-1.3zM230.38,589.74h1.3v1.3h-1.3zM230.79,590.26h1.3v1.3h-1.3zM230.81,590.91h1.3v1.3h-1.3zM231.36,589.29h1.3v1.3h-1.3zM231.47,588.13h1.3v1.3h-1.3zM231.56,590.87h1.3v1.3h-1.3zM231.89,589.28h1.3v1.3h-1.3zM232.1,588.54h1.3v1.3h-1.3zM232.67,590.74h1.3v1.3h-1.3zM232.72,589.76h1.3v1.3h-1.3zM232.96,589.16h1.3v1.3h-1.3zM233.16,589.53h1.3v1.3h-1.3zM233.65,590.75h1.3v1.3h-1.3zM233.9,590.07h1.3v1.3h-1.3zM234.18,590.59h1.3v1.3h-1.3zM234.36,589.26h1.3v1.3h-1.3zM234.64,588.63h1.3v1.3h-1.3zM234.64,590.79h1.3v1.3h-1.3zM234.75,590.27h1.3v1.3h-1.3zM235.57,588.46h1.3v1.3h-1.3zM235.82,589.71h1.3v1.3h-1.3zM235.98,590.06h1.3v1.3h-1.3zM235.82,590.85h1.3v1.3h-1.3zM236.49,589.87h1.3v1.3h-1.3zM236.49,588.82h1.3v1.3h-1.3zM236.68,588.41h1.3v1.3h-1.3zM237.31,590.12h1.3v1.3h-1.3zM237.54,590.72h1.3v1.3h-1.3zM237.54,589.21h1.3v1.3h-1.3zM237.73,590.64h1.3v1.3h-1.3zM237.89,589.92h1.3v1.3h-1.3zM238.22,591.76h1.3v1.3h-1.3zM238.51,589.12h1.3v1.3h-1.3zM239.08,590.87h1.3v1.3h-1.3zM238.94,589.39h1.3v1.3h-1.3zM239.54,589.71h1.3v1.3h-1.3zM239.87,590.43h1.3v1.3h-1.3zM239.85,589.01h1.3v1.3h-1.3zM240,590.9h1.3v1.3h-1.3zM240.11,589.35h1.3v1.3h-1.3zM240.36,590.73h1.3v1.3h-1.3zM240.83,590.18h1.3v1.3h-1.3zM241.27,589.23h1.3v1.3h-1.3zM241.5,590.21h1.3v1.3h-1.3zM241.78,590.33h1.3v1.3h-1.3zM242,589.97h1.3v1.3h-1.3zM242.4,590.81h1.3v1.3h-1.3zM242.69,590.31h1.3v1.3h-1.3zM242.74,591.5h1.3v1.3h-1.3zM242.85,591.05h1.3v1.3h-1.3zM243.3,590.4h1.3v1.3h-1.3zM243.53,589.7h1.3v1.3h-1.3zM243.55,590.18h1.3v1.3h-1.3zM243.86,589.4h1.3v1.3h-1.3zM244.47,590.71h1.3v1.3h-1.3zM244.26,590.98h1.3v1.3h-1.3zM244.96,590.19h1.3v1.3h-1.3zM244.85,589.43h1.3v1.3h-1.3zM244.98,589.76h1.3v1.3h-1.3zM245.69,590.57h1.3v1.3h-1.3zM245.93,589.55h1.3v1.3h-1.3zM246.01,590.63h1.3v1.3h-1.3zM246.21,590.27h1.3v1.3h-1.3zM246.37,589.08h1.3v1.3h-1.3zM246.99,589.09h1.3v1.3h-1.3zM247.07,588.97h1.3v1.3h-1.3zM247.06,591.5h1.3v1.3h-1.3zM247.41,590.36h1.3v1.3h-1.3zM248.11,589.28h1.3v1.3h-1.3zM247.82,589.69h1.3v1.3h-1.3zM248.02,590.53h1.3v1.3h-1.3zM248.33,591.19h1.3v1.3h-1.3zM248.79,590.91h1.3v1.3h-1.3zM249.09,590.02h1.3v1.3h-1.3zM249.35,591.91h1.3v1.3h-1.3zM249.89,590.99h1.3v1.3h-1.3zM249.85,591.47h1.3v1.3h-1.3zM250.03,590.87h1.3v1.3h-1.3zM250.59,589.91h1.3v1.3h-1.3zM250.54,589.74h1.3v1.3h-1.3zM250.92,591.64h1.3v1.3h-1.3zM251,592.62h1.3v1.3h-1.3zM251.31,591.74h1.3v1.3h-1.3zM251.41,589.8h1.3v1.3h-1.3zM251.8,589.47h1.3v1.3h-1.3zM252.05,591.01h1.3v1.3h-1.3zM252.36,589.76h1.3v1.3h-1.3zM252.94,589.87h1.3v1.3h-1.3zM252.72,591.3h1.3v1.3h-1.3zM253.28,589.98h1.3v1.3h-1.3zM253.38,589.61h1.3v1.3h-1.3zM253.53,590.83h1.3v1.3h-1.3zM254.14,589.49h1.3v1.3h-1.3zM254.13,590.55h1.3v1.3h-1.3zM254.29,590.34h1.3v1.3h-1.3zM254.99,589.97h1.3v1.3h-1.3zM254.97,589.23h1.3v1.3h-1.3zM255.21,590.8h1.3v1.3h-1.3zM255.57,591.2h1.3v1.3h-1.3zM255.85,590.54h1.3v1.3h-1.3zM255.77,592.07h1.3v1.3h-1.3zM256.31,591.2h1.3v1.3h-1.3zM256.39,591.7h1.3v1.3h-1.3zM256.79,591.42h1.3v1.3h-1.3zM257.08,591.52h1.3v1.3h-1.3zM257.05,590.13h1.3v1.3h-1.3zM257.55,592.09h1.3v1.3h-1.3zM257.85,590.94h1.3v1.3h-1.3zM257.87,589.42h1.3v1.3h-1.3zM258.25,591.33h1.3v1.3h-1.3zM258.7,589.58h1.3v1.3h-1.3zM258.72,588.22h1.3v1.3h-1.3zM259.25,591.58h1.3v1.3h-1.3zM259.4,591.82h1.3v1.3h-1.3zM259.29,591.61h1.3v1.3h-1.3zM260.08,592.35h1.3v1.3h-1.3zM259.94,590.49h1.3v1.3h-1.3zM260.54,591.61h1.3v1.3h-1.3zM260.6,592.47h1.3v1.3h-1.3zM260.55,591.63h1.3v1.3h-1.3zM261.3,590.12h1.3v1.3h-1.3zM261.47,588.87h1.3v1.3h-1.3zM261.43,590.42h1.3v1.3h-1.3zM262.11,590.72h1.3v1.3h-1.3zM262.02,591.04h1.3v1.3h-1.3zM262.12,592.12h1.3v1.3h-1.3zM262.41,591.48h1.3v1.3h-1.3zM262.69,590.67h1.3v1.3h-1.3zM263.4,591.67h1.3v1.3h-1.3zM263.64,592.97h1.3v1.3h-1.3zM263.62,588.7h1.3v1.3h-1.3zM264.09,590.48h1.3v1.3h-1.3zM264.35,593.17h1.3v1.3h-1.3zM264.56,591h1.3v1.3h-1.3zM264.93,591.39h1.3v1.3h-1.3zM264.97,589.45h1.3v1.3h-1.3zM264.98,589.68h1.3v1.3h-1.3zM265.56,589.27h1.3v1.3h-1.3zM265.67,591.39h1.3v1.3h-1.3zM265.77,591.79h1.3v1.3h-1.3zM266.36,590.8h1.3v1.3h-1.3zM266.67,591.05h1.3v1.3h-1.3zM266.66,592.58h1.3v1.3h-1.3zM266.81,591.55h1.3v1.3h-1.3zM267.15,593.49h1.3v1.3h-1.3zM267.5,590.84h1.3v1.3h-1.3zM267.9,591.08h1.3v1.3h-1.3zM268.15,591.76h1.3v1.3h-1.3zM268.08,590.44h1.3v1.3h-1.3zM268.42,590.95h1.3v1.3h-1.3zM268.71,589.66h1.3v1.3h-1.3zM269.04,592.4h1.3v1.3h-1.3zM269.26,592.99h1.3v1.3h-1.3zM269.54,591.3h1.3v1.3h-1.3zM269.92,590.52h1.3v1.3h-1.3zM269.96,591.34h1.3v1.3h-1.3zM270.17,590.77h1.3v1.3h-1.3zM270.64,590.23h1.3v1.3h-1.3zM270.86,591.31h1.3v1.3h-1.3zM270.9,591.16h1.3v1.3h-1.3zM271.5,591.25h1.3v1.3h-1.3zM271.43,591.85h1.3v1.3h-1.3zM271.9,590.14h1.3v1.3h-1.3zM272.17,592.48h1.3v1.3h-1.3zM272.22,592.49h1.3v1.3h-1.3zM272.82,591.62h1.3v1.3h-1.3zM273.05,589.82h1.3v1.3h-1.3zM273.07,590.15h1.3v1.3h-1.3zM273.18,589.12h1.3v1.3h-1.3zM273.38,590.3h1.3v1.3h-1.3zM273.67,591.96h1.3v1.3h-1.3zM273.97,592h1.3v1.3h-1.3zM274.18,590.61h1.3v1.3h-1.3zM274.46,590.79h1.3v1.3h-1.3zM274.89,591.07h1.3v1.3h-1.3zM275.18,590.28h1.3v1.3h-1.3zM275.61,591.83h1.3v1.3h-1.3zM275.38,592h1.3v1.3h-1.3zM275.65,591.13h1.3v1.3h-1.3zM276.34,590.3h1.3v1.3h-1.3zM276.26,590.9h1.3v1.3h-1.3zM276.86,590.88h1.3v1.3h-1.3zM276.78,592.96h1.3v1.3h-1.3zM277.24,590.89h1.3v1.3h-1.3zM277.44,590.7h1.3v1.3h-1.3zM277.45,590.53h1.3v1.3h-1.3zM277.76,590.29h1.3v1.3h-1.3zM278.25,591.46h1.3v1.3h-1.3zM278.68,591.06h1.3v1.3h-1.3zM278.96,592.24h1.3v1.3h-1.3zM278.74,591.77h1.3v1.3h-1.3zM279.1,592.54h1.3v1.3h-1.3zM279.35,592.16h1.3v1.3h-1.3zM279.64,590.63h1.3v1.3h-1.3zM280.19,591.81h1.3v1.3h-1.3zM280.4,592.13h1.3v1.3h-1.3zM280.23,592.07h1.3v1.3h-1.3zM280.68,592.81h1.3v1.3h-1.3zM281.2,592.59h1.3v1.3h-1.3zM281.59,591.7h1.3v1.3h-1.3zM281.7,591.91h1.3v1.3h-1.3zM281.75,592.56h1.3v1.3h-1.3zM281.94,591.24h1.3v1.3h-1.3zM282.06,592.81h1.3v1.3h-1.3zM282.53,591.3h1.3v1.3h-1.3zM282.79,591.91h1.3v1.3h-1.3zM283.06,589.83h1.3v1.3h-1.3zM283.14,589.96h1.3v1.3h-1.3zM283.53,592.89h1.3v1.3h-1.3zM283.94,590.7h1.3v1.3h-1.3zM284.15,591.34h1.3v1.3h-1.3zM284.2,589.88h1.3v1.3h-1.3zM284.36,591.06h1.3v1.3h-1.3zM284.79,593.8h1.3v1.3h-1.3zM284.83,589.9h1.3v1.3h-1.3zM285.46,590.5h1.3v1.3h-1.3zM285.62,590.39h1.3v1.3h-1.3zM285.67,591.33h1.3v1.3h-1.3zM286.28,593.33h1.3v1.3h-1.3zM286.22,590.93h1.3v1.3h-1.3zM286.75,590.71h1.3v1.3h-1.3zM286.63,591.03h1.3v1.3h-1.3zM287.23,592.19h1.3v1.3h-1.3zM287.33,592.91h1.3v1.3h-1.3zM287.55,592.97h1.3v1.3h-1.3zM288.11,591.47h1.3v1.3h-1.3zM288.37,593.09h1.3v1.3h-1.3zM288.22,591.88h1.3v1.3h-1.3zM288.96,591.56h1.3v1.3h-1.3zM288.67,591.79h1.3v1.3h-1.3zM289.02,591.01h1.3v1.3h-1.3zM289.4,590.93h1.3v1.3h-1.3zM289.5,591.97h1.3v1.3h-1.3zM289.99,591.18h1.3v1.3h-1.3zM290.16,594.48h1.3v1.3h-1.3zM290.45,592.37h1.3v1.3h-1.3zM290.64,594.62h1.3v1.3h-1.3zM291.09,592.52h1.3v1.3h-1.3zM291.41,591.17h1.3v1.3h-1.3zM291.38,592.27h1.3v1.3h-1.3zM291.74,592.24h1.3v1.3h-1.3zM292.25,592.38h1.3v1.3h-1.3zM292.44,593.11h1.3v1.3h-1.3zM292.4,592.78h1.3v1.3h-1.3zM292.75,593.09h1.3v1.3h-1.3zM293.31,592.7h1.3v1.3h-1.3zM293.34,591.68h1.3v1.3h-1.3zM293.51,593.19h1.3v1.3h-1.3zM294.06,592.37h1.3v1.3h-1.3zM293.95,590.8h1.3v1.3h-1.3zM294.06,591.35h1.3v1.3h-1.3zM294.83,592.83h1.3v1.3h-1.3zM294.96,592.72h1.3v1.3h-1.3zM294.8,591.82h1.3v1.3h-1.3zM295.33,592.57h1.3v1.3h-1.3zM295.31,592.63h1.3v1.3h-1.3zM295.61,592.8h1.3v1.3h-1.3z" fill="#ff8a1f"/>
<text x="191.5" y="582" font-size="8.5" text-anchor="middle" fill="#222" font-weight="normal">80%</text>
<text x="281.5" y="621.8" font-size="8.5" text-anchor="middle" fill="#222" font-weight="normal">48%</text>
<circle cx="252.8" cy="553.3" r="1.2" fill="url(#gb)"/>
<circle cx="252.8" cy="564.2" r="1.2" fill="url(#go)"/>
<text x="264.7" y="556.2" font-size="8.5" text-anchor="start" fill="#222" font-weight="normal">Control</text>
<text x="264.7" y="567.1" font-size="8.5" text-anchor="start" fill="#222" font-weight="normal">Target</text>
<text x="49" y="655" font-size="8.5" text-anchor="start" fill="#222" font-weight="normal">Encapsulated device</text>
<text x="49" y="665.9" font-size="8.5" text-anchor="start" fill="#222" font-weight="normal">25&#8451;, 30-40%RH</text>
<text x="49" y="676.9" font-size="8.5" text-anchor="start" fill="#222" font-weight="normal">ISOS-L-1</text>
<text x="351.8" y="547.7" font-size="13.0" text-anchor="start" fill="#000" font-weight="bold">k</text>
<rect x="390.5" y="546.4" width="272.8" height="143.2" fill="none" stroke="#2b2b2b" stroke-width="1"/>
<line x1="663.3" y1="547" x2="663.3" y2="689" stroke="#ffffff" stroke-width="1.3"/>
<line x1="663" y1="546.9" x2="663" y2="689.1" stroke="#9c9c9c" stroke-width="1.7"/>
<line x1="390.5" y1="689.6" x2="390.5" y2="693.1" stroke="#2b2b2b" stroke-width="1"/>
<text x="390.5" y="700.6" font-size="8.5" text-anchor="middle" fill="#222" font-weight="normal">0</text>
<line x1="440.1" y1="689.6" x2="440.1" y2="693.1" stroke="#2b2b2b" stroke-width="1"/>
<text x="440.1" y="700.6" font-size="8.5" text-anchor="middle" fill="#222" font-weight="normal">200</text>
<line x1="489.7" y1="689.6" x2="489.7" y2="693.1" stroke="#2b2b2b" stroke-width="1"/>
<text x="489.7" y="700.6" font-size="8.5" text-anchor="middle" fill="#222" font-weight="normal">400</text>
<line x1="539.3" y1="689.6" x2="539.3" y2="693.1" stroke="#2b2b2b" stroke-width="1"/>
<text x="539.3" y="700.6" font-size="8.5" text-anchor="middle" fill="#222" font-weight="normal">600</text>
<line x1="588.9" y1="689.6" x2="588.9" y2="693.1" stroke="#2b2b2b" stroke-width="1"/>
<text x="588.9" y="700.6" font-size="8.5" text-anchor="middle" fill="#222" font-weight="normal">800</text>
<line x1="638.5" y1="689.6" x2="638.5" y2="693.1" stroke="#2b2b2b" stroke-width="1"/>
<text x="638.5" y="700.6" font-size="8.5" text-anchor="middle" fill="#222" font-weight="normal">1000</text>
<line x1="415.3" y1="689.6" x2="415.3" y2="691.6" stroke="#2b2b2b" stroke-width="1"/>
<line x1="464.9" y1="689.6" x2="464.9" y2="691.6" stroke="#2b2b2b" stroke-width="1"/>
<line x1="514.5" y1="689.6" x2="514.5" y2="691.6" stroke="#2b2b2b" stroke-width="1"/>
<line x1="564.1" y1="689.6" x2="564.1" y2="691.6" stroke="#2b2b2b" stroke-width="1"/>
<line x1="613.7" y1="689.6" x2="613.7" y2="691.6" stroke="#2b2b2b" stroke-width="1"/>
<line x1="663.3" y1="689.6" x2="663.3" y2="691.6" stroke="#2b2b2b" stroke-width="1"/>
<line x1="390.5" y1="689.6" x2="387" y2="689.6" stroke="#2b2b2b" stroke-width="1"/>
<text x="385.4" y="692.5" font-size="8.5" text-anchor="end" fill="#222" font-weight="normal">0</text>
<line x1="390.5" y1="661.99" x2="387" y2="661.99" stroke="#2b2b2b" stroke-width="1"/>
<text x="385.4" y="664.89" font-size="8.5" text-anchor="end" fill="#222" font-weight="normal">5</text>
<line x1="390.5" y1="634.37" x2="387" y2="634.37" stroke="#2b2b2b" stroke-width="1"/>
<text x="385.4" y="637.27" font-size="8.5" text-anchor="end" fill="#222" font-weight="normal">10</text>
<line x1="390.5" y1="606.76" x2="387" y2="606.76" stroke="#2b2b2b" stroke-width="1"/>
<text x="385.4" y="609.66" font-size="8.5" text-anchor="end" fill="#222" font-weight="normal">15</text>
<line x1="390.5" y1="579.15" x2="387" y2="579.15" stroke="#2b2b2b" stroke-width="1"/>
<text x="385.4" y="582.05" font-size="8.5" text-anchor="end" fill="#222" font-weight="normal">20</text>
<line x1="390.5" y1="551.54" x2="387" y2="551.54" stroke="#2b2b2b" stroke-width="1"/>
<text x="385.4" y="554.44" font-size="8.5" text-anchor="end" fill="#222" font-weight="normal">25</text>
<line x1="390.5" y1="675.79" x2="388.5" y2="675.79" stroke="#2b2b2b" stroke-width="1"/>
<line x1="390.5" y1="648.18" x2="388.5" y2="648.18" stroke="#2b2b2b" stroke-width="1"/>
<line x1="390.5" y1="620.57" x2="388.5" y2="620.57" stroke="#2b2b2b" stroke-width="1"/>
<line x1="390.5" y1="592.96" x2="388.5" y2="592.96" stroke="#2b2b2b" stroke-width="1"/>
<line x1="390.5" y1="565.34" x2="388.5" y2="565.34" stroke="#2b2b2b" stroke-width="1"/>
<text x="527" y="718.6" font-size="8.5" text-anchor="middle" fill="#222" font-weight="normal">Time (h)</text>
<text x="370" y="618" font-size="8.5" text-anchor="middle" fill="#222" font-weight="normal" transform="rotate(-90 370 618)">PCE (%)</text>
<polygon points="390.5,554.02 396.45,554.3 408.36,554.57 432.16,567.55 473.83,567.28 544.76,565.34 653.63,581.91 653.63,596.54 544.76,580.25 473.83,589.09 432.16,593.51 408.36,557.33 396.45,556.51 390.5,556.23" fill="#2a7abf" fill-opacity="0.18"/>
<polygon points="390.5,552.92 396.45,550.98 408.36,549.33 432.16,556.51 473.83,555.68 544.76,554.85 653.63,561.48 653.63,565.89 544.76,561.48 473.83,562.03 432.16,560.1 408.36,561.48 396.45,554.3 390.5,555.68" fill="#ff8c1a" fill-opacity="0.18"/>
<line x1="390.5" y1="565.34" x2="659.58" y2="565.34" stroke="#ff9a3c" stroke-width="0.9" stroke-dasharray="3.8,1.5,1.4,1.5,1.4,1.5"/>
<line x1="390.5" y1="589.92" x2="659.58" y2="589.92" stroke="#6fa8dc" stroke-width="0.9" stroke-dasharray="3.8,1.5,1.4,1.5,1.4,1.5"/>
<polyline points="390.5,554.3 396.45,552.64 408.36,554.46 432.16,558.05 473.83,558.99 544.76,558.16 653.63,563.69" fill="none" stroke="#ff8412" stroke-width="1.1" stroke-linejoin="round"/>
<circle cx="390.5" cy="554.3" r="2.3" fill="url(#go)"/>
<circle cx="396.45" cy="552.64" r="2.3" fill="url(#go)"/>
<circle cx="408.36" cy="554.46" r="2.3" fill="url(#go)"/>
<circle cx="432.16" cy="558.05" r="2.3" fill="url(#go)"/>
<circle cx="473.83" cy="558.99" r="2.3" fill="url(#go)"/>
<circle cx="544.76" cy="558.16" r="2.3" fill="url(#go)"/>
<circle cx="653.63" cy="563.69" r="2.3" fill="url(#go)"/>
<polyline points="390.5,555.02 396.45,555.24 408.36,555.95 432.16,580.7 473.83,579.15 544.76,573.63 653.63,588.1" fill="none" stroke="#2a7abf" stroke-width="1.1" stroke-linejoin="round"/>
<circle cx="390.5" cy="555.02" r="2.3" fill="url(#gb)"/>
<circle cx="396.45" cy="555.24" r="2.3" fill="url(#gb)"/>
<circle cx="408.36" cy="555.95" r="2.3" fill="url(#gb)"/>
<circle cx="432.16" cy="580.7" r="2.3" fill="url(#gb)"/>
<circle cx="473.83" cy="579.15" r="2.3" fill="url(#gb)"/>
<circle cx="544.76" cy="573.63" r="2.3" fill="url(#gb)"/>
<circle cx="653.63" cy="588.1" r="2.3" fill="url(#gb)"/>
<text x="651.5" y="559" font-size="8.5" text-anchor="middle" fill="#222" font-weight="normal">90%</text>
<text x="651.5" y="580.3" font-size="8.5" text-anchor="middle" fill="#222" font-weight="normal">72%</text>
<line x1="606.2" y1="605" x2="625.4" y2="605" stroke="#ff8412" stroke-width="1"/>
<circle cx="615.8" cy="605" r="2.2" fill="url(#go)"/>
<text x="628.4" y="607.9" font-size="8.5" text-anchor="start" fill="#222" font-weight="normal">Target</text>
<line x1="606.2" y1="615.8" x2="625.4" y2="615.8" stroke="#2a7abf" stroke-width="1"/>
<circle cx="615.8" cy="615.8" r="2.2" fill="url(#gb)"/>
<text x="628.4" y="618.7" font-size="8.5" text-anchor="start" fill="#222" font-weight="normal">Control</text>
<text x="399.9" y="651" font-size="8.5" text-anchor="start" fill="#222" font-weight="normal">Unencapsulation device</text>
<text x="399.9" y="662.9" font-size="8.5" text-anchor="start" fill="#222" font-weight="normal">N<tspan font-size="5.5" dy="1.5">2</tspan><tspan dy="-1.5">, 65 &#8451;</tspan></text>
<text x="399.9" y="674.6" font-size="8.5" text-anchor="start" fill="#222" font-weight="normal">ISOS-D-2</text>
</svg></body></html>
